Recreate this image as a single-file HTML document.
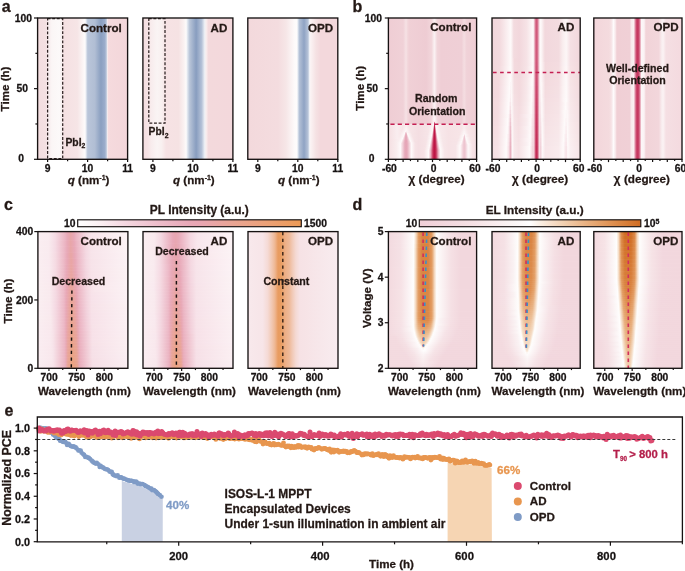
<!DOCTYPE html>
<html><head><meta charset="utf-8"><style>
html,body{margin:0;padding:0;background:#fff;overflow:hidden;}
svg{display:block;will-change:transform;}
text{font-family:"Liberation Sans", sans-serif;font-weight:bold;}
</style></head><body>
<svg width="685" height="571" viewBox="0 0 685 571" shape-rendering="auto">
<defs><linearGradient id="h1" x1="0" x2="1" y1="0" y2="0"><stop offset="0.000" stop-color="#f3dde0"/><stop offset="0.092" stop-color="#f4e0e2"/><stop offset="0.114" stop-color="#f6e9eb"/><stop offset="0.158" stop-color="#fbf6f6"/><stop offset="0.242" stop-color="#fcf9f9"/><stop offset="0.269" stop-color="#f8eff0"/><stop offset="0.286" stop-color="#f6e2e4"/><stop offset="0.292" stop-color="#f5e0e2"/><stop offset="0.442" stop-color="#f6e5e6"/><stop offset="0.525" stop-color="#fdfbfb"/><stop offset="0.531" stop-color="#f5f5f8"/><stop offset="0.536" stop-color="#e9edf3"/><stop offset="0.553" stop-color="#c0cbdd"/><stop offset="0.558" stop-color="#b9c5d9"/><stop offset="0.636" stop-color="#b1bed4"/><stop offset="0.703" stop-color="#8a9fc0"/><stop offset="0.747" stop-color="#9aaccb"/><stop offset="0.764" stop-color="#bac6da"/><stop offset="0.769" stop-color="#d6dae6"/><stop offset="0.775" stop-color="#f4edf0"/><stop offset="0.786" stop-color="#f5dbde"/><stop offset="0.792" stop-color="#f5dadd"/><stop offset="1.000" stop-color="#f3d6da"/></linearGradient><linearGradient id="h2" x1="0" x2="1" y1="0" y2="0"><stop offset="0.000" stop-color="#f4dde0"/><stop offset="0.053" stop-color="#f5e2e4"/><stop offset="0.092" stop-color="#f8eced"/><stop offset="0.158" stop-color="#faf4f4"/><stop offset="0.208" stop-color="#f9f0f0"/><stop offset="0.258" stop-color="#f6e2e4"/><stop offset="0.397" stop-color="#f5e2e3"/><stop offset="0.453" stop-color="#faf1f1"/><stop offset="0.481" stop-color="#fdfbfb"/><stop offset="0.492" stop-color="#e5eaf1"/><stop offset="0.519" stop-color="#b9c5d8"/><stop offset="0.592" stop-color="#889dbf"/><stop offset="0.653" stop-color="#b4c1d7"/><stop offset="0.686" stop-color="#edf0f5"/><stop offset="0.703" stop-color="#f9eeef"/><stop offset="0.725" stop-color="#f4dbde"/><stop offset="0.731" stop-color="#f3d9dc"/><stop offset="1.000" stop-color="#f3d8dc"/></linearGradient><linearGradient id="h3" x1="0" x2="1" y1="0" y2="0"><stop offset="0.000" stop-color="#f3d9dc"/><stop offset="0.336" stop-color="#f4dcdf"/><stop offset="0.425" stop-color="#f6e6e7"/><stop offset="0.519" stop-color="#fdfafa"/><stop offset="0.547" stop-color="#fefcfc"/><stop offset="0.558" stop-color="#d9e1ec"/><stop offset="0.575" stop-color="#b1bfd5"/><stop offset="0.625" stop-color="#8fa3c4"/><stop offset="0.669" stop-color="#b6c3d8"/><stop offset="0.686" stop-color="#f0f2f7"/><stop offset="0.697" stop-color="#fbf3f4"/><stop offset="0.758" stop-color="#f5e1e3"/><stop offset="0.808" stop-color="#f3d8dc"/><stop offset="1.000" stop-color="#f3d8dc"/></linearGradient><linearGradient id="h4" x1="0" x2="1" y1="0" y2="0"><stop offset="0.000" stop-color="#efcdd4"/><stop offset="0.167" stop-color="#f0d1d7"/><stop offset="0.201" stop-color="#f6e2e5"/><stop offset="0.213" stop-color="#f3d9dd"/><stop offset="0.235" stop-color="#f0d0d6"/><stop offset="0.428" stop-color="#eeccd3"/><stop offset="0.490" stop-color="#f2d6db"/><stop offset="0.519" stop-color="#faf0f1"/><stop offset="0.524" stop-color="#faf0f2"/><stop offset="0.553" stop-color="#f1d5da"/><stop offset="0.598" stop-color="#efced5"/><stop offset="0.830" stop-color="#efcfd6"/><stop offset="0.859" stop-color="#f4dde1"/><stop offset="0.887" stop-color="#f0d2d8"/><stop offset="1.000" stop-color="#efcdd4"/></linearGradient><linearGradient id="h5" x1="0" x2="1" y1="0" y2="0"><stop offset="0.000" stop-color="#efcdd4"/><stop offset="0.167" stop-color="#f0d1d7"/><stop offset="0.201" stop-color="#f6e2e5"/><stop offset="0.213" stop-color="#f3d9dd"/><stop offset="0.235" stop-color="#f0d0d6"/><stop offset="0.428" stop-color="#eeccd3"/><stop offset="0.490" stop-color="#f2d6db"/><stop offset="0.519" stop-color="#faf0f1"/><stop offset="0.524" stop-color="#faf0f2"/><stop offset="0.553" stop-color="#f1d5da"/><stop offset="0.598" stop-color="#efced5"/><stop offset="0.830" stop-color="#efcfd6"/><stop offset="0.859" stop-color="#f4dde1"/><stop offset="0.887" stop-color="#f0d2d8"/><stop offset="1.000" stop-color="#efcdd4"/></linearGradient><linearGradient id="h6" x1="0" x2="1" y1="0" y2="0"><stop offset="0.000" stop-color="#efcdd4"/><stop offset="0.167" stop-color="#f0d1d7"/><stop offset="0.201" stop-color="#f6e2e5"/><stop offset="0.213" stop-color="#f3d9dd"/><stop offset="0.235" stop-color="#f0d0d6"/><stop offset="0.428" stop-color="#eeccd3"/><stop offset="0.490" stop-color="#f2d6db"/><stop offset="0.519" stop-color="#faf0f1"/><stop offset="0.524" stop-color="#faf0f2"/><stop offset="0.553" stop-color="#f1d5da"/><stop offset="0.598" stop-color="#efced5"/><stop offset="0.830" stop-color="#efcfd6"/><stop offset="0.859" stop-color="#f4dde1"/><stop offset="0.887" stop-color="#f0d2d8"/><stop offset="1.000" stop-color="#efcdd4"/></linearGradient><linearGradient id="h7" x1="0" x2="1" y1="0" y2="0"><stop offset="0.000" stop-color="#efcdd4"/><stop offset="0.167" stop-color="#f0d1d7"/><stop offset="0.201" stop-color="#f6e2e5"/><stop offset="0.213" stop-color="#f3d9dd"/><stop offset="0.235" stop-color="#f0d0d6"/><stop offset="0.309" stop-color="#eeccd2"/><stop offset="0.434" stop-color="#efcdd3"/><stop offset="0.490" stop-color="#f2d7db"/><stop offset="0.513" stop-color="#faeeef"/><stop offset="0.524" stop-color="#fbf2f3"/><stop offset="0.547" stop-color="#f3dade"/><stop offset="0.558" stop-color="#f1d3d8"/><stop offset="0.598" stop-color="#efced5"/><stop offset="0.830" stop-color="#efcfd6"/><stop offset="0.859" stop-color="#f4dde1"/><stop offset="0.887" stop-color="#f0d2d8"/><stop offset="1.000" stop-color="#efcdd4"/></linearGradient><linearGradient id="h8" x1="0" x2="1" y1="0" y2="0"><stop offset="0.000" stop-color="#efcdd4"/><stop offset="0.167" stop-color="#f0d1d7"/><stop offset="0.201" stop-color="#f6e2e5"/><stop offset="0.213" stop-color="#f3d9dd"/><stop offset="0.235" stop-color="#f0d0d6"/><stop offset="0.309" stop-color="#eeccd2"/><stop offset="0.434" stop-color="#efcdd3"/><stop offset="0.485" stop-color="#f1d4d9"/><stop offset="0.513" stop-color="#faeff1"/><stop offset="0.524" stop-color="#fcf4f5"/><stop offset="0.558" stop-color="#f1d4d9"/><stop offset="0.598" stop-color="#efced5"/><stop offset="0.830" stop-color="#efcfd6"/><stop offset="0.859" stop-color="#f4dde1"/><stop offset="0.887" stop-color="#f0d2d8"/><stop offset="1.000" stop-color="#efcdd4"/></linearGradient><linearGradient id="h9" x1="0" x2="1" y1="0" y2="0"><stop offset="0.000" stop-color="#efcdd4"/><stop offset="0.167" stop-color="#f0d1d7"/><stop offset="0.201" stop-color="#f6e2e5"/><stop offset="0.213" stop-color="#f3d9dd"/><stop offset="0.235" stop-color="#f0d0d6"/><stop offset="0.309" stop-color="#eeccd2"/><stop offset="0.434" stop-color="#efcdd3"/><stop offset="0.485" stop-color="#f1d5da"/><stop offset="0.513" stop-color="#faf0f1"/><stop offset="0.524" stop-color="#fcf4f5"/><stop offset="0.558" stop-color="#f1d5da"/><stop offset="0.598" stop-color="#efced5"/><stop offset="0.830" stop-color="#efcfd6"/><stop offset="0.859" stop-color="#f4dde1"/><stop offset="0.887" stop-color="#f0d2d8"/><stop offset="1.000" stop-color="#efcdd4"/></linearGradient><linearGradient id="h10" x1="0" x2="1" y1="0" y2="0"><stop offset="0.000" stop-color="#efcdd4"/><stop offset="0.167" stop-color="#f0d1d7"/><stop offset="0.201" stop-color="#f6e2e5"/><stop offset="0.213" stop-color="#f3d9dd"/><stop offset="0.235" stop-color="#f0d0d6"/><stop offset="0.309" stop-color="#eeccd2"/><stop offset="0.434" stop-color="#efcdd3"/><stop offset="0.479" stop-color="#f1d3d8"/><stop offset="0.490" stop-color="#f3d9dd"/><stop offset="0.513" stop-color="#fbf1f2"/><stop offset="0.524" stop-color="#fcf5f6"/><stop offset="0.553" stop-color="#f3d9dd"/><stop offset="0.564" stop-color="#f0d2d8"/><stop offset="0.598" stop-color="#efced5"/><stop offset="0.830" stop-color="#efcfd6"/><stop offset="0.859" stop-color="#f4dde1"/><stop offset="0.887" stop-color="#f0d2d8"/><stop offset="1.000" stop-color="#efcdd4"/></linearGradient><linearGradient id="h11" x1="0" x2="1" y1="0" y2="0"><stop offset="0.000" stop-color="#efcdd4"/><stop offset="0.167" stop-color="#f0d1d7"/><stop offset="0.201" stop-color="#f6e2e5"/><stop offset="0.213" stop-color="#f3d9dd"/><stop offset="0.235" stop-color="#f0d0d6"/><stop offset="0.309" stop-color="#eeccd2"/><stop offset="0.434" stop-color="#efcdd3"/><stop offset="0.479" stop-color="#f1d3d9"/><stop offset="0.490" stop-color="#f3dade"/><stop offset="0.513" stop-color="#fbf2f3"/><stop offset="0.524" stop-color="#fcf6f7"/><stop offset="0.536" stop-color="#faeef0"/><stop offset="0.553" stop-color="#f3dade"/><stop offset="0.564" stop-color="#f1d3d9"/><stop offset="0.598" stop-color="#efced5"/><stop offset="0.830" stop-color="#efcfd6"/><stop offset="0.859" stop-color="#f4dde1"/><stop offset="0.887" stop-color="#f0d2d8"/><stop offset="1.000" stop-color="#efcdd4"/></linearGradient><linearGradient id="h12" x1="0" x2="1" y1="0" y2="0"><stop offset="0.000" stop-color="#efcdd4"/><stop offset="0.167" stop-color="#f0d1d7"/><stop offset="0.201" stop-color="#f6e2e5"/><stop offset="0.213" stop-color="#f3d9dd"/><stop offset="0.235" stop-color="#f0d0d6"/><stop offset="0.309" stop-color="#eeccd2"/><stop offset="0.434" stop-color="#efcdd3"/><stop offset="0.479" stop-color="#f1d4d9"/><stop offset="0.519" stop-color="#fcf4f5"/><stop offset="0.524" stop-color="#f7e4e9"/><stop offset="0.530" stop-color="#fbf1f3"/><stop offset="0.564" stop-color="#f1d4d9"/><stop offset="0.598" stop-color="#efced5"/><stop offset="0.830" stop-color="#efcfd6"/><stop offset="0.859" stop-color="#f4dde1"/><stop offset="0.887" stop-color="#f0d2d8"/><stop offset="1.000" stop-color="#efcdd4"/></linearGradient><linearGradient id="h13" x1="0" x2="1" y1="0" y2="0"><stop offset="0.000" stop-color="#efcdd4"/><stop offset="0.167" stop-color="#f0d1d7"/><stop offset="0.201" stop-color="#f6e2e5"/><stop offset="0.213" stop-color="#f3d9dd"/><stop offset="0.235" stop-color="#f0d0d6"/><stop offset="0.309" stop-color="#eeccd2"/><stop offset="0.434" stop-color="#efcdd3"/><stop offset="0.473" stop-color="#f0d2d7"/><stop offset="0.490" stop-color="#f4dde1"/><stop offset="0.519" stop-color="#fefafa"/><stop offset="0.524" stop-color="#d25b7c"/><stop offset="0.530" stop-color="#fbf3f4"/><stop offset="0.564" stop-color="#f1d5da"/><stop offset="0.598" stop-color="#efced5"/><stop offset="0.830" stop-color="#efcfd6"/><stop offset="0.859" stop-color="#f4dde1"/><stop offset="0.887" stop-color="#f0d2d8"/><stop offset="1.000" stop-color="#efcdd4"/></linearGradient><linearGradient id="h14" x1="0" x2="1" y1="0" y2="0"><stop offset="0.000" stop-color="#efcdd4"/><stop offset="0.167" stop-color="#f0d1d7"/><stop offset="0.201" stop-color="#f6e2e5"/><stop offset="0.213" stop-color="#f3d9dd"/><stop offset="0.235" stop-color="#f0d0d6"/><stop offset="0.309" stop-color="#eeccd2"/><stop offset="0.434" stop-color="#efcdd3"/><stop offset="0.473" stop-color="#f1d3d8"/><stop offset="0.513" stop-color="#fbf3f4"/><stop offset="0.519" stop-color="#e7adbd"/><stop offset="0.524" stop-color="#c6325a"/><stop offset="0.530" stop-color="#fcf5f6"/><stop offset="0.558" stop-color="#f3d9dd"/><stop offset="0.575" stop-color="#f0d1d7"/><stop offset="0.598" stop-color="#efced5"/><stop offset="0.830" stop-color="#efcfd6"/><stop offset="0.859" stop-color="#f4dde1"/><stop offset="0.887" stop-color="#f0d2d8"/><stop offset="1.000" stop-color="#efcdd4"/></linearGradient><linearGradient id="h15" x1="0" x2="1" y1="0" y2="0"><stop offset="0.000" stop-color="#f5dfe2"/><stop offset="0.099" stop-color="#f9edef"/><stop offset="0.167" stop-color="#f7e5e7"/><stop offset="0.201" stop-color="#faeff1"/><stop offset="0.230" stop-color="#f7e5e7"/><stop offset="0.343" stop-color="#f4dee2"/><stop offset="0.468" stop-color="#f7e5e8"/><stop offset="0.513" stop-color="#fdf8f9"/><stop offset="0.519" stop-color="#d76f8c"/><stop offset="0.524" stop-color="#c22551"/><stop offset="0.530" stop-color="#f9e9ed"/><stop offset="0.536" stop-color="#fcf6f6"/><stop offset="0.575" stop-color="#f8e9eb"/><stop offset="0.677" stop-color="#f6e2e5"/><stop offset="0.830" stop-color="#f7e5e7"/><stop offset="0.859" stop-color="#faeff1"/><stop offset="0.887" stop-color="#f7e5e8"/><stop offset="1.000" stop-color="#f4dde1"/></linearGradient><linearGradient id="h16" x1="0" x2="1" y1="0" y2="0"><stop offset="0.000" stop-color="#f5dfe2"/><stop offset="0.099" stop-color="#f9edef"/><stop offset="0.167" stop-color="#f7e5e7"/><stop offset="0.201" stop-color="#faeff1"/><stop offset="0.230" stop-color="#f7e5e7"/><stop offset="0.343" stop-color="#f4dee2"/><stop offset="0.468" stop-color="#f7e5e8"/><stop offset="0.507" stop-color="#fcf5f6"/><stop offset="0.513" stop-color="#faeff2"/><stop offset="0.519" stop-color="#ce4f72"/><stop offset="0.524" stop-color="#c0204d"/><stop offset="0.530" stop-color="#ecbfcb"/><stop offset="0.536" stop-color="#fdf7f8"/><stop offset="0.581" stop-color="#f8e8eb"/><stop offset="0.677" stop-color="#f6e2e5"/><stop offset="0.830" stop-color="#f7e5e7"/><stop offset="0.859" stop-color="#faeff1"/><stop offset="0.887" stop-color="#f7e5e8"/><stop offset="1.000" stop-color="#f4dde1"/></linearGradient><linearGradient id="h17" x1="0" x2="1" y1="0" y2="0"><stop offset="0.000" stop-color="#f5dfe2"/><stop offset="0.099" stop-color="#f9edef"/><stop offset="0.167" stop-color="#f7e5e7"/><stop offset="0.201" stop-color="#faf0f1"/><stop offset="0.230" stop-color="#f7e5e7"/><stop offset="0.343" stop-color="#f4dee2"/><stop offset="0.462" stop-color="#f7e5e7"/><stop offset="0.507" stop-color="#fdf7f8"/><stop offset="0.513" stop-color="#f1cfd8"/><stop offset="0.519" stop-color="#c83a60"/><stop offset="0.524" stop-color="#bf1c4a"/><stop offset="0.530" stop-color="#e298ac"/><stop offset="0.536" stop-color="#fefafa"/><stop offset="0.581" stop-color="#f8e8eb"/><stop offset="0.677" stop-color="#f6e2e5"/><stop offset="0.830" stop-color="#f7e5e7"/><stop offset="0.859" stop-color="#faeff1"/><stop offset="0.887" stop-color="#f7e5e8"/><stop offset="1.000" stop-color="#f4dde1"/></linearGradient><linearGradient id="h18" x1="0" x2="1" y1="0" y2="0"><stop offset="0.000" stop-color="#f5dfe2"/><stop offset="0.099" stop-color="#f9edef"/><stop offset="0.162" stop-color="#f7e5e7"/><stop offset="0.201" stop-color="#fbf2f3"/><stop offset="0.235" stop-color="#f7e5e7"/><stop offset="0.343" stop-color="#f4dee2"/><stop offset="0.462" stop-color="#f7e5e8"/><stop offset="0.507" stop-color="#fefafa"/><stop offset="0.513" stop-color="#e8afbe"/><stop offset="0.519" stop-color="#c63059"/><stop offset="0.524" stop-color="#bf1a49"/><stop offset="0.530" stop-color="#d97793"/><stop offset="0.536" stop-color="#f8e9ec"/><stop offset="0.541" stop-color="#fdf7f7"/><stop offset="0.581" stop-color="#f8e9eb"/><stop offset="0.677" stop-color="#f6e2e5"/><stop offset="0.830" stop-color="#f7e5e7"/><stop offset="0.859" stop-color="#faeff1"/><stop offset="0.887" stop-color="#f7e5e8"/><stop offset="1.000" stop-color="#f4dde1"/></linearGradient><linearGradient id="h19" x1="0" x2="1" y1="0" y2="0"><stop offset="0.000" stop-color="#f5dfe2"/><stop offset="0.099" stop-color="#f9edef"/><stop offset="0.162" stop-color="#f7e5e8"/><stop offset="0.201" stop-color="#fcf4f4"/><stop offset="0.241" stop-color="#f7e5e7"/><stop offset="0.343" stop-color="#f4dee2"/><stop offset="0.456" stop-color="#f7e5e7"/><stop offset="0.502" stop-color="#fdf7f7"/><stop offset="0.507" stop-color="#faedf0"/><stop offset="0.513" stop-color="#e092a8"/><stop offset="0.519" stop-color="#c42a55"/><stop offset="0.524" stop-color="#be1948"/><stop offset="0.530" stop-color="#d36181"/><stop offset="0.536" stop-color="#f1d0d9"/><stop offset="0.541" stop-color="#fdf9f9"/><stop offset="0.587" stop-color="#f8e8eb"/><stop offset="0.677" stop-color="#f6e2e5"/><stop offset="0.830" stop-color="#f7e5e7"/><stop offset="0.859" stop-color="#faeff1"/><stop offset="0.887" stop-color="#f7e5e8"/><stop offset="1.000" stop-color="#f4dde1"/></linearGradient><linearGradient id="h20" x1="0" x2="1" y1="0" y2="0"><stop offset="0.000" stop-color="#f5dfe2"/><stop offset="0.099" stop-color="#f9edef"/><stop offset="0.156" stop-color="#f7e5e8"/><stop offset="0.201" stop-color="#fcf5f6"/><stop offset="0.247" stop-color="#f7e5e7"/><stop offset="0.343" stop-color="#f4dee2"/><stop offset="0.456" stop-color="#f7e5e7"/><stop offset="0.502" stop-color="#fdf9f9"/><stop offset="0.507" stop-color="#f3d8df"/><stop offset="0.513" stop-color="#da7894"/><stop offset="0.519" stop-color="#c22652"/><stop offset="0.524" stop-color="#be1847"/><stop offset="0.530" stop-color="#cf5173"/><stop offset="0.536" stop-color="#eab7c5"/><stop offset="0.541" stop-color="#fdf7f8"/><stop offset="0.587" stop-color="#f8e9eb"/><stop offset="0.677" stop-color="#f6e2e5"/><stop offset="0.825" stop-color="#f7e5e7"/><stop offset="0.859" stop-color="#fbf1f2"/><stop offset="0.893" stop-color="#f7e5e7"/><stop offset="1.000" stop-color="#f4dde1"/></linearGradient><linearGradient id="h21" x1="0" x2="1" y1="0" y2="0"><stop offset="0.000" stop-color="#f5dfe2"/><stop offset="0.099" stop-color="#f9edef"/><stop offset="0.150" stop-color="#f7e6e8"/><stop offset="0.201" stop-color="#fdf7f8"/><stop offset="0.247" stop-color="#f7e5e8"/><stop offset="0.343" stop-color="#f4dee2"/><stop offset="0.456" stop-color="#f7e5e8"/><stop offset="0.502" stop-color="#fdf9f9"/><stop offset="0.507" stop-color="#edc2cd"/><stop offset="0.513" stop-color="#d56786"/><stop offset="0.519" stop-color="#c1234f"/><stop offset="0.524" stop-color="#be1847"/><stop offset="0.530" stop-color="#cb4469"/><stop offset="0.536" stop-color="#e4a0b3"/><stop offset="0.541" stop-color="#f8e7eb"/><stop offset="0.547" stop-color="#fdf8f8"/><stop offset="0.592" stop-color="#f8e8eb"/><stop offset="0.677" stop-color="#f6e2e5"/><stop offset="0.825" stop-color="#f7e5e8"/><stop offset="0.859" stop-color="#fbf2f3"/><stop offset="0.899" stop-color="#f7e5e7"/><stop offset="1.000" stop-color="#f4dde1"/></linearGradient><linearGradient id="h22" x1="0" x2="1" y1="0" y2="0"><stop offset="0.000" stop-color="#f5dfe2"/><stop offset="0.099" stop-color="#f9edef"/><stop offset="0.150" stop-color="#f7e7ea"/><stop offset="0.196" stop-color="#fdf8f9"/><stop offset="0.201" stop-color="#f4dce2"/><stop offset="0.207" stop-color="#fdf7f7"/><stop offset="0.252" stop-color="#f7e5e7"/><stop offset="0.343" stop-color="#f4dee2"/><stop offset="0.451" stop-color="#f6e4e7"/><stop offset="0.496" stop-color="#fdf8f8"/><stop offset="0.502" stop-color="#f9eaee"/><stop offset="0.507" stop-color="#e7adbd"/><stop offset="0.513" stop-color="#d1597b"/><stop offset="0.519" stop-color="#c1214e"/><stop offset="0.524" stop-color="#be1747"/><stop offset="0.530" stop-color="#c93a61"/><stop offset="0.536" stop-color="#df8ca3"/><stop offset="0.541" stop-color="#f3d6dd"/><stop offset="0.547" stop-color="#fefafa"/><stop offset="0.592" stop-color="#f8e8eb"/><stop offset="0.677" stop-color="#f6e2e5"/><stop offset="0.819" stop-color="#f7e5e7"/><stop offset="0.859" stop-color="#fcf4f5"/><stop offset="0.904" stop-color="#f7e5e7"/><stop offset="1.000" stop-color="#f4dde1"/></linearGradient><linearGradient id="h23" x1="0" x2="1" y1="0" y2="0"><stop offset="0.000" stop-color="#f5dfe2"/><stop offset="0.099" stop-color="#f9edef"/><stop offset="0.145" stop-color="#f8e8ea"/><stop offset="0.190" stop-color="#fdf9f9"/><stop offset="0.196" stop-color="#efc9d3"/><stop offset="0.201" stop-color="#e7abbb"/><stop offset="0.207" stop-color="#fdf6f7"/><stop offset="0.258" stop-color="#f6e4e7"/><stop offset="0.343" stop-color="#f4dee2"/><stop offset="0.451" stop-color="#f7e5e7"/><stop offset="0.496" stop-color="#fefafa"/><stop offset="0.502" stop-color="#f4dbe1"/><stop offset="0.507" stop-color="#e29aae"/><stop offset="0.513" stop-color="#ce4e71"/><stop offset="0.519" stop-color="#c01f4c"/><stop offset="0.524" stop-color="#be1746"/><stop offset="0.530" stop-color="#c7345c"/><stop offset="0.541" stop-color="#edc4ce"/><stop offset="0.547" stop-color="#fcf3f4"/><stop offset="0.553" stop-color="#fdf7f8"/><stop offset="0.598" stop-color="#f8e8ea"/><stop offset="0.683" stop-color="#f6e2e5"/><stop offset="0.813" stop-color="#f7e5e7"/><stop offset="0.859" stop-color="#fcf5f6"/><stop offset="0.904" stop-color="#f7e5e8"/><stop offset="1.000" stop-color="#f4dde1"/></linearGradient><linearGradient id="h24" x1="0" x2="1" y1="0" y2="0"><stop offset="0.000" stop-color="#f5dfe2"/><stop offset="0.099" stop-color="#f9edef"/><stop offset="0.139" stop-color="#f8e8eb"/><stop offset="0.184" stop-color="#fdf9f9"/><stop offset="0.190" stop-color="#f7e3e8"/><stop offset="0.196" stop-color="#e9b2c1"/><stop offset="0.201" stop-color="#e5a6b7"/><stop offset="0.213" stop-color="#fefbfb"/><stop offset="0.264" stop-color="#f6e4e6"/><stop offset="0.337" stop-color="#f4dee2"/><stop offset="0.445" stop-color="#f6e4e7"/><stop offset="0.490" stop-color="#fdf7f8"/><stop offset="0.496" stop-color="#fcf5f6"/><stop offset="0.502" stop-color="#efcad4"/><stop offset="0.507" stop-color="#de8aa2"/><stop offset="0.513" stop-color="#cc456a"/><stop offset="0.519" stop-color="#c01d4b"/><stop offset="0.524" stop-color="#be1746"/><stop offset="0.530" stop-color="#c63059"/><stop offset="0.536" stop-color="#d76d8b"/><stop offset="0.541" stop-color="#e9b2c1"/><stop offset="0.547" stop-color="#f8e6ea"/><stop offset="0.553" stop-color="#fdf9f9"/><stop offset="0.598" stop-color="#f8e8ea"/><stop offset="0.683" stop-color="#f6e2e5"/><stop offset="0.813" stop-color="#f7e5e8"/><stop offset="0.859" stop-color="#fdf7f8"/><stop offset="0.910" stop-color="#f7e5e7"/><stop offset="1.000" stop-color="#f4dde1"/></linearGradient><linearGradient id="h25" x1="0" x2="1" y1="0" y2="0"><stop offset="0.000" stop-color="#f5dfe2"/><stop offset="0.099" stop-color="#f9edef"/><stop offset="0.133" stop-color="#f8e9eb"/><stop offset="0.179" stop-color="#fdf8f9"/><stop offset="0.184" stop-color="#faedf0"/><stop offset="0.196" stop-color="#e7abbb"/><stop offset="0.201" stop-color="#e5a4b6"/><stop offset="0.207" stop-color="#ebbcc8"/><stop offset="0.213" stop-color="#f6e0e5"/><stop offset="0.218" stop-color="#fefafa"/><stop offset="0.269" stop-color="#f6e3e6"/><stop offset="0.343" stop-color="#f4dee2"/><stop offset="0.445" stop-color="#f6e4e7"/><stop offset="0.490" stop-color="#fdf9f9"/><stop offset="0.496" stop-color="#f8e8ec"/><stop offset="0.502" stop-color="#ebbac7"/><stop offset="0.513" stop-color="#c93d63"/><stop offset="0.519" stop-color="#bf1c4a"/><stop offset="0.524" stop-color="#bd1646"/><stop offset="0.530" stop-color="#c42d57"/><stop offset="0.536" stop-color="#d46282"/><stop offset="0.541" stop-color="#e5a3b5"/><stop offset="0.547" stop-color="#f3d8df"/><stop offset="0.553" stop-color="#fefafa"/><stop offset="0.604" stop-color="#f7e7ea"/><stop offset="0.683" stop-color="#f6e2e5"/><stop offset="0.808" stop-color="#f7e5e7"/><stop offset="0.853" stop-color="#fcf6f7"/><stop offset="0.859" stop-color="#f4d9e0"/><stop offset="0.865" stop-color="#fdf9fa"/><stop offset="0.916" stop-color="#f7e5e7"/><stop offset="1.000" stop-color="#f4dde1"/></linearGradient><linearGradient id="h26" x1="0" x2="1" y1="0" y2="0"><stop offset="0.000" stop-color="#f5dfe2"/><stop offset="0.099" stop-color="#f9edef"/><stop offset="0.133" stop-color="#f8eaec"/><stop offset="0.173" stop-color="#fdf8f8"/><stop offset="0.179" stop-color="#fcf3f5"/><stop offset="0.190" stop-color="#ebbcc9"/><stop offset="0.196" stop-color="#e6a8b9"/><stop offset="0.201" stop-color="#e5a4b6"/><stop offset="0.207" stop-color="#e9b3c1"/><stop offset="0.218" stop-color="#f8e8ec"/><stop offset="0.224" stop-color="#fefafa"/><stop offset="0.269" stop-color="#f6e4e7"/><stop offset="0.343" stop-color="#f4dee2"/><stop offset="0.445" stop-color="#f7e5e8"/><stop offset="0.490" stop-color="#fefbfb"/><stop offset="0.496" stop-color="#f4dbe2"/><stop offset="0.502" stop-color="#e7acbc"/><stop offset="0.513" stop-color="#c8375e"/><stop offset="0.519" stop-color="#bf1b4a"/><stop offset="0.524" stop-color="#bd1646"/><stop offset="0.530" stop-color="#c42a55"/><stop offset="0.536" stop-color="#d1587a"/><stop offset="0.541" stop-color="#e196ab"/><stop offset="0.547" stop-color="#efcad3"/><stop offset="0.553" stop-color="#faeff2"/><stop offset="0.558" stop-color="#fdf8f9"/><stop offset="0.604" stop-color="#f7e7ea"/><stop offset="0.683" stop-color="#f6e2e5"/><stop offset="0.802" stop-color="#f7e5e7"/><stop offset="0.853" stop-color="#fefafa"/><stop offset="0.859" stop-color="#efc9d3"/><stop offset="0.870" stop-color="#fdf8f8"/><stop offset="0.916" stop-color="#f7e5e8"/><stop offset="1.000" stop-color="#f4dde1"/></linearGradient><linearGradient id="h27" x1="0" x2="1" y1="0" y2="0"><stop offset="0.000" stop-color="#f5dfe2"/><stop offset="0.099" stop-color="#f9edef"/><stop offset="0.128" stop-color="#f9ebed"/><stop offset="0.173" stop-color="#fdf7f8"/><stop offset="0.190" stop-color="#e9b5c3"/><stop offset="0.196" stop-color="#e5a6b7"/><stop offset="0.201" stop-color="#e5a3b5"/><stop offset="0.207" stop-color="#e8aebe"/><stop offset="0.224" stop-color="#faeef1"/><stop offset="0.230" stop-color="#fdf9f9"/><stop offset="0.275" stop-color="#f6e3e6"/><stop offset="0.343" stop-color="#f4dee2"/><stop offset="0.439" stop-color="#f6e4e7"/><stop offset="0.485" stop-color="#fdf8f8"/><stop offset="0.490" stop-color="#fbf1f3"/><stop offset="0.496" stop-color="#f0ced7"/><stop offset="0.502" stop-color="#e4a0b2"/><stop offset="0.507" stop-color="#d56685"/><stop offset="0.513" stop-color="#c7335c"/><stop offset="0.519" stop-color="#bf1b49"/><stop offset="0.524" stop-color="#bd1646"/><stop offset="0.530" stop-color="#c32853"/><stop offset="0.536" stop-color="#cf5073"/><stop offset="0.547" stop-color="#ebbcc9"/><stop offset="0.553" stop-color="#f7e4e9"/><stop offset="0.558" stop-color="#fefafa"/><stop offset="0.604" stop-color="#f8e8ea"/><stop offset="0.683" stop-color="#f6e2e5"/><stop offset="0.796" stop-color="#f7e5e7"/><stop offset="0.848" stop-color="#fdf8f9"/><stop offset="0.853" stop-color="#f8e7eb"/><stop offset="0.859" stop-color="#eec6d0"/><stop offset="0.865" stop-color="#f1cfd8"/><stop offset="0.870" stop-color="#fcf6f7"/><stop offset="0.921" stop-color="#f7e5e7"/><stop offset="1.000" stop-color="#f4dde1"/></linearGradient><linearGradient id="h28" x1="0" x2="1" y1="0" y2="0"><stop offset="0.000" stop-color="#f5dfe2"/><stop offset="0.099" stop-color="#f9edef"/><stop offset="0.128" stop-color="#f9ecee"/><stop offset="0.167" stop-color="#fefafa"/><stop offset="0.190" stop-color="#e8b0bf"/><stop offset="0.196" stop-color="#e5a5b7"/><stop offset="0.201" stop-color="#e5a3b5"/><stop offset="0.207" stop-color="#e7abbb"/><stop offset="0.213" stop-color="#ebbac7"/><stop offset="0.230" stop-color="#fbf2f4"/><stop offset="0.235" stop-color="#fdf9f9"/><stop offset="0.281" stop-color="#f6e2e5"/><stop offset="0.343" stop-color="#f4dee2"/><stop offset="0.439" stop-color="#f6e4e7"/><stop offset="0.485" stop-color="#fefafa"/><stop offset="0.490" stop-color="#f8e6ea"/><stop offset="0.496" stop-color="#edc1cd"/><stop offset="0.502" stop-color="#e194a9"/><stop offset="0.507" stop-color="#d25d7e"/><stop offset="0.513" stop-color="#c63059"/><stop offset="0.519" stop-color="#bf1a49"/><stop offset="0.524" stop-color="#bd1646"/><stop offset="0.530" stop-color="#c22651"/><stop offset="0.536" stop-color="#cd496d"/><stop offset="0.547" stop-color="#e8b1c0"/><stop offset="0.553" stop-color="#f4d9df"/><stop offset="0.558" stop-color="#fcf6f7"/><stop offset="0.564" stop-color="#fdf8f8"/><stop offset="0.609" stop-color="#f7e7e9"/><stop offset="0.683" stop-color="#f6e2e5"/><stop offset="0.796" stop-color="#f7e5e7"/><stop offset="0.842" stop-color="#fdf7f8"/><stop offset="0.848" stop-color="#fcf6f7"/><stop offset="0.853" stop-color="#f4d9df"/><stop offset="0.859" stop-color="#edc4cf"/><stop offset="0.865" stop-color="#efcad4"/><stop offset="0.876" stop-color="#fefafa"/><stop offset="0.927" stop-color="#f7e5e7"/><stop offset="1.000" stop-color="#f4dde1"/></linearGradient><linearGradient id="h29" x1="0" x2="1" y1="0" y2="0"><stop offset="0.000" stop-color="#f5dfe2"/><stop offset="0.099" stop-color="#f9edef"/><stop offset="0.128" stop-color="#faeeef"/><stop offset="0.162" stop-color="#fefbfb"/><stop offset="0.190" stop-color="#e7adbd"/><stop offset="0.196" stop-color="#e5a4b6"/><stop offset="0.201" stop-color="#e5a3b5"/><stop offset="0.213" stop-color="#e9b5c3"/><stop offset="0.235" stop-color="#fcf6f7"/><stop offset="0.241" stop-color="#fdf8f9"/><stop offset="0.286" stop-color="#f6e2e5"/><stop offset="0.343" stop-color="#f4dee2"/><stop offset="0.434" stop-color="#f6e3e6"/><stop offset="0.485" stop-color="#fdf7f8"/><stop offset="0.490" stop-color="#f4dbe1"/><stop offset="0.496" stop-color="#eab7c5"/><stop offset="0.507" stop-color="#d05577"/><stop offset="0.513" stop-color="#c52e57"/><stop offset="0.519" stop-color="#be1948"/><stop offset="0.524" stop-color="#bd1646"/><stop offset="0.530" stop-color="#c22450"/><stop offset="0.536" stop-color="#cb4268"/><stop offset="0.547" stop-color="#e5a6b7"/><stop offset="0.553" stop-color="#f0cdd6"/><stop offset="0.558" stop-color="#faedef"/><stop offset="0.564" stop-color="#fdf9fa"/><stop offset="0.609" stop-color="#f7e7e9"/><stop offset="0.683" stop-color="#f6e2e5"/><stop offset="0.791" stop-color="#f6e4e7"/><stop offset="0.842" stop-color="#fefafa"/><stop offset="0.853" stop-color="#f2d2da"/><stop offset="0.859" stop-color="#edc4cf"/><stop offset="0.865" stop-color="#eec8d2"/><stop offset="0.876" stop-color="#fbf1f3"/><stop offset="0.882" stop-color="#fdf9f9"/><stop offset="0.927" stop-color="#f7e5e8"/><stop offset="1.000" stop-color="#f4dde1"/></linearGradient><linearGradient id="h30" x1="0" x2="1" y1="0" y2="0"><stop offset="0.000" stop-color="#f5dfe2"/><stop offset="0.122" stop-color="#faeef0"/><stop offset="0.156" stop-color="#fefafa"/><stop offset="0.190" stop-color="#e7abbb"/><stop offset="0.201" stop-color="#e5a3b5"/><stop offset="0.213" stop-color="#e8b1c0"/><stop offset="0.230" stop-color="#f4d9e0"/><stop offset="0.241" stop-color="#fdf9f9"/><stop offset="0.292" stop-color="#f5e1e5"/><stop offset="0.343" stop-color="#f4dee2"/><stop offset="0.434" stop-color="#f6e3e6"/><stop offset="0.479" stop-color="#fdf9f9"/><stop offset="0.485" stop-color="#faeef1"/><stop offset="0.490" stop-color="#f1d0d8"/><stop offset="0.496" stop-color="#e7adbd"/><stop offset="0.507" stop-color="#ce4f72"/><stop offset="0.513" stop-color="#c42b56"/><stop offset="0.519" stop-color="#be1948"/><stop offset="0.524" stop-color="#bd1646"/><stop offset="0.530" stop-color="#c1224f"/><stop offset="0.536" stop-color="#c93d63"/><stop offset="0.547" stop-color="#e39baf"/><stop offset="0.553" stop-color="#edc3ce"/><stop offset="0.558" stop-color="#f7e3e7"/><stop offset="0.564" stop-color="#fefafa"/><stop offset="0.615" stop-color="#f7e7e9"/><stop offset="0.683" stop-color="#f6e2e5"/><stop offset="0.785" stop-color="#f6e4e7"/><stop offset="0.836" stop-color="#fdf9f9"/><stop offset="0.842" stop-color="#fbf1f3"/><stop offset="0.853" stop-color="#f0ced7"/><stop offset="0.859" stop-color="#edc4cf"/><stop offset="0.865" stop-color="#eec6d1"/><stop offset="0.882" stop-color="#fdf9f9"/><stop offset="0.933" stop-color="#f6e4e7"/><stop offset="1.000" stop-color="#f4dde1"/></linearGradient><linearGradient id="h31" x1="0" x2="1" y1="0" y2="0"><stop offset="0.000" stop-color="#f5dfe2"/><stop offset="0.122" stop-color="#faf0f1"/><stop offset="0.150" stop-color="#fefafa"/><stop offset="0.156" stop-color="#fbf2f4"/><stop offset="0.162" stop-color="#f6e2e7"/><stop offset="0.184" stop-color="#e9b2c1"/><stop offset="0.196" stop-color="#e5a4b6"/><stop offset="0.201" stop-color="#e5a3b5"/><stop offset="0.207" stop-color="#e6a7b8"/><stop offset="0.218" stop-color="#eab9c6"/><stop offset="0.235" stop-color="#f5dde3"/><stop offset="0.247" stop-color="#fefbfb"/><stop offset="0.292" stop-color="#f6e2e5"/><stop offset="0.343" stop-color="#f4dee2"/><stop offset="0.428" stop-color="#f6e3e6"/><stop offset="0.479" stop-color="#fefbfb"/><stop offset="0.485" stop-color="#f7e4e9"/><stop offset="0.490" stop-color="#eec7d1"/><stop offset="0.496" stop-color="#e5a3b5"/><stop offset="0.507" stop-color="#cd486d"/><stop offset="0.513" stop-color="#c32954"/><stop offset="0.519" stop-color="#be1948"/><stop offset="0.524" stop-color="#bd1646"/><stop offset="0.530" stop-color="#c1214e"/><stop offset="0.536" stop-color="#c8385f"/><stop offset="0.547" stop-color="#e091a7"/><stop offset="0.553" stop-color="#ebbac7"/><stop offset="0.558" stop-color="#f4d8df"/><stop offset="0.564" stop-color="#fbf2f4"/><stop offset="0.570" stop-color="#fdf9f9"/><stop offset="0.615" stop-color="#f7e7e9"/><stop offset="0.683" stop-color="#f6e2e5"/><stop offset="0.785" stop-color="#f7e5e7"/><stop offset="0.836" stop-color="#fdf8f8"/><stop offset="0.853" stop-color="#efcbd5"/><stop offset="0.859" stop-color="#edc3ce"/><stop offset="0.865" stop-color="#eec6d0"/><stop offset="0.870" stop-color="#f1d0d9"/><stop offset="0.887" stop-color="#fefafa"/><stop offset="0.938" stop-color="#f6e4e6"/><stop offset="1.000" stop-color="#f4dde1"/></linearGradient><linearGradient id="h32" x1="0" x2="1" y1="0" y2="0"><stop offset="0.000" stop-color="#f5dfe2"/><stop offset="0.116" stop-color="#faf0f1"/><stop offset="0.145" stop-color="#fdf9fa"/><stop offset="0.150" stop-color="#fcf4f6"/><stop offset="0.156" stop-color="#f8e6ea"/><stop offset="0.184" stop-color="#e8b0bf"/><stop offset="0.196" stop-color="#e5a4b6"/><stop offset="0.201" stop-color="#e5a3b5"/><stop offset="0.207" stop-color="#e5a6b7"/><stop offset="0.218" stop-color="#e9b5c3"/><stop offset="0.241" stop-color="#f6e0e5"/><stop offset="0.252" stop-color="#fefafa"/><stop offset="0.298" stop-color="#f5e1e4"/><stop offset="0.337" stop-color="#f4dee2"/><stop offset="0.428" stop-color="#f6e3e6"/><stop offset="0.473" stop-color="#fdf8f9"/><stop offset="0.479" stop-color="#fcf4f5"/><stop offset="0.490" stop-color="#ecbeca"/><stop offset="0.496" stop-color="#e299ad"/><stop offset="0.507" stop-color="#cb4368"/><stop offset="0.513" stop-color="#c32753"/><stop offset="0.519" stop-color="#be1847"/><stop offset="0.524" stop-color="#bd1645"/><stop offset="0.530" stop-color="#c0204d"/><stop offset="0.536" stop-color="#c7355d"/><stop offset="0.553" stop-color="#e8b1c0"/><stop offset="0.564" stop-color="#f9eaed"/><stop offset="0.570" stop-color="#fefafa"/><stop offset="0.615" stop-color="#f7e7e9"/><stop offset="0.683" stop-color="#f6e2e5"/><stop offset="0.779" stop-color="#f6e4e7"/><stop offset="0.830" stop-color="#fefbfb"/><stop offset="0.853" stop-color="#efc9d3"/><stop offset="0.859" stop-color="#edc3ce"/><stop offset="0.865" stop-color="#eec5d0"/><stop offset="0.870" stop-color="#f0cdd6"/><stop offset="0.887" stop-color="#fcf3f5"/><stop offset="0.893" stop-color="#fdf9f9"/><stop offset="0.944" stop-color="#f6e3e6"/><stop offset="1.000" stop-color="#f4dde1"/></linearGradient><linearGradient id="h33" x1="0" x2="1" y1="0" y2="0"><stop offset="0.000" stop-color="#f5dfe2"/><stop offset="0.094" stop-color="#f9edee"/><stop offset="0.139" stop-color="#fdf9f9"/><stop offset="0.145" stop-color="#fdf6f7"/><stop offset="0.156" stop-color="#f5dee3"/><stop offset="0.184" stop-color="#e7aebd"/><stop offset="0.196" stop-color="#e5a3b5"/><stop offset="0.201" stop-color="#e5a3b5"/><stop offset="0.218" stop-color="#e9b3c1"/><stop offset="0.258" stop-color="#fefafa"/><stop offset="0.303" stop-color="#f5e1e4"/><stop offset="0.343" stop-color="#f4dee2"/><stop offset="0.428" stop-color="#f6e4e6"/><stop offset="0.473" stop-color="#fefafa"/><stop offset="0.479" stop-color="#f9ebee"/><stop offset="0.490" stop-color="#eab6c4"/><stop offset="0.507" stop-color="#ca3e64"/><stop offset="0.513" stop-color="#c22652"/><stop offset="0.519" stop-color="#be1847"/><stop offset="0.524" stop-color="#bd1645"/><stop offset="0.530" stop-color="#c01f4d"/><stop offset="0.536" stop-color="#c6325b"/><stop offset="0.541" stop-color="#d05577"/><stop offset="0.553" stop-color="#e6a8b9"/><stop offset="0.558" stop-color="#eec8d2"/><stop offset="0.570" stop-color="#fdf7f8"/><stop offset="0.575" stop-color="#fdf8f9"/><stop offset="0.621" stop-color="#f7e6e9"/><stop offset="0.683" stop-color="#f6e2e5"/><stop offset="0.774" stop-color="#f6e4e7"/><stop offset="0.825" stop-color="#fefafa"/><stop offset="0.830" stop-color="#fcf3f4"/><stop offset="0.853" stop-color="#efc8d2"/><stop offset="0.859" stop-color="#edc3ce"/><stop offset="0.870" stop-color="#f0cbd5"/><stop offset="0.893" stop-color="#fdf9f9"/><stop offset="0.944" stop-color="#f6e3e6"/><stop offset="1.000" stop-color="#f4dde1"/></linearGradient><linearGradient id="h34" x1="0" x2="1" y1="0" y2="0"><stop offset="0.000" stop-color="#f5dfe2"/><stop offset="0.094" stop-color="#f9edee"/><stop offset="0.139" stop-color="#fefafb"/><stop offset="0.150" stop-color="#f7e3e8"/><stop offset="0.184" stop-color="#e7adbd"/><stop offset="0.201" stop-color="#e5a3b5"/><stop offset="0.218" stop-color="#e8b1c0"/><stop offset="0.247" stop-color="#f6e0e5"/><stop offset="0.258" stop-color="#fefbfb"/><stop offset="0.303" stop-color="#f6e2e5"/><stop offset="0.337" stop-color="#f4dee2"/><stop offset="0.422" stop-color="#f6e3e6"/><stop offset="0.473" stop-color="#fdf9f9"/><stop offset="0.485" stop-color="#efcbd4"/><stop offset="0.490" stop-color="#e7adbd"/><stop offset="0.507" stop-color="#c83a60"/><stop offset="0.513" stop-color="#c22551"/><stop offset="0.519" stop-color="#be1847"/><stop offset="0.524" stop-color="#bd1645"/><stop offset="0.530" stop-color="#c01e4c"/><stop offset="0.536" stop-color="#c63059"/><stop offset="0.541" stop-color="#cf5073"/><stop offset="0.553" stop-color="#e49fb2"/><stop offset="0.558" stop-color="#ecc0cb"/><stop offset="0.570" stop-color="#faeff2"/><stop offset="0.575" stop-color="#fefafa"/><stop offset="0.621" stop-color="#f7e6e9"/><stop offset="0.683" stop-color="#f6e2e5"/><stop offset="0.774" stop-color="#f7e5e7"/><stop offset="0.819" stop-color="#fdf9f9"/><stop offset="0.825" stop-color="#fdf8f8"/><stop offset="0.848" stop-color="#f1cfd8"/><stop offset="0.859" stop-color="#edc3ce"/><stop offset="0.870" stop-color="#efcad4"/><stop offset="0.899" stop-color="#fefbfb"/><stop offset="0.950" stop-color="#f6e2e5"/><stop offset="1.000" stop-color="#f4dde1"/></linearGradient><linearGradient id="h35" x1="0" x2="1" y1="0" y2="0"><stop offset="0.000" stop-color="#f5dfe2"/><stop offset="0.094" stop-color="#f9edee"/><stop offset="0.139" stop-color="#fefafb"/><stop offset="0.150" stop-color="#f7e3e8"/><stop offset="0.184" stop-color="#e7adbd"/><stop offset="0.201" stop-color="#e5a3b5"/><stop offset="0.218" stop-color="#e8b1c0"/><stop offset="0.247" stop-color="#f6e0e5"/><stop offset="0.258" stop-color="#fefbfb"/><stop offset="0.303" stop-color="#f6e2e5"/><stop offset="0.337" stop-color="#f4dee2"/><stop offset="0.422" stop-color="#f6e3e6"/><stop offset="0.468" stop-color="#fdf9f9"/><stop offset="0.473" stop-color="#fbf1f3"/><stop offset="0.485" stop-color="#edc3ce"/><stop offset="0.490" stop-color="#e5a5b7"/><stop offset="0.507" stop-color="#c8375e"/><stop offset="0.513" stop-color="#c22350"/><stop offset="0.519" stop-color="#be1847"/><stop offset="0.524" stop-color="#bd1545"/><stop offset="0.530" stop-color="#c01e4b"/><stop offset="0.536" stop-color="#c52e58"/><stop offset="0.541" stop-color="#cd4b6e"/><stop offset="0.558" stop-color="#eab8c5"/><stop offset="0.564" stop-color="#f1d2da"/><stop offset="0.575" stop-color="#fefafb"/><stop offset="0.626" stop-color="#f7e6e8"/><stop offset="0.683" stop-color="#f6e2e5"/><stop offset="0.768" stop-color="#f6e4e7"/><stop offset="0.819" stop-color="#fefbfb"/><stop offset="0.825" stop-color="#faeff1"/><stop offset="0.848" stop-color="#f0cdd6"/><stop offset="0.859" stop-color="#edc3ce"/><stop offset="0.870" stop-color="#efc9d3"/><stop offset="0.904" stop-color="#fefafa"/><stop offset="0.955" stop-color="#f6e2e5"/><stop offset="1.000" stop-color="#f4dde1"/></linearGradient><linearGradient id="h36" x1="0" x2="1" y1="0" y2="0"><stop offset="0.000" stop-color="#f5dfe2"/><stop offset="0.094" stop-color="#f9edee"/><stop offset="0.139" stop-color="#fefafb"/><stop offset="0.150" stop-color="#f7e3e8"/><stop offset="0.184" stop-color="#e7adbd"/><stop offset="0.201" stop-color="#e5a3b5"/><stop offset="0.218" stop-color="#e8b1c0"/><stop offset="0.247" stop-color="#f6e0e5"/><stop offset="0.258" stop-color="#fefbfb"/><stop offset="0.303" stop-color="#f6e2e5"/><stop offset="0.343" stop-color="#f4dee2"/><stop offset="0.417" stop-color="#f6e2e5"/><stop offset="0.468" stop-color="#fefbfb"/><stop offset="0.473" stop-color="#f8e9ec"/><stop offset="0.485" stop-color="#ebbcc8"/><stop offset="0.507" stop-color="#c7345c"/><stop offset="0.513" stop-color="#c1224f"/><stop offset="0.519" stop-color="#be1747"/><stop offset="0.524" stop-color="#bd1545"/><stop offset="0.530" stop-color="#bf1d4b"/><stop offset="0.536" stop-color="#c42c56"/><stop offset="0.541" stop-color="#cc466b"/><stop offset="0.558" stop-color="#e8b0bf"/><stop offset="0.564" stop-color="#efcbd4"/><stop offset="0.575" stop-color="#fcf4f5"/><stop offset="0.581" stop-color="#fdf9f9"/><stop offset="0.626" stop-color="#f7e6e8"/><stop offset="0.683" stop-color="#f6e2e5"/><stop offset="0.762" stop-color="#f6e4e7"/><stop offset="0.813" stop-color="#fefafa"/><stop offset="0.848" stop-color="#f0ccd5"/><stop offset="0.859" stop-color="#edc3ce"/><stop offset="0.870" stop-color="#eec8d2"/><stop offset="0.904" stop-color="#fdf8f9"/><stop offset="0.955" stop-color="#f6e2e5"/><stop offset="1.000" stop-color="#f4dde1"/></linearGradient><linearGradient id="h37" x1="0" x2="1" y1="0" y2="0"><stop offset="0.000" stop-color="#f5dfe2"/><stop offset="0.094" stop-color="#f9edee"/><stop offset="0.139" stop-color="#fefafb"/><stop offset="0.150" stop-color="#f7e3e8"/><stop offset="0.184" stop-color="#e7adbd"/><stop offset="0.201" stop-color="#e5a3b5"/><stop offset="0.218" stop-color="#e8b1c0"/><stop offset="0.247" stop-color="#f6e0e5"/><stop offset="0.258" stop-color="#fefbfb"/><stop offset="0.303" stop-color="#f6e2e5"/><stop offset="0.337" stop-color="#f4dee2"/><stop offset="0.417" stop-color="#f6e2e5"/><stop offset="0.462" stop-color="#fdf8f9"/><stop offset="0.468" stop-color="#fcf5f6"/><stop offset="0.479" stop-color="#f0cdd6"/><stop offset="0.485" stop-color="#e9b5c3"/><stop offset="0.502" stop-color="#ce4f72"/><stop offset="0.507" stop-color="#c6325b"/><stop offset="0.513" stop-color="#c1214e"/><stop offset="0.519" stop-color="#be1747"/><stop offset="0.524" stop-color="#bd1545"/><stop offset="0.530" stop-color="#bf1c4a"/><stop offset="0.536" stop-color="#c42b55"/><stop offset="0.541" stop-color="#cb4267"/><stop offset="0.558" stop-color="#e6a9ba"/><stop offset="0.564" stop-color="#edc4cf"/><stop offset="0.575" stop-color="#faedef"/><stop offset="0.581" stop-color="#fefafb"/><stop offset="0.626" stop-color="#f7e6e9"/><stop offset="0.683" stop-color="#f6e2e5"/><stop offset="0.762" stop-color="#f6e4e7"/><stop offset="0.813" stop-color="#fefafa"/><stop offset="0.848" stop-color="#f0ccd5"/><stop offset="0.859" stop-color="#edc3ce"/><stop offset="0.870" stop-color="#eec8d2"/><stop offset="0.904" stop-color="#fdf8f9"/><stop offset="0.955" stop-color="#f6e2e5"/><stop offset="1.000" stop-color="#f4dde1"/></linearGradient><linearGradient id="h38" x1="0" x2="1" y1="0" y2="0"><stop offset="0.000" stop-color="#f5dfe2"/><stop offset="0.094" stop-color="#f9edee"/><stop offset="0.139" stop-color="#fefafb"/><stop offset="0.150" stop-color="#f7e3e8"/><stop offset="0.184" stop-color="#e7adbd"/><stop offset="0.201" stop-color="#e5a3b5"/><stop offset="0.218" stop-color="#e8b1c0"/><stop offset="0.247" stop-color="#f6e0e5"/><stop offset="0.258" stop-color="#fefbfb"/><stop offset="0.303" stop-color="#f6e2e5"/><stop offset="0.343" stop-color="#f4dee2"/><stop offset="0.417" stop-color="#f6e3e6"/><stop offset="0.462" stop-color="#fefafa"/><stop offset="0.468" stop-color="#faeef0"/><stop offset="0.479" stop-color="#eec7d1"/><stop offset="0.485" stop-color="#e7adbd"/><stop offset="0.502" stop-color="#cd4a6e"/><stop offset="0.507" stop-color="#c63059"/><stop offset="0.513" stop-color="#c1204e"/><stop offset="0.519" stop-color="#be1746"/><stop offset="0.524" stop-color="#bd1545"/><stop offset="0.530" stop-color="#bf1c4a"/><stop offset="0.536" stop-color="#c32954"/><stop offset="0.541" stop-color="#ca3e64"/><stop offset="0.558" stop-color="#e4a1b4"/><stop offset="0.564" stop-color="#ecbdca"/><stop offset="0.581" stop-color="#fdf7f8"/><stop offset="0.587" stop-color="#fdf9f9"/><stop offset="0.632" stop-color="#f7e5e8"/><stop offset="0.683" stop-color="#f6e2e5"/><stop offset="0.762" stop-color="#f6e4e7"/><stop offset="0.813" stop-color="#fefafa"/><stop offset="0.848" stop-color="#f0ccd5"/><stop offset="0.859" stop-color="#edc3ce"/><stop offset="0.870" stop-color="#eec8d2"/><stop offset="0.904" stop-color="#fdf8f9"/><stop offset="0.955" stop-color="#f6e2e5"/><stop offset="1.000" stop-color="#f4dde1"/></linearGradient><linearGradient id="h39" x1="0" x2="1" y1="0" y2="0"><stop offset="0.000" stop-color="#f5dfe2"/><stop offset="0.094" stop-color="#f9edee"/><stop offset="0.139" stop-color="#fefafb"/><stop offset="0.150" stop-color="#f7e3e8"/><stop offset="0.184" stop-color="#e7adbd"/><stop offset="0.201" stop-color="#e5a3b5"/><stop offset="0.218" stop-color="#e8b1c0"/><stop offset="0.247" stop-color="#f6e0e5"/><stop offset="0.258" stop-color="#fefbfb"/><stop offset="0.303" stop-color="#f6e2e5"/><stop offset="0.337" stop-color="#f4dee2"/><stop offset="0.411" stop-color="#f6e2e5"/><stop offset="0.462" stop-color="#fdf9f9"/><stop offset="0.479" stop-color="#ecc0cc"/><stop offset="0.485" stop-color="#e6a6b8"/><stop offset="0.502" stop-color="#cc466b"/><stop offset="0.507" stop-color="#c52e58"/><stop offset="0.519" stop-color="#be1746"/><stop offset="0.524" stop-color="#bd1545"/><stop offset="0.530" stop-color="#bf1b4a"/><stop offset="0.541" stop-color="#c93a61"/><stop offset="0.564" stop-color="#eab7c4"/><stop offset="0.570" stop-color="#f0cdd6"/><stop offset="0.581" stop-color="#fbf1f3"/><stop offset="0.587" stop-color="#fefafa"/><stop offset="0.632" stop-color="#f7e6e8"/><stop offset="0.683" stop-color="#f6e2e5"/><stop offset="0.762" stop-color="#f6e4e7"/><stop offset="0.813" stop-color="#fefafa"/><stop offset="0.848" stop-color="#f0ccd5"/><stop offset="0.859" stop-color="#edc3ce"/><stop offset="0.870" stop-color="#eec8d2"/><stop offset="0.904" stop-color="#fdf8f9"/><stop offset="0.955" stop-color="#f6e2e5"/><stop offset="1.000" stop-color="#f4dde1"/></linearGradient><linearGradient id="h40" x1="0" x2="1" y1="0" y2="0"><stop offset="0.000" stop-color="#f5dfe2"/><stop offset="0.094" stop-color="#f9edee"/><stop offset="0.139" stop-color="#fefafb"/><stop offset="0.150" stop-color="#f7e3e8"/><stop offset="0.184" stop-color="#e7adbd"/><stop offset="0.201" stop-color="#e5a3b5"/><stop offset="0.218" stop-color="#e8b1c0"/><stop offset="0.247" stop-color="#f6e0e5"/><stop offset="0.258" stop-color="#fefbfb"/><stop offset="0.303" stop-color="#f6e2e5"/><stop offset="0.337" stop-color="#f4dee2"/><stop offset="0.411" stop-color="#f6e2e5"/><stop offset="0.456" stop-color="#fdf9f9"/><stop offset="0.462" stop-color="#fbf2f4"/><stop offset="0.479" stop-color="#ebbac7"/><stop offset="0.485" stop-color="#e49fb2"/><stop offset="0.502" stop-color="#cb4267"/><stop offset="0.507" stop-color="#c52d57"/><stop offset="0.519" stop-color="#be1746"/><stop offset="0.524" stop-color="#bd1545"/><stop offset="0.530" stop-color="#bf1b49"/><stop offset="0.541" stop-color="#c8375e"/><stop offset="0.564" stop-color="#e8b0bf"/><stop offset="0.570" stop-color="#eec7d2"/><stop offset="0.587" stop-color="#fefafa"/><stop offset="0.638" stop-color="#f7e5e8"/><stop offset="0.683" stop-color="#f6e2e5"/><stop offset="0.762" stop-color="#f6e4e7"/><stop offset="0.813" stop-color="#fefafa"/><stop offset="0.848" stop-color="#f0ccd5"/><stop offset="0.859" stop-color="#edc3ce"/><stop offset="0.870" stop-color="#eec8d2"/><stop offset="0.904" stop-color="#fdf8f9"/><stop offset="0.955" stop-color="#f6e2e5"/><stop offset="1.000" stop-color="#f4dde1"/></linearGradient><linearGradient id="h41" x1="0" x2="1" y1="0" y2="0"><stop offset="0.000" stop-color="#f5dfe2"/><stop offset="0.094" stop-color="#f9edee"/><stop offset="0.139" stop-color="#fefafb"/><stop offset="0.150" stop-color="#f7e3e8"/><stop offset="0.184" stop-color="#e7adbd"/><stop offset="0.201" stop-color="#e5a3b5"/><stop offset="0.218" stop-color="#e8b1c0"/><stop offset="0.247" stop-color="#f6e0e5"/><stop offset="0.258" stop-color="#fefbfb"/><stop offset="0.303" stop-color="#f6e2e5"/><stop offset="0.343" stop-color="#f4dee2"/><stop offset="0.405" stop-color="#f6e2e5"/><stop offset="0.456" stop-color="#fefbfb"/><stop offset="0.473" stop-color="#efcad3"/><stop offset="0.479" stop-color="#e9b4c2"/><stop offset="0.502" stop-color="#ca3f64"/><stop offset="0.507" stop-color="#c42b56"/><stop offset="0.519" stop-color="#be1746"/><stop offset="0.524" stop-color="#bd1545"/><stop offset="0.530" stop-color="#bf1b49"/><stop offset="0.541" stop-color="#c7355d"/><stop offset="0.564" stop-color="#e6aaba"/><stop offset="0.570" stop-color="#edc1cd"/><stop offset="0.587" stop-color="#fcf4f6"/><stop offset="0.592" stop-color="#fdf9f9"/><stop offset="0.638" stop-color="#f7e5e8"/><stop offset="0.683" stop-color="#f6e2e5"/><stop offset="0.762" stop-color="#f6e4e7"/><stop offset="0.813" stop-color="#fefafa"/><stop offset="0.848" stop-color="#f0ccd5"/><stop offset="0.859" stop-color="#edc3ce"/><stop offset="0.870" stop-color="#eec8d2"/><stop offset="0.904" stop-color="#fdf8f9"/><stop offset="0.955" stop-color="#f6e2e5"/><stop offset="1.000" stop-color="#f4dde1"/></linearGradient><linearGradient id="h42" x1="0" x2="1" y1="0" y2="0"><stop offset="0.000" stop-color="#f2d6db"/><stop offset="0.088" stop-color="#f3dade"/><stop offset="0.213" stop-color="#fefafa"/><stop offset="0.247" stop-color="#f3dbdf"/><stop offset="0.309" stop-color="#f2d7dc"/><stop offset="0.394" stop-color="#f6e3e6"/><stop offset="0.468" stop-color="#fefbfb"/><stop offset="0.479" stop-color="#eec6d0"/><stop offset="0.490" stop-color="#dd859e"/><stop offset="0.496" stop-color="#d66a88"/><stop offset="0.502" stop-color="#d25c7d"/><stop offset="0.507" stop-color="#d05778"/><stop offset="0.519" stop-color="#d97793"/><stop offset="0.530" stop-color="#ebbbc8"/><stop offset="0.541" stop-color="#faeef1"/><stop offset="0.547" stop-color="#fefafa"/><stop offset="0.564" stop-color="#fbf3f4"/><stop offset="0.592" stop-color="#f4dde0"/><stop offset="0.604" stop-color="#f2d8dd"/><stop offset="0.757" stop-color="#f3dbdf"/><stop offset="0.802" stop-color="#f9edee"/><stop offset="0.842" stop-color="#fcf6f6"/><stop offset="0.887" stop-color="#f5e0e4"/><stop offset="1.000" stop-color="#f2d7dc"/></linearGradient><linearGradient id="h43" x1="0" x2="1" y1="0" y2="0"><stop offset="0.000" stop-color="#f2d6db"/><stop offset="0.088" stop-color="#f3dade"/><stop offset="0.213" stop-color="#fefafa"/><stop offset="0.252" stop-color="#f3d9dd"/><stop offset="0.309" stop-color="#f2d7dc"/><stop offset="0.394" stop-color="#f6e3e6"/><stop offset="0.468" stop-color="#fefbfb"/><stop offset="0.479" stop-color="#eec6d0"/><stop offset="0.490" stop-color="#dd849d"/><stop offset="0.496" stop-color="#d66988"/><stop offset="0.502" stop-color="#d25c7d"/><stop offset="0.507" stop-color="#d05678"/><stop offset="0.519" stop-color="#d97793"/><stop offset="0.530" stop-color="#ebbbc7"/><stop offset="0.541" stop-color="#faeef1"/><stop offset="0.547" stop-color="#fefafa"/><stop offset="0.564" stop-color="#fcf4f4"/><stop offset="0.592" stop-color="#f4dde1"/><stop offset="0.604" stop-color="#f2d8dd"/><stop offset="0.757" stop-color="#f3dbdf"/><stop offset="0.802" stop-color="#f9edee"/><stop offset="0.842" stop-color="#fcf6f6"/><stop offset="0.887" stop-color="#f5e0e4"/><stop offset="1.000" stop-color="#f2d7dc"/></linearGradient><linearGradient id="h44" x1="0" x2="1" y1="0" y2="0"><stop offset="0.000" stop-color="#f2d6db"/><stop offset="0.088" stop-color="#f3dade"/><stop offset="0.213" stop-color="#fefafa"/><stop offset="0.252" stop-color="#f3dade"/><stop offset="0.309" stop-color="#f2d8dc"/><stop offset="0.394" stop-color="#f6e3e6"/><stop offset="0.468" stop-color="#fef9fa"/><stop offset="0.479" stop-color="#eec5d0"/><stop offset="0.490" stop-color="#dc839c"/><stop offset="0.496" stop-color="#d56886"/><stop offset="0.502" stop-color="#d15a7b"/><stop offset="0.507" stop-color="#d05477"/><stop offset="0.519" stop-color="#d97591"/><stop offset="0.530" stop-color="#ebbac7"/><stop offset="0.541" stop-color="#faeef1"/><stop offset="0.547" stop-color="#fefbfb"/><stop offset="0.564" stop-color="#fcf4f5"/><stop offset="0.604" stop-color="#f3d9dd"/><stop offset="0.757" stop-color="#f4dce0"/><stop offset="0.802" stop-color="#f9edef"/><stop offset="0.842" stop-color="#fcf6f7"/><stop offset="0.887" stop-color="#f5e1e4"/><stop offset="1.000" stop-color="#f2d8dc"/></linearGradient><linearGradient id="h45" x1="0" x2="1" y1="0" y2="0"><stop offset="0.000" stop-color="#f2d6db"/><stop offset="0.082" stop-color="#f3dade"/><stop offset="0.213" stop-color="#fefbfb"/><stop offset="0.252" stop-color="#f3dade"/><stop offset="0.309" stop-color="#f2d8dc"/><stop offset="0.394" stop-color="#f6e4e7"/><stop offset="0.462" stop-color="#fefafa"/><stop offset="0.468" stop-color="#fdf7f8"/><stop offset="0.473" stop-color="#f6e1e6"/><stop offset="0.485" stop-color="#e5a5b7"/><stop offset="0.490" stop-color="#dc819b"/><stop offset="0.496" stop-color="#d56685"/><stop offset="0.502" stop-color="#d15879"/><stop offset="0.507" stop-color="#cf5275"/><stop offset="0.519" stop-color="#d87390"/><stop offset="0.530" stop-color="#eab9c6"/><stop offset="0.541" stop-color="#faeef0"/><stop offset="0.547" stop-color="#fefafa"/><stop offset="0.564" stop-color="#fcf5f5"/><stop offset="0.604" stop-color="#f3d9dd"/><stop offset="0.757" stop-color="#f4dde0"/><stop offset="0.802" stop-color="#faeeef"/><stop offset="0.842" stop-color="#fdf7f7"/><stop offset="0.887" stop-color="#f6e2e5"/><stop offset="1.000" stop-color="#f2d8dc"/></linearGradient><linearGradient id="h46" x1="0" x2="1" y1="0" y2="0"><stop offset="0.000" stop-color="#f2d7db"/><stop offset="0.082" stop-color="#f3dade"/><stop offset="0.213" stop-color="#fefbfb"/><stop offset="0.252" stop-color="#f3dade"/><stop offset="0.309" stop-color="#f2d8dd"/><stop offset="0.394" stop-color="#f7e5e7"/><stop offset="0.462" stop-color="#fefbfb"/><stop offset="0.468" stop-color="#fcf5f6"/><stop offset="0.473" stop-color="#f6e1e6"/><stop offset="0.485" stop-color="#e5a4b6"/><stop offset="0.490" stop-color="#dc809a"/><stop offset="0.496" stop-color="#d46483"/><stop offset="0.502" stop-color="#d05577"/><stop offset="0.507" stop-color="#cf5073"/><stop offset="0.519" stop-color="#d8718e"/><stop offset="0.530" stop-color="#eab9c6"/><stop offset="0.541" stop-color="#faeef0"/><stop offset="0.547" stop-color="#fdf8f9"/><stop offset="0.553" stop-color="#fefafa"/><stop offset="0.604" stop-color="#f3d9dd"/><stop offset="0.757" stop-color="#f4dde1"/><stop offset="0.802" stop-color="#faeef0"/><stop offset="0.842" stop-color="#fdf7f8"/><stop offset="0.887" stop-color="#f6e2e5"/><stop offset="1.000" stop-color="#f2d8dd"/></linearGradient><linearGradient id="h47" x1="0" x2="1" y1="0" y2="0"><stop offset="0.000" stop-color="#f2d7dc"/><stop offset="0.082" stop-color="#f3dade"/><stop offset="0.207" stop-color="#fefafa"/><stop offset="0.218" stop-color="#fdf7f8"/><stop offset="0.252" stop-color="#f3dbdf"/><stop offset="0.309" stop-color="#f2d8dd"/><stop offset="0.394" stop-color="#f7e5e8"/><stop offset="0.462" stop-color="#fef9fa"/><stop offset="0.468" stop-color="#fcf3f4"/><stop offset="0.473" stop-color="#f6e1e6"/><stop offset="0.485" stop-color="#e5a3b5"/><stop offset="0.490" stop-color="#db7e98"/><stop offset="0.496" stop-color="#d46282"/><stop offset="0.502" stop-color="#cf5375"/><stop offset="0.507" stop-color="#ce4d71"/><stop offset="0.519" stop-color="#d7708d"/><stop offset="0.530" stop-color="#eab8c5"/><stop offset="0.541" stop-color="#faeef0"/><stop offset="0.553" stop-color="#fefafa"/><stop offset="0.604" stop-color="#f3d9de"/><stop offset="0.757" stop-color="#f4dee2"/><stop offset="0.802" stop-color="#faeff0"/><stop offset="0.842" stop-color="#fdf8f8"/><stop offset="0.887" stop-color="#f6e3e6"/><stop offset="1.000" stop-color="#f2d8dd"/></linearGradient><linearGradient id="h48" x1="0" x2="1" y1="0" y2="0"><stop offset="0.000" stop-color="#f2d7dc"/><stop offset="0.077" stop-color="#f3dade"/><stop offset="0.207" stop-color="#fefbfb"/><stop offset="0.218" stop-color="#fdf8f8"/><stop offset="0.252" stop-color="#f4dce0"/><stop offset="0.309" stop-color="#f3d9dd"/><stop offset="0.394" stop-color="#f7e6e9"/><stop offset="0.456" stop-color="#fefafa"/><stop offset="0.468" stop-color="#fbf1f3"/><stop offset="0.473" stop-color="#f6e1e6"/><stop offset="0.485" stop-color="#e4a2b4"/><stop offset="0.490" stop-color="#db7c97"/><stop offset="0.496" stop-color="#d36080"/><stop offset="0.502" stop-color="#cf5173"/><stop offset="0.507" stop-color="#cd4b6f"/><stop offset="0.519" stop-color="#d76e8c"/><stop offset="0.530" stop-color="#eab7c5"/><stop offset="0.541" stop-color="#faedf0"/><stop offset="0.553" stop-color="#fefbfb"/><stop offset="0.604" stop-color="#f3dade"/><stop offset="0.757" stop-color="#f5dfe2"/><stop offset="0.802" stop-color="#faf0f1"/><stop offset="0.842" stop-color="#fdf8f9"/><stop offset="0.887" stop-color="#f6e4e6"/><stop offset="1.000" stop-color="#f3d9dd"/></linearGradient><linearGradient id="h49" x1="0" x2="1" y1="0" y2="0"><stop offset="0.000" stop-color="#f2d8dc"/><stop offset="0.077" stop-color="#f3dade"/><stop offset="0.201" stop-color="#fefafa"/><stop offset="0.213" stop-color="#fcf4f6"/><stop offset="0.218" stop-color="#fdf8f9"/><stop offset="0.252" stop-color="#f4dde0"/><stop offset="0.309" stop-color="#f3d9dd"/><stop offset="0.394" stop-color="#f7e7e9"/><stop offset="0.456" stop-color="#fefbfb"/><stop offset="0.468" stop-color="#faeff1"/><stop offset="0.473" stop-color="#f6e0e6"/><stop offset="0.485" stop-color="#e4a1b4"/><stop offset="0.490" stop-color="#da7b96"/><stop offset="0.496" stop-color="#d35e7f"/><stop offset="0.502" stop-color="#ce4e72"/><stop offset="0.507" stop-color="#cd496d"/><stop offset="0.519" stop-color="#d76d8b"/><stop offset="0.530" stop-color="#eab7c4"/><stop offset="0.541" stop-color="#faedf0"/><stop offset="0.553" stop-color="#fdf9fa"/><stop offset="0.564" stop-color="#fdf7f7"/><stop offset="0.604" stop-color="#f3dade"/><stop offset="0.757" stop-color="#f5dfe3"/><stop offset="0.802" stop-color="#faf0f1"/><stop offset="0.842" stop-color="#fdf9f9"/><stop offset="0.887" stop-color="#f6e4e7"/><stop offset="1.000" stop-color="#f3d9dd"/></linearGradient><linearGradient id="h50" x1="0" x2="1" y1="0" y2="0"><stop offset="0.000" stop-color="#f2d8dc"/><stop offset="0.071" stop-color="#f3d9de"/><stop offset="0.201" stop-color="#fefbfb"/><stop offset="0.213" stop-color="#fbf2f4"/><stop offset="0.218" stop-color="#fdf9f9"/><stop offset="0.252" stop-color="#f4dde1"/><stop offset="0.309" stop-color="#f3d9dd"/><stop offset="0.394" stop-color="#f7e7ea"/><stop offset="0.456" stop-color="#fdf9fa"/><stop offset="0.468" stop-color="#faecef"/><stop offset="0.473" stop-color="#f6e0e5"/><stop offset="0.485" stop-color="#e4a0b3"/><stop offset="0.490" stop-color="#da7995"/><stop offset="0.496" stop-color="#d25c7d"/><stop offset="0.502" stop-color="#ce4c70"/><stop offset="0.507" stop-color="#cc466b"/><stop offset="0.513" stop-color="#d05677"/><stop offset="0.519" stop-color="#d66b89"/><stop offset="0.530" stop-color="#eab6c4"/><stop offset="0.541" stop-color="#faedf0"/><stop offset="0.558" stop-color="#fefafa"/><stop offset="0.604" stop-color="#f3dbdf"/><stop offset="0.757" stop-color="#f5e0e3"/><stop offset="0.802" stop-color="#fbf1f2"/><stop offset="0.842" stop-color="#fdf9f9"/><stop offset="0.887" stop-color="#f7e5e8"/><stop offset="1.000" stop-color="#f3d9de"/></linearGradient><linearGradient id="h51" x1="0" x2="1" y1="0" y2="0"><stop offset="0.000" stop-color="#f2d8dd"/><stop offset="0.071" stop-color="#f3dade"/><stop offset="0.196" stop-color="#fefafa"/><stop offset="0.201" stop-color="#fefafa"/><stop offset="0.213" stop-color="#fbf0f2"/><stop offset="0.218" stop-color="#fdf9f9"/><stop offset="0.252" stop-color="#f4dee1"/><stop offset="0.309" stop-color="#f3dade"/><stop offset="0.394" stop-color="#f8e8ea"/><stop offset="0.451" stop-color="#fefafa"/><stop offset="0.462" stop-color="#fbf1f3"/><stop offset="0.473" stop-color="#f6e0e5"/><stop offset="0.485" stop-color="#e49fb2"/><stop offset="0.490" stop-color="#d97893"/><stop offset="0.496" stop-color="#d15a7b"/><stop offset="0.502" stop-color="#cd4a6e"/><stop offset="0.507" stop-color="#cb4469"/><stop offset="0.513" stop-color="#d05376"/><stop offset="0.519" stop-color="#d66988"/><stop offset="0.530" stop-color="#e9b5c3"/><stop offset="0.541" stop-color="#faedf0"/><stop offset="0.547" stop-color="#faedf0"/><stop offset="0.558" stop-color="#fefbfb"/><stop offset="0.604" stop-color="#f4dcdf"/><stop offset="0.757" stop-color="#f5e1e4"/><stop offset="0.802" stop-color="#fbf1f2"/><stop offset="0.842" stop-color="#fefafa"/><stop offset="0.887" stop-color="#f7e6e8"/><stop offset="1.000" stop-color="#f3dade"/></linearGradient><linearGradient id="h52" x1="0" x2="1" y1="0" y2="0"><stop offset="0.000" stop-color="#f2d8dd"/><stop offset="0.071" stop-color="#f3dade"/><stop offset="0.196" stop-color="#fefbfb"/><stop offset="0.213" stop-color="#faeef1"/><stop offset="0.218" stop-color="#fefafa"/><stop offset="0.252" stop-color="#f5dfe2"/><stop offset="0.309" stop-color="#f3dade"/><stop offset="0.394" stop-color="#f8e9eb"/><stop offset="0.451" stop-color="#fefbfb"/><stop offset="0.473" stop-color="#f6e0e5"/><stop offset="0.485" stop-color="#e39eb1"/><stop offset="0.490" stop-color="#d97692"/><stop offset="0.496" stop-color="#d1587a"/><stop offset="0.502" stop-color="#cc486c"/><stop offset="0.507" stop-color="#cb4267"/><stop offset="0.513" stop-color="#cf5174"/><stop offset="0.519" stop-color="#d56887"/><stop offset="0.530" stop-color="#e9b4c3"/><stop offset="0.541" stop-color="#faedf0"/><stop offset="0.547" stop-color="#f9ebee"/><stop offset="0.558" stop-color="#fefafa"/><stop offset="0.604" stop-color="#f4dce0"/><stop offset="0.757" stop-color="#f5e1e5"/><stop offset="0.802" stop-color="#fbf2f3"/><stop offset="0.842" stop-color="#fefafa"/><stop offset="0.887" stop-color="#f7e6e9"/><stop offset="1.000" stop-color="#f3dade"/></linearGradient><linearGradient id="h53" x1="0" x2="1" y1="0" y2="0"><stop offset="0.000" stop-color="#f3d9dd"/><stop offset="0.071" stop-color="#f3dbdf"/><stop offset="0.190" stop-color="#fefafa"/><stop offset="0.196" stop-color="#fefafa"/><stop offset="0.213" stop-color="#f9ebee"/><stop offset="0.218" stop-color="#fefafb"/><stop offset="0.252" stop-color="#f5dfe3"/><stop offset="0.309" stop-color="#f3dbde"/><stop offset="0.394" stop-color="#f8e9eb"/><stop offset="0.451" stop-color="#fefafa"/><stop offset="0.473" stop-color="#f6dfe5"/><stop offset="0.485" stop-color="#e39db0"/><stop offset="0.490" stop-color="#d97491"/><stop offset="0.496" stop-color="#d05678"/><stop offset="0.502" stop-color="#cc456a"/><stop offset="0.507" stop-color="#ca3f65"/><stop offset="0.513" stop-color="#ce4f72"/><stop offset="0.519" stop-color="#d56685"/><stop offset="0.530" stop-color="#e9b4c2"/><stop offset="0.541" stop-color="#faedef"/><stop offset="0.547" stop-color="#f9e9ed"/><stop offset="0.558" stop-color="#fdf8f8"/><stop offset="0.564" stop-color="#fdf9f9"/><stop offset="0.604" stop-color="#f4dde1"/><stop offset="0.757" stop-color="#f6e2e5"/><stop offset="0.808" stop-color="#fcf4f5"/><stop offset="0.842" stop-color="#fefbfb"/><stop offset="0.887" stop-color="#f7e7e9"/><stop offset="1.000" stop-color="#f3dbdf"/></linearGradient><linearGradient id="h54" x1="0" x2="1" y1="0" y2="0"><stop offset="0.000" stop-color="#f3d9dd"/><stop offset="0.071" stop-color="#f4dcdf"/><stop offset="0.190" stop-color="#fefbfb"/><stop offset="0.213" stop-color="#f7e5e9"/><stop offset="0.218" stop-color="#fdf8f9"/><stop offset="0.252" stop-color="#f5e0e3"/><stop offset="0.309" stop-color="#f3dbdf"/><stop offset="0.394" stop-color="#f8eaec"/><stop offset="0.445" stop-color="#fefafa"/><stop offset="0.473" stop-color="#f6dfe5"/><stop offset="0.485" stop-color="#e39cb0"/><stop offset="0.490" stop-color="#d8738f"/><stop offset="0.496" stop-color="#d05577"/><stop offset="0.502" stop-color="#cb4368"/><stop offset="0.507" stop-color="#c93d63"/><stop offset="0.513" stop-color="#ce4d71"/><stop offset="0.519" stop-color="#d46584"/><stop offset="0.530" stop-color="#e9b3c2"/><stop offset="0.541" stop-color="#faedef"/><stop offset="0.547" stop-color="#f8e7eb"/><stop offset="0.564" stop-color="#fdf9fa"/><stop offset="0.604" stop-color="#f4dee1"/><stop offset="0.757" stop-color="#f6e3e6"/><stop offset="0.836" stop-color="#fefafa"/><stop offset="0.887" stop-color="#f8e8ea"/><stop offset="1.000" stop-color="#f3dbdf"/></linearGradient><linearGradient id="h55" x1="0" x2="1" y1="0" y2="0"><stop offset="0.000" stop-color="#f3d9dd"/><stop offset="0.065" stop-color="#f3dbdf"/><stop offset="0.184" stop-color="#fefafa"/><stop offset="0.190" stop-color="#fefafa"/><stop offset="0.213" stop-color="#f5dee4"/><stop offset="0.218" stop-color="#fbf2f4"/><stop offset="0.224" stop-color="#fdf8f8"/><stop offset="0.252" stop-color="#f5e1e4"/><stop offset="0.309" stop-color="#f4dce0"/><stop offset="0.394" stop-color="#f9ebed"/><stop offset="0.445" stop-color="#fefbfb"/><stop offset="0.468" stop-color="#f6e1e6"/><stop offset="0.473" stop-color="#f5dfe4"/><stop offset="0.485" stop-color="#e39baf"/><stop offset="0.490" stop-color="#d8718e"/><stop offset="0.496" stop-color="#cf5375"/><stop offset="0.502" stop-color="#ca4166"/><stop offset="0.507" stop-color="#c93a61"/><stop offset="0.513" stop-color="#cd4b6f"/><stop offset="0.519" stop-color="#d46383"/><stop offset="0.530" stop-color="#e9b2c1"/><stop offset="0.541" stop-color="#faecef"/><stop offset="0.547" stop-color="#f7e5e9"/><stop offset="0.564" stop-color="#fefafa"/><stop offset="0.604" stop-color="#f4dee2"/><stop offset="0.757" stop-color="#f6e4e6"/><stop offset="0.836" stop-color="#fefbfb"/><stop offset="0.887" stop-color="#f8e8eb"/><stop offset="1.000" stop-color="#f4dce0"/></linearGradient><linearGradient id="h56" x1="0" x2="1" y1="0" y2="0"><stop offset="0.000" stop-color="#f3dade"/><stop offset="0.071" stop-color="#f4dde1"/><stop offset="0.184" stop-color="#fefbfb"/><stop offset="0.190" stop-color="#fdf7f8"/><stop offset="0.213" stop-color="#f3d7de"/><stop offset="0.218" stop-color="#f9ecef"/><stop offset="0.224" stop-color="#fdf9f9"/><stop offset="0.252" stop-color="#f5e1e5"/><stop offset="0.309" stop-color="#f4dde0"/><stop offset="0.394" stop-color="#f9ebed"/><stop offset="0.445" stop-color="#fefbfb"/><stop offset="0.468" stop-color="#f6dfe5"/><stop offset="0.473" stop-color="#f5dfe4"/><stop offset="0.485" stop-color="#e29aae"/><stop offset="0.490" stop-color="#d7708d"/><stop offset="0.496" stop-color="#cf5174"/><stop offset="0.502" stop-color="#ca3e64"/><stop offset="0.507" stop-color="#c8385f"/><stop offset="0.513" stop-color="#cd496d"/><stop offset="0.519" stop-color="#d36181"/><stop offset="0.530" stop-color="#e9b2c1"/><stop offset="0.541" stop-color="#faecef"/><stop offset="0.547" stop-color="#f7e3e7"/><stop offset="0.564" stop-color="#fefafb"/><stop offset="0.604" stop-color="#f5dfe2"/><stop offset="0.757" stop-color="#f6e4e7"/><stop offset="0.808" stop-color="#fcf6f6"/><stop offset="0.830" stop-color="#fefafa"/><stop offset="0.842" stop-color="#fcf5f6"/><stop offset="0.848" stop-color="#fefafa"/><stop offset="0.887" stop-color="#f8e9eb"/><stop offset="1.000" stop-color="#f4dde0"/></linearGradient><linearGradient id="h57" x1="0" x2="1" y1="0" y2="0"><stop offset="0.000" stop-color="#f3dade"/><stop offset="0.065" stop-color="#f4dde0"/><stop offset="0.184" stop-color="#fefafa"/><stop offset="0.213" stop-color="#f1d0d9"/><stop offset="0.224" stop-color="#fefafa"/><stop offset="0.252" stop-color="#f6e2e5"/><stop offset="0.303" stop-color="#f4dde1"/><stop offset="0.445" stop-color="#fdf8f9"/><stop offset="0.468" stop-color="#f5dde3"/><stop offset="0.473" stop-color="#f5dee4"/><stop offset="0.479" stop-color="#ecbeca"/><stop offset="0.490" stop-color="#d76e8c"/><stop offset="0.496" stop-color="#ce4f72"/><stop offset="0.502" stop-color="#c93c62"/><stop offset="0.507" stop-color="#c8365e"/><stop offset="0.513" stop-color="#cc476b"/><stop offset="0.519" stop-color="#d36080"/><stop offset="0.530" stop-color="#e8b1c0"/><stop offset="0.541" stop-color="#f9ecef"/><stop offset="0.547" stop-color="#f6e0e6"/><stop offset="0.558" stop-color="#faeff1"/><stop offset="0.564" stop-color="#fefbfb"/><stop offset="0.604" stop-color="#f5e0e3"/><stop offset="0.757" stop-color="#f7e5e8"/><stop offset="0.830" stop-color="#fefbfb"/><stop offset="0.842" stop-color="#fbf3f4"/><stop offset="0.848" stop-color="#fefbfb"/><stop offset="0.887" stop-color="#f8eaec"/><stop offset="1.000" stop-color="#f4dde1"/></linearGradient><linearGradient id="h58" x1="0" x2="1" y1="0" y2="0"><stop offset="0.000" stop-color="#f3dbde"/><stop offset="0.065" stop-color="#f4dde1"/><stop offset="0.179" stop-color="#fefbfb"/><stop offset="0.190" stop-color="#fbf2f3"/><stop offset="0.207" stop-color="#f1d0d8"/><stop offset="0.213" stop-color="#efc9d3"/><stop offset="0.224" stop-color="#fefbfb"/><stop offset="0.252" stop-color="#f6e3e6"/><stop offset="0.303" stop-color="#f4dee1"/><stop offset="0.394" stop-color="#f9ecee"/><stop offset="0.439" stop-color="#fefafa"/><stop offset="0.468" stop-color="#f4dbe1"/><stop offset="0.473" stop-color="#f5dee4"/><stop offset="0.479" stop-color="#ecbeca"/><stop offset="0.490" stop-color="#d76d8b"/><stop offset="0.496" stop-color="#ce4d70"/><stop offset="0.502" stop-color="#c83a60"/><stop offset="0.507" stop-color="#c7355d"/><stop offset="0.513" stop-color="#cc456a"/><stop offset="0.519" stop-color="#d35e7f"/><stop offset="0.530" stop-color="#e8b0bf"/><stop offset="0.541" stop-color="#f9ecef"/><stop offset="0.547" stop-color="#f5dee4"/><stop offset="0.558" stop-color="#faedef"/><stop offset="0.564" stop-color="#fdf9f9"/><stop offset="0.604" stop-color="#f5e0e4"/><stop offset="0.757" stop-color="#f7e6e8"/><stop offset="0.825" stop-color="#fefafa"/><stop offset="0.842" stop-color="#fbf0f2"/><stop offset="0.848" stop-color="#fefafa"/><stop offset="0.887" stop-color="#f8eaec"/><stop offset="1.000" stop-color="#f4dee1"/></linearGradient><linearGradient id="h59" x1="0" x2="1" y1="0" y2="0"><stop offset="0.000" stop-color="#f3dbdf"/><stop offset="0.065" stop-color="#f4dee1"/><stop offset="0.179" stop-color="#fefbfb"/><stop offset="0.190" stop-color="#faeff1"/><stop offset="0.207" stop-color="#efc9d3"/><stop offset="0.213" stop-color="#edc2ce"/><stop offset="0.224" stop-color="#fdf8f9"/><stop offset="0.252" stop-color="#f6e4e6"/><stop offset="0.303" stop-color="#f4dee2"/><stop offset="0.394" stop-color="#f9edef"/><stop offset="0.439" stop-color="#fefbfb"/><stop offset="0.468" stop-color="#f4d9df"/><stop offset="0.473" stop-color="#f5dee4"/><stop offset="0.479" stop-color="#ecbdca"/><stop offset="0.490" stop-color="#d66c8a"/><stop offset="0.496" stop-color="#cd4b6f"/><stop offset="0.502" stop-color="#c8385f"/><stop offset="0.507" stop-color="#c7335c"/><stop offset="0.513" stop-color="#cb4368"/><stop offset="0.519" stop-color="#d25d7d"/><stop offset="0.530" stop-color="#e8b0bf"/><stop offset="0.541" stop-color="#f9ecef"/><stop offset="0.547" stop-color="#f5dce2"/><stop offset="0.558" stop-color="#f9eaee"/><stop offset="0.564" stop-color="#fdf6f7"/><stop offset="0.570" stop-color="#fdf8f8"/><stop offset="0.604" stop-color="#f5e1e4"/><stop offset="0.757" stop-color="#f7e6e9"/><stop offset="0.825" stop-color="#fefbfb"/><stop offset="0.842" stop-color="#faeef1"/><stop offset="0.848" stop-color="#fdf7f8"/><stop offset="0.853" stop-color="#fdf9f9"/><stop offset="0.887" stop-color="#f9ebed"/><stop offset="1.000" stop-color="#f5dfe2"/></linearGradient><linearGradient id="h60" x1="0" x2="1" y1="0" y2="0"><stop offset="0.000" stop-color="#f4dce0"/><stop offset="0.065" stop-color="#f5dfe2"/><stop offset="0.173" stop-color="#fefbfb"/><stop offset="0.190" stop-color="#f9ecef"/><stop offset="0.207" stop-color="#edc2ce"/><stop offset="0.213" stop-color="#ebbcc8"/><stop offset="0.218" stop-color="#f2d5dc"/><stop offset="0.224" stop-color="#fcf4f5"/><stop offset="0.230" stop-color="#fcf6f7"/><stop offset="0.252" stop-color="#f6e4e7"/><stop offset="0.303" stop-color="#f5dfe2"/><stop offset="0.439" stop-color="#fdf9fa"/><stop offset="0.468" stop-color="#f3d6de"/><stop offset="0.473" stop-color="#f5dee3"/><stop offset="0.479" stop-color="#ebbdc9"/><stop offset="0.490" stop-color="#d66a89"/><stop offset="0.496" stop-color="#cd496d"/><stop offset="0.502" stop-color="#c7365e"/><stop offset="0.507" stop-color="#c6325a"/><stop offset="0.513" stop-color="#ca4166"/><stop offset="0.519" stop-color="#d25b7c"/><stop offset="0.530" stop-color="#e8afbe"/><stop offset="0.541" stop-color="#f9ecef"/><stop offset="0.547" stop-color="#f4dae0"/><stop offset="0.558" stop-color="#f8e8ec"/><stop offset="0.564" stop-color="#fcf4f5"/><stop offset="0.570" stop-color="#fdf9f9"/><stop offset="0.604" stop-color="#f6e2e5"/><stop offset="0.757" stop-color="#f7e7e9"/><stop offset="0.819" stop-color="#fefafa"/><stop offset="0.842" stop-color="#f9ecef"/><stop offset="0.853" stop-color="#fefafa"/><stop offset="0.887" stop-color="#f9eced"/><stop offset="1.000" stop-color="#f5dfe3"/></linearGradient><linearGradient id="h61" x1="0" x2="1" y1="0" y2="0"><stop offset="0.000" stop-color="#f4dce0"/><stop offset="0.065" stop-color="#f5dfe3"/><stop offset="0.173" stop-color="#fefbfb"/><stop offset="0.190" stop-color="#f9eaed"/><stop offset="0.196" stop-color="#f5dee4"/><stop offset="0.207" stop-color="#ecbeca"/><stop offset="0.213" stop-color="#eab7c5"/><stop offset="0.218" stop-color="#f1d1d9"/><stop offset="0.224" stop-color="#fbf1f3"/><stop offset="0.230" stop-color="#fdf7f7"/><stop offset="0.252" stop-color="#f7e5e8"/><stop offset="0.303" stop-color="#f5e0e3"/><stop offset="0.394" stop-color="#faeef0"/><stop offset="0.434" stop-color="#fefafa"/><stop offset="0.468" stop-color="#f2d4dc"/><stop offset="0.473" stop-color="#f5dde3"/><stop offset="0.479" stop-color="#ebbcc9"/><stop offset="0.490" stop-color="#d66988"/><stop offset="0.496" stop-color="#cc476c"/><stop offset="0.502" stop-color="#c7355d"/><stop offset="0.507" stop-color="#c63059"/><stop offset="0.513" stop-color="#ca3f64"/><stop offset="0.519" stop-color="#d15a7b"/><stop offset="0.530" stop-color="#e8aebe"/><stop offset="0.541" stop-color="#f9ecef"/><stop offset="0.547" stop-color="#f3d8df"/><stop offset="0.570" stop-color="#fdf9f9"/><stop offset="0.604" stop-color="#f6e2e5"/><stop offset="0.757" stop-color="#f8e8ea"/><stop offset="0.819" stop-color="#fefbfb"/><stop offset="0.842" stop-color="#f9eaed"/><stop offset="0.853" stop-color="#fefafa"/><stop offset="0.887" stop-color="#f9ecee"/><stop offset="1.000" stop-color="#f5e0e3"/></linearGradient><linearGradient id="h62" x1="0" x2="1" y1="0" y2="0"><stop offset="0.000" stop-color="#f4dde1"/><stop offset="0.065" stop-color="#f5e0e3"/><stop offset="0.167" stop-color="#fefafa"/><stop offset="0.190" stop-color="#f8e7eb"/><stop offset="0.196" stop-color="#f5dce2"/><stop offset="0.207" stop-color="#ebbcc9"/><stop offset="0.213" stop-color="#e9b5c3"/><stop offset="0.218" stop-color="#f0ced7"/><stop offset="0.224" stop-color="#faeef1"/><stop offset="0.230" stop-color="#fdf7f8"/><stop offset="0.252" stop-color="#f7e6e8"/><stop offset="0.303" stop-color="#f5e0e4"/><stop offset="0.394" stop-color="#faeff1"/><stop offset="0.434" stop-color="#fefbfb"/><stop offset="0.468" stop-color="#f2d2da"/><stop offset="0.473" stop-color="#f5dde3"/><stop offset="0.479" stop-color="#ebbcc8"/><stop offset="0.490" stop-color="#d56886"/><stop offset="0.496" stop-color="#cc456a"/><stop offset="0.502" stop-color="#c6335b"/><stop offset="0.507" stop-color="#c52f58"/><stop offset="0.513" stop-color="#c93c63"/><stop offset="0.519" stop-color="#d15879"/><stop offset="0.530" stop-color="#e7aebd"/><stop offset="0.541" stop-color="#f9ebee"/><stop offset="0.547" stop-color="#f3d6dd"/><stop offset="0.558" stop-color="#f7e4e8"/><stop offset="0.570" stop-color="#fefafa"/><stop offset="0.604" stop-color="#f6e3e6"/><stop offset="0.757" stop-color="#f8e8eb"/><stop offset="0.813" stop-color="#fefafa"/><stop offset="0.842" stop-color="#f8e7eb"/><stop offset="0.853" stop-color="#fefbfb"/><stop offset="0.887" stop-color="#f9edef"/><stop offset="1.000" stop-color="#f5e1e4"/></linearGradient><linearGradient id="h63" x1="0" x2="1" y1="0" y2="0"><stop offset="0.000" stop-color="#f4dee1"/><stop offset="0.065" stop-color="#f5e1e4"/><stop offset="0.167" stop-color="#fefbfb"/><stop offset="0.190" stop-color="#f7e5e9"/><stop offset="0.196" stop-color="#f4dae0"/><stop offset="0.207" stop-color="#ebbac7"/><stop offset="0.213" stop-color="#e9b3c2"/><stop offset="0.218" stop-color="#f0ccd5"/><stop offset="0.224" stop-color="#f9ecef"/><stop offset="0.230" stop-color="#fdf8f8"/><stop offset="0.252" stop-color="#f7e6e9"/><stop offset="0.303" stop-color="#f5e1e4"/><stop offset="0.434" stop-color="#fef9fa"/><stop offset="0.468" stop-color="#f1d0d8"/><stop offset="0.473" stop-color="#f5dde3"/><stop offset="0.479" stop-color="#ebbbc8"/><stop offset="0.490" stop-color="#d56685"/><stop offset="0.496" stop-color="#cb4368"/><stop offset="0.502" stop-color="#c6325a"/><stop offset="0.507" stop-color="#c52d57"/><stop offset="0.513" stop-color="#c93a61"/><stop offset="0.519" stop-color="#d05678"/><stop offset="0.530" stop-color="#e7adbd"/><stop offset="0.541" stop-color="#f9ebee"/><stop offset="0.547" stop-color="#f2d3db"/><stop offset="0.558" stop-color="#f6e1e6"/><stop offset="0.570" stop-color="#fefafa"/><stop offset="0.604" stop-color="#f6e4e7"/><stop offset="0.757" stop-color="#f8e9eb"/><stop offset="0.813" stop-color="#fefbfb"/><stop offset="0.842" stop-color="#f7e5e9"/><stop offset="0.853" stop-color="#fdf9f9"/><stop offset="0.859" stop-color="#fdf9f9"/><stop offset="0.887" stop-color="#faeeef"/><stop offset="1.000" stop-color="#f5e1e4"/></linearGradient><linearGradient id="h64" x1="0" x2="1" y1="0" y2="0"><stop offset="0.000" stop-color="#f4dee2"/><stop offset="0.065" stop-color="#f5e1e4"/><stop offset="0.162" stop-color="#fefafa"/><stop offset="0.167" stop-color="#fdf9f9"/><stop offset="0.190" stop-color="#f7e3e8"/><stop offset="0.207" stop-color="#eab8c5"/><stop offset="0.213" stop-color="#e8b1c0"/><stop offset="0.218" stop-color="#efcad3"/><stop offset="0.224" stop-color="#f9e9ed"/><stop offset="0.230" stop-color="#fdf9f9"/><stop offset="0.252" stop-color="#f7e7e9"/><stop offset="0.303" stop-color="#f6e2e5"/><stop offset="0.394" stop-color="#faf0f2"/><stop offset="0.428" stop-color="#fefafa"/><stop offset="0.434" stop-color="#fdf7f8"/><stop offset="0.468" stop-color="#f0ced7"/><stop offset="0.473" stop-color="#f5dde3"/><stop offset="0.479" stop-color="#ebbbc8"/><stop offset="0.490" stop-color="#d46584"/><stop offset="0.496" stop-color="#cb4267"/><stop offset="0.502" stop-color="#c63059"/><stop offset="0.507" stop-color="#c42c56"/><stop offset="0.513" stop-color="#c8385f"/><stop offset="0.519" stop-color="#d05577"/><stop offset="0.530" stop-color="#e7acbc"/><stop offset="0.541" stop-color="#f9ebee"/><stop offset="0.547" stop-color="#f1d1d9"/><stop offset="0.558" stop-color="#f6dfe5"/><stop offset="0.570" stop-color="#fefbfb"/><stop offset="0.604" stop-color="#f6e4e7"/><stop offset="0.757" stop-color="#f8eaec"/><stop offset="0.808" stop-color="#fefafb"/><stop offset="0.842" stop-color="#f7e3e8"/><stop offset="0.853" stop-color="#fdf6f7"/><stop offset="0.859" stop-color="#fefafa"/><stop offset="0.887" stop-color="#faeef0"/><stop offset="1.000" stop-color="#f6e2e5"/></linearGradient><linearGradient id="h65" x1="0" x2="1" y1="0" y2="0"><stop offset="0.000" stop-color="#f5dfe3"/><stop offset="0.065" stop-color="#f6e2e5"/><stop offset="0.162" stop-color="#fefbfb"/><stop offset="0.190" stop-color="#f6e0e5"/><stop offset="0.207" stop-color="#e9b5c3"/><stop offset="0.213" stop-color="#e8aebe"/><stop offset="0.218" stop-color="#eec7d1"/><stop offset="0.224" stop-color="#f8e6ea"/><stop offset="0.230" stop-color="#fdf9fa"/><stop offset="0.252" stop-color="#f8e8ea"/><stop offset="0.303" stop-color="#f6e2e5"/><stop offset="0.428" stop-color="#fefbfb"/><stop offset="0.468" stop-color="#efcbd4"/><stop offset="0.473" stop-color="#f5dce2"/><stop offset="0.479" stop-color="#ebbac7"/><stop offset="0.490" stop-color="#d46383"/><stop offset="0.496" stop-color="#ca3f65"/><stop offset="0.502" stop-color="#c52e58"/><stop offset="0.507" stop-color="#c32a54"/><stop offset="0.513" stop-color="#c7365e"/><stop offset="0.519" stop-color="#cf5375"/><stop offset="0.530" stop-color="#e7abbc"/><stop offset="0.541" stop-color="#f9ebee"/><stop offset="0.547" stop-color="#f0ced7"/><stop offset="0.558" stop-color="#f5dce2"/><stop offset="0.570" stop-color="#fdf8f9"/><stop offset="0.604" stop-color="#f7e5e8"/><stop offset="0.757" stop-color="#f9ebed"/><stop offset="0.808" stop-color="#fefafa"/><stop offset="0.842" stop-color="#f6e0e5"/><stop offset="0.859" stop-color="#fefafa"/><stop offset="0.887" stop-color="#faeff1"/><stop offset="1.000" stop-color="#f6e3e6"/></linearGradient><linearGradient id="h66" x1="0" x2="1" y1="0" y2="0"><stop offset="0.000" stop-color="#f3d6db"/><stop offset="0.173" stop-color="#f4dbde"/><stop offset="0.196" stop-color="#f6e1e4"/><stop offset="0.201" stop-color="#f7e5e8"/><stop offset="0.224" stop-color="#fefbfc"/><stop offset="0.247" stop-color="#f7e5e8"/><stop offset="0.258" stop-color="#f2d4d9"/><stop offset="0.264" stop-color="#f0cfd5"/><stop offset="0.405" stop-color="#f0d0d6"/><stop offset="0.411" stop-color="#f1d4da"/><stop offset="0.422" stop-color="#f7e6ea"/><stop offset="0.428" stop-color="#f8ecee"/><stop offset="0.451" stop-color="#fbf0f2"/><stop offset="0.456" stop-color="#f6dee5"/><stop offset="0.468" stop-color="#e297ac"/><stop offset="0.479" stop-color="#d0597c"/><stop offset="0.485" stop-color="#cb466d"/><stop offset="0.496" stop-color="#c5385f"/><stop offset="0.502" stop-color="#c63b62"/><stop offset="0.513" stop-color="#cd4d73"/><stop offset="0.524" stop-color="#e090a6"/><stop offset="0.536" stop-color="#f5dce2"/><stop offset="0.541" stop-color="#fcf7f8"/><stop offset="0.570" stop-color="#fbf2f4"/><stop offset="0.575" stop-color="#f9ebee"/><stop offset="0.587" stop-color="#f3d8dc"/><stop offset="0.592" stop-color="#f1d3d8"/><stop offset="0.734" stop-color="#f2d6db"/><stop offset="0.740" stop-color="#f3d8dd"/><stop offset="0.768" stop-color="#f8ecee"/><stop offset="0.785" stop-color="#fbf3f4"/><stop offset="0.819" stop-color="#f5dfe3"/><stop offset="1.000" stop-color="#f4dadf"/></linearGradient><linearGradient id="cbc" x1="0" x2="1" y1="0" y2="0"><stop offset="0.00" stop-color="#ffffff"/><stop offset="0.05" stop-color="#fdf8f9"/><stop offset="0.10" stop-color="#fbf0f3"/><stop offset="0.15" stop-color="#f8e5eb"/><stop offset="0.20" stop-color="#f5dae3"/><stop offset="0.25" stop-color="#f2d1db"/><stop offset="0.30" stop-color="#f0c8d4"/><stop offset="0.35" stop-color="#eebfcc"/><stop offset="0.40" stop-color="#ecb7c5"/><stop offset="0.45" stop-color="#eaafbe"/><stop offset="0.50" stop-color="#e8a8b7"/><stop offset="0.55" stop-color="#e8a6b2"/><stop offset="0.60" stop-color="#e8a6a8"/><stop offset="0.65" stop-color="#e9a59d"/><stop offset="0.70" stop-color="#e9a593"/><stop offset="0.75" stop-color="#eaa48a"/><stop offset="0.80" stop-color="#eba280"/><stop offset="0.85" stop-color="#eba176"/><stop offset="0.90" stop-color="#eb9e6b"/><stop offset="0.95" stop-color="#ec9c60"/><stop offset="1.00" stop-color="#ec9a55"/></linearGradient><linearGradient id="h67" x1="0" x2="1" y1="0" y2="0"><stop offset="0.000" stop-color="#faeef1"/><stop offset="0.119" stop-color="#f9ebef"/><stop offset="0.192" stop-color="#f5dbe4"/><stop offset="0.303" stop-color="#ebb5c3"/><stop offset="0.325" stop-color="#e8a9b9"/><stop offset="0.364" stop-color="#e8a6a9"/><stop offset="0.403" stop-color="#e8a9b8"/><stop offset="0.425" stop-color="#ebb5c3"/><stop offset="0.525" stop-color="#f4d7e1"/><stop offset="0.597" stop-color="#f8e5eb"/><stop offset="1.000" stop-color="#fcf3f5"/></linearGradient><linearGradient id="h68" x1="0" x2="1" y1="0" y2="0"><stop offset="0.000" stop-color="#faeef1"/><stop offset="0.119" stop-color="#f9ebef"/><stop offset="0.192" stop-color="#f5dbe4"/><stop offset="0.303" stop-color="#ebb4c2"/><stop offset="0.325" stop-color="#e8a9b8"/><stop offset="0.364" stop-color="#e8a6a8"/><stop offset="0.403" stop-color="#e8a8b7"/><stop offset="0.431" stop-color="#ebb5c3"/><stop offset="0.531" stop-color="#f4d9e1"/><stop offset="0.592" stop-color="#f8e4ea"/><stop offset="1.000" stop-color="#fcf3f5"/></linearGradient><linearGradient id="h69" x1="0" x2="1" y1="0" y2="0"><stop offset="0.000" stop-color="#faeef1"/><stop offset="0.119" stop-color="#f9ebef"/><stop offset="0.192" stop-color="#f5dbe4"/><stop offset="0.292" stop-color="#ecb8c6"/><stop offset="0.325" stop-color="#e8a9b8"/><stop offset="0.364" stop-color="#e8a6a7"/><stop offset="0.408" stop-color="#e8a9b8"/><stop offset="0.442" stop-color="#ecb8c6"/><stop offset="0.531" stop-color="#f4d8e1"/><stop offset="0.592" stop-color="#f7e4ea"/><stop offset="1.000" stop-color="#fcf3f5"/></linearGradient><linearGradient id="h70" x1="0" x2="1" y1="0" y2="0"><stop offset="0.000" stop-color="#faeef1"/><stop offset="0.119" stop-color="#f9ebef"/><stop offset="0.197" stop-color="#f5dae2"/><stop offset="0.292" stop-color="#ecb8c6"/><stop offset="0.325" stop-color="#e8a8b7"/><stop offset="0.358" stop-color="#e8a6a7"/><stop offset="0.369" stop-color="#e8a6a5"/><stop offset="0.408" stop-color="#e8a8b7"/><stop offset="0.447" stop-color="#ecb9c7"/><stop offset="0.536" stop-color="#f4d9e2"/><stop offset="0.592" stop-color="#f7e4ea"/><stop offset="1.000" stop-color="#fcf2f5"/></linearGradient><linearGradient id="h71" x1="0" x2="1" y1="0" y2="0"><stop offset="0.000" stop-color="#faeef1"/><stop offset="0.125" stop-color="#f9eaef"/><stop offset="0.197" stop-color="#f5dae2"/><stop offset="0.286" stop-color="#edbac7"/><stop offset="0.325" stop-color="#e8a8b7"/><stop offset="0.369" stop-color="#e9a5a3"/><stop offset="0.414" stop-color="#e8a8b7"/><stop offset="0.447" stop-color="#ecb8c6"/><stop offset="0.536" stop-color="#f4d8e1"/><stop offset="0.592" stop-color="#f7e3e9"/><stop offset="1.000" stop-color="#fbf2f5"/></linearGradient><linearGradient id="h72" x1="0" x2="1" y1="0" y2="0"><stop offset="0.000" stop-color="#faeef1"/><stop offset="0.125" stop-color="#f9eaef"/><stop offset="0.197" stop-color="#f5dae2"/><stop offset="0.286" stop-color="#ecbac7"/><stop offset="0.319" stop-color="#e8a9b8"/><stop offset="0.369" stop-color="#e9a5a2"/><stop offset="0.414" stop-color="#e8a8b6"/><stop offset="0.453" stop-color="#ecbac7"/><stop offset="0.536" stop-color="#f4d7e0"/><stop offset="0.592" stop-color="#f7e3e9"/><stop offset="1.000" stop-color="#fbf2f5"/></linearGradient><linearGradient id="h73" x1="0" x2="1" y1="0" y2="0"><stop offset="0.000" stop-color="#faeef1"/><stop offset="0.125" stop-color="#f9ebef"/><stop offset="0.197" stop-color="#f5dae2"/><stop offset="0.286" stop-color="#ecbac7"/><stop offset="0.319" stop-color="#e8a9b8"/><stop offset="0.369" stop-color="#e9a5a1"/><stop offset="0.419" stop-color="#e8a9b8"/><stop offset="0.447" stop-color="#ecb7c5"/><stop offset="0.531" stop-color="#f3d5df"/><stop offset="0.592" stop-color="#f7e3e9"/><stop offset="1.000" stop-color="#fbf2f4"/></linearGradient><linearGradient id="h74" x1="0" x2="1" y1="0" y2="0"><stop offset="0.000" stop-color="#faeef1"/><stop offset="0.125" stop-color="#f9eaef"/><stop offset="0.197" stop-color="#f5dae2"/><stop offset="0.286" stop-color="#ecbac7"/><stop offset="0.319" stop-color="#e8a9b8"/><stop offset="0.369" stop-color="#e9a5a0"/><stop offset="0.419" stop-color="#e8a8b7"/><stop offset="0.447" stop-color="#ecb6c4"/><stop offset="0.531" stop-color="#f3d4de"/><stop offset="0.592" stop-color="#f7e3e9"/><stop offset="1.000" stop-color="#fbf2f4"/></linearGradient><linearGradient id="h75" x1="0" x2="1" y1="0" y2="0"><stop offset="0.000" stop-color="#faeef1"/><stop offset="0.125" stop-color="#f9eaef"/><stop offset="0.197" stop-color="#f5dae2"/><stop offset="0.286" stop-color="#ecbac7"/><stop offset="0.319" stop-color="#e8a8b7"/><stop offset="0.369" stop-color="#e9a59f"/><stop offset="0.425" stop-color="#e8a9b8"/><stop offset="0.453" stop-color="#ecb8c6"/><stop offset="0.531" stop-color="#f3d4de"/><stop offset="0.592" stop-color="#f7e3e9"/><stop offset="1.000" stop-color="#fbf2f4"/></linearGradient><linearGradient id="h76" x1="0" x2="1" y1="0" y2="0"><stop offset="0.000" stop-color="#faeef1"/><stop offset="0.125" stop-color="#f9eaef"/><stop offset="0.197" stop-color="#f5dae2"/><stop offset="0.286" stop-color="#ecbac7"/><stop offset="0.319" stop-color="#e8a8b7"/><stop offset="0.369" stop-color="#e9a59e"/><stop offset="0.386" stop-color="#e9a5a3"/><stop offset="0.425" stop-color="#e8a8b7"/><stop offset="0.453" stop-color="#ecb8c5"/><stop offset="0.531" stop-color="#f3d3dd"/><stop offset="0.592" stop-color="#f7e2e9"/><stop offset="1.000" stop-color="#fbf2f4"/></linearGradient><linearGradient id="h77" x1="0" x2="1" y1="0" y2="0"><stop offset="0.000" stop-color="#faeef1"/><stop offset="0.125" stop-color="#f9eaef"/><stop offset="0.197" stop-color="#f5dae2"/><stop offset="0.286" stop-color="#ecbac7"/><stop offset="0.319" stop-color="#e8a8b6"/><stop offset="0.369" stop-color="#e9a59e"/><stop offset="0.386" stop-color="#e9a5a2"/><stop offset="0.425" stop-color="#e8a8b7"/><stop offset="0.453" stop-color="#ecb7c5"/><stop offset="0.531" stop-color="#f3d3dd"/><stop offset="0.592" stop-color="#f7e2e9"/><stop offset="1.000" stop-color="#fbf2f4"/></linearGradient><linearGradient id="h78" x1="0" x2="1" y1="0" y2="0"><stop offset="0.000" stop-color="#faeef1"/><stop offset="0.131" stop-color="#f9eaee"/><stop offset="0.197" stop-color="#f5dae2"/><stop offset="0.286" stop-color="#ecbac7"/><stop offset="0.319" stop-color="#e8a8b6"/><stop offset="0.369" stop-color="#e9a59d"/><stop offset="0.386" stop-color="#e9a5a1"/><stop offset="0.425" stop-color="#e8a7b6"/><stop offset="0.453" stop-color="#ecb7c4"/><stop offset="0.531" stop-color="#f3d2dd"/><stop offset="0.592" stop-color="#f7e2e9"/><stop offset="0.625" stop-color="#f8e6eb"/><stop offset="1.000" stop-color="#fbf1f4"/></linearGradient><linearGradient id="h79" x1="0" x2="1" y1="0" y2="0"><stop offset="0.000" stop-color="#faeef1"/><stop offset="0.131" stop-color="#f9eaee"/><stop offset="0.197" stop-color="#f5d9e2"/><stop offset="0.286" stop-color="#ecbac7"/><stop offset="0.319" stop-color="#e8a7b6"/><stop offset="0.358" stop-color="#e9a5a0"/><stop offset="0.375" stop-color="#e9a59c"/><stop offset="0.425" stop-color="#e8a7b5"/><stop offset="0.453" stop-color="#ebb6c4"/><stop offset="0.536" stop-color="#f3d4de"/><stop offset="0.592" stop-color="#f7e2e8"/><stop offset="0.625" stop-color="#f8e6eb"/><stop offset="1.000" stop-color="#fbf1f4"/></linearGradient><linearGradient id="h80" x1="0" x2="1" y1="0" y2="0"><stop offset="0.000" stop-color="#faeef1"/><stop offset="0.131" stop-color="#f9eaee"/><stop offset="0.197" stop-color="#f5d9e2"/><stop offset="0.286" stop-color="#ecbac7"/><stop offset="0.319" stop-color="#e8a7b5"/><stop offset="0.358" stop-color="#e9a59f"/><stop offset="0.375" stop-color="#e9a59b"/><stop offset="0.425" stop-color="#e8a7b4"/><stop offset="0.453" stop-color="#ebb5c3"/><stop offset="0.536" stop-color="#f3d3dd"/><stop offset="0.592" stop-color="#f7e2e8"/><stop offset="0.625" stop-color="#f8e6eb"/><stop offset="1.000" stop-color="#fbf1f4"/></linearGradient><linearGradient id="h81" x1="0" x2="1" y1="0" y2="0"><stop offset="0.000" stop-color="#faeef1"/><stop offset="0.131" stop-color="#f9eaee"/><stop offset="0.203" stop-color="#f4d8e1"/><stop offset="0.286" stop-color="#ecbac7"/><stop offset="0.319" stop-color="#e8a7b5"/><stop offset="0.358" stop-color="#e9a59e"/><stop offset="0.375" stop-color="#e9a59a"/><stop offset="0.431" stop-color="#e8a7b6"/><stop offset="0.458" stop-color="#ecb7c5"/><stop offset="0.542" stop-color="#f3d5de"/><stop offset="0.597" stop-color="#f7e3e9"/><stop offset="1.000" stop-color="#fbf1f4"/></linearGradient><linearGradient id="h82" x1="0" x2="1" y1="0" y2="0"><stop offset="0.000" stop-color="#faeef1"/><stop offset="0.131" stop-color="#f9eaee"/><stop offset="0.203" stop-color="#f4d8e1"/><stop offset="0.286" stop-color="#ecbac7"/><stop offset="0.314" stop-color="#e8a9b7"/><stop offset="0.358" stop-color="#e9a59e"/><stop offset="0.375" stop-color="#e9a598"/><stop offset="0.392" stop-color="#e9a59e"/><stop offset="0.431" stop-color="#e8a7b5"/><stop offset="0.458" stop-color="#ecb7c4"/><stop offset="0.542" stop-color="#f3d4de"/><stop offset="0.597" stop-color="#f7e2e9"/><stop offset="1.000" stop-color="#fbf1f4"/></linearGradient><linearGradient id="h83" x1="0" x2="1" y1="0" y2="0"><stop offset="0.000" stop-color="#faeef1"/><stop offset="0.131" stop-color="#f9eaee"/><stop offset="0.203" stop-color="#f4d8e1"/><stop offset="0.292" stop-color="#ecb7c5"/><stop offset="0.314" stop-color="#e8a8b7"/><stop offset="0.353" stop-color="#e9a5a0"/><stop offset="0.375" stop-color="#e9a597"/><stop offset="0.397" stop-color="#e9a5a0"/><stop offset="0.431" stop-color="#e8a7b4"/><stop offset="0.458" stop-color="#ecb6c4"/><stop offset="0.542" stop-color="#f3d4de"/><stop offset="0.597" stop-color="#f7e2e9"/><stop offset="1.000" stop-color="#fbf1f4"/></linearGradient><linearGradient id="h84" x1="0" x2="1" y1="0" y2="0"><stop offset="0.000" stop-color="#faeef1"/><stop offset="0.131" stop-color="#f9eaee"/><stop offset="0.203" stop-color="#f4d7e1"/><stop offset="0.292" stop-color="#ecb7c5"/><stop offset="0.314" stop-color="#e8a8b7"/><stop offset="0.353" stop-color="#e9a59f"/><stop offset="0.375" stop-color="#e9a596"/><stop offset="0.397" stop-color="#e9a59e"/><stop offset="0.431" stop-color="#e8a7b2"/><stop offset="0.458" stop-color="#ebb6c4"/><stop offset="0.542" stop-color="#f3d3dd"/><stop offset="0.597" stop-color="#f7e2e9"/><stop offset="1.000" stop-color="#fbf1f4"/></linearGradient><linearGradient id="h85" x1="0" x2="1" y1="0" y2="0"><stop offset="0.000" stop-color="#faeef1"/><stop offset="0.136" stop-color="#f9e9ee"/><stop offset="0.203" stop-color="#f4d7e1"/><stop offset="0.292" stop-color="#ecb7c5"/><stop offset="0.314" stop-color="#e8a8b6"/><stop offset="0.353" stop-color="#e9a59e"/><stop offset="0.375" stop-color="#e9a595"/><stop offset="0.397" stop-color="#e9a59d"/><stop offset="0.436" stop-color="#e8a7b5"/><stop offset="0.458" stop-color="#ebb5c3"/><stop offset="0.542" stop-color="#f3d3dd"/><stop offset="0.597" stop-color="#f7e2e8"/><stop offset="1.000" stop-color="#fbf1f3"/></linearGradient><linearGradient id="h86" x1="0" x2="1" y1="0" y2="0"><stop offset="0.000" stop-color="#faeef1"/><stop offset="0.136" stop-color="#f9e9ee"/><stop offset="0.203" stop-color="#f4d7e1"/><stop offset="0.292" stop-color="#ecb7c5"/><stop offset="0.314" stop-color="#e8a8b6"/><stop offset="0.353" stop-color="#e9a59d"/><stop offset="0.375" stop-color="#e9a594"/><stop offset="0.397" stop-color="#e9a59c"/><stop offset="0.436" stop-color="#e8a7b4"/><stop offset="0.458" stop-color="#ebb4c3"/><stop offset="0.542" stop-color="#f3d2dd"/><stop offset="0.597" stop-color="#f7e2e8"/><stop offset="1.000" stop-color="#fbf0f3"/></linearGradient><linearGradient id="h87" x1="0" x2="1" y1="0" y2="0"><stop offset="0.000" stop-color="#faeef1"/><stop offset="0.136" stop-color="#f9e9ee"/><stop offset="0.203" stop-color="#f4d7e0"/><stop offset="0.292" stop-color="#ecb7c5"/><stop offset="0.314" stop-color="#e8a8b6"/><stop offset="0.353" stop-color="#e9a59c"/><stop offset="0.375" stop-color="#e9a593"/><stop offset="0.397" stop-color="#e9a59a"/><stop offset="0.436" stop-color="#e8a7b2"/><stop offset="0.458" stop-color="#ebb4c2"/><stop offset="0.542" stop-color="#f2d2dc"/><stop offset="0.597" stop-color="#f7e2e8"/><stop offset="1.000" stop-color="#fbf0f3"/></linearGradient><linearGradient id="h88" x1="0" x2="1" y1="0" y2="0"><stop offset="0.000" stop-color="#faeef1"/><stop offset="0.136" stop-color="#f9e9ee"/><stop offset="0.203" stop-color="#f4d7e0"/><stop offset="0.292" stop-color="#ecb7c5"/><stop offset="0.314" stop-color="#e8a8b5"/><stop offset="0.353" stop-color="#e9a59b"/><stop offset="0.375" stop-color="#e9a492"/><stop offset="0.397" stop-color="#e9a599"/><stop offset="0.436" stop-color="#e8a7b1"/><stop offset="0.458" stop-color="#ebb3c1"/><stop offset="0.542" stop-color="#f2d1dc"/><stop offset="0.597" stop-color="#f7e1e8"/><stop offset="1.000" stop-color="#fbf0f3"/></linearGradient><linearGradient id="h89" x1="0" x2="1" y1="0" y2="0"><stop offset="0.000" stop-color="#faeef1"/><stop offset="0.142" stop-color="#f9e9ed"/><stop offset="0.203" stop-color="#f4d7e0"/><stop offset="0.292" stop-color="#ecb7c5"/><stop offset="0.314" stop-color="#e8a8b5"/><stop offset="0.347" stop-color="#e9a59e"/><stop offset="0.375" stop-color="#e9a491"/><stop offset="0.403" stop-color="#e9a59a"/><stop offset="0.436" stop-color="#e8a6b0"/><stop offset="0.458" stop-color="#ebb2c1"/><stop offset="0.542" stop-color="#f2d1db"/><stop offset="0.597" stop-color="#f7e1e8"/><stop offset="1.000" stop-color="#fbf0f3"/></linearGradient><linearGradient id="h90" x1="0" x2="1" y1="0" y2="0"><stop offset="0.000" stop-color="#faeef1"/><stop offset="0.142" stop-color="#f9e9ed"/><stop offset="0.203" stop-color="#f4d7e0"/><stop offset="0.292" stop-color="#ecb7c5"/><stop offset="0.314" stop-color="#e8a8b5"/><stop offset="0.353" stop-color="#e9a59a"/><stop offset="0.381" stop-color="#e9a490"/><stop offset="0.408" stop-color="#e9a59c"/><stop offset="0.436" stop-color="#e8a6ae"/><stop offset="0.464" stop-color="#ebb4c3"/><stop offset="0.542" stop-color="#f2d0db"/><stop offset="0.597" stop-color="#f7e1e8"/><stop offset="1.000" stop-color="#fbf0f3"/></linearGradient><linearGradient id="h91" x1="0" x2="1" y1="0" y2="0"><stop offset="0.000" stop-color="#faedf1"/><stop offset="0.142" stop-color="#f9e9ed"/><stop offset="0.203" stop-color="#f4d7e0"/><stop offset="0.292" stop-color="#ecb7c5"/><stop offset="0.314" stop-color="#e8a8b5"/><stop offset="0.331" stop-color="#e8a6a6"/><stop offset="0.353" stop-color="#e9a599"/><stop offset="0.381" stop-color="#eaa48f"/><stop offset="0.419" stop-color="#e9a5a0"/><stop offset="0.442" stop-color="#e8a7b2"/><stop offset="0.464" stop-color="#ebb4c2"/><stop offset="0.542" stop-color="#f2d0da"/><stop offset="0.597" stop-color="#f7e1e8"/><stop offset="1.000" stop-color="#fbf0f3"/></linearGradient><linearGradient id="h92" x1="0" x2="1" y1="0" y2="0"><stop offset="0.000" stop-color="#faedf1"/><stop offset="0.147" stop-color="#f9e8ed"/><stop offset="0.203" stop-color="#f4d7e0"/><stop offset="0.292" stop-color="#ecb7c5"/><stop offset="0.314" stop-color="#e8a8b4"/><stop offset="0.331" stop-color="#e8a6a5"/><stop offset="0.347" stop-color="#e9a59b"/><stop offset="0.381" stop-color="#eaa48e"/><stop offset="0.425" stop-color="#e9a5a2"/><stop offset="0.442" stop-color="#e8a7b1"/><stop offset="0.464" stop-color="#ebb3c2"/><stop offset="0.542" stop-color="#f2cfda"/><stop offset="0.603" stop-color="#f7e2e8"/><stop offset="1.000" stop-color="#fbf0f3"/></linearGradient><linearGradient id="h93" x1="0" x2="1" y1="0" y2="0"><stop offset="0.000" stop-color="#faedf1"/><stop offset="0.147" stop-color="#f9e8ed"/><stop offset="0.203" stop-color="#f4d7e0"/><stop offset="0.292" stop-color="#ecb7c5"/><stop offset="0.314" stop-color="#e8a8b4"/><stop offset="0.336" stop-color="#e9a5a0"/><stop offset="0.364" stop-color="#e9a492"/><stop offset="0.381" stop-color="#eaa48d"/><stop offset="0.425" stop-color="#e9a5a0"/><stop offset="0.447" stop-color="#e8a8b5"/><stop offset="0.464" stop-color="#ebb3c1"/><stop offset="0.542" stop-color="#f2cfda"/><stop offset="0.603" stop-color="#f7e1e8"/><stop offset="1.000" stop-color="#fbf0f3"/></linearGradient><linearGradient id="h94" x1="0" x2="1" y1="0" y2="0"><stop offset="0.000" stop-color="#faedf1"/><stop offset="0.136" stop-color="#f9e9ee"/><stop offset="0.175" stop-color="#f7e1e8"/><stop offset="0.292" stop-color="#ecb7c5"/><stop offset="0.303" stop-color="#eab0bf"/><stop offset="0.319" stop-color="#e8a6ae"/><stop offset="0.331" stop-color="#e9a5a3"/><stop offset="0.347" stop-color="#e9a599"/><stop offset="0.381" stop-color="#eaa48c"/><stop offset="0.431" stop-color="#e9a5a2"/><stop offset="0.447" stop-color="#e8a8b4"/><stop offset="0.464" stop-color="#ebb2c1"/><stop offset="0.603" stop-color="#f7e1e8"/><stop offset="1.000" stop-color="#fbeff3"/></linearGradient><linearGradient id="h95" x1="0" x2="1" y1="0" y2="0"><stop offset="0.000" stop-color="#faedf1"/><stop offset="0.136" stop-color="#f9e9ee"/><stop offset="0.169" stop-color="#f7e3e9"/><stop offset="0.297" stop-color="#ebb4c2"/><stop offset="0.314" stop-color="#e8a8b4"/><stop offset="0.331" stop-color="#e9a5a2"/><stop offset="0.381" stop-color="#eaa48b"/><stop offset="0.431" stop-color="#e9a5a0"/><stop offset="0.447" stop-color="#e8a7b3"/><stop offset="0.464" stop-color="#eab2c0"/><stop offset="0.603" stop-color="#f7e1e8"/><stop offset="1.000" stop-color="#fbeff3"/></linearGradient><linearGradient id="h96" x1="0" x2="1" y1="0" y2="0"><stop offset="0.000" stop-color="#faedf1"/><stop offset="0.136" stop-color="#f9e9ee"/><stop offset="0.169" stop-color="#f7e3e9"/><stop offset="0.297" stop-color="#ebb4c2"/><stop offset="0.314" stop-color="#e8a8b4"/><stop offset="0.331" stop-color="#e9a5a0"/><stop offset="0.381" stop-color="#eaa389"/><stop offset="0.431" stop-color="#e9a59e"/><stop offset="0.447" stop-color="#e8a7b1"/><stop offset="0.464" stop-color="#eab1c0"/><stop offset="0.603" stop-color="#f7e1e8"/><stop offset="1.000" stop-color="#fbeff2"/></linearGradient><linearGradient id="h97" x1="0" x2="1" y1="0" y2="0"><stop offset="0.000" stop-color="#faedf1"/><stop offset="0.136" stop-color="#f9e9ee"/><stop offset="0.169" stop-color="#f7e3e9"/><stop offset="0.297" stop-color="#ebb4c2"/><stop offset="0.314" stop-color="#e8a8b4"/><stop offset="0.331" stop-color="#e9a59f"/><stop offset="0.381" stop-color="#eaa388"/><stop offset="0.431" stop-color="#e9a59c"/><stop offset="0.447" stop-color="#e8a7b0"/><stop offset="0.464" stop-color="#eab0bf"/><stop offset="0.603" stop-color="#f7e1e8"/><stop offset="1.000" stop-color="#fbeff2"/></linearGradient><linearGradient id="h98" x1="0" x2="1" y1="0" y2="0"><stop offset="0.000" stop-color="#faedf1"/><stop offset="0.136" stop-color="#f9e9ee"/><stop offset="0.169" stop-color="#f7e3e9"/><stop offset="0.297" stop-color="#ebb4c2"/><stop offset="0.314" stop-color="#e8a8b3"/><stop offset="0.331" stop-color="#e9a59e"/><stop offset="0.381" stop-color="#eaa387"/><stop offset="0.431" stop-color="#e9a59a"/><stop offset="0.447" stop-color="#e8a7ae"/><stop offset="0.464" stop-color="#eab0be"/><stop offset="0.603" stop-color="#f7e1e7"/><stop offset="1.000" stop-color="#fbeff2"/></linearGradient><linearGradient id="h99" x1="0" x2="1" y1="0" y2="0"><stop offset="0.000" stop-color="#faedf1"/><stop offset="0.142" stop-color="#f9e8ed"/><stop offset="0.169" stop-color="#f7e3ea"/><stop offset="0.297" stop-color="#ebb4c2"/><stop offset="0.314" stop-color="#e8a8b3"/><stop offset="0.331" stop-color="#e9a59d"/><stop offset="0.381" stop-color="#eaa386"/><stop offset="0.431" stop-color="#e9a598"/><stop offset="0.447" stop-color="#e8a6ac"/><stop offset="0.464" stop-color="#eaafbe"/><stop offset="0.603" stop-color="#f6e0e7"/><stop offset="1.000" stop-color="#fbeff2"/></linearGradient><linearGradient id="h100" x1="0" x2="1" y1="0" y2="0"><stop offset="0.000" stop-color="#faedf1"/><stop offset="0.142" stop-color="#f9e8ed"/><stop offset="0.169" stop-color="#f7e4ea"/><stop offset="0.297" stop-color="#ebb4c2"/><stop offset="0.314" stop-color="#e8a8b3"/><stop offset="0.331" stop-color="#e9a59c"/><stop offset="0.381" stop-color="#eaa385"/><stop offset="0.431" stop-color="#e9a596"/><stop offset="0.436" stop-color="#e9a59b"/><stop offset="0.447" stop-color="#e8a6ab"/><stop offset="0.464" stop-color="#eaaebd"/><stop offset="0.603" stop-color="#f6e0e7"/><stop offset="1.000" stop-color="#fbeff2"/></linearGradient><linearGradient id="h101" x1="0" x2="1" y1="0" y2="0"><stop offset="0.000" stop-color="#faedf1"/><stop offset="0.142" stop-color="#f9e8ed"/><stop offset="0.169" stop-color="#f7e4ea"/><stop offset="0.297" stop-color="#ebb4c2"/><stop offset="0.314" stop-color="#e8a8b3"/><stop offset="0.325" stop-color="#e9a5a2"/><stop offset="0.336" stop-color="#e9a597"/><stop offset="0.375" stop-color="#eaa386"/><stop offset="0.386" stop-color="#eaa384"/><stop offset="0.431" stop-color="#e9a595"/><stop offset="0.442" stop-color="#e9a59f"/><stop offset="0.458" stop-color="#e9aab8"/><stop offset="0.469" stop-color="#eab0bf"/><stop offset="0.603" stop-color="#f6e0e7"/><stop offset="1.000" stop-color="#faeff2"/></linearGradient><linearGradient id="h102" x1="0" x2="1" y1="0" y2="0"><stop offset="0.000" stop-color="#faedf1"/><stop offset="0.147" stop-color="#f9e8ed"/><stop offset="0.169" stop-color="#f7e4ea"/><stop offset="0.297" stop-color="#ebb4c2"/><stop offset="0.314" stop-color="#e8a8b3"/><stop offset="0.325" stop-color="#e9a5a1"/><stop offset="0.336" stop-color="#e9a596"/><stop offset="0.386" stop-color="#eba383"/><stop offset="0.436" stop-color="#e9a597"/><stop offset="0.458" stop-color="#e9a9b7"/><stop offset="0.469" stop-color="#eab0be"/><stop offset="0.603" stop-color="#f6e0e7"/><stop offset="1.000" stop-color="#faeef2"/></linearGradient><linearGradient id="h103" x1="0" x2="1" y1="0" y2="0"><stop offset="0.000" stop-color="#faedf1"/><stop offset="0.147" stop-color="#f9e8ed"/><stop offset="0.169" stop-color="#f7e4ea"/><stop offset="0.297" stop-color="#ebb4c2"/><stop offset="0.314" stop-color="#e8a8b4"/><stop offset="0.325" stop-color="#e9a5a1"/><stop offset="0.336" stop-color="#e9a595"/><stop offset="0.386" stop-color="#eba381"/><stop offset="0.436" stop-color="#e9a595"/><stop offset="0.458" stop-color="#e8a9b6"/><stop offset="0.469" stop-color="#eaafbe"/><stop offset="0.603" stop-color="#f6dfe6"/><stop offset="1.000" stop-color="#faeef2"/></linearGradient><linearGradient id="h104" x1="0" x2="1" y1="0" y2="0"><stop offset="0.000" stop-color="#faedf1"/><stop offset="0.147" stop-color="#f9e8ed"/><stop offset="0.169" stop-color="#f8e4ea"/><stop offset="0.297" stop-color="#ebb4c2"/><stop offset="0.308" stop-color="#e9acbb"/><stop offset="0.331" stop-color="#e9a598"/><stop offset="0.336" stop-color="#e9a594"/><stop offset="0.386" stop-color="#eba280"/><stop offset="0.436" stop-color="#e9a493"/><stop offset="0.458" stop-color="#e8a9b5"/><stop offset="0.469" stop-color="#eaaebd"/><stop offset="0.608" stop-color="#f7e0e7"/><stop offset="1.000" stop-color="#faeef2"/></linearGradient><linearGradient id="h105" x1="0" x2="1" y1="0" y2="0"><stop offset="0.000" stop-color="#faedf1"/><stop offset="0.169" stop-color="#f8e4ea"/><stop offset="0.297" stop-color="#ebb4c2"/><stop offset="0.308" stop-color="#e9adbb"/><stop offset="0.331" stop-color="#e9a597"/><stop offset="0.336" stop-color="#e9a492"/><stop offset="0.386" stop-color="#eba27f"/><stop offset="0.436" stop-color="#e9a491"/><stop offset="0.442" stop-color="#e9a597"/><stop offset="0.458" stop-color="#e8a8b4"/><stop offset="0.469" stop-color="#e9aebd"/><stop offset="0.608" stop-color="#f6e0e7"/><stop offset="1.000" stop-color="#faeef1"/></linearGradient><linearGradient id="h106" x1="0" x2="1" y1="0" y2="0"><stop offset="0.000" stop-color="#faedf1"/><stop offset="0.169" stop-color="#f8e4ea"/><stop offset="0.297" stop-color="#ebb4c2"/><stop offset="0.308" stop-color="#e9adbb"/><stop offset="0.331" stop-color="#e9a597"/><stop offset="0.336" stop-color="#e9a491"/><stop offset="0.386" stop-color="#eba27e"/><stop offset="0.436" stop-color="#eaa48f"/><stop offset="0.442" stop-color="#e9a595"/><stop offset="0.458" stop-color="#e8a8b3"/><stop offset="0.469" stop-color="#e9adbc"/><stop offset="0.608" stop-color="#f6e0e7"/><stop offset="1.000" stop-color="#faeef1"/></linearGradient><linearGradient id="h107" x1="0" x2="1" y1="0" y2="0"><stop offset="0.000" stop-color="#faeef1"/><stop offset="0.125" stop-color="#f9eaee"/><stop offset="0.197" stop-color="#f4d9e2"/><stop offset="0.331" stop-color="#e8a8b8"/><stop offset="0.364" stop-color="#e8a6b1"/><stop offset="0.397" stop-color="#e8aab9"/><stop offset="0.525" stop-color="#f4d8e1"/><stop offset="0.603" stop-color="#f8e6ec"/><stop offset="1.000" stop-color="#fcf3f5"/></linearGradient><linearGradient id="h108" x1="0" x2="1" y1="0" y2="0"><stop offset="0.000" stop-color="#faeef1"/><stop offset="0.125" stop-color="#f9eaee"/><stop offset="0.197" stop-color="#f4d9e2"/><stop offset="0.325" stop-color="#e8a9b9"/><stop offset="0.364" stop-color="#e8a6af"/><stop offset="0.397" stop-color="#e8a9b8"/><stop offset="0.531" stop-color="#f5d9e2"/><stop offset="0.603" stop-color="#f8e6ec"/><stop offset="1.000" stop-color="#fcf3f5"/></linearGradient><linearGradient id="h109" x1="0" x2="1" y1="0" y2="0"><stop offset="0.000" stop-color="#faeef1"/><stop offset="0.119" stop-color="#f9ebef"/><stop offset="0.186" stop-color="#f5dce4"/><stop offset="0.325" stop-color="#e8a9b8"/><stop offset="0.364" stop-color="#e8a6ae"/><stop offset="0.403" stop-color="#e8a9b8"/><stop offset="0.531" stop-color="#f4d9e2"/><stop offset="0.603" stop-color="#f8e6eb"/><stop offset="1.000" stop-color="#fcf3f5"/></linearGradient><linearGradient id="h110" x1="0" x2="1" y1="0" y2="0"><stop offset="0.000" stop-color="#faeef1"/><stop offset="0.119" stop-color="#f9ebef"/><stop offset="0.186" stop-color="#f5dce4"/><stop offset="0.319" stop-color="#e8aab9"/><stop offset="0.364" stop-color="#e8a6ac"/><stop offset="0.403" stop-color="#e8a8b7"/><stop offset="0.531" stop-color="#f4d8e1"/><stop offset="0.592" stop-color="#f8e4ea"/><stop offset="1.000" stop-color="#fcf2f5"/></linearGradient><linearGradient id="h111" x1="0" x2="1" y1="0" y2="0"><stop offset="0.000" stop-color="#faeef1"/><stop offset="0.119" stop-color="#f9ebef"/><stop offset="0.192" stop-color="#f5dae3"/><stop offset="0.286" stop-color="#ecb8c6"/><stop offset="0.319" stop-color="#e8a9b8"/><stop offset="0.364" stop-color="#e8a6aa"/><stop offset="0.408" stop-color="#e8a9b8"/><stop offset="0.531" stop-color="#f4d8e1"/><stop offset="0.592" stop-color="#f7e4ea"/><stop offset="1.000" stop-color="#fcf2f5"/></linearGradient><linearGradient id="h112" x1="0" x2="1" y1="0" y2="0"><stop offset="0.000" stop-color="#faeef1"/><stop offset="0.119" stop-color="#f9ebef"/><stop offset="0.192" stop-color="#f5dae3"/><stop offset="0.281" stop-color="#edbac8"/><stop offset="0.314" stop-color="#e8aab9"/><stop offset="0.364" stop-color="#e8a6a8"/><stop offset="0.414" stop-color="#e8a9b8"/><stop offset="0.447" stop-color="#ecb9c7"/><stop offset="0.531" stop-color="#f4d7e0"/><stop offset="0.592" stop-color="#f7e4ea"/><stop offset="1.000" stop-color="#fbf2f5"/></linearGradient><linearGradient id="h113" x1="0" x2="1" y1="0" y2="0"><stop offset="0.000" stop-color="#faeef1"/><stop offset="0.119" stop-color="#f9ebef"/><stop offset="0.192" stop-color="#f5dae2"/><stop offset="0.281" stop-color="#edbac7"/><stop offset="0.314" stop-color="#e8a9b8"/><stop offset="0.364" stop-color="#e8a6a6"/><stop offset="0.414" stop-color="#e8a8b7"/><stop offset="0.447" stop-color="#ecb8c6"/><stop offset="0.531" stop-color="#f4d6e0"/><stop offset="0.592" stop-color="#f7e4ea"/><stop offset="1.000" stop-color="#fbf2f4"/></linearGradient><linearGradient id="h114" x1="0" x2="1" y1="0" y2="0"><stop offset="0.000" stop-color="#faeef1"/><stop offset="0.119" stop-color="#f9eaef"/><stop offset="0.192" stop-color="#f5dae2"/><stop offset="0.281" stop-color="#ecbac7"/><stop offset="0.314" stop-color="#e8a8b7"/><stop offset="0.364" stop-color="#e8a6a5"/><stop offset="0.419" stop-color="#e8a9b8"/><stop offset="0.447" stop-color="#ecb8c5"/><stop offset="0.531" stop-color="#f3d5df"/><stop offset="0.592" stop-color="#f7e3ea"/><stop offset="1.000" stop-color="#fbf2f4"/></linearGradient><linearGradient id="h115" x1="0" x2="1" y1="0" y2="0"><stop offset="0.000" stop-color="#faeef1"/><stop offset="0.119" stop-color="#f9eaef"/><stop offset="0.192" stop-color="#f5dae2"/><stop offset="0.281" stop-color="#ecbac7"/><stop offset="0.314" stop-color="#e8a8b7"/><stop offset="0.364" stop-color="#e9a5a4"/><stop offset="0.419" stop-color="#e8a8b7"/><stop offset="0.447" stop-color="#ecb7c5"/><stop offset="0.525" stop-color="#f3d3dd"/><stop offset="0.592" stop-color="#f7e3e9"/><stop offset="1.000" stop-color="#fbf2f4"/></linearGradient><linearGradient id="h116" x1="0" x2="1" y1="0" y2="0"><stop offset="0.000" stop-color="#faeef1"/><stop offset="0.119" stop-color="#f9eaef"/><stop offset="0.192" stop-color="#f5d9e2"/><stop offset="0.281" stop-color="#ecbac7"/><stop offset="0.308" stop-color="#e8a9b9"/><stop offset="0.364" stop-color="#e9a5a3"/><stop offset="0.419" stop-color="#e8a8b6"/><stop offset="0.447" stop-color="#ecb7c5"/><stop offset="0.525" stop-color="#f3d3dd"/><stop offset="0.592" stop-color="#f7e3e9"/><stop offset="1.000" stop-color="#fbf2f4"/></linearGradient><linearGradient id="h117" x1="0" x2="1" y1="0" y2="0"><stop offset="0.000" stop-color="#faeef1"/><stop offset="0.125" stop-color="#f9eaee"/><stop offset="0.192" stop-color="#f4d9e2"/><stop offset="0.281" stop-color="#ecbac7"/><stop offset="0.308" stop-color="#e8a9b8"/><stop offset="0.364" stop-color="#e9a5a2"/><stop offset="0.381" stop-color="#e8a6a5"/><stop offset="0.419" stop-color="#e8a7b6"/><stop offset="0.447" stop-color="#ecb6c4"/><stop offset="0.525" stop-color="#f3d2dc"/><stop offset="0.592" stop-color="#f7e3e9"/><stop offset="1.000" stop-color="#fbf2f4"/></linearGradient><linearGradient id="h118" x1="0" x2="1" y1="0" y2="0"><stop offset="0.000" stop-color="#faeef1"/><stop offset="0.125" stop-color="#f9eaee"/><stop offset="0.192" stop-color="#f4d9e2"/><stop offset="0.281" stop-color="#ecb9c7"/><stop offset="0.308" stop-color="#e8a9b8"/><stop offset="0.364" stop-color="#e9a5a0"/><stop offset="0.381" stop-color="#e9a5a4"/><stop offset="0.425" stop-color="#e8a8b7"/><stop offset="0.447" stop-color="#ebb6c4"/><stop offset="0.525" stop-color="#f2d2dc"/><stop offset="0.592" stop-color="#f7e3e9"/><stop offset="1.000" stop-color="#fbf1f4"/></linearGradient><linearGradient id="h119" x1="0" x2="1" y1="0" y2="0"><stop offset="0.000" stop-color="#faedf1"/><stop offset="0.125" stop-color="#f9eaee"/><stop offset="0.192" stop-color="#f4d9e2"/><stop offset="0.281" stop-color="#ecb9c7"/><stop offset="0.308" stop-color="#e8a8b7"/><stop offset="0.353" stop-color="#e9a5a3"/><stop offset="0.369" stop-color="#e9a59f"/><stop offset="0.425" stop-color="#e8a8b7"/><stop offset="0.447" stop-color="#ebb5c3"/><stop offset="0.525" stop-color="#f2d1dc"/><stop offset="0.592" stop-color="#f7e3e9"/><stop offset="1.000" stop-color="#fbf1f4"/></linearGradient><linearGradient id="h120" x1="0" x2="1" y1="0" y2="0"><stop offset="0.000" stop-color="#faedf1"/><stop offset="0.125" stop-color="#f9eaee"/><stop offset="0.192" stop-color="#f4d9e2"/><stop offset="0.281" stop-color="#ecb9c7"/><stop offset="0.308" stop-color="#e8a8b7"/><stop offset="0.353" stop-color="#e9a5a2"/><stop offset="0.369" stop-color="#e9a59e"/><stop offset="0.425" stop-color="#e8a8b6"/><stop offset="0.447" stop-color="#ebb5c3"/><stop offset="0.525" stop-color="#f2d1db"/><stop offset="0.592" stop-color="#f7e3e9"/><stop offset="1.000" stop-color="#fbf1f4"/></linearGradient><linearGradient id="h121" x1="0" x2="1" y1="0" y2="0"><stop offset="0.000" stop-color="#faedf1"/><stop offset="0.125" stop-color="#f9eaee"/><stop offset="0.192" stop-color="#f4d9e2"/><stop offset="0.281" stop-color="#ecb9c6"/><stop offset="0.308" stop-color="#e8a8b6"/><stop offset="0.353" stop-color="#e9a5a0"/><stop offset="0.369" stop-color="#e9a59d"/><stop offset="0.425" stop-color="#e8a7b5"/><stop offset="0.453" stop-color="#ecb7c5"/><stop offset="0.531" stop-color="#f3d3dd"/><stop offset="0.592" stop-color="#f7e3e9"/><stop offset="1.000" stop-color="#fbf1f4"/></linearGradient><linearGradient id="h122" x1="0" x2="1" y1="0" y2="0"><stop offset="0.000" stop-color="#faedf1"/><stop offset="0.125" stop-color="#f9eaee"/><stop offset="0.192" stop-color="#f4d9e1"/><stop offset="0.281" stop-color="#ecb9c6"/><stop offset="0.308" stop-color="#e8a8b6"/><stop offset="0.353" stop-color="#e9a59f"/><stop offset="0.369" stop-color="#e9a59b"/><stop offset="0.425" stop-color="#e8a7b4"/><stop offset="0.453" stop-color="#ecb6c4"/><stop offset="0.531" stop-color="#f3d2dc"/><stop offset="0.592" stop-color="#f7e2e9"/><stop offset="1.000" stop-color="#fbf1f4"/></linearGradient><linearGradient id="h123" x1="0" x2="1" y1="0" y2="0"><stop offset="0.000" stop-color="#faedf1"/><stop offset="0.125" stop-color="#f9eaee"/><stop offset="0.192" stop-color="#f4d9e1"/><stop offset="0.281" stop-color="#ecb9c6"/><stop offset="0.308" stop-color="#e8a7b5"/><stop offset="0.347" stop-color="#e9a5a0"/><stop offset="0.369" stop-color="#e9a59a"/><stop offset="0.425" stop-color="#e8a7b3"/><stop offset="0.453" stop-color="#ebb6c4"/><stop offset="0.531" stop-color="#f2d2dc"/><stop offset="0.592" stop-color="#f7e2e9"/><stop offset="1.000" stop-color="#fbf1f4"/></linearGradient><linearGradient id="h124" x1="0" x2="1" y1="0" y2="0"><stop offset="0.000" stop-color="#faedf1"/><stop offset="0.125" stop-color="#f9e9ee"/><stop offset="0.192" stop-color="#f4d8e1"/><stop offset="0.281" stop-color="#ecb9c6"/><stop offset="0.308" stop-color="#e8a7b4"/><stop offset="0.347" stop-color="#e9a59f"/><stop offset="0.369" stop-color="#e9a598"/><stop offset="0.397" stop-color="#e9a5a3"/><stop offset="0.431" stop-color="#e8a8b6"/><stop offset="0.453" stop-color="#ebb5c3"/><stop offset="0.531" stop-color="#f2d1dc"/><stop offset="0.592" stop-color="#f7e2e9"/><stop offset="1.000" stop-color="#fbf1f4"/></linearGradient><linearGradient id="h125" x1="0" x2="1" y1="0" y2="0"><stop offset="0.000" stop-color="#faedf1"/><stop offset="0.131" stop-color="#f9e9ee"/><stop offset="0.192" stop-color="#f4d8e1"/><stop offset="0.281" stop-color="#ecb8c6"/><stop offset="0.308" stop-color="#e8a7b4"/><stop offset="0.347" stop-color="#e9a59e"/><stop offset="0.369" stop-color="#e9a597"/><stop offset="0.397" stop-color="#e9a5a1"/><stop offset="0.431" stop-color="#e8a7b4"/><stop offset="0.453" stop-color="#ebb5c3"/><stop offset="0.531" stop-color="#f2d1db"/><stop offset="0.592" stop-color="#f7e2e9"/><stop offset="1.000" stop-color="#fbf1f3"/></linearGradient><linearGradient id="h126" x1="0" x2="1" y1="0" y2="0"><stop offset="0.000" stop-color="#faedf1"/><stop offset="0.131" stop-color="#f9e9ee"/><stop offset="0.192" stop-color="#f4d8e1"/><stop offset="0.281" stop-color="#ecb8c6"/><stop offset="0.308" stop-color="#e8a7b3"/><stop offset="0.347" stop-color="#e9a59d"/><stop offset="0.369" stop-color="#e9a596"/><stop offset="0.397" stop-color="#e9a59f"/><stop offset="0.431" stop-color="#e8a7b3"/><stop offset="0.453" stop-color="#ebb4c3"/><stop offset="0.531" stop-color="#f2d1db"/><stop offset="0.592" stop-color="#f7e2e8"/><stop offset="1.000" stop-color="#fbf1f3"/></linearGradient><linearGradient id="h127" x1="0" x2="1" y1="0" y2="0"><stop offset="0.000" stop-color="#faedf1"/><stop offset="0.131" stop-color="#f9e9ee"/><stop offset="0.192" stop-color="#f4d8e1"/><stop offset="0.281" stop-color="#ecb8c6"/><stop offset="0.308" stop-color="#e8a7b2"/><stop offset="0.342" stop-color="#e9a59e"/><stop offset="0.369" stop-color="#e9a594"/><stop offset="0.408" stop-color="#e9a5a3"/><stop offset="0.431" stop-color="#e8a7b2"/><stop offset="0.453" stop-color="#ebb4c2"/><stop offset="0.531" stop-color="#f2d0db"/><stop offset="0.592" stop-color="#f7e2e8"/><stop offset="1.000" stop-color="#fbf0f3"/></linearGradient><linearGradient id="h128" x1="0" x2="1" y1="0" y2="0"><stop offset="0.000" stop-color="#faedf1"/><stop offset="0.131" stop-color="#f9e9ee"/><stop offset="0.192" stop-color="#f4d8e1"/><stop offset="0.281" stop-color="#ecb8c6"/><stop offset="0.308" stop-color="#e8a7b2"/><stop offset="0.342" stop-color="#e9a59d"/><stop offset="0.369" stop-color="#e9a593"/><stop offset="0.414" stop-color="#e9a5a4"/><stop offset="0.431" stop-color="#e8a7b1"/><stop offset="0.453" stop-color="#ebb3c2"/><stop offset="0.531" stop-color="#f2d0da"/><stop offset="0.592" stop-color="#f7e2e8"/><stop offset="1.000" stop-color="#fbf0f3"/></linearGradient><linearGradient id="h129" x1="0" x2="1" y1="0" y2="0"><stop offset="0.000" stop-color="#faedf1"/><stop offset="0.136" stop-color="#f9e8ed"/><stop offset="0.192" stop-color="#f4d8e1"/><stop offset="0.281" stop-color="#ecb8c6"/><stop offset="0.292" stop-color="#eab1c0"/><stop offset="0.308" stop-color="#e8a7b1"/><stop offset="0.336" stop-color="#e9a59e"/><stop offset="0.369" stop-color="#e9a491"/><stop offset="0.419" stop-color="#e8a6a6"/><stop offset="0.436" stop-color="#e8a8b5"/><stop offset="0.453" stop-color="#ebb3c1"/><stop offset="0.531" stop-color="#f2cfda"/><stop offset="0.592" stop-color="#f7e1e8"/><stop offset="1.000" stop-color="#fbf0f3"/></linearGradient><linearGradient id="h130" x1="0" x2="1" y1="0" y2="0"><stop offset="0.000" stop-color="#faedf1"/><stop offset="0.136" stop-color="#f9e8ed"/><stop offset="0.192" stop-color="#f4d7e1"/><stop offset="0.281" stop-color="#ecb8c5"/><stop offset="0.292" stop-color="#eab1c0"/><stop offset="0.308" stop-color="#e8a7b0"/><stop offset="0.325" stop-color="#e9a5a3"/><stop offset="0.369" stop-color="#eaa490"/><stop offset="0.419" stop-color="#e9a5a4"/><stop offset="0.436" stop-color="#e8a8b4"/><stop offset="0.453" stop-color="#ebb2c1"/><stop offset="0.536" stop-color="#f2d1db"/><stop offset="0.592" stop-color="#f7e1e8"/><stop offset="1.000" stop-color="#fbf0f3"/></linearGradient><linearGradient id="h131" x1="0" x2="1" y1="0" y2="0"><stop offset="0.000" stop-color="#faedf1"/><stop offset="0.142" stop-color="#f8e7ed"/><stop offset="0.197" stop-color="#f3d5df"/><stop offset="0.286" stop-color="#ebb5c3"/><stop offset="0.308" stop-color="#e8a6af"/><stop offset="0.325" stop-color="#e9a5a1"/><stop offset="0.369" stop-color="#eaa48f"/><stop offset="0.419" stop-color="#e9a5a2"/><stop offset="0.436" stop-color="#e8a8b3"/><stop offset="0.453" stop-color="#eab2c0"/><stop offset="0.592" stop-color="#f7e1e8"/><stop offset="1.000" stop-color="#fbf0f3"/></linearGradient><linearGradient id="h132" x1="0" x2="1" y1="0" y2="0"><stop offset="0.000" stop-color="#faedf1"/><stop offset="0.142" stop-color="#f8e7ed"/><stop offset="0.197" stop-color="#f3d5df"/><stop offset="0.286" stop-color="#ebb5c3"/><stop offset="0.308" stop-color="#e8a6ae"/><stop offset="0.325" stop-color="#e9a5a0"/><stop offset="0.369" stop-color="#eaa48d"/><stop offset="0.419" stop-color="#e9a5a0"/><stop offset="0.436" stop-color="#e8a7b2"/><stop offset="0.453" stop-color="#eab1c0"/><stop offset="0.592" stop-color="#f7e1e8"/><stop offset="1.000" stop-color="#fbf0f3"/></linearGradient><linearGradient id="h133" x1="0" x2="1" y1="0" y2="0"><stop offset="0.000" stop-color="#faedf1"/><stop offset="0.131" stop-color="#f9e9ed"/><stop offset="0.164" stop-color="#f7e1e8"/><stop offset="0.286" stop-color="#ebb5c3"/><stop offset="0.303" stop-color="#e8a8b4"/><stop offset="0.319" stop-color="#e9a5a1"/><stop offset="0.369" stop-color="#eaa48c"/><stop offset="0.419" stop-color="#e9a59e"/><stop offset="0.436" stop-color="#e8a7b1"/><stop offset="0.453" stop-color="#eab1bf"/><stop offset="0.592" stop-color="#f7e1e8"/><stop offset="1.000" stop-color="#fbf0f3"/></linearGradient><linearGradient id="h134" x1="0" x2="1" y1="0" y2="0"><stop offset="0.000" stop-color="#faedf1"/><stop offset="0.131" stop-color="#f9e8ed"/><stop offset="0.164" stop-color="#f7e1e8"/><stop offset="0.286" stop-color="#ebb4c2"/><stop offset="0.303" stop-color="#e8a8b4"/><stop offset="0.319" stop-color="#e9a5a0"/><stop offset="0.369" stop-color="#eaa48a"/><stop offset="0.419" stop-color="#e9a59c"/><stop offset="0.436" stop-color="#e8a7b0"/><stop offset="0.453" stop-color="#eab0bf"/><stop offset="0.592" stop-color="#f7e1e8"/><stop offset="1.000" stop-color="#fbeff3"/></linearGradient><linearGradient id="h135" x1="0" x2="1" y1="0" y2="0"><stop offset="0.000" stop-color="#faedf1"/><stop offset="0.131" stop-color="#f9e8ed"/><stop offset="0.164" stop-color="#f7e1e8"/><stop offset="0.286" stop-color="#ebb4c2"/><stop offset="0.303" stop-color="#e8a8b3"/><stop offset="0.319" stop-color="#e9a59f"/><stop offset="0.369" stop-color="#eaa389"/><stop offset="0.419" stop-color="#e9a59a"/><stop offset="0.436" stop-color="#e8a7ae"/><stop offset="0.453" stop-color="#eab0be"/><stop offset="0.592" stop-color="#f7e1e7"/><stop offset="1.000" stop-color="#fbeff2"/></linearGradient><linearGradient id="h136" x1="0" x2="1" y1="0" y2="0"><stop offset="0.000" stop-color="#faedf1"/><stop offset="0.136" stop-color="#f9e8ed"/><stop offset="0.164" stop-color="#f7e1e8"/><stop offset="0.286" stop-color="#ebb4c2"/><stop offset="0.303" stop-color="#e8a8b3"/><stop offset="0.319" stop-color="#e9a59d"/><stop offset="0.369" stop-color="#eaa387"/><stop offset="0.419" stop-color="#e9a598"/><stop offset="0.436" stop-color="#e8a6ad"/><stop offset="0.453" stop-color="#eaafbe"/><stop offset="0.592" stop-color="#f6e0e7"/><stop offset="1.000" stop-color="#fbeff2"/></linearGradient><linearGradient id="h137" x1="0" x2="1" y1="0" y2="0"><stop offset="0.000" stop-color="#faedf1"/><stop offset="0.136" stop-color="#f9e8ed"/><stop offset="0.164" stop-color="#f7e1e8"/><stop offset="0.286" stop-color="#ebb4c2"/><stop offset="0.303" stop-color="#e8a8b3"/><stop offset="0.319" stop-color="#e9a59c"/><stop offset="0.369" stop-color="#eaa386"/><stop offset="0.419" stop-color="#e9a596"/><stop offset="0.425" stop-color="#e9a59b"/><stop offset="0.436" stop-color="#e8a6ab"/><stop offset="0.453" stop-color="#eaaebd"/><stop offset="0.592" stop-color="#f6e0e7"/><stop offset="1.000" stop-color="#fbeff2"/></linearGradient><linearGradient id="h138" x1="0" x2="1" y1="0" y2="0"><stop offset="0.000" stop-color="#faedf1"/><stop offset="0.136" stop-color="#f9e8ed"/><stop offset="0.164" stop-color="#f7e1e8"/><stop offset="0.286" stop-color="#ebb4c2"/><stop offset="0.303" stop-color="#e8a8b2"/><stop offset="0.319" stop-color="#e9a59a"/><stop offset="0.369" stop-color="#eaa384"/><stop offset="0.419" stop-color="#e9a595"/><stop offset="0.425" stop-color="#e9a599"/><stop offset="0.436" stop-color="#e8a6aa"/><stop offset="0.453" stop-color="#e9aebd"/><stop offset="0.592" stop-color="#f6e0e7"/><stop offset="1.000" stop-color="#fbeff2"/></linearGradient><linearGradient id="h139" x1="0" x2="1" y1="0" y2="0"><stop offset="0.000" stop-color="#faedf1"/><stop offset="0.147" stop-color="#f8e7ec"/><stop offset="0.264" stop-color="#edbdca"/><stop offset="0.292" stop-color="#eab0be"/><stop offset="0.308" stop-color="#e8a6a8"/><stop offset="0.319" stop-color="#e9a599"/><stop offset="0.325" stop-color="#e9a595"/><stop offset="0.369" stop-color="#eaa383"/><stop offset="0.419" stop-color="#e9a493"/><stop offset="0.431" stop-color="#e9a59e"/><stop offset="0.442" stop-color="#e8a7b1"/><stop offset="0.453" stop-color="#e9adbc"/><stop offset="0.592" stop-color="#f6e0e7"/><stop offset="1.000" stop-color="#fbeff2"/></linearGradient><linearGradient id="h140" x1="0" x2="1" y1="0" y2="0"><stop offset="0.000" stop-color="#faedf1"/><stop offset="0.136" stop-color="#f9e8ed"/><stop offset="0.158" stop-color="#f7e3ea"/><stop offset="0.286" stop-color="#ebb3c2"/><stop offset="0.297" stop-color="#e9abb9"/><stop offset="0.319" stop-color="#e9a597"/><stop offset="0.358" stop-color="#eaa385"/><stop offset="0.375" stop-color="#eba381"/><stop offset="0.425" stop-color="#e9a595"/><stop offset="0.442" stop-color="#e8a7b0"/><stop offset="0.453" stop-color="#e9acbc"/><stop offset="0.592" stop-color="#f6e0e7"/><stop offset="1.000" stop-color="#faeff2"/></linearGradient><linearGradient id="h141" x1="0" x2="1" y1="0" y2="0"><stop offset="0.000" stop-color="#faedf1"/><stop offset="0.147" stop-color="#f8e7ec"/><stop offset="0.264" stop-color="#edbdca"/><stop offset="0.292" stop-color="#eaafbe"/><stop offset="0.303" stop-color="#e8a7b1"/><stop offset="0.314" stop-color="#e9a59d"/><stop offset="0.325" stop-color="#e9a492"/><stop offset="0.375" stop-color="#eba280"/><stop offset="0.425" stop-color="#e9a493"/><stop offset="0.447" stop-color="#e8a9b6"/><stop offset="0.458" stop-color="#eaafbe"/><stop offset="0.592" stop-color="#f6dfe7"/><stop offset="1.000" stop-color="#faeef2"/></linearGradient><linearGradient id="h142" x1="0" x2="1" y1="0" y2="0"><stop offset="0.000" stop-color="#faedf1"/><stop offset="0.147" stop-color="#f8e7ec"/><stop offset="0.264" stop-color="#edbdca"/><stop offset="0.292" stop-color="#eaafbe"/><stop offset="0.303" stop-color="#e8a7b1"/><stop offset="0.314" stop-color="#e9a59c"/><stop offset="0.325" stop-color="#e9a490"/><stop offset="0.375" stop-color="#eba27e"/><stop offset="0.425" stop-color="#e9a491"/><stop offset="0.447" stop-color="#e8a9b5"/><stop offset="0.458" stop-color="#eaaebd"/><stop offset="0.592" stop-color="#f6dfe6"/><stop offset="1.000" stop-color="#faeef2"/></linearGradient><linearGradient id="h143" x1="0" x2="1" y1="0" y2="0"><stop offset="0.000" stop-color="#f8e9ec"/><stop offset="0.164" stop-color="#f7e5e8"/><stop offset="0.219" stop-color="#f5dad5"/><stop offset="0.264" stop-color="#f1c8b3"/><stop offset="0.292" stop-color="#efbb9a"/><stop offset="0.303" stop-color="#eeb48d"/><stop offset="0.331" stop-color="#e99d64"/><stop offset="0.342" stop-color="#e89b5f"/><stop offset="0.364" stop-color="#e99d62"/><stop offset="0.375" stop-color="#e9a067"/><stop offset="0.414" stop-color="#edaf86"/><stop offset="0.458" stop-color="#eeb998"/><stop offset="0.492" stop-color="#f1c9b6"/><stop offset="0.531" stop-color="#f4d9d3"/><stop offset="0.575" stop-color="#f6e2e5"/><stop offset="1.000" stop-color="#f8ecef"/></linearGradient><linearGradient id="cbd" x1="0" x2="1" y1="0" y2="0"><stop offset="0.00" stop-color="#f0d0d8"/><stop offset="0.05" stop-color="#f1d3db"/><stop offset="0.10" stop-color="#f2d7dd"/><stop offset="0.15" stop-color="#f3dae0"/><stop offset="0.20" stop-color="#f4dee2"/><stop offset="0.25" stop-color="#f6e2e6"/><stop offset="0.30" stop-color="#f7e8ea"/><stop offset="0.35" stop-color="#f9edef"/><stop offset="0.40" stop-color="#faf3f3"/><stop offset="0.45" stop-color="#fcf8f8"/><stop offset="0.50" stop-color="#ffffff"/><stop offset="0.55" stop-color="#faeee2"/><stop offset="0.60" stop-color="#f6dec9"/><stop offset="0.65" stop-color="#f1d0b1"/><stop offset="0.70" stop-color="#edc19a"/><stop offset="0.75" stop-color="#e9b283"/><stop offset="0.80" stop-color="#e5a46e"/><stop offset="0.85" stop-color="#e19659"/><stop offset="0.90" stop-color="#db8846"/><stop offset="0.95" stop-color="#d67a34"/><stop offset="1.00" stop-color="#d06c22"/></linearGradient><linearGradient id="h144" x1="0" x2="1" y1="0" y2="0"><stop offset="0.000" stop-color="#f3dadf"/><stop offset="0.139" stop-color="#f5e1e5"/><stop offset="0.286" stop-color="#fefdfd"/><stop offset="0.292" stop-color="#fefaf7"/><stop offset="0.315" stop-color="#f4d8be"/><stop offset="0.343" stop-color="#e29c62"/><stop offset="0.377" stop-color="#db8644"/><stop offset="0.394" stop-color="#d9823f"/><stop offset="0.451" stop-color="#d98340"/><stop offset="0.490" stop-color="#e29b60"/><stop offset="0.502" stop-color="#e8b181"/><stop offset="0.519" stop-color="#f3d6bb"/><stop offset="0.541" stop-color="#fdf9f5"/><stop offset="0.547" stop-color="#fefdfc"/><stop offset="0.592" stop-color="#faf2f3"/><stop offset="0.711" stop-color="#f5dfe4"/><stop offset="0.819" stop-color="#f2d7dd"/><stop offset="1.000" stop-color="#f2d7dd"/></linearGradient><linearGradient id="h145" x1="0" x2="1" y1="0" y2="0"><stop offset="0.000" stop-color="#f3dadf"/><stop offset="0.139" stop-color="#f5e1e5"/><stop offset="0.286" stop-color="#fefdfc"/><stop offset="0.292" stop-color="#fdf9f5"/><stop offset="0.315" stop-color="#f3d6bc"/><stop offset="0.332" stop-color="#e8b181"/><stop offset="0.343" stop-color="#e29b61"/><stop offset="0.377" stop-color="#db8644"/><stop offset="0.388" stop-color="#d98340"/><stop offset="0.451" stop-color="#d98340"/><stop offset="0.490" stop-color="#e29a60"/><stop offset="0.502" stop-color="#e8af7f"/><stop offset="0.519" stop-color="#f3d4b9"/><stop offset="0.541" stop-color="#fdf8f3"/><stop offset="0.547" stop-color="#fefdfc"/><stop offset="0.592" stop-color="#faf2f3"/><stop offset="0.711" stop-color="#f5e0e4"/><stop offset="0.819" stop-color="#f2d7dd"/><stop offset="1.000" stop-color="#f2d7dd"/></linearGradient><linearGradient id="h146" x1="0" x2="1" y1="0" y2="0"><stop offset="0.000" stop-color="#f3dadf"/><stop offset="0.133" stop-color="#f5e1e5"/><stop offset="0.286" stop-color="#fefdfc"/><stop offset="0.292" stop-color="#fdf8f3"/><stop offset="0.315" stop-color="#f3d4b9"/><stop offset="0.332" stop-color="#e8af7f"/><stop offset="0.343" stop-color="#e29a60"/><stop offset="0.377" stop-color="#da8543"/><stop offset="0.388" stop-color="#d98340"/><stop offset="0.451" stop-color="#da8340"/><stop offset="0.490" stop-color="#e29a5f"/><stop offset="0.502" stop-color="#e7ae7d"/><stop offset="0.524" stop-color="#f5ddc7"/><stop offset="0.547" stop-color="#fefdfc"/><stop offset="0.711" stop-color="#f5e0e4"/><stop offset="0.819" stop-color="#f2d7dd"/><stop offset="1.000" stop-color="#f2d7dd"/></linearGradient><linearGradient id="h147" x1="0" x2="1" y1="0" y2="0"><stop offset="0.000" stop-color="#f3dadf"/><stop offset="0.133" stop-color="#f5e1e5"/><stop offset="0.286" stop-color="#fefdfc"/><stop offset="0.309" stop-color="#f5ddc6"/><stop offset="0.332" stop-color="#e7ae7c"/><stop offset="0.343" stop-color="#e29a5f"/><stop offset="0.377" stop-color="#da8543"/><stop offset="0.388" stop-color="#da8340"/><stop offset="0.451" stop-color="#da8341"/><stop offset="0.490" stop-color="#e29a5f"/><stop offset="0.502" stop-color="#e7ad7b"/><stop offset="0.524" stop-color="#f5dcc5"/><stop offset="0.547" stop-color="#fefdfc"/><stop offset="0.711" stop-color="#f5e0e4"/><stop offset="0.819" stop-color="#f2d7dd"/><stop offset="1.000" stop-color="#f2d7dd"/></linearGradient><linearGradient id="h148" x1="0" x2="1" y1="0" y2="0"><stop offset="0.000" stop-color="#f3dadf"/><stop offset="0.133" stop-color="#f5e1e5"/><stop offset="0.286" stop-color="#fefdfb"/><stop offset="0.309" stop-color="#f4dbc3"/><stop offset="0.337" stop-color="#e4a069"/><stop offset="0.343" stop-color="#e2995f"/><stop offset="0.354" stop-color="#e09254"/><stop offset="0.377" stop-color="#da8543"/><stop offset="0.388" stop-color="#da8441"/><stop offset="0.451" stop-color="#da8442"/><stop offset="0.490" stop-color="#e29a5f"/><stop offset="0.502" stop-color="#e7ac7a"/><stop offset="0.524" stop-color="#f5dbc4"/><stop offset="0.547" stop-color="#fefdfc"/><stop offset="0.711" stop-color="#f5e0e4"/><stop offset="0.819" stop-color="#f2d7dd"/><stop offset="1.000" stop-color="#f2d7dd"/></linearGradient><linearGradient id="h149" x1="0" x2="1" y1="0" y2="0"><stop offset="0.000" stop-color="#f3dadf"/><stop offset="0.145" stop-color="#f6e2e6"/><stop offset="0.281" stop-color="#fefdfd"/><stop offset="0.286" stop-color="#fefcf9"/><stop offset="0.309" stop-color="#f4d9c1"/><stop offset="0.337" stop-color="#e3a068"/><stop offset="0.349" stop-color="#e1965a"/><stop offset="0.371" stop-color="#dc8948"/><stop offset="0.388" stop-color="#da8543"/><stop offset="0.451" stop-color="#da8643"/><stop offset="0.490" stop-color="#e29b61"/><stop offset="0.502" stop-color="#e7ad7c"/><stop offset="0.524" stop-color="#f5dbc4"/><stop offset="0.547" stop-color="#fefdfc"/><stop offset="0.711" stop-color="#f5e0e4"/><stop offset="0.819" stop-color="#f2d7dd"/><stop offset="1.000" stop-color="#f2d7dd"/></linearGradient><linearGradient id="h150" x1="0" x2="1" y1="0" y2="0"><stop offset="0.000" stop-color="#f3dadf"/><stop offset="0.145" stop-color="#f6e3e6"/><stop offset="0.281" stop-color="#fefdfd"/><stop offset="0.286" stop-color="#fefaf7"/><stop offset="0.309" stop-color="#f4d8bf"/><stop offset="0.337" stop-color="#e39f67"/><stop offset="0.371" stop-color="#dc8a49"/><stop offset="0.388" stop-color="#db8745"/><stop offset="0.451" stop-color="#db8745"/><stop offset="0.490" stop-color="#e29c62"/><stop offset="0.502" stop-color="#e8ae7d"/><stop offset="0.524" stop-color="#f5dcc5"/><stop offset="0.547" stop-color="#fefdfc"/><stop offset="0.711" stop-color="#f5e0e4"/><stop offset="0.819" stop-color="#f2d7dd"/><stop offset="1.000" stop-color="#f2d7dd"/></linearGradient><linearGradient id="h151" x1="0" x2="1" y1="0" y2="0"><stop offset="0.000" stop-color="#f3dadf"/><stop offset="0.145" stop-color="#f6e3e6"/><stop offset="0.281" stop-color="#fefdfd"/><stop offset="0.286" stop-color="#fdf9f6"/><stop offset="0.309" stop-color="#f3d7bd"/><stop offset="0.326" stop-color="#e9b486"/><stop offset="0.337" stop-color="#e39f66"/><stop offset="0.366" stop-color="#de8e4e"/><stop offset="0.383" stop-color="#db8846"/><stop offset="0.451" stop-color="#db8846"/><stop offset="0.490" stop-color="#e39d63"/><stop offset="0.502" stop-color="#e8af7e"/><stop offset="0.524" stop-color="#f5dcc5"/><stop offset="0.547" stop-color="#fefdfc"/><stop offset="0.711" stop-color="#f5e0e4"/><stop offset="0.819" stop-color="#f2d7dd"/><stop offset="1.000" stop-color="#f2d7dd"/></linearGradient><linearGradient id="h152" x1="0" x2="1" y1="0" y2="0"><stop offset="0.000" stop-color="#f3dadf"/><stop offset="0.145" stop-color="#f6e3e6"/><stop offset="0.281" stop-color="#fefdfd"/><stop offset="0.286" stop-color="#fdf9f6"/><stop offset="0.309" stop-color="#f3d7bd"/><stop offset="0.326" stop-color="#e9b486"/><stop offset="0.337" stop-color="#e39f67"/><stop offset="0.366" stop-color="#de8e4e"/><stop offset="0.383" stop-color="#db8846"/><stop offset="0.451" stop-color="#dc8847"/><stop offset="0.490" stop-color="#e39e65"/><stop offset="0.502" stop-color="#e8b182"/><stop offset="0.524" stop-color="#f5dec8"/><stop offset="0.541" stop-color="#fdf8f3"/><stop offset="0.547" stop-color="#fefdfc"/><stop offset="0.592" stop-color="#faf2f3"/><stop offset="0.711" stop-color="#f5e0e4"/><stop offset="0.819" stop-color="#f2d7dd"/><stop offset="1.000" stop-color="#f2d7dd"/></linearGradient><linearGradient id="h153" x1="0" x2="1" y1="0" y2="0"><stop offset="0.000" stop-color="#f3dadf"/><stop offset="0.145" stop-color="#f6e3e6"/><stop offset="0.281" stop-color="#fefdfd"/><stop offset="0.286" stop-color="#fefaf7"/><stop offset="0.309" stop-color="#f4d8bf"/><stop offset="0.337" stop-color="#e4a16a"/><stop offset="0.371" stop-color="#dd8d4d"/><stop offset="0.388" stop-color="#dc8a49"/><stop offset="0.451" stop-color="#dd8b4b"/><stop offset="0.485" stop-color="#e39e65"/><stop offset="0.490" stop-color="#e5a46e"/><stop offset="0.496" stop-color="#e7ae7d"/><stop offset="0.519" stop-color="#f4dac3"/><stop offset="0.536" stop-color="#fcf4ed"/><stop offset="0.541" stop-color="#fefcfa"/><stop offset="0.547" stop-color="#fefdfd"/><stop offset="0.587" stop-color="#faf2f3"/><stop offset="0.706" stop-color="#f5e0e4"/><stop offset="0.819" stop-color="#f2d7dd"/><stop offset="1.000" stop-color="#f2d7dd"/></linearGradient><linearGradient id="h154" x1="0" x2="1" y1="0" y2="0"><stop offset="0.000" stop-color="#f3dadf"/><stop offset="0.145" stop-color="#f6e2e6"/><stop offset="0.281" stop-color="#fefdfd"/><stop offset="0.286" stop-color="#fefbf9"/><stop offset="0.292" stop-color="#fcf3eb"/><stop offset="0.309" stop-color="#f4d9c1"/><stop offset="0.337" stop-color="#e5a672"/><stop offset="0.371" stop-color="#e09355"/><stop offset="0.388" stop-color="#df9051"/><stop offset="0.445" stop-color="#df9052"/><stop offset="0.485" stop-color="#e5a56f"/><stop offset="0.496" stop-color="#eab88b"/><stop offset="0.513" stop-color="#f3d7bd"/><stop offset="0.536" stop-color="#fdf9f6"/><stop offset="0.541" stop-color="#fefdfd"/><stop offset="0.587" stop-color="#faf2f3"/><stop offset="0.706" stop-color="#f5dfe4"/><stop offset="0.813" stop-color="#f2d7dd"/><stop offset="1.000" stop-color="#f2d7dd"/></linearGradient><linearGradient id="h155" x1="0" x2="1" y1="0" y2="0"><stop offset="0.000" stop-color="#f3dadf"/><stop offset="0.145" stop-color="#f6e2e6"/><stop offset="0.281" stop-color="#fefdfd"/><stop offset="0.286" stop-color="#fefcfa"/><stop offset="0.337" stop-color="#e7ac79"/><stop offset="0.371" stop-color="#e2995e"/><stop offset="0.388" stop-color="#e19659"/><stop offset="0.439" stop-color="#e1965a"/><stop offset="0.479" stop-color="#e6a874"/><stop offset="0.490" stop-color="#eab78a"/><stop offset="0.513" stop-color="#f5ddc6"/><stop offset="0.536" stop-color="#fefdfc"/><stop offset="0.700" stop-color="#f5e0e4"/><stop offset="0.808" stop-color="#f2d7dd"/><stop offset="1.000" stop-color="#f2d7dd"/></linearGradient><linearGradient id="h156" x1="0" x2="1" y1="0" y2="0"><stop offset="0.000" stop-color="#f3dadf"/><stop offset="0.145" stop-color="#f6e2e6"/><stop offset="0.241" stop-color="#faf2f3"/><stop offset="0.281" stop-color="#fefdfd"/><stop offset="0.286" stop-color="#fefdfb"/><stop offset="0.337" stop-color="#e8b181"/><stop offset="0.371" stop-color="#e39f67"/><stop offset="0.388" stop-color="#e39c63"/><stop offset="0.439" stop-color="#e39d64"/><stop offset="0.473" stop-color="#e7ab78"/><stop offset="0.485" stop-color="#eab78a"/><stop offset="0.530" stop-color="#fefbf9"/><stop offset="0.536" stop-color="#fefdfd"/><stop offset="0.575" stop-color="#faf2f3"/><stop offset="0.700" stop-color="#f5dfe3"/><stop offset="0.808" stop-color="#f2d7dd"/><stop offset="1.000" stop-color="#f2d7dd"/></linearGradient><linearGradient id="h157" x1="0" x2="1" y1="0" y2="0"><stop offset="0.000" stop-color="#f3dadf"/><stop offset="0.133" stop-color="#f5e1e5"/><stop offset="0.286" stop-color="#fefdfc"/><stop offset="0.292" stop-color="#fdf8f3"/><stop offset="0.332" stop-color="#ecbe95"/><stop offset="0.343" stop-color="#e8b182"/><stop offset="0.377" stop-color="#e5a46e"/><stop offset="0.388" stop-color="#e4a36c"/><stop offset="0.434" stop-color="#e4a36d"/><stop offset="0.473" stop-color="#e9b384"/><stop offset="0.496" stop-color="#f1d1b3"/><stop offset="0.524" stop-color="#fefaf7"/><stop offset="0.530" stop-color="#fefdfd"/><stop offset="0.575" stop-color="#faf2f3"/><stop offset="0.694" stop-color="#f5dfe4"/><stop offset="0.802" stop-color="#f2d7dd"/><stop offset="1.000" stop-color="#f2d7dd"/></linearGradient><linearGradient id="h158" x1="0" x2="1" y1="0" y2="0"><stop offset="0.000" stop-color="#f3dadf"/><stop offset="0.139" stop-color="#f5e1e5"/><stop offset="0.292" stop-color="#fefdfc"/><stop offset="0.320" stop-color="#f3d6bb"/><stop offset="0.343" stop-color="#ebba8f"/><stop offset="0.354" stop-color="#e9b385"/><stop offset="0.394" stop-color="#e6a975"/><stop offset="0.428" stop-color="#e6aa77"/><stop offset="0.462" stop-color="#e9b587"/><stop offset="0.473" stop-color="#ecc097"/><stop offset="0.490" stop-color="#f3d4b9"/><stop offset="0.519" stop-color="#fefcfa"/><stop offset="0.524" stop-color="#fefdfd"/><stop offset="0.655" stop-color="#f6e3e7"/><stop offset="0.779" stop-color="#f2d8de"/><stop offset="1.000" stop-color="#f2d7dd"/></linearGradient><linearGradient id="h159" x1="0" x2="1" y1="0" y2="0"><stop offset="0.000" stop-color="#f3dadf"/><stop offset="0.145" stop-color="#f5e1e5"/><stop offset="0.252" stop-color="#faf2f3"/><stop offset="0.292" stop-color="#fefdfd"/><stop offset="0.298" stop-color="#fefcfb"/><stop offset="0.320" stop-color="#f5dcc6"/><stop offset="0.349" stop-color="#ecbe94"/><stop offset="0.360" stop-color="#eab88c"/><stop offset="0.400" stop-color="#e8af7f"/><stop offset="0.422" stop-color="#e8b181"/><stop offset="0.456" stop-color="#ebbb90"/><stop offset="0.485" stop-color="#f4d8be"/><stop offset="0.507" stop-color="#fdf9f5"/><stop offset="0.513" stop-color="#fefdfc"/><stop offset="0.643" stop-color="#f6e3e7"/><stop offset="0.774" stop-color="#f2d8de"/><stop offset="1.000" stop-color="#f2d7dd"/></linearGradient><linearGradient id="h160" x1="0" x2="1" y1="0" y2="0"><stop offset="0.000" stop-color="#f3dadf"/><stop offset="0.145" stop-color="#f5e0e4"/><stop offset="0.258" stop-color="#faf2f3"/><stop offset="0.298" stop-color="#fefdfd"/><stop offset="0.303" stop-color="#fefcfa"/><stop offset="0.326" stop-color="#f5dcc5"/><stop offset="0.354" stop-color="#edc19a"/><stop offset="0.383" stop-color="#eab98d"/><stop offset="0.405" stop-color="#e9b688"/><stop offset="0.451" stop-color="#edc199"/><stop offset="0.473" stop-color="#f3d5b9"/><stop offset="0.485" stop-color="#f7e2d0"/><stop offset="0.502" stop-color="#fefbf9"/><stop offset="0.507" stop-color="#fefdfd"/><stop offset="0.638" stop-color="#f6e3e7"/><stop offset="0.768" stop-color="#f2d8de"/><stop offset="1.000" stop-color="#f2d7dd"/></linearGradient><linearGradient id="h161" x1="0" x2="1" y1="0" y2="0"><stop offset="0.000" stop-color="#f3dadf"/><stop offset="0.071" stop-color="#f3dadf"/><stop offset="0.156" stop-color="#f5e1e5"/><stop offset="0.264" stop-color="#faf2f3"/><stop offset="0.303" stop-color="#fefdfc"/><stop offset="0.309" stop-color="#fefcfa"/><stop offset="0.315" stop-color="#fcf6f0"/><stop offset="0.326" stop-color="#f7e4d3"/><stop offset="0.337" stop-color="#f3d7bc"/><stop offset="0.354" stop-color="#efcaa8"/><stop offset="0.366" stop-color="#eec39e"/><stop offset="0.400" stop-color="#ebbd93"/><stop offset="0.434" stop-color="#edc39c"/><stop offset="0.445" stop-color="#efc7a4"/><stop offset="0.468" stop-color="#f4d9c0"/><stop offset="0.490" stop-color="#fdf9f5"/><stop offset="0.496" stop-color="#fefdfc"/><stop offset="0.626" stop-color="#f6e3e7"/><stop offset="0.757" stop-color="#f2d8de"/><stop offset="1.000" stop-color="#f2d7dd"/></linearGradient><linearGradient id="h162" x1="0" x2="1" y1="0" y2="0"><stop offset="0.000" stop-color="#f3dadf"/><stop offset="0.082" stop-color="#f3dadf"/><stop offset="0.162" stop-color="#f5e0e4"/><stop offset="0.275" stop-color="#faf2f3"/><stop offset="0.315" stop-color="#fefdfd"/><stop offset="0.320" stop-color="#fefbf8"/><stop offset="0.337" stop-color="#f7e2cf"/><stop offset="0.349" stop-color="#f3d6bb"/><stop offset="0.371" stop-color="#efc9a7"/><stop offset="0.400" stop-color="#eec49f"/><stop offset="0.428" stop-color="#efc9a7"/><stop offset="0.451" stop-color="#f3d6bb"/><stop offset="0.462" stop-color="#f6e1ce"/><stop offset="0.479" stop-color="#fdfaf6"/><stop offset="0.485" stop-color="#fefdfc"/><stop offset="0.615" stop-color="#f6e3e7"/><stop offset="0.745" stop-color="#f2d8de"/><stop offset="1.000" stop-color="#f2d7dd"/></linearGradient><linearGradient id="h163" x1="0" x2="1" y1="0" y2="0"><stop offset="0.000" stop-color="#f3dadf"/><stop offset="0.088" stop-color="#f3dadf"/><stop offset="0.167" stop-color="#f5e0e4"/><stop offset="0.326" stop-color="#fefdfc"/><stop offset="0.332" stop-color="#fdf9f5"/><stop offset="0.343" stop-color="#f8e7d8"/><stop offset="0.354" stop-color="#f4d9c1"/><stop offset="0.383" stop-color="#f0ccab"/><stop offset="0.400" stop-color="#efcaa8"/><stop offset="0.417" stop-color="#f0cdad"/><stop offset="0.439" stop-color="#f3d7bd"/><stop offset="0.451" stop-color="#f7e3d0"/><stop offset="0.468" stop-color="#fefaf8"/><stop offset="0.473" stop-color="#fefdfc"/><stop offset="0.604" stop-color="#f6e3e7"/><stop offset="0.734" stop-color="#f2d8de"/><stop offset="1.000" stop-color="#f2d7dd"/></linearGradient><linearGradient id="h164" x1="0" x2="1" y1="0" y2="0"><stop offset="0.000" stop-color="#f3dadf"/><stop offset="0.099" stop-color="#f3dadf"/><stop offset="0.179" stop-color="#f5e0e4"/><stop offset="0.292" stop-color="#faf2f3"/><stop offset="0.332" stop-color="#fefcfc"/><stop offset="0.337" stop-color="#fefcfb"/><stop offset="0.343" stop-color="#fdf8f4"/><stop offset="0.360" stop-color="#f6dfcb"/><stop offset="0.366" stop-color="#f4dac1"/><stop offset="0.388" stop-color="#f1ceaf"/><stop offset="0.400" stop-color="#f0ccac"/><stop offset="0.428" stop-color="#f4d9c1"/><stop offset="0.434" stop-color="#f6dfca"/><stop offset="0.451" stop-color="#fdf7f2"/><stop offset="0.462" stop-color="#fefcfc"/><stop offset="0.592" stop-color="#f6e3e6"/><stop offset="0.723" stop-color="#f2d7de"/><stop offset="1.000" stop-color="#f2d7dd"/></linearGradient><linearGradient id="h165" x1="0" x2="1" y1="0" y2="0"><stop offset="0.000" stop-color="#f3dadf"/><stop offset="0.116" stop-color="#f3dadf"/><stop offset="0.196" stop-color="#f5e0e4"/><stop offset="0.349" stop-color="#fefcfc"/><stop offset="0.360" stop-color="#fcf6f0"/><stop offset="0.377" stop-color="#f5ddc7"/><stop offset="0.394" stop-color="#f2d3b6"/><stop offset="0.411" stop-color="#f4dac3"/><stop offset="0.434" stop-color="#fdf8f4"/><stop offset="0.445" stop-color="#fefcfc"/><stop offset="0.575" stop-color="#f6e3e6"/><stop offset="0.706" stop-color="#f2d7dd"/><stop offset="1.000" stop-color="#f2d7dd"/></linearGradient><linearGradient id="h166" x1="0" x2="1" y1="0" y2="0"><stop offset="0.000" stop-color="#f3dadf"/><stop offset="0.128" stop-color="#f3dadf"/><stop offset="0.207" stop-color="#f5e0e4"/><stop offset="0.366" stop-color="#fefdfc"/><stop offset="0.371" stop-color="#fdfaf7"/><stop offset="0.388" stop-color="#f7e2d0"/><stop offset="0.394" stop-color="#f5ddc7"/><stop offset="0.400" stop-color="#f6e1cd"/><stop offset="0.417" stop-color="#fdf9f5"/><stop offset="0.422" stop-color="#fefdfc"/><stop offset="0.558" stop-color="#f6e3e6"/><stop offset="0.689" stop-color="#f2d7dd"/><stop offset="1.000" stop-color="#f2d7dd"/></linearGradient><linearGradient id="h167" x1="0" x2="1" y1="0" y2="0"><stop offset="0.000" stop-color="#f3dadf"/><stop offset="0.145" stop-color="#f3dadf"/><stop offset="0.224" stop-color="#f5e0e4"/><stop offset="0.332" stop-color="#faf1f2"/><stop offset="0.377" stop-color="#fefdfd"/><stop offset="0.383" stop-color="#fefdfb"/><stop offset="0.394" stop-color="#fcf3eb"/><stop offset="0.405" stop-color="#fefcfa"/><stop offset="0.411" stop-color="#fffefe"/><stop offset="0.536" stop-color="#f6e4e7"/><stop offset="0.672" stop-color="#f2d7de"/><stop offset="1.000" stop-color="#f2d7dd"/></linearGradient><linearGradient id="h168" x1="0" x2="1" y1="0" y2="0"><stop offset="0.000" stop-color="#f3dadf"/><stop offset="0.156" stop-color="#f3dadf"/><stop offset="0.235" stop-color="#f5e0e4"/><stop offset="0.326" stop-color="#f9edef"/><stop offset="0.394" stop-color="#fefdfd"/><stop offset="0.422" stop-color="#fdfbfb"/><stop offset="0.524" stop-color="#f6e3e7"/><stop offset="0.660" stop-color="#f2d7dd"/><stop offset="1.000" stop-color="#f2d7dd"/></linearGradient><linearGradient id="h169" x1="0" x2="1" y1="0" y2="0"><stop offset="0.000" stop-color="#f3dadf"/><stop offset="0.184" stop-color="#f3dae0"/><stop offset="0.281" stop-color="#f6e3e7"/><stop offset="0.394" stop-color="#fcf8f9"/><stop offset="0.428" stop-color="#fbf5f6"/><stop offset="0.513" stop-color="#f6e3e6"/><stop offset="0.643" stop-color="#f2d7de"/><stop offset="1.000" stop-color="#f2d7dd"/></linearGradient><linearGradient id="h170" x1="0" x2="1" y1="0" y2="0"><stop offset="0.000" stop-color="#f3dadf"/><stop offset="0.196" stop-color="#f3dae0"/><stop offset="0.292" stop-color="#f6e3e6"/><stop offset="0.394" stop-color="#fbf4f5"/><stop offset="0.513" stop-color="#f5e1e5"/><stop offset="0.632" stop-color="#f2d7dd"/><stop offset="1.000" stop-color="#f2d7dd"/></linearGradient><linearGradient id="h171" x1="0" x2="1" y1="0" y2="0"><stop offset="0.000" stop-color="#f3dadf"/><stop offset="0.207" stop-color="#f3dadf"/><stop offset="0.292" stop-color="#f5e1e5"/><stop offset="0.394" stop-color="#faf1f2"/><stop offset="0.502" stop-color="#f5e0e4"/><stop offset="0.615" stop-color="#f2d7dd"/><stop offset="1.000" stop-color="#f2d7dd"/></linearGradient><linearGradient id="h172" x1="0" x2="1" y1="0" y2="0"><stop offset="0.000" stop-color="#f3dadf"/><stop offset="0.224" stop-color="#f3dae0"/><stop offset="0.303" stop-color="#f5e1e5"/><stop offset="0.394" stop-color="#f9eff0"/><stop offset="0.485" stop-color="#f5e1e5"/><stop offset="0.604" stop-color="#f2d7dd"/><stop offset="1.000" stop-color="#f2d7dd"/></linearGradient><linearGradient id="h173" x1="0" x2="1" y1="0" y2="0"><stop offset="0.000" stop-color="#f3dadf"/><stop offset="0.235" stop-color="#f3dadf"/><stop offset="0.394" stop-color="#f9ecee"/><stop offset="0.473" stop-color="#f5e0e4"/><stop offset="0.592" stop-color="#f2d7dd"/><stop offset="1.000" stop-color="#f2d7dd"/></linearGradient><linearGradient id="h174" x1="0" x2="1" y1="0" y2="0"><stop offset="0.000" stop-color="#f3dadf"/><stop offset="0.252" stop-color="#f3dae0"/><stop offset="0.394" stop-color="#f8eaec"/><stop offset="0.575" stop-color="#f2d7dd"/><stop offset="1.000" stop-color="#f2d7dd"/></linearGradient><linearGradient id="h175" x1="0" x2="1" y1="0" y2="0"><stop offset="0.000" stop-color="#f3dadf"/><stop offset="0.264" stop-color="#f3dadf"/><stop offset="0.394" stop-color="#f7e7ea"/><stop offset="0.558" stop-color="#f2d7dd"/><stop offset="1.000" stop-color="#f2d7dd"/></linearGradient><linearGradient id="h176" x1="0" x2="1" y1="0" y2="0"><stop offset="0.000" stop-color="#f3dadf"/><stop offset="0.139" stop-color="#f5e1e5"/><stop offset="0.292" stop-color="#fefdfc"/><stop offset="0.315" stop-color="#f5dcc5"/><stop offset="0.337" stop-color="#e7ac7a"/><stop offset="0.349" stop-color="#e2995e"/><stop offset="0.383" stop-color="#da8542"/><stop offset="0.394" stop-color="#d98340"/><stop offset="0.451" stop-color="#da8542"/><stop offset="0.485" stop-color="#e2995d"/><stop offset="0.490" stop-color="#e4a068"/><stop offset="0.496" stop-color="#e7ab78"/><stop offset="0.519" stop-color="#f4dbc3"/><stop offset="0.541" stop-color="#fefdfb"/><stop offset="0.547" stop-color="#fefdfd"/><stop offset="0.587" stop-color="#faf2f3"/><stop offset="0.706" stop-color="#f5e0e4"/><stop offset="0.813" stop-color="#f2d7dd"/><stop offset="1.000" stop-color="#f2d7dd"/></linearGradient><linearGradient id="h177" x1="0" x2="1" y1="0" y2="0"><stop offset="0.000" stop-color="#f3dadf"/><stop offset="0.139" stop-color="#f5e1e5"/><stop offset="0.292" stop-color="#fefdfc"/><stop offset="0.315" stop-color="#f5dbc4"/><stop offset="0.337" stop-color="#e7ac7a"/><stop offset="0.349" stop-color="#e29a5f"/><stop offset="0.383" stop-color="#db8644"/><stop offset="0.394" stop-color="#da8442"/><stop offset="0.445" stop-color="#da8442"/><stop offset="0.485" stop-color="#e29a60"/><stop offset="0.496" stop-color="#e7ad7b"/><stop offset="0.519" stop-color="#f5dcc5"/><stop offset="0.541" stop-color="#fefdfc"/><stop offset="0.706" stop-color="#f5e0e4"/><stop offset="0.813" stop-color="#f2d7dd"/><stop offset="1.000" stop-color="#f2d7dd"/></linearGradient><linearGradient id="h178" x1="0" x2="1" y1="0" y2="0"><stop offset="0.000" stop-color="#f3dadf"/><stop offset="0.139" stop-color="#f5e1e5"/><stop offset="0.292" stop-color="#fefdfb"/><stop offset="0.315" stop-color="#f4dbc3"/><stop offset="0.343" stop-color="#e4a16a"/><stop offset="0.349" stop-color="#e29a60"/><stop offset="0.366" stop-color="#df9051"/><stop offset="0.383" stop-color="#db8745"/><stop offset="0.394" stop-color="#da8543"/><stop offset="0.445" stop-color="#da8643"/><stop offset="0.485" stop-color="#e29b62"/><stop offset="0.496" stop-color="#e8af7e"/><stop offset="0.519" stop-color="#f5ddc6"/><stop offset="0.541" stop-color="#fefdfc"/><stop offset="0.706" stop-color="#f5e0e4"/><stop offset="0.813" stop-color="#f2d7dd"/><stop offset="1.000" stop-color="#f2d7dd"/></linearGradient><linearGradient id="h179" x1="0" x2="1" y1="0" y2="0"><stop offset="0.000" stop-color="#f3dadf"/><stop offset="0.139" stop-color="#f5e1e5"/><stop offset="0.247" stop-color="#faf2f3"/><stop offset="0.286" stop-color="#fefdfd"/><stop offset="0.292" stop-color="#fefcfb"/><stop offset="0.315" stop-color="#f4dac3"/><stop offset="0.343" stop-color="#e4a16a"/><stop offset="0.349" stop-color="#e29b61"/><stop offset="0.371" stop-color="#de8e4e"/><stop offset="0.383" stop-color="#db8846"/><stop offset="0.394" stop-color="#db8644"/><stop offset="0.445" stop-color="#db8745"/><stop offset="0.485" stop-color="#e39d63"/><stop offset="0.496" stop-color="#e8b181"/><stop offset="0.519" stop-color="#f5dec8"/><stop offset="0.536" stop-color="#fdf8f3"/><stop offset="0.541" stop-color="#fefdfc"/><stop offset="0.587" stop-color="#faf2f3"/><stop offset="0.706" stop-color="#f5e0e4"/><stop offset="0.813" stop-color="#f2d7dd"/><stop offset="1.000" stop-color="#f2d7dd"/></linearGradient><linearGradient id="h180" x1="0" x2="1" y1="0" y2="0"><stop offset="0.000" stop-color="#f3dadf"/><stop offset="0.139" stop-color="#f5e1e5"/><stop offset="0.247" stop-color="#faf2f3"/><stop offset="0.286" stop-color="#fefdfd"/><stop offset="0.292" stop-color="#fefcfa"/><stop offset="0.315" stop-color="#f4dac2"/><stop offset="0.343" stop-color="#e4a26a"/><stop offset="0.354" stop-color="#e1985c"/><stop offset="0.377" stop-color="#dd8b4b"/><stop offset="0.394" stop-color="#db8846"/><stop offset="0.445" stop-color="#db8847"/><stop offset="0.485" stop-color="#e39e65"/><stop offset="0.496" stop-color="#e9b283"/><stop offset="0.513" stop-color="#f3d5bb"/><stop offset="0.536" stop-color="#fdf8f4"/><stop offset="0.541" stop-color="#fefdfc"/><stop offset="0.587" stop-color="#faf2f3"/><stop offset="0.706" stop-color="#f5dfe4"/><stop offset="0.813" stop-color="#f2d7dd"/><stop offset="1.000" stop-color="#f2d7dd"/></linearGradient><linearGradient id="h181" x1="0" x2="1" y1="0" y2="0"><stop offset="0.000" stop-color="#f3dadf"/><stop offset="0.139" stop-color="#f5e1e5"/><stop offset="0.247" stop-color="#faf2f3"/><stop offset="0.286" stop-color="#fefdfd"/><stop offset="0.292" stop-color="#fefbf9"/><stop offset="0.315" stop-color="#f4d9c1"/><stop offset="0.343" stop-color="#e4a26b"/><stop offset="0.349" stop-color="#e39c63"/><stop offset="0.377" stop-color="#dd8c4c"/><stop offset="0.394" stop-color="#dc8947"/><stop offset="0.445" stop-color="#dc8948"/><stop offset="0.485" stop-color="#e39f67"/><stop offset="0.496" stop-color="#e9b486"/><stop offset="0.513" stop-color="#f3d7bd"/><stop offset="0.536" stop-color="#fdf9f5"/><stop offset="0.541" stop-color="#fefdfd"/><stop offset="0.587" stop-color="#faf2f3"/><stop offset="0.706" stop-color="#f5dfe4"/><stop offset="0.813" stop-color="#f2d7dd"/><stop offset="1.000" stop-color="#f2d7dd"/></linearGradient><linearGradient id="h182" x1="0" x2="1" y1="0" y2="0"><stop offset="0.000" stop-color="#f3dadf"/><stop offset="0.139" stop-color="#f5e1e5"/><stop offset="0.247" stop-color="#faf2f3"/><stop offset="0.286" stop-color="#fefdfd"/><stop offset="0.292" stop-color="#fefbf8"/><stop offset="0.315" stop-color="#f4d9c0"/><stop offset="0.343" stop-color="#e4a26b"/><stop offset="0.377" stop-color="#de8d4d"/><stop offset="0.394" stop-color="#dc8a49"/><stop offset="0.445" stop-color="#dc8a4a"/><stop offset="0.485" stop-color="#e4a169"/><stop offset="0.513" stop-color="#f4d8be"/><stop offset="0.536" stop-color="#fefaf7"/><stop offset="0.541" stop-color="#fefdfd"/><stop offset="0.587" stop-color="#faf2f3"/><stop offset="0.706" stop-color="#f5dfe4"/><stop offset="0.813" stop-color="#f2d7dd"/><stop offset="1.000" stop-color="#f2d7dd"/></linearGradient><linearGradient id="h183" x1="0" x2="1" y1="0" y2="0"><stop offset="0.000" stop-color="#f3dadf"/><stop offset="0.139" stop-color="#f5e1e5"/><stop offset="0.247" stop-color="#faf3f3"/><stop offset="0.286" stop-color="#fefdfd"/><stop offset="0.292" stop-color="#fefbf8"/><stop offset="0.315" stop-color="#f4d8c0"/><stop offset="0.343" stop-color="#e4a26b"/><stop offset="0.377" stop-color="#de8e4f"/><stop offset="0.394" stop-color="#dd8b4a"/><stop offset="0.445" stop-color="#dd8c4b"/><stop offset="0.479" stop-color="#e39e65"/><stop offset="0.485" stop-color="#e4a36c"/><stop offset="0.490" stop-color="#e7ac7b"/><stop offset="0.513" stop-color="#f4d9c0"/><stop offset="0.530" stop-color="#fbf3ea"/><stop offset="0.536" stop-color="#fefbf8"/><stop offset="0.541" stop-color="#fefdfd"/><stop offset="0.587" stop-color="#faf1f3"/><stop offset="0.706" stop-color="#f5dfe3"/><stop offset="0.813" stop-color="#f2d7dd"/><stop offset="1.000" stop-color="#f2d7dd"/></linearGradient><linearGradient id="h184" x1="0" x2="1" y1="0" y2="0"><stop offset="0.000" stop-color="#f3dadf"/><stop offset="0.139" stop-color="#f5e1e5"/><stop offset="0.247" stop-color="#faf3f3"/><stop offset="0.286" stop-color="#fefdfd"/><stop offset="0.292" stop-color="#fefbf8"/><stop offset="0.315" stop-color="#f4d9c0"/><stop offset="0.343" stop-color="#e4a36d"/><stop offset="0.377" stop-color="#de8f50"/><stop offset="0.394" stop-color="#dd8c4b"/><stop offset="0.445" stop-color="#dd8d4d"/><stop offset="0.479" stop-color="#e39f66"/><stop offset="0.485" stop-color="#e5a46f"/><stop offset="0.490" stop-color="#e8ae7d"/><stop offset="0.513" stop-color="#f4dac2"/><stop offset="0.530" stop-color="#fcf4ec"/><stop offset="0.536" stop-color="#fefcfa"/><stop offset="0.541" stop-color="#fefdfd"/><stop offset="0.581" stop-color="#faf2f3"/><stop offset="0.700" stop-color="#f5e0e4"/><stop offset="0.813" stop-color="#f2d7dd"/><stop offset="1.000" stop-color="#f2d7dd"/></linearGradient><linearGradient id="h185" x1="0" x2="1" y1="0" y2="0"><stop offset="0.000" stop-color="#f3dadf"/><stop offset="0.139" stop-color="#f5e1e5"/><stop offset="0.247" stop-color="#faf2f3"/><stop offset="0.286" stop-color="#fefdfd"/><stop offset="0.292" stop-color="#fefcfa"/><stop offset="0.298" stop-color="#fcf4ed"/><stop offset="0.315" stop-color="#f4dac2"/><stop offset="0.343" stop-color="#e5a56f"/><stop offset="0.349" stop-color="#e39f67"/><stop offset="0.377" stop-color="#df9051"/><stop offset="0.394" stop-color="#dd8c4c"/><stop offset="0.445" stop-color="#de8e4e"/><stop offset="0.479" stop-color="#e4a068"/><stop offset="0.485" stop-color="#e5a772"/><stop offset="0.513" stop-color="#f5dcc5"/><stop offset="0.536" stop-color="#fefdfc"/><stop offset="0.700" stop-color="#f5e0e4"/><stop offset="0.808" stop-color="#f2d7dd"/><stop offset="1.000" stop-color="#f2d7dd"/></linearGradient><linearGradient id="h186" x1="0" x2="1" y1="0" y2="0"><stop offset="0.000" stop-color="#f3dadf"/><stop offset="0.139" stop-color="#f5e1e5"/><stop offset="0.292" stop-color="#fefdfc"/><stop offset="0.315" stop-color="#f5dcc5"/><stop offset="0.343" stop-color="#e5a772"/><stop offset="0.349" stop-color="#e4a068"/><stop offset="0.371" stop-color="#e09456"/><stop offset="0.394" stop-color="#dd8c4c"/><stop offset="0.439" stop-color="#dd8d4d"/><stop offset="0.479" stop-color="#e4a16a"/><stop offset="0.490" stop-color="#e9b485"/><stop offset="0.513" stop-color="#f5dec8"/><stop offset="0.530" stop-color="#fdf8f3"/><stop offset="0.536" stop-color="#fefdfc"/><stop offset="0.581" stop-color="#faf2f3"/><stop offset="0.700" stop-color="#f5e0e4"/><stop offset="0.808" stop-color="#f2d7dd"/><stop offset="1.000" stop-color="#f2d7dd"/></linearGradient><linearGradient id="h187" x1="0" x2="1" y1="0" y2="0"><stop offset="0.000" stop-color="#f3dadf"/><stop offset="0.139" stop-color="#f5e1e5"/><stop offset="0.292" stop-color="#fefdfc"/><stop offset="0.315" stop-color="#f5ddc7"/><stop offset="0.337" stop-color="#e9b384"/><stop offset="0.349" stop-color="#e4a16a"/><stop offset="0.377" stop-color="#df9153"/><stop offset="0.394" stop-color="#dd8d4d"/><stop offset="0.439" stop-color="#de8d4d"/><stop offset="0.479" stop-color="#e4a36c"/><stop offset="0.490" stop-color="#eab689"/><stop offset="0.507" stop-color="#f3d7bd"/><stop offset="0.530" stop-color="#fdf9f6"/><stop offset="0.536" stop-color="#fefdfd"/><stop offset="0.581" stop-color="#faf2f3"/><stop offset="0.700" stop-color="#f5dfe4"/><stop offset="0.808" stop-color="#f2d7dd"/><stop offset="1.000" stop-color="#f2d7dd"/></linearGradient><linearGradient id="h188" x1="0" x2="1" y1="0" y2="0"><stop offset="0.000" stop-color="#f3dadf"/><stop offset="0.139" stop-color="#f5e1e5"/><stop offset="0.292" stop-color="#fefdfc"/><stop offset="0.298" stop-color="#fdf8f4"/><stop offset="0.315" stop-color="#f6dec9"/><stop offset="0.337" stop-color="#e9b587"/><stop offset="0.349" stop-color="#e4a26c"/><stop offset="0.377" stop-color="#e09254"/><stop offset="0.394" stop-color="#de8d4d"/><stop offset="0.439" stop-color="#de8e4e"/><stop offset="0.473" stop-color="#e3a067"/><stop offset="0.479" stop-color="#e5a56f"/><stop offset="0.485" stop-color="#e7ae7d"/><stop offset="0.507" stop-color="#f4d9c1"/><stop offset="0.530" stop-color="#fefbf9"/><stop offset="0.536" stop-color="#fefdfd"/><stop offset="0.575" stop-color="#faf2f3"/><stop offset="0.700" stop-color="#f5dfe3"/><stop offset="0.808" stop-color="#f2d7dd"/><stop offset="1.000" stop-color="#f2d7dd"/></linearGradient><linearGradient id="h189" x1="0" x2="1" y1="0" y2="0"><stop offset="0.000" stop-color="#f3dadf"/><stop offset="0.139" stop-color="#f5e0e4"/><stop offset="0.292" stop-color="#fefdfd"/><stop offset="0.298" stop-color="#fdf9f6"/><stop offset="0.320" stop-color="#f3d7be"/><stop offset="0.337" stop-color="#eab78b"/><stop offset="0.349" stop-color="#e5a46e"/><stop offset="0.383" stop-color="#df9152"/><stop offset="0.394" stop-color="#de8e4f"/><stop offset="0.439" stop-color="#df9051"/><stop offset="0.473" stop-color="#e4a16a"/><stop offset="0.485" stop-color="#e8b182"/><stop offset="0.507" stop-color="#f5dbc4"/><stop offset="0.524" stop-color="#fcf5ef"/><stop offset="0.530" stop-color="#fefdfb"/><stop offset="0.536" stop-color="#fefdfd"/><stop offset="0.575" stop-color="#faf2f3"/><stop offset="0.694" stop-color="#f5e0e4"/><stop offset="0.802" stop-color="#f2d7dd"/><stop offset="1.000" stop-color="#f2d7dd"/></linearGradient><linearGradient id="h190" x1="0" x2="1" y1="0" y2="0"><stop offset="0.000" stop-color="#f3dadf"/><stop offset="0.139" stop-color="#f5e0e4"/><stop offset="0.252" stop-color="#faf3f3"/><stop offset="0.292" stop-color="#fefdfd"/><stop offset="0.298" stop-color="#fefaf7"/><stop offset="0.303" stop-color="#fbf2e9"/><stop offset="0.349" stop-color="#e5a672"/><stop offset="0.383" stop-color="#e09456"/><stop offset="0.400" stop-color="#df9152"/><stop offset="0.434" stop-color="#df9153"/><stop offset="0.473" stop-color="#e5a56f"/><stop offset="0.485" stop-color="#eab689"/><stop offset="0.502" stop-color="#f3d5ba"/><stop offset="0.524" stop-color="#fdf8f3"/><stop offset="0.530" stop-color="#fefdfc"/><stop offset="0.575" stop-color="#faf2f3"/><stop offset="0.694" stop-color="#f5e0e4"/><stop offset="0.802" stop-color="#f2d7dd"/><stop offset="1.000" stop-color="#f2d7dd"/></linearGradient><linearGradient id="h191" x1="0" x2="1" y1="0" y2="0"><stop offset="0.000" stop-color="#f3dadf"/><stop offset="0.145" stop-color="#f5e1e5"/><stop offset="0.252" stop-color="#faf2f3"/><stop offset="0.292" stop-color="#fefdfd"/><stop offset="0.298" stop-color="#fefbf9"/><stop offset="0.349" stop-color="#e6a976"/><stop offset="0.383" stop-color="#e1975b"/><stop offset="0.400" stop-color="#e09456"/><stop offset="0.434" stop-color="#e09457"/><stop offset="0.473" stop-color="#e6a874"/><stop offset="0.524" stop-color="#fdfaf6"/><stop offset="0.530" stop-color="#fefdfd"/><stop offset="0.575" stop-color="#faf2f3"/><stop offset="0.694" stop-color="#f5dfe4"/><stop offset="0.802" stop-color="#f2d7dd"/><stop offset="1.000" stop-color="#f2d7dd"/></linearGradient><linearGradient id="h192" x1="0" x2="1" y1="0" y2="0"><stop offset="0.000" stop-color="#f3dadf"/><stop offset="0.145" stop-color="#f5e1e5"/><stop offset="0.252" stop-color="#faf2f3"/><stop offset="0.292" stop-color="#fefdfd"/><stop offset="0.298" stop-color="#fefcfa"/><stop offset="0.349" stop-color="#e7ac7a"/><stop offset="0.383" stop-color="#e29a5f"/><stop offset="0.400" stop-color="#e1975a"/><stop offset="0.434" stop-color="#e1985c"/><stop offset="0.468" stop-color="#e6a773"/><stop offset="0.479" stop-color="#e9b587"/><stop offset="0.524" stop-color="#fefcfa"/><stop offset="0.530" stop-color="#fefdfd"/><stop offset="0.570" stop-color="#faf2f3"/><stop offset="0.694" stop-color="#f5dfe3"/><stop offset="0.802" stop-color="#f2d7dd"/><stop offset="1.000" stop-color="#f2d7dd"/></linearGradient><linearGradient id="h193" x1="0" x2="1" y1="0" y2="0"><stop offset="0.000" stop-color="#f3dadf"/><stop offset="0.139" stop-color="#f5e0e4"/><stop offset="0.298" stop-color="#fefdfb"/><stop offset="0.349" stop-color="#e8af7e"/><stop offset="0.354" stop-color="#e6aa77"/><stop offset="0.383" stop-color="#e39d64"/><stop offset="0.400" stop-color="#e29a5f"/><stop offset="0.434" stop-color="#e29b61"/><stop offset="0.468" stop-color="#e6aa78"/><stop offset="0.479" stop-color="#eab98d"/><stop offset="0.524" stop-color="#fefdfc"/><stop offset="0.570" stop-color="#faf2f3"/><stop offset="0.694" stop-color="#f5dfe3"/><stop offset="0.796" stop-color="#f2d7dd"/><stop offset="1.000" stop-color="#f2d7dd"/></linearGradient><linearGradient id="h194" x1="0" x2="1" y1="0" y2="0"><stop offset="0.000" stop-color="#f3dadf"/><stop offset="0.145" stop-color="#f5e1e5"/><stop offset="0.298" stop-color="#fefdfc"/><stop offset="0.349" stop-color="#e8b282"/><stop offset="0.354" stop-color="#e7ac7a"/><stop offset="0.383" stop-color="#e4a068"/><stop offset="0.400" stop-color="#e39c63"/><stop offset="0.428" stop-color="#e39d63"/><stop offset="0.468" stop-color="#e7ae7c"/><stop offset="0.479" stop-color="#ecbd93"/><stop offset="0.519" stop-color="#fdf9f5"/><stop offset="0.524" stop-color="#fefdfc"/><stop offset="0.570" stop-color="#faf2f3"/><stop offset="0.689" stop-color="#f5dfe4"/><stop offset="0.796" stop-color="#f2d7dd"/><stop offset="1.000" stop-color="#f2d7dd"/></linearGradient><linearGradient id="h195" x1="0" x2="1" y1="0" y2="0"><stop offset="0.000" stop-color="#f3dadf"/><stop offset="0.145" stop-color="#f5e1e5"/><stop offset="0.298" stop-color="#fefdfc"/><stop offset="0.349" stop-color="#e9b486"/><stop offset="0.360" stop-color="#e7ac7a"/><stop offset="0.388" stop-color="#e4a169"/><stop offset="0.400" stop-color="#e39f67"/><stop offset="0.428" stop-color="#e4a068"/><stop offset="0.468" stop-color="#e8b181"/><stop offset="0.519" stop-color="#fefbf9"/><stop offset="0.524" stop-color="#fefdfd"/><stop offset="0.564" stop-color="#faf2f3"/><stop offset="0.689" stop-color="#f5dfe3"/><stop offset="0.796" stop-color="#f2d7dd"/><stop offset="1.000" stop-color="#f2d7dd"/></linearGradient><linearGradient id="h196" x1="0" x2="1" y1="0" y2="0"><stop offset="0.000" stop-color="#f3dadf"/><stop offset="0.145" stop-color="#f5e1e5"/><stop offset="0.298" stop-color="#fefdfc"/><stop offset="0.303" stop-color="#fdf8f3"/><stop offset="0.343" stop-color="#ecbe95"/><stop offset="0.354" stop-color="#e8b181"/><stop offset="0.388" stop-color="#e5a46e"/><stop offset="0.400" stop-color="#e4a26b"/><stop offset="0.428" stop-color="#e4a36d"/><stop offset="0.462" stop-color="#e8b080"/><stop offset="0.473" stop-color="#ebbc92"/><stop offset="0.519" stop-color="#fefdfc"/><stop offset="0.524" stop-color="#fefdfd"/><stop offset="0.564" stop-color="#faf2f3"/><stop offset="0.689" stop-color="#f5dfe3"/><stop offset="0.791" stop-color="#f2d7dd"/><stop offset="1.000" stop-color="#f2d7dd"/></linearGradient><linearGradient id="h197" x1="0" x2="1" y1="0" y2="0"><stop offset="0.000" stop-color="#f3dadf"/><stop offset="0.145" stop-color="#f5e1e4"/><stop offset="0.298" stop-color="#fefdfc"/><stop offset="0.303" stop-color="#fdf8f4"/><stop offset="0.320" stop-color="#f6dfca"/><stop offset="0.343" stop-color="#edc099"/><stop offset="0.354" stop-color="#e9b385"/><stop offset="0.400" stop-color="#e5a570"/><stop offset="0.422" stop-color="#e5a570"/><stop offset="0.462" stop-color="#e9b385"/><stop offset="0.473" stop-color="#ecc098"/><stop offset="0.496" stop-color="#f6dec9"/><stop offset="0.513" stop-color="#fdf8f3"/><stop offset="0.519" stop-color="#fefdfc"/><stop offset="0.649" stop-color="#f6e4e7"/><stop offset="0.779" stop-color="#f2d8de"/><stop offset="1.000" stop-color="#f2d7dd"/></linearGradient><linearGradient id="h198" x1="0" x2="1" y1="0" y2="0"><stop offset="0.000" stop-color="#f3dadf"/><stop offset="0.145" stop-color="#f5e1e4"/><stop offset="0.298" stop-color="#fefdfd"/><stop offset="0.303" stop-color="#fdf9f5"/><stop offset="0.326" stop-color="#f4d8be"/><stop offset="0.354" stop-color="#eab688"/><stop offset="0.400" stop-color="#e6a874"/><stop offset="0.422" stop-color="#e6a874"/><stop offset="0.462" stop-color="#eab689"/><stop offset="0.490" stop-color="#f4d9c0"/><stop offset="0.513" stop-color="#fefaf7"/><stop offset="0.519" stop-color="#fefdfd"/><stop offset="0.649" stop-color="#f6e3e7"/><stop offset="0.779" stop-color="#f2d8de"/><stop offset="1.000" stop-color="#f2d7dd"/></linearGradient><linearGradient id="h199" x1="0" x2="1" y1="0" y2="0"><stop offset="0.000" stop-color="#f3dadf"/><stop offset="0.145" stop-color="#f5e0e4"/><stop offset="0.258" stop-color="#faf3f3"/><stop offset="0.298" stop-color="#fefdfd"/><stop offset="0.303" stop-color="#fefbf8"/><stop offset="0.326" stop-color="#f4d9c1"/><stop offset="0.354" stop-color="#eab98c"/><stop offset="0.388" stop-color="#e7ad7b"/><stop offset="0.405" stop-color="#e7ab78"/><stop offset="0.422" stop-color="#e7ac79"/><stop offset="0.462" stop-color="#ebba8f"/><stop offset="0.490" stop-color="#f5dcc5"/><stop offset="0.513" stop-color="#fefdfb"/><stop offset="0.519" stop-color="#fefdfd"/><stop offset="0.649" stop-color="#f6e3e7"/><stop offset="0.779" stop-color="#f2d8de"/><stop offset="1.000" stop-color="#f2d7dd"/></linearGradient><linearGradient id="h200" x1="0" x2="1" y1="0" y2="0"><stop offset="0.000" stop-color="#f3dadf"/><stop offset="0.145" stop-color="#f5e0e4"/><stop offset="0.303" stop-color="#fefdfc"/><stop offset="0.326" stop-color="#f5dcc6"/><stop offset="0.354" stop-color="#ebbd93"/><stop offset="0.366" stop-color="#eab78a"/><stop offset="0.405" stop-color="#e7ae7c"/><stop offset="0.422" stop-color="#e8af7f"/><stop offset="0.456" stop-color="#ebba8f"/><stop offset="0.485" stop-color="#f4d9c0"/><stop offset="0.507" stop-color="#fefaf7"/><stop offset="0.513" stop-color="#fefdfd"/><stop offset="0.643" stop-color="#f6e3e7"/><stop offset="0.774" stop-color="#f2d8de"/><stop offset="1.000" stop-color="#f2d7dd"/></linearGradient><linearGradient id="h201" x1="0" x2="1" y1="0" y2="0"><stop offset="0.000" stop-color="#f3dadf"/><stop offset="0.150" stop-color="#f5e1e4"/><stop offset="0.303" stop-color="#fefdfc"/><stop offset="0.309" stop-color="#fdf9f5"/><stop offset="0.332" stop-color="#f4d8bf"/><stop offset="0.360" stop-color="#ebbc91"/><stop offset="0.405" stop-color="#e8b080"/><stop offset="0.445" stop-color="#eab98d"/><stop offset="0.456" stop-color="#ecbf96"/><stop offset="0.485" stop-color="#f5ddc7"/><stop offset="0.507" stop-color="#fefdfc"/><stop offset="0.643" stop-color="#f6e3e6"/><stop offset="0.774" stop-color="#f2d7de"/><stop offset="1.000" stop-color="#f2d7dd"/></linearGradient><linearGradient id="h202" x1="0" x2="1" y1="0" y2="0"><stop offset="0.000" stop-color="#f3dadf"/><stop offset="0.150" stop-color="#f5e0e4"/><stop offset="0.264" stop-color="#faf2f3"/><stop offset="0.303" stop-color="#fefdfd"/><stop offset="0.309" stop-color="#fefcfa"/><stop offset="0.332" stop-color="#f4dbc3"/><stop offset="0.360" stop-color="#ecbf97"/><stop offset="0.405" stop-color="#e9b385"/><stop offset="0.451" stop-color="#ecbf96"/><stop offset="0.479" stop-color="#f4dac2"/><stop offset="0.502" stop-color="#fefbf8"/><stop offset="0.507" stop-color="#fefdfd"/><stop offset="0.638" stop-color="#f6e3e7"/><stop offset="0.768" stop-color="#f2d8de"/><stop offset="1.000" stop-color="#f2d7dd"/></linearGradient><linearGradient id="h203" x1="0" x2="1" y1="0" y2="0"><stop offset="0.000" stop-color="#f3dadf"/><stop offset="0.150" stop-color="#f5e0e4"/><stop offset="0.309" stop-color="#fefdfc"/><stop offset="0.337" stop-color="#f3d7bd"/><stop offset="0.360" stop-color="#edc39d"/><stop offset="0.371" stop-color="#ecbe94"/><stop offset="0.405" stop-color="#eab689"/><stop offset="0.439" stop-color="#ecbe95"/><stop offset="0.451" stop-color="#edc39d"/><stop offset="0.473" stop-color="#f3d7be"/><stop offset="0.496" stop-color="#fdf8f3"/><stop offset="0.502" stop-color="#fefdfc"/><stop offset="0.632" stop-color="#f6e4e7"/><stop offset="0.768" stop-color="#f2d7de"/><stop offset="1.000" stop-color="#f2d7dd"/></linearGradient><linearGradient id="h204" x1="0" x2="1" y1="0" y2="0"><stop offset="0.000" stop-color="#f3dadf"/><stop offset="0.077" stop-color="#f3dadf"/><stop offset="0.156" stop-color="#f5e0e4"/><stop offset="0.269" stop-color="#faf3f4"/><stop offset="0.309" stop-color="#fefdfd"/><stop offset="0.315" stop-color="#fefaf7"/><stop offset="0.337" stop-color="#f4d9c1"/><stop offset="0.360" stop-color="#eec6a2"/><stop offset="0.371" stop-color="#edc199"/><stop offset="0.405" stop-color="#ebba8e"/><stop offset="0.445" stop-color="#edc39e"/><stop offset="0.473" stop-color="#f5dbc4"/><stop offset="0.496" stop-color="#fefcfa"/><stop offset="0.502" stop-color="#fefdfd"/><stop offset="0.632" stop-color="#f6e3e7"/><stop offset="0.762" stop-color="#f2d8de"/><stop offset="1.000" stop-color="#f2d7dd"/></linearGradient><linearGradient id="h205" x1="0" x2="1" y1="0" y2="0"><stop offset="0.000" stop-color="#f3dadf"/><stop offset="0.077" stop-color="#f3dadf"/><stop offset="0.156" stop-color="#f5e0e4"/><stop offset="0.269" stop-color="#faf2f3"/><stop offset="0.309" stop-color="#fefdfd"/><stop offset="0.315" stop-color="#fefdfb"/><stop offset="0.337" stop-color="#f5dcc5"/><stop offset="0.360" stop-color="#efcaa8"/><stop offset="0.371" stop-color="#edc39e"/><stop offset="0.405" stop-color="#ecbd93"/><stop offset="0.439" stop-color="#eec49f"/><stop offset="0.451" stop-color="#f0cbab"/><stop offset="0.468" stop-color="#f4d8bf"/><stop offset="0.490" stop-color="#fdf9f5"/><stop offset="0.496" stop-color="#fefdfc"/><stop offset="0.626" stop-color="#f6e3e7"/><stop offset="0.762" stop-color="#f2d7dd"/><stop offset="1.000" stop-color="#f2d7dd"/></linearGradient><linearGradient id="h206" x1="0" x2="1" y1="0" y2="0"><stop offset="0.000" stop-color="#f3dadf"/><stop offset="0.077" stop-color="#f3dadf"/><stop offset="0.162" stop-color="#f5e1e4"/><stop offset="0.315" stop-color="#fefdfc"/><stop offset="0.320" stop-color="#fdf8f4"/><stop offset="0.337" stop-color="#f6dfca"/><stop offset="0.349" stop-color="#f2d4b8"/><stop offset="0.371" stop-color="#eec6a2"/><stop offset="0.405" stop-color="#edc199"/><stop offset="0.434" stop-color="#eec6a1"/><stop offset="0.456" stop-color="#f2d3b6"/><stop offset="0.468" stop-color="#f5dcc6"/><stop offset="0.490" stop-color="#fefdfb"/><stop offset="0.496" stop-color="#fefdfd"/><stop offset="0.626" stop-color="#f6e3e7"/><stop offset="0.757" stop-color="#f2d7de"/><stop offset="1.000" stop-color="#f2d7dd"/></linearGradient><linearGradient id="h207" x1="0" x2="1" y1="0" y2="0"><stop offset="0.000" stop-color="#f3dadf"/><stop offset="0.082" stop-color="#f3dadf"/><stop offset="0.162" stop-color="#f5e0e4"/><stop offset="0.275" stop-color="#faf2f3"/><stop offset="0.315" stop-color="#fefdfd"/><stop offset="0.320" stop-color="#fefbf9"/><stop offset="0.337" stop-color="#f7e2cf"/><stop offset="0.349" stop-color="#f3d6bb"/><stop offset="0.371" stop-color="#efc9a7"/><stop offset="0.405" stop-color="#eec49e"/><stop offset="0.434" stop-color="#efc9a6"/><stop offset="0.456" stop-color="#f3d5ba"/><stop offset="0.468" stop-color="#f6e0cc"/><stop offset="0.485" stop-color="#fefaf7"/><stop offset="0.490" stop-color="#fefdfd"/><stop offset="0.621" stop-color="#f6e3e7"/><stop offset="0.751" stop-color="#f2d8de"/><stop offset="1.000" stop-color="#f2d7dd"/></linearGradient><linearGradient id="h208" x1="0" x2="1" y1="0" y2="0"><stop offset="0.000" stop-color="#f3dadf"/><stop offset="0.082" stop-color="#f3dadf"/><stop offset="0.162" stop-color="#f5e0e4"/><stop offset="0.320" stop-color="#fefdfc"/><stop offset="0.343" stop-color="#f5ddc7"/><stop offset="0.349" stop-color="#f4d8be"/><stop offset="0.377" stop-color="#efcaa8"/><stop offset="0.400" stop-color="#efc7a3"/><stop offset="0.428" stop-color="#efcaa8"/><stop offset="0.456" stop-color="#f4d8be"/><stop offset="0.462" stop-color="#f5ddc7"/><stop offset="0.485" stop-color="#fefdfc"/><stop offset="0.490" stop-color="#fefdfd"/><stop offset="0.621" stop-color="#f6e3e6"/><stop offset="0.751" stop-color="#f2d7de"/><stop offset="1.000" stop-color="#f2d7dd"/></linearGradient><linearGradient id="h209" x1="0" x2="1" y1="0" y2="0"><stop offset="0.000" stop-color="#f3dadf"/><stop offset="0.088" stop-color="#f3dadf"/><stop offset="0.167" stop-color="#f5e0e4"/><stop offset="0.281" stop-color="#faf3f4"/><stop offset="0.320" stop-color="#fefdfd"/><stop offset="0.326" stop-color="#fefaf7"/><stop offset="0.349" stop-color="#f4dac2"/><stop offset="0.377" stop-color="#f0cdad"/><stop offset="0.400" stop-color="#efcaa8"/><stop offset="0.428" stop-color="#f0cdad"/><stop offset="0.451" stop-color="#f3d7bd"/><stop offset="0.462" stop-color="#f7e2d0"/><stop offset="0.479" stop-color="#fefcf9"/><stop offset="0.485" stop-color="#fefdfd"/><stop offset="0.615" stop-color="#f6e3e7"/><stop offset="0.745" stop-color="#f2d8de"/><stop offset="1.000" stop-color="#f2d7dd"/></linearGradient><linearGradient id="h210" x1="0" x2="1" y1="0" y2="0"><stop offset="0.000" stop-color="#f3dadf"/><stop offset="0.088" stop-color="#f3dadf"/><stop offset="0.167" stop-color="#f5e0e4"/><stop offset="0.326" stop-color="#fefdfc"/><stop offset="0.332" stop-color="#fdf8f4"/><stop offset="0.343" stop-color="#f8e7d6"/><stop offset="0.354" stop-color="#f4d9c0"/><stop offset="0.383" stop-color="#f1cfb0"/><stop offset="0.400" stop-color="#f0cdad"/><stop offset="0.422" stop-color="#f1cfb1"/><stop offset="0.445" stop-color="#f3d7bd"/><stop offset="0.456" stop-color="#f6e1ce"/><stop offset="0.473" stop-color="#fefbf8"/><stop offset="0.479" stop-color="#fefdfd"/><stop offset="0.609" stop-color="#f6e3e7"/><stop offset="0.740" stop-color="#f2d8de"/><stop offset="1.000" stop-color="#f2d7dd"/></linearGradient><linearGradient id="h211" x1="0" x2="1" y1="0" y2="0"><stop offset="0.000" stop-color="#f3dadf"/><stop offset="0.094" stop-color="#f3dadf"/><stop offset="0.173" stop-color="#f5e0e4"/><stop offset="0.286" stop-color="#faf2f3"/><stop offset="0.326" stop-color="#fefdfd"/><stop offset="0.332" stop-color="#fefdfb"/><stop offset="0.354" stop-color="#f5ddc6"/><stop offset="0.360" stop-color="#f4d8bf"/><stop offset="0.400" stop-color="#f1d0b2"/><stop offset="0.422" stop-color="#f2d3b6"/><stop offset="0.445" stop-color="#f4dac2"/><stop offset="0.468" stop-color="#fefaf7"/><stop offset="0.473" stop-color="#fefdfd"/><stop offset="0.604" stop-color="#f6e3e7"/><stop offset="0.740" stop-color="#f2d7dd"/><stop offset="1.000" stop-color="#f2d7dd"/></linearGradient><linearGradient id="h212" x1="0" x2="1" y1="0" y2="0"><stop offset="0.000" stop-color="#f3dadf"/><stop offset="0.099" stop-color="#f3dadf"/><stop offset="0.179" stop-color="#f5e0e4"/><stop offset="0.292" stop-color="#faf2f3"/><stop offset="0.332" stop-color="#fefdfd"/><stop offset="0.337" stop-color="#fefbf9"/><stop offset="0.360" stop-color="#f4dbc3"/><stop offset="0.371" stop-color="#f3d7bd"/><stop offset="0.400" stop-color="#f2d3b7"/><stop offset="0.439" stop-color="#f4dac2"/><stop offset="0.462" stop-color="#fdf9f6"/><stop offset="0.468" stop-color="#fefdfd"/><stop offset="0.598" stop-color="#f6e3e7"/><stop offset="0.734" stop-color="#f2d7dd"/><stop offset="1.000" stop-color="#f2d7dd"/></linearGradient><linearGradient id="h213" x1="0" x2="1" y1="0" y2="0"><stop offset="0.000" stop-color="#f3dadf"/><stop offset="0.099" stop-color="#f3dadf"/><stop offset="0.179" stop-color="#f5e0e4"/><stop offset="0.292" stop-color="#faf2f3"/><stop offset="0.337" stop-color="#fefdfd"/><stop offset="0.343" stop-color="#fdf9f5"/><stop offset="0.360" stop-color="#f6e0cb"/><stop offset="0.366" stop-color="#f4dac1"/><stop offset="0.405" stop-color="#f3d6bb"/><stop offset="0.434" stop-color="#f4d9c1"/><stop offset="0.439" stop-color="#f6dfca"/><stop offset="0.456" stop-color="#fdf9f4"/><stop offset="0.462" stop-color="#fefdfc"/><stop offset="0.592" stop-color="#f6e3e7"/><stop offset="0.728" stop-color="#f2d7de"/><stop offset="1.000" stop-color="#f2d7dd"/></linearGradient><linearGradient id="h214" x1="0" x2="1" y1="0" y2="0"><stop offset="0.000" stop-color="#f3dadf"/><stop offset="0.105" stop-color="#f3dadf"/><stop offset="0.184" stop-color="#f5e0e4"/><stop offset="0.298" stop-color="#faf2f3"/><stop offset="0.337" stop-color="#fefdfd"/><stop offset="0.343" stop-color="#fefdfc"/><stop offset="0.366" stop-color="#f5dec8"/><stop offset="0.371" stop-color="#f4d9c1"/><stop offset="0.422" stop-color="#f4d8bf"/><stop offset="0.428" stop-color="#f4d9c1"/><stop offset="0.434" stop-color="#f6dec9"/><stop offset="0.451" stop-color="#fdf8f3"/><stop offset="0.456" stop-color="#fefdfc"/><stop offset="0.587" stop-color="#f6e4e7"/><stop offset="0.723" stop-color="#f2d7de"/><stop offset="1.000" stop-color="#f2d7dd"/></linearGradient><linearGradient id="h215" x1="0" x2="1" y1="0" y2="0"><stop offset="0.000" stop-color="#f3dadf"/><stop offset="0.111" stop-color="#f3dadf"/><stop offset="0.190" stop-color="#f5e0e4"/><stop offset="0.303" stop-color="#faf2f3"/><stop offset="0.343" stop-color="#fefdfd"/><stop offset="0.349" stop-color="#fefcfa"/><stop offset="0.371" stop-color="#f5dcc5"/><stop offset="0.377" stop-color="#f4d9c1"/><stop offset="0.417" stop-color="#f4d9c0"/><stop offset="0.422" stop-color="#f4d9c1"/><stop offset="0.428" stop-color="#f5dec8"/><stop offset="0.451" stop-color="#fefdfc"/><stop offset="0.587" stop-color="#f6e3e6"/><stop offset="0.717" stop-color="#f2d7de"/><stop offset="1.000" stop-color="#f2d7dd"/></linearGradient><linearGradient id="h216" x1="0" x2="1" y1="0" y2="0"><stop offset="0.000" stop-color="#f3dadf"/><stop offset="0.111" stop-color="#f3dadf"/><stop offset="0.190" stop-color="#f5e0e4"/><stop offset="0.303" stop-color="#faf2f3"/><stop offset="0.349" stop-color="#fefdfd"/><stop offset="0.354" stop-color="#fefaf7"/><stop offset="0.371" stop-color="#f6e1cd"/><stop offset="0.377" stop-color="#f4dac3"/><stop offset="0.383" stop-color="#f4d9c1"/><stop offset="0.417" stop-color="#f4dac1"/><stop offset="0.422" stop-color="#f5ddc7"/><stop offset="0.445" stop-color="#fefdfb"/><stop offset="0.451" stop-color="#fefdfd"/><stop offset="0.581" stop-color="#f6e3e6"/><stop offset="0.711" stop-color="#f2d7de"/><stop offset="1.000" stop-color="#f2d7dd"/></linearGradient><linearGradient id="h217" x1="0" x2="1" y1="0" y2="0"><stop offset="0.000" stop-color="#f3dadf"/><stop offset="0.122" stop-color="#f3dadf"/><stop offset="0.196" stop-color="#f5e0e4"/><stop offset="0.315" stop-color="#faf2f3"/><stop offset="0.354" stop-color="#fefdfd"/><stop offset="0.360" stop-color="#fefbf9"/><stop offset="0.383" stop-color="#f5dcc5"/><stop offset="0.405" stop-color="#f4dac2"/><stop offset="0.411" stop-color="#f4dbc3"/><stop offset="0.417" stop-color="#f6e0cc"/><stop offset="0.434" stop-color="#fdf9f5"/><stop offset="0.439" stop-color="#fefdfd"/><stop offset="0.570" stop-color="#f6e3e7"/><stop offset="0.706" stop-color="#f2d7dd"/><stop offset="1.000" stop-color="#f2d7dd"/></linearGradient><linearGradient id="h218" x1="0" x2="1" y1="0" y2="0"><stop offset="0.000" stop-color="#f3dadf"/><stop offset="0.128" stop-color="#f3dadf"/><stop offset="0.207" stop-color="#f5e0e4"/><stop offset="0.320" stop-color="#faf2f3"/><stop offset="0.360" stop-color="#fefdfd"/><stop offset="0.366" stop-color="#fefcfb"/><stop offset="0.371" stop-color="#fdf6f1"/><stop offset="0.388" stop-color="#f5dec8"/><stop offset="0.400" stop-color="#f4dac2"/><stop offset="0.405" stop-color="#f5ddc7"/><stop offset="0.428" stop-color="#fefcfa"/><stop offset="0.434" stop-color="#fefdfd"/><stop offset="0.564" stop-color="#f6e3e6"/><stop offset="0.694" stop-color="#f2d8de"/><stop offset="1.000" stop-color="#f2d7dd"/></linearGradient><linearGradient id="h219" x1="0" x2="1" y1="0" y2="0"><stop offset="0.000" stop-color="#f3dadf"/><stop offset="0.133" stop-color="#f3dadf"/><stop offset="0.213" stop-color="#f5e0e4"/><stop offset="0.326" stop-color="#faf1f3"/><stop offset="0.371" stop-color="#fefdfc"/><stop offset="0.377" stop-color="#fefaf7"/><stop offset="0.394" stop-color="#f7e3d1"/><stop offset="0.400" stop-color="#f7e3d1"/><stop offset="0.417" stop-color="#fefaf7"/><stop offset="0.422" stop-color="#fefdfc"/><stop offset="0.553" stop-color="#f6e3e7"/><stop offset="0.689" stop-color="#f2d7dd"/><stop offset="1.000" stop-color="#f2d7dd"/></linearGradient><linearGradient id="h220" x1="0" x2="1" y1="0" y2="0"><stop offset="0.000" stop-color="#f3dadf"/><stop offset="0.145" stop-color="#f3dadf"/><stop offset="0.224" stop-color="#f5e0e4"/><stop offset="0.337" stop-color="#faf1f2"/><stop offset="0.383" stop-color="#fefdfc"/><stop offset="0.394" stop-color="#fdf6f1"/><stop offset="0.400" stop-color="#fdf6f1"/><stop offset="0.411" stop-color="#fefdfc"/><stop offset="0.541" stop-color="#f6e3e7"/><stop offset="0.672" stop-color="#f2d8de"/><stop offset="1.000" stop-color="#f2d7dd"/></linearGradient><linearGradient id="h221" x1="0" x2="1" y1="0" y2="0"><stop offset="0.000" stop-color="#f3dadf"/><stop offset="0.162" stop-color="#f3dadf"/><stop offset="0.235" stop-color="#f5e0e4"/><stop offset="0.400" stop-color="#fefcfc"/><stop offset="0.530" stop-color="#f6e3e6"/><stop offset="0.660" stop-color="#f2d7de"/><stop offset="1.000" stop-color="#f2d7dd"/></linearGradient><linearGradient id="h222" x1="0" x2="1" y1="0" y2="0"><stop offset="0.000" stop-color="#f3dadf"/><stop offset="0.184" stop-color="#f3dae0"/><stop offset="0.275" stop-color="#f6e3e6"/><stop offset="0.400" stop-color="#fcf8f8"/><stop offset="0.519" stop-color="#f6e3e6"/><stop offset="0.649" stop-color="#f2d7de"/><stop offset="1.000" stop-color="#f2d7dd"/></linearGradient><linearGradient id="h223" x1="0" x2="1" y1="0" y2="0"><stop offset="0.000" stop-color="#f3dadf"/><stop offset="0.190" stop-color="#f3dadf"/><stop offset="0.286" stop-color="#f6e3e6"/><stop offset="0.400" stop-color="#fbf5f6"/><stop offset="0.513" stop-color="#f6e2e6"/><stop offset="0.638" stop-color="#f2d7dd"/><stop offset="1.000" stop-color="#f2d7dd"/></linearGradient><linearGradient id="h224" x1="0" x2="1" y1="0" y2="0"><stop offset="0.000" stop-color="#f3dadf"/><stop offset="0.201" stop-color="#f3dadf"/><stop offset="0.286" stop-color="#f5e1e5"/><stop offset="0.400" stop-color="#faf2f3"/><stop offset="0.507" stop-color="#f5e1e5"/><stop offset="0.626" stop-color="#f2d7dd"/><stop offset="1.000" stop-color="#f2d7dd"/></linearGradient><linearGradient id="h225" x1="0" x2="1" y1="0" y2="0"><stop offset="0.000" stop-color="#f3dadf"/><stop offset="0.218" stop-color="#f3dae0"/><stop offset="0.400" stop-color="#faf0f1"/><stop offset="0.496" stop-color="#f5e1e5"/><stop offset="0.615" stop-color="#f2d7dd"/><stop offset="1.000" stop-color="#f2d7dd"/></linearGradient><linearGradient id="h226" x1="0" x2="1" y1="0" y2="0"><stop offset="0.000" stop-color="#f3dadf"/><stop offset="0.230" stop-color="#f3dae0"/><stop offset="0.400" stop-color="#f9eef0"/><stop offset="0.485" stop-color="#f5e1e5"/><stop offset="0.604" stop-color="#f2d7dd"/><stop offset="1.000" stop-color="#f2d7dd"/></linearGradient><linearGradient id="h227" x1="0" x2="1" y1="0" y2="0"><stop offset="0.000" stop-color="#f3dadf"/><stop offset="0.241" stop-color="#f3dadf"/><stop offset="0.400" stop-color="#f8ebed"/><stop offset="0.473" stop-color="#f5e0e4"/><stop offset="0.587" stop-color="#f2d7dd"/><stop offset="1.000" stop-color="#f2d7dd"/></linearGradient><linearGradient id="h228" x1="0" x2="1" y1="0" y2="0"><stop offset="0.000" stop-color="#f3dadf"/><stop offset="0.122" stop-color="#f6e3e7"/><stop offset="0.258" stop-color="#fefdfb"/><stop offset="0.281" stop-color="#f4dac2"/><stop offset="0.309" stop-color="#df9152"/><stop offset="0.315" stop-color="#dc8847"/><stop offset="0.343" stop-color="#d3732b"/><stop offset="0.360" stop-color="#d06d23"/><stop offset="0.422" stop-color="#d16d24"/><stop offset="0.462" stop-color="#dc8948"/><stop offset="0.468" stop-color="#e09355"/><stop offset="0.490" stop-color="#f1d0b2"/><stop offset="0.496" stop-color="#f5dcc5"/><stop offset="0.519" stop-color="#fefdfc"/><stop offset="0.655" stop-color="#f6e3e6"/><stop offset="0.785" stop-color="#f2d7de"/><stop offset="1.000" stop-color="#f2d7dd"/></linearGradient><linearGradient id="h229" x1="0" x2="1" y1="0" y2="0"><stop offset="0.000" stop-color="#f3dadf"/><stop offset="0.122" stop-color="#f6e3e7"/><stop offset="0.258" stop-color="#fefdfc"/><stop offset="0.281" stop-color="#f4dbc3"/><stop offset="0.309" stop-color="#df9255"/><stop offset="0.315" stop-color="#dc8a49"/><stop offset="0.343" stop-color="#d3742d"/><stop offset="0.360" stop-color="#d16e25"/><stop offset="0.422" stop-color="#d16f26"/><stop offset="0.462" stop-color="#dc8a4a"/><stop offset="0.468" stop-color="#e09457"/><stop offset="0.490" stop-color="#f1d0b2"/><stop offset="0.496" stop-color="#f5dcc5"/><stop offset="0.519" stop-color="#fefdfc"/><stop offset="0.655" stop-color="#f6e3e6"/><stop offset="0.785" stop-color="#f2d7de"/><stop offset="1.000" stop-color="#f2d7dd"/></linearGradient><linearGradient id="h230" x1="0" x2="1" y1="0" y2="0"><stop offset="0.000" stop-color="#f3dadf"/><stop offset="0.122" stop-color="#f6e3e6"/><stop offset="0.258" stop-color="#fefdfc"/><stop offset="0.281" stop-color="#f5dbc4"/><stop offset="0.309" stop-color="#e09457"/><stop offset="0.315" stop-color="#dd8b4b"/><stop offset="0.349" stop-color="#d3722a"/><stop offset="0.360" stop-color="#d27027"/><stop offset="0.422" stop-color="#d27028"/><stop offset="0.462" stop-color="#dd8c4b"/><stop offset="0.468" stop-color="#e09559"/><stop offset="0.490" stop-color="#f1d1b3"/><stop offset="0.496" stop-color="#f5dcc6"/><stop offset="0.519" stop-color="#fefdfc"/><stop offset="0.655" stop-color="#f6e3e6"/><stop offset="0.785" stop-color="#f2d7de"/><stop offset="1.000" stop-color="#f2d7dd"/></linearGradient><linearGradient id="h231" x1="0" x2="1" y1="0" y2="0"><stop offset="0.000" stop-color="#f3dadf"/><stop offset="0.122" stop-color="#f6e3e6"/><stop offset="0.258" stop-color="#fefdfc"/><stop offset="0.281" stop-color="#f5dcc5"/><stop offset="0.309" stop-color="#e19659"/><stop offset="0.315" stop-color="#dd8c4c"/><stop offset="0.349" stop-color="#d3742c"/><stop offset="0.360" stop-color="#d27229"/><stop offset="0.422" stop-color="#d2722a"/><stop offset="0.462" stop-color="#dd8d4d"/><stop offset="0.468" stop-color="#e1975a"/><stop offset="0.490" stop-color="#f2d1b3"/><stop offset="0.496" stop-color="#f5dcc6"/><stop offset="0.519" stop-color="#fefdfc"/><stop offset="0.655" stop-color="#f6e3e6"/><stop offset="0.785" stop-color="#f2d7de"/><stop offset="1.000" stop-color="#f2d7dd"/></linearGradient><linearGradient id="h232" x1="0" x2="1" y1="0" y2="0"><stop offset="0.000" stop-color="#f3dadf"/><stop offset="0.122" stop-color="#f6e3e6"/><stop offset="0.258" stop-color="#fefdfc"/><stop offset="0.281" stop-color="#f5dcc5"/><stop offset="0.309" stop-color="#e1975b"/><stop offset="0.315" stop-color="#de8e4e"/><stop offset="0.349" stop-color="#d4752e"/><stop offset="0.360" stop-color="#d3732b"/><stop offset="0.422" stop-color="#d3732c"/><stop offset="0.462" stop-color="#de8e4f"/><stop offset="0.468" stop-color="#e1985c"/><stop offset="0.490" stop-color="#f2d1b4"/><stop offset="0.496" stop-color="#f5dcc6"/><stop offset="0.519" stop-color="#fefdfc"/><stop offset="0.655" stop-color="#f6e3e6"/><stop offset="0.785" stop-color="#f2d7de"/><stop offset="1.000" stop-color="#f2d7dd"/></linearGradient><linearGradient id="h233" x1="0" x2="1" y1="0" y2="0"><stop offset="0.000" stop-color="#f3dadf"/><stop offset="0.122" stop-color="#f6e3e6"/><stop offset="0.258" stop-color="#fefdfc"/><stop offset="0.281" stop-color="#f5ddc6"/><stop offset="0.286" stop-color="#f2d2b4"/><stop offset="0.309" stop-color="#e2995e"/><stop offset="0.315" stop-color="#de8f50"/><stop offset="0.349" stop-color="#d57731"/><stop offset="0.360" stop-color="#d4752d"/><stop offset="0.422" stop-color="#d4752e"/><stop offset="0.462" stop-color="#de8f50"/><stop offset="0.468" stop-color="#e2995e"/><stop offset="0.490" stop-color="#f2d2b4"/><stop offset="0.496" stop-color="#f5ddc6"/><stop offset="0.519" stop-color="#fefdfc"/><stop offset="0.655" stop-color="#f6e3e6"/><stop offset="0.785" stop-color="#f2d7de"/><stop offset="1.000" stop-color="#f2d7dd"/></linearGradient><linearGradient id="h234" x1="0" x2="1" y1="0" y2="0"><stop offset="0.000" stop-color="#f3dadf"/><stop offset="0.122" stop-color="#f6e3e6"/><stop offset="0.258" stop-color="#fefdfc"/><stop offset="0.264" stop-color="#fdf7f2"/><stop offset="0.281" stop-color="#f5ddc7"/><stop offset="0.286" stop-color="#f2d2b6"/><stop offset="0.309" stop-color="#e29a60"/><stop offset="0.315" stop-color="#df9152"/><stop offset="0.349" stop-color="#d57933"/><stop offset="0.360" stop-color="#d4762f"/><stop offset="0.422" stop-color="#d47630"/><stop offset="0.462" stop-color="#df9052"/><stop offset="0.468" stop-color="#e29a5f"/><stop offset="0.490" stop-color="#f2d2b5"/><stop offset="0.496" stop-color="#f5ddc7"/><stop offset="0.519" stop-color="#fefdfc"/><stop offset="0.655" stop-color="#f6e3e6"/><stop offset="0.785" stop-color="#f2d7de"/><stop offset="1.000" stop-color="#f2d7dd"/></linearGradient><linearGradient id="h235" x1="0" x2="1" y1="0" y2="0"><stop offset="0.000" stop-color="#f3dadf"/><stop offset="0.122" stop-color="#f6e3e6"/><stop offset="0.258" stop-color="#fefdfc"/><stop offset="0.264" stop-color="#fdf8f3"/><stop offset="0.286" stop-color="#f2d3b7"/><stop offset="0.303" stop-color="#e6a976"/><stop offset="0.315" stop-color="#df9254"/><stop offset="0.349" stop-color="#d67a35"/><stop offset="0.360" stop-color="#d57831"/><stop offset="0.422" stop-color="#d57832"/><stop offset="0.462" stop-color="#df9253"/><stop offset="0.468" stop-color="#e29b61"/><stop offset="0.490" stop-color="#f2d2b6"/><stop offset="0.496" stop-color="#f5ddc7"/><stop offset="0.519" stop-color="#fefdfc"/><stop offset="0.655" stop-color="#f6e3e6"/><stop offset="0.785" stop-color="#f2d7de"/><stop offset="1.000" stop-color="#f2d7dd"/></linearGradient><linearGradient id="h236" x1="0" x2="1" y1="0" y2="0"><stop offset="0.000" stop-color="#f3dadf"/><stop offset="0.122" stop-color="#f6e3e6"/><stop offset="0.258" stop-color="#fefdfc"/><stop offset="0.264" stop-color="#fdf8f3"/><stop offset="0.286" stop-color="#f2d4b8"/><stop offset="0.303" stop-color="#e7ab78"/><stop offset="0.315" stop-color="#e09356"/><stop offset="0.349" stop-color="#d77c37"/><stop offset="0.360" stop-color="#d57933"/><stop offset="0.422" stop-color="#d67934"/><stop offset="0.462" stop-color="#e09355"/><stop offset="0.468" stop-color="#e39c63"/><stop offset="0.490" stop-color="#f2d3b6"/><stop offset="0.496" stop-color="#f5ddc7"/><stop offset="0.513" stop-color="#fdf7f2"/><stop offset="0.519" stop-color="#fefdfc"/><stop offset="0.655" stop-color="#f6e3e6"/><stop offset="0.785" stop-color="#f2d7de"/><stop offset="1.000" stop-color="#f2d7dd"/></linearGradient><linearGradient id="h237" x1="0" x2="1" y1="0" y2="0"><stop offset="0.000" stop-color="#f3dadf"/><stop offset="0.122" stop-color="#f6e3e6"/><stop offset="0.258" stop-color="#fefdfc"/><stop offset="0.264" stop-color="#fdf8f4"/><stop offset="0.286" stop-color="#f3d5b9"/><stop offset="0.303" stop-color="#e7ac7a"/><stop offset="0.315" stop-color="#e09558"/><stop offset="0.349" stop-color="#d77e39"/><stop offset="0.360" stop-color="#d67b35"/><stop offset="0.422" stop-color="#d67b36"/><stop offset="0.462" stop-color="#e09457"/><stop offset="0.468" stop-color="#e39d64"/><stop offset="0.496" stop-color="#f5ddc7"/><stop offset="0.513" stop-color="#fdf7f2"/><stop offset="0.519" stop-color="#fefdfc"/><stop offset="0.649" stop-color="#f6e4e7"/><stop offset="0.779" stop-color="#f2d8de"/><stop offset="1.000" stop-color="#f2d7dd"/></linearGradient><linearGradient id="h238" x1="0" x2="1" y1="0" y2="0"><stop offset="0.000" stop-color="#f3dadf"/><stop offset="0.122" stop-color="#f6e3e6"/><stop offset="0.258" stop-color="#fefdfc"/><stop offset="0.264" stop-color="#fdf9f5"/><stop offset="0.286" stop-color="#f3d5bb"/><stop offset="0.303" stop-color="#e7ae7c"/><stop offset="0.315" stop-color="#e1965a"/><stop offset="0.349" stop-color="#d87f3b"/><stop offset="0.360" stop-color="#d77c37"/><stop offset="0.422" stop-color="#d77c38"/><stop offset="0.462" stop-color="#e19558"/><stop offset="0.468" stop-color="#e39f66"/><stop offset="0.496" stop-color="#f5ddc8"/><stop offset="0.513" stop-color="#fdf7f2"/><stop offset="0.519" stop-color="#fefdfc"/><stop offset="0.649" stop-color="#f6e4e7"/><stop offset="0.779" stop-color="#f2d8de"/><stop offset="1.000" stop-color="#f2d7dd"/></linearGradient><linearGradient id="h239" x1="0" x2="1" y1="0" y2="0"><stop offset="0.000" stop-color="#f3dadf"/><stop offset="0.128" stop-color="#f6e3e7"/><stop offset="0.258" stop-color="#fefdfd"/><stop offset="0.264" stop-color="#fdf9f5"/><stop offset="0.286" stop-color="#f3d6bc"/><stop offset="0.303" stop-color="#e8af7e"/><stop offset="0.315" stop-color="#e1975c"/><stop offset="0.349" stop-color="#d9813d"/><stop offset="0.360" stop-color="#d77e39"/><stop offset="0.422" stop-color="#d77e3a"/><stop offset="0.462" stop-color="#e1965a"/><stop offset="0.468" stop-color="#e4a068"/><stop offset="0.496" stop-color="#f5ddc8"/><stop offset="0.513" stop-color="#fdf8f3"/><stop offset="0.519" stop-color="#fefdfc"/><stop offset="0.649" stop-color="#f6e4e7"/><stop offset="0.779" stop-color="#f2d8de"/><stop offset="1.000" stop-color="#f2d7dd"/></linearGradient><linearGradient id="h240" x1="0" x2="1" y1="0" y2="0"><stop offset="0.000" stop-color="#f3dadf"/><stop offset="0.128" stop-color="#f6e3e7"/><stop offset="0.258" stop-color="#fefdfd"/><stop offset="0.264" stop-color="#fefaf7"/><stop offset="0.286" stop-color="#f3d7be"/><stop offset="0.315" stop-color="#e2995e"/><stop offset="0.349" stop-color="#d9823f"/><stop offset="0.366" stop-color="#d87f3b"/><stop offset="0.422" stop-color="#d87f3b"/><stop offset="0.462" stop-color="#e1985c"/><stop offset="0.473" stop-color="#e7ae7d"/><stop offset="0.490" stop-color="#f3d5b9"/><stop offset="0.513" stop-color="#fdf8f4"/><stop offset="0.519" stop-color="#fefdfc"/><stop offset="0.649" stop-color="#f6e4e7"/><stop offset="0.779" stop-color="#f2d8de"/><stop offset="1.000" stop-color="#f2d7dd"/></linearGradient><linearGradient id="h241" x1="0" x2="1" y1="0" y2="0"><stop offset="0.000" stop-color="#f3dadf"/><stop offset="0.128" stop-color="#f6e3e7"/><stop offset="0.258" stop-color="#fefdfd"/><stop offset="0.264" stop-color="#fefcfb"/><stop offset="0.286" stop-color="#f4dac2"/><stop offset="0.315" stop-color="#e39d63"/><stop offset="0.320" stop-color="#e19659"/><stop offset="0.349" stop-color="#da8441"/><stop offset="0.366" stop-color="#d87f3b"/><stop offset="0.422" stop-color="#d8803c"/><stop offset="0.456" stop-color="#e09457"/><stop offset="0.462" stop-color="#e29a5f"/><stop offset="0.468" stop-color="#e5a570"/><stop offset="0.490" stop-color="#f4d8bf"/><stop offset="0.513" stop-color="#fefaf7"/><stop offset="0.519" stop-color="#fefdfd"/><stop offset="0.649" stop-color="#f6e3e7"/><stop offset="0.779" stop-color="#f2d8de"/><stop offset="1.000" stop-color="#f2d7dd"/></linearGradient><linearGradient id="h242" x1="0" x2="1" y1="0" y2="0"><stop offset="0.000" stop-color="#f3dadf"/><stop offset="0.128" stop-color="#f6e3e6"/><stop offset="0.264" stop-color="#fefdfc"/><stop offset="0.286" stop-color="#f5ddc6"/><stop offset="0.309" stop-color="#e7ac7a"/><stop offset="0.320" stop-color="#e1985c"/><stop offset="0.354" stop-color="#d9823f"/><stop offset="0.366" stop-color="#d8803c"/><stop offset="0.422" stop-color="#d9823e"/><stop offset="0.456" stop-color="#e1965a"/><stop offset="0.462" stop-color="#e39d64"/><stop offset="0.468" stop-color="#e6a975"/><stop offset="0.490" stop-color="#f4dac3"/><stop offset="0.513" stop-color="#fefcfb"/><stop offset="0.519" stop-color="#fefdfd"/><stop offset="0.649" stop-color="#f6e3e7"/><stop offset="0.779" stop-color="#f2d8de"/><stop offset="1.000" stop-color="#f2d7dd"/></linearGradient><linearGradient id="h243" x1="0" x2="1" y1="0" y2="0"><stop offset="0.000" stop-color="#f3dadf"/><stop offset="0.128" stop-color="#f6e3e6"/><stop offset="0.264" stop-color="#fefdfd"/><stop offset="0.269" stop-color="#fdf9f5"/><stop offset="0.292" stop-color="#f3d6bc"/><stop offset="0.309" stop-color="#e8b080"/><stop offset="0.320" stop-color="#e29a5f"/><stop offset="0.354" stop-color="#da8441"/><stop offset="0.366" stop-color="#d9813d"/><stop offset="0.417" stop-color="#d9813e"/><stop offset="0.456" stop-color="#e1985d"/><stop offset="0.468" stop-color="#e7ad7b"/><stop offset="0.490" stop-color="#f5ddc6"/><stop offset="0.513" stop-color="#fefdfc"/><stop offset="0.649" stop-color="#f6e3e6"/><stop offset="0.779" stop-color="#f2d7de"/><stop offset="1.000" stop-color="#f2d7dd"/></linearGradient><linearGradient id="h244" x1="0" x2="1" y1="0" y2="0"><stop offset="0.000" stop-color="#f3dadf"/><stop offset="0.133" stop-color="#f6e3e7"/><stop offset="0.264" stop-color="#fefdfd"/><stop offset="0.269" stop-color="#fefbf9"/><stop offset="0.292" stop-color="#f4d9c0"/><stop offset="0.320" stop-color="#e39d63"/><stop offset="0.332" stop-color="#e09355"/><stop offset="0.354" stop-color="#db8644"/><stop offset="0.371" stop-color="#d9823e"/><stop offset="0.417" stop-color="#d9823f"/><stop offset="0.456" stop-color="#e29a60"/><stop offset="0.468" stop-color="#e8b081"/><stop offset="0.485" stop-color="#f3d6bb"/><stop offset="0.507" stop-color="#fdf9f5"/><stop offset="0.513" stop-color="#fefdfc"/><stop offset="0.643" stop-color="#f6e3e7"/><stop offset="0.774" stop-color="#f2d8de"/><stop offset="1.000" stop-color="#f2d7dd"/></linearGradient><linearGradient id="h245" x1="0" x2="1" y1="0" y2="0"><stop offset="0.000" stop-color="#f3dadf"/><stop offset="0.133" stop-color="#f6e3e6"/><stop offset="0.269" stop-color="#fefdfc"/><stop offset="0.292" stop-color="#f5dbc5"/><stop offset="0.315" stop-color="#e7ac7a"/><stop offset="0.326" stop-color="#e2995e"/><stop offset="0.360" stop-color="#da8542"/><stop offset="0.371" stop-color="#d98340"/><stop offset="0.417" stop-color="#da8441"/><stop offset="0.451" stop-color="#e1975c"/><stop offset="0.456" stop-color="#e39d64"/><stop offset="0.462" stop-color="#e6a874"/><stop offset="0.485" stop-color="#f4d9c0"/><stop offset="0.507" stop-color="#fefbf8"/><stop offset="0.513" stop-color="#fefdfd"/><stop offset="0.643" stop-color="#f6e3e7"/><stop offset="0.774" stop-color="#f2d8de"/><stop offset="1.000" stop-color="#f2d7dd"/></linearGradient><linearGradient id="h246" x1="0" x2="1" y1="0" y2="0"><stop offset="0.000" stop-color="#f3dadf"/><stop offset="0.133" stop-color="#f6e3e6"/><stop offset="0.269" stop-color="#fefdfc"/><stop offset="0.275" stop-color="#fdf8f3"/><stop offset="0.298" stop-color="#f3d5b9"/><stop offset="0.315" stop-color="#e8b080"/><stop offset="0.326" stop-color="#e29c62"/><stop offset="0.360" stop-color="#db8745"/><stop offset="0.371" stop-color="#da8442"/><stop offset="0.417" stop-color="#db8644"/><stop offset="0.451" stop-color="#e29a5f"/><stop offset="0.456" stop-color="#e4a16a"/><stop offset="0.462" stop-color="#e7ac7a"/><stop offset="0.485" stop-color="#f5dbc4"/><stop offset="0.507" stop-color="#fefdfc"/><stop offset="0.513" stop-color="#fefdfd"/><stop offset="0.643" stop-color="#f6e3e7"/><stop offset="0.774" stop-color="#f2d8de"/><stop offset="1.000" stop-color="#f2d7dd"/></linearGradient><linearGradient id="h247" x1="0" x2="1" y1="0" y2="0"><stop offset="0.000" stop-color="#f3dadf"/><stop offset="0.133" stop-color="#f6e3e6"/><stop offset="0.269" stop-color="#fefdfd"/><stop offset="0.275" stop-color="#fefaf7"/><stop offset="0.298" stop-color="#f4d8bf"/><stop offset="0.326" stop-color="#e39e66"/><stop offset="0.360" stop-color="#dc8948"/><stop offset="0.377" stop-color="#db8644"/><stop offset="0.411" stop-color="#db8644"/><stop offset="0.451" stop-color="#e39c63"/><stop offset="0.462" stop-color="#e8b080"/><stop offset="0.485" stop-color="#f5ddc8"/><stop offset="0.502" stop-color="#fdf7f2"/><stop offset="0.507" stop-color="#fefdfc"/><stop offset="0.643" stop-color="#f6e3e6"/><stop offset="0.774" stop-color="#f2d7de"/><stop offset="1.000" stop-color="#f2d7dd"/></linearGradient><linearGradient id="h248" x1="0" x2="1" y1="0" y2="0"><stop offset="0.000" stop-color="#f3dadf"/><stop offset="0.133" stop-color="#f6e2e6"/><stop offset="0.230" stop-color="#faf2f3"/><stop offset="0.269" stop-color="#fefdfd"/><stop offset="0.275" stop-color="#fefcfb"/><stop offset="0.298" stop-color="#f4dac3"/><stop offset="0.326" stop-color="#e4a26c"/><stop offset="0.332" stop-color="#e29c62"/><stop offset="0.349" stop-color="#df9254"/><stop offset="0.366" stop-color="#dc8948"/><stop offset="0.377" stop-color="#db8746"/><stop offset="0.411" stop-color="#db8847"/><stop offset="0.451" stop-color="#e39f66"/><stop offset="0.462" stop-color="#e9b486"/><stop offset="0.479" stop-color="#f3d7bd"/><stop offset="0.502" stop-color="#fdfaf6"/><stop offset="0.507" stop-color="#fefdfd"/><stop offset="0.638" stop-color="#f6e3e7"/><stop offset="0.768" stop-color="#f2d8de"/><stop offset="1.000" stop-color="#f2d7dd"/></linearGradient><linearGradient id="h249" x1="0" x2="1" y1="0" y2="0"><stop offset="0.000" stop-color="#f3dadf"/><stop offset="0.139" stop-color="#f6e3e6"/><stop offset="0.275" stop-color="#fefdfc"/><stop offset="0.298" stop-color="#f5ddc7"/><stop offset="0.320" stop-color="#e8b181"/><stop offset="0.332" stop-color="#e39e66"/><stop offset="0.366" stop-color="#dd8b4b"/><stop offset="0.377" stop-color="#dc8948"/><stop offset="0.411" stop-color="#dc8a49"/><stop offset="0.445" stop-color="#e39d63"/><stop offset="0.451" stop-color="#e4a26c"/><stop offset="0.456" stop-color="#e7ad7b"/><stop offset="0.479" stop-color="#f4dac1"/><stop offset="0.496" stop-color="#fcf4ec"/><stop offset="0.502" stop-color="#fefcf9"/><stop offset="0.507" stop-color="#fefdfd"/><stop offset="0.638" stop-color="#f6e3e7"/><stop offset="0.768" stop-color="#f2d8de"/><stop offset="1.000" stop-color="#f2d7dd"/></linearGradient><linearGradient id="h250" x1="0" x2="1" y1="0" y2="0"><stop offset="0.000" stop-color="#f3dadf"/><stop offset="0.139" stop-color="#f6e3e6"/><stop offset="0.275" stop-color="#fefdfd"/><stop offset="0.281" stop-color="#fdf9f5"/><stop offset="0.303" stop-color="#f3d7bd"/><stop offset="0.320" stop-color="#e9b587"/><stop offset="0.332" stop-color="#e4a169"/><stop offset="0.360" stop-color="#df9051"/><stop offset="0.377" stop-color="#dd8b4a"/><stop offset="0.411" stop-color="#dd8c4c"/><stop offset="0.445" stop-color="#e39f67"/><stop offset="0.456" stop-color="#e8b080"/><stop offset="0.479" stop-color="#f5dcc5"/><stop offset="0.502" stop-color="#fefdfc"/><stop offset="0.638" stop-color="#f6e3e6"/><stop offset="0.768" stop-color="#f2d7de"/><stop offset="1.000" stop-color="#f2d7dd"/></linearGradient><linearGradient id="h251" x1="0" x2="1" y1="0" y2="0"><stop offset="0.000" stop-color="#f3dadf"/><stop offset="0.139" stop-color="#f6e2e6"/><stop offset="0.275" stop-color="#fefdfd"/><stop offset="0.281" stop-color="#fefbf9"/><stop offset="0.303" stop-color="#f4d9c1"/><stop offset="0.332" stop-color="#e5a46e"/><stop offset="0.366" stop-color="#df9051"/><stop offset="0.383" stop-color="#dd8c4c"/><stop offset="0.411" stop-color="#de8f4f"/><stop offset="0.445" stop-color="#e4a16a"/><stop offset="0.456" stop-color="#e9b486"/><stop offset="0.479" stop-color="#f5dec9"/><stop offset="0.496" stop-color="#fdf8f4"/><stop offset="0.502" stop-color="#fefdfc"/><stop offset="0.632" stop-color="#f6e4e7"/><stop offset="0.768" stop-color="#f2d7de"/><stop offset="1.000" stop-color="#f2d7dd"/></linearGradient><linearGradient id="h252" x1="0" x2="1" y1="0" y2="0"><stop offset="0.000" stop-color="#f3dadf"/><stop offset="0.139" stop-color="#f6e2e6"/><stop offset="0.281" stop-color="#fefdfc"/><stop offset="0.303" stop-color="#f5dcc5"/><stop offset="0.332" stop-color="#e6a874"/><stop offset="0.337" stop-color="#e4a16a"/><stop offset="0.366" stop-color="#e09254"/><stop offset="0.383" stop-color="#de8e4e"/><stop offset="0.405" stop-color="#de8e4f"/><stop offset="0.445" stop-color="#e5a46e"/><stop offset="0.473" stop-color="#f4d8bf"/><stop offset="0.496" stop-color="#fefaf7"/><stop offset="0.502" stop-color="#fefdfd"/><stop offset="0.632" stop-color="#f6e3e7"/><stop offset="0.762" stop-color="#f2d8de"/><stop offset="1.000" stop-color="#f2d7dd"/></linearGradient><linearGradient id="h253" x1="0" x2="1" y1="0" y2="0"><stop offset="0.000" stop-color="#f3dadf"/><stop offset="0.139" stop-color="#f6e2e6"/><stop offset="0.281" stop-color="#fefdfc"/><stop offset="0.286" stop-color="#fdf8f4"/><stop offset="0.303" stop-color="#f6dec9"/><stop offset="0.326" stop-color="#eab688"/><stop offset="0.337" stop-color="#e5a46e"/><stop offset="0.371" stop-color="#df9253"/><stop offset="0.383" stop-color="#de8f50"/><stop offset="0.405" stop-color="#df9052"/><stop offset="0.439" stop-color="#e4a26b"/><stop offset="0.451" stop-color="#e8b181"/><stop offset="0.473" stop-color="#f4dac3"/><stop offset="0.490" stop-color="#fcf4ed"/><stop offset="0.496" stop-color="#fefcfb"/><stop offset="0.502" stop-color="#fefdfd"/><stop offset="0.632" stop-color="#f6e3e7"/><stop offset="0.762" stop-color="#f2d8de"/><stop offset="1.000" stop-color="#f2d7dd"/></linearGradient><linearGradient id="h254" x1="0" x2="1" y1="0" y2="0"><stop offset="0.000" stop-color="#f3dadf"/><stop offset="0.145" stop-color="#f6e3e6"/><stop offset="0.281" stop-color="#fefdfd"/><stop offset="0.286" stop-color="#fefaf7"/><stop offset="0.292" stop-color="#fbf2e9"/><stop offset="0.337" stop-color="#e5a672"/><stop offset="0.371" stop-color="#e09456"/><stop offset="0.388" stop-color="#df9152"/><stop offset="0.405" stop-color="#e09355"/><stop offset="0.439" stop-color="#e5a46e"/><stop offset="0.445" stop-color="#e7ab78"/><stop offset="0.473" stop-color="#f5ddc7"/><stop offset="0.496" stop-color="#fefdfc"/><stop offset="0.632" stop-color="#f6e3e6"/><stop offset="0.762" stop-color="#f2d7de"/><stop offset="1.000" stop-color="#f2d7dd"/></linearGradient><linearGradient id="h255" x1="0" x2="1" y1="0" y2="0"><stop offset="0.000" stop-color="#f3dadf"/><stop offset="0.133" stop-color="#f5e1e5"/><stop offset="0.286" stop-color="#fefdfb"/><stop offset="0.309" stop-color="#f4dbc3"/><stop offset="0.337" stop-color="#e6aa77"/><stop offset="0.343" stop-color="#e5a46f"/><stop offset="0.371" stop-color="#e1965a"/><stop offset="0.388" stop-color="#e09254"/><stop offset="0.405" stop-color="#e09558"/><stop offset="0.439" stop-color="#e5a672"/><stop offset="0.490" stop-color="#fdf9f5"/><stop offset="0.496" stop-color="#fefdfc"/><stop offset="0.626" stop-color="#f6e3e7"/><stop offset="0.762" stop-color="#f2d7dd"/><stop offset="1.000" stop-color="#f2d7dd"/></linearGradient><linearGradient id="h256" x1="0" x2="1" y1="0" y2="0"><stop offset="0.000" stop-color="#f3dadf"/><stop offset="0.133" stop-color="#f5e1e5"/><stop offset="0.286" stop-color="#fefdfc"/><stop offset="0.292" stop-color="#fdf7f2"/><stop offset="0.332" stop-color="#eab78a"/><stop offset="0.343" stop-color="#e5a772"/><stop offset="0.377" stop-color="#e19659"/><stop offset="0.388" stop-color="#e09457"/><stop offset="0.405" stop-color="#e1975b"/><stop offset="0.439" stop-color="#e6a976"/><stop offset="0.490" stop-color="#fefbf8"/><stop offset="0.496" stop-color="#fefdfd"/><stop offset="0.626" stop-color="#f6e3e7"/><stop offset="0.757" stop-color="#f2d8de"/><stop offset="1.000" stop-color="#f2d7dd"/></linearGradient><linearGradient id="h257" x1="0" x2="1" y1="0" y2="0"><stop offset="0.000" stop-color="#f3dadf"/><stop offset="0.139" stop-color="#f5e1e5"/><stop offset="0.286" stop-color="#fefdfd"/><stop offset="0.292" stop-color="#fdfaf6"/><stop offset="0.343" stop-color="#e6a976"/><stop offset="0.377" stop-color="#e1985d"/><stop offset="0.388" stop-color="#e19659"/><stop offset="0.405" stop-color="#e2995e"/><stop offset="0.434" stop-color="#e6a773"/><stop offset="0.439" stop-color="#e7ad7b"/><stop offset="0.485" stop-color="#fcf5ef"/><stop offset="0.490" stop-color="#fefdfc"/><stop offset="0.496" stop-color="#fefdfd"/><stop offset="0.626" stop-color="#f6e3e7"/><stop offset="0.757" stop-color="#f2d8de"/><stop offset="1.000" stop-color="#f2d7dd"/></linearGradient><linearGradient id="h258" x1="0" x2="1" y1="0" y2="0"><stop offset="0.000" stop-color="#f3dadf"/><stop offset="0.139" stop-color="#f5e1e5"/><stop offset="0.247" stop-color="#faf2f3"/><stop offset="0.286" stop-color="#fefdfd"/><stop offset="0.292" stop-color="#fefcfa"/><stop offset="0.343" stop-color="#e7ac7a"/><stop offset="0.354" stop-color="#e5a56f"/><stop offset="0.388" stop-color="#e1975c"/><stop offset="0.400" stop-color="#e2995e"/><stop offset="0.434" stop-color="#e6a976"/><stop offset="0.445" stop-color="#eab98d"/><stop offset="0.485" stop-color="#fdf8f3"/><stop offset="0.490" stop-color="#fefdfc"/><stop offset="0.621" stop-color="#f6e4e7"/><stop offset="0.757" stop-color="#f2d7de"/><stop offset="1.000" stop-color="#f2d7dd"/></linearGradient><linearGradient id="h259" x1="0" x2="1" y1="0" y2="0"><stop offset="0.000" stop-color="#f3dadf"/><stop offset="0.139" stop-color="#f5e1e5"/><stop offset="0.292" stop-color="#fefdfc"/><stop offset="0.343" stop-color="#e8b080"/><stop offset="0.354" stop-color="#e5a772"/><stop offset="0.388" stop-color="#e2995e"/><stop offset="0.400" stop-color="#e29b61"/><stop offset="0.434" stop-color="#e7ac79"/><stop offset="0.485" stop-color="#fdfaf7"/><stop offset="0.490" stop-color="#fefdfd"/><stop offset="0.621" stop-color="#f6e3e7"/><stop offset="0.751" stop-color="#f2d8de"/><stop offset="1.000" stop-color="#f2d7dd"/></linearGradient><linearGradient id="h260" x1="0" x2="1" y1="0" y2="0"><stop offset="0.000" stop-color="#f3dadf"/><stop offset="0.139" stop-color="#f5e1e4"/><stop offset="0.292" stop-color="#fefdfc"/><stop offset="0.298" stop-color="#fdf9f5"/><stop offset="0.337" stop-color="#ebbc92"/><stop offset="0.349" stop-color="#e7ac7a"/><stop offset="0.388" stop-color="#e29b61"/><stop offset="0.422" stop-color="#e6a773"/><stop offset="0.434" stop-color="#e8af7e"/><stop offset="0.485" stop-color="#fefcfa"/><stop offset="0.490" stop-color="#fefdfd"/><stop offset="0.621" stop-color="#f6e3e7"/><stop offset="0.751" stop-color="#f2d8de"/><stop offset="1.000" stop-color="#f2d7dd"/></linearGradient><linearGradient id="h261" x1="0" x2="1" y1="0" y2="0"><stop offset="0.000" stop-color="#f3dadf"/><stop offset="0.145" stop-color="#f5e1e5"/><stop offset="0.252" stop-color="#faf2f3"/><stop offset="0.292" stop-color="#fefdfd"/><stop offset="0.298" stop-color="#fefbf9"/><stop offset="0.349" stop-color="#e8af7e"/><stop offset="0.388" stop-color="#e39d64"/><stop offset="0.422" stop-color="#e6a976"/><stop offset="0.434" stop-color="#e9b283"/><stop offset="0.485" stop-color="#fefdfc"/><stop offset="0.621" stop-color="#f6e3e6"/><stop offset="0.751" stop-color="#f2d7de"/><stop offset="1.000" stop-color="#f2d7dd"/></linearGradient><linearGradient id="h262" x1="0" x2="1" y1="0" y2="0"><stop offset="0.000" stop-color="#f3dadf"/><stop offset="0.139" stop-color="#f5e0e4"/><stop offset="0.298" stop-color="#fefdfc"/><stop offset="0.349" stop-color="#e9b283"/><stop offset="0.360" stop-color="#e6aa77"/><stop offset="0.388" stop-color="#e39f67"/><stop offset="0.428" stop-color="#e8ae7d"/><stop offset="0.439" stop-color="#ecbd94"/><stop offset="0.479" stop-color="#fdf9f5"/><stop offset="0.485" stop-color="#fefdfc"/><stop offset="0.615" stop-color="#f6e3e7"/><stop offset="0.751" stop-color="#f2d7dd"/><stop offset="1.000" stop-color="#f2d7dd"/></linearGradient><linearGradient id="h263" x1="0" x2="1" y1="0" y2="0"><stop offset="0.000" stop-color="#f3dadf"/><stop offset="0.145" stop-color="#f5e1e5"/><stop offset="0.298" stop-color="#fefdfc"/><stop offset="0.303" stop-color="#fdf8f4"/><stop offset="0.343" stop-color="#ecbd94"/><stop offset="0.354" stop-color="#e8af7f"/><stop offset="0.388" stop-color="#e4a26a"/><stop offset="0.428" stop-color="#e8b181"/><stop offset="0.479" stop-color="#fefbf8"/><stop offset="0.485" stop-color="#fefdfd"/><stop offset="0.615" stop-color="#f6e3e7"/><stop offset="0.745" stop-color="#f2d8de"/><stop offset="1.000" stop-color="#f2d7dd"/></linearGradient><linearGradient id="h264" x1="0" x2="1" y1="0" y2="0"><stop offset="0.000" stop-color="#f3dadf"/><stop offset="0.145" stop-color="#f5e0e4"/><stop offset="0.258" stop-color="#faf3f3"/><stop offset="0.298" stop-color="#fefdfd"/><stop offset="0.303" stop-color="#fefaf8"/><stop offset="0.320" stop-color="#f6e1cd"/><stop offset="0.354" stop-color="#e8b282"/><stop offset="0.388" stop-color="#e5a46e"/><stop offset="0.417" stop-color="#e7ad7b"/><stop offset="0.428" stop-color="#e9b486"/><stop offset="0.479" stop-color="#fefdfc"/><stop offset="0.485" stop-color="#fefdfd"/><stop offset="0.615" stop-color="#f6e3e7"/><stop offset="0.745" stop-color="#f2d8de"/><stop offset="1.000" stop-color="#f2d7dd"/></linearGradient><linearGradient id="h265" x1="0" x2="1" y1="0" y2="0"><stop offset="0.000" stop-color="#f3dadf"/><stop offset="0.145" stop-color="#f5e0e4"/><stop offset="0.258" stop-color="#faf2f3"/><stop offset="0.298" stop-color="#fefdfd"/><stop offset="0.303" stop-color="#fefdfb"/><stop offset="0.326" stop-color="#f5dbc4"/><stop offset="0.354" stop-color="#e9b587"/><stop offset="0.388" stop-color="#e5a671"/><stop offset="0.417" stop-color="#e8af7e"/><stop offset="0.428" stop-color="#eab78a"/><stop offset="0.456" stop-color="#f5dec8"/><stop offset="0.473" stop-color="#fdf8f3"/><stop offset="0.479" stop-color="#fefdfc"/><stop offset="0.609" stop-color="#f6e4e7"/><stop offset="0.745" stop-color="#f2d7de"/><stop offset="1.000" stop-color="#f2d7dd"/></linearGradient><linearGradient id="h266" x1="0" x2="1" y1="0" y2="0"><stop offset="0.000" stop-color="#f3dadf"/><stop offset="0.150" stop-color="#f5e1e5"/><stop offset="0.303" stop-color="#fefdfc"/><stop offset="0.354" stop-color="#eab88b"/><stop offset="0.366" stop-color="#e8b080"/><stop offset="0.388" stop-color="#e6a874"/><stop offset="0.422" stop-color="#e9b385"/><stop offset="0.451" stop-color="#f4d8bf"/><stop offset="0.473" stop-color="#fdfaf6"/><stop offset="0.479" stop-color="#fefdfd"/><stop offset="0.609" stop-color="#f6e3e7"/><stop offset="0.745" stop-color="#f2d7dd"/><stop offset="1.000" stop-color="#f2d7dd"/></linearGradient><linearGradient id="h267" x1="0" x2="1" y1="0" y2="0"><stop offset="0.000" stop-color="#f3dadf"/><stop offset="0.150" stop-color="#f5e0e4"/><stop offset="0.303" stop-color="#fefdfd"/><stop offset="0.309" stop-color="#fdfaf6"/><stop offset="0.332" stop-color="#f4d8bf"/><stop offset="0.360" stop-color="#e9b587"/><stop offset="0.388" stop-color="#e6aa77"/><stop offset="0.422" stop-color="#eab689"/><stop offset="0.451" stop-color="#f4dac3"/><stop offset="0.473" stop-color="#fefcfa"/><stop offset="0.479" stop-color="#fefdfd"/><stop offset="0.609" stop-color="#f6e3e7"/><stop offset="0.740" stop-color="#f2d8de"/><stop offset="1.000" stop-color="#f2d7dd"/></linearGradient><linearGradient id="h268" x1="0" x2="1" y1="0" y2="0"><stop offset="0.000" stop-color="#f3dadf"/><stop offset="0.150" stop-color="#f5e0e4"/><stop offset="0.264" stop-color="#faf2f3"/><stop offset="0.303" stop-color="#fefdfd"/><stop offset="0.309" stop-color="#fefcfa"/><stop offset="0.332" stop-color="#f4dbc3"/><stop offset="0.360" stop-color="#eab78b"/><stop offset="0.388" stop-color="#e7ac7a"/><stop offset="0.411" stop-color="#e9b283"/><stop offset="0.422" stop-color="#eab98d"/><stop offset="0.451" stop-color="#f5ddc7"/><stop offset="0.473" stop-color="#fefdfc"/><stop offset="0.609" stop-color="#f6e3e6"/><stop offset="0.740" stop-color="#f2d7de"/><stop offset="1.000" stop-color="#f2d7dd"/></linearGradient><linearGradient id="h269" x1="0" x2="1" y1="0" y2="0"><stop offset="0.000" stop-color="#f3dadf"/><stop offset="0.150" stop-color="#f5e0e4"/><stop offset="0.309" stop-color="#fefdfc"/><stop offset="0.337" stop-color="#f3d5bb"/><stop offset="0.360" stop-color="#ebba8f"/><stop offset="0.366" stop-color="#eab688"/><stop offset="0.388" stop-color="#e7ae7d"/><stop offset="0.411" stop-color="#e9b485"/><stop offset="0.422" stop-color="#ebbc91"/><stop offset="0.445" stop-color="#f3d7be"/><stop offset="0.468" stop-color="#fdf9f5"/><stop offset="0.473" stop-color="#fefdfc"/><stop offset="0.604" stop-color="#f6e3e7"/><stop offset="0.740" stop-color="#f2d7dd"/><stop offset="1.000" stop-color="#f2d7dd"/></linearGradient><linearGradient id="h270" x1="0" x2="1" y1="0" y2="0"><stop offset="0.000" stop-color="#f3dadf"/><stop offset="0.077" stop-color="#f3dae0"/><stop offset="0.156" stop-color="#f5e1e4"/><stop offset="0.309" stop-color="#fefdfd"/><stop offset="0.315" stop-color="#fdf9f6"/><stop offset="0.337" stop-color="#f4d8bf"/><stop offset="0.360" stop-color="#ecbd94"/><stop offset="0.366" stop-color="#eab88b"/><stop offset="0.388" stop-color="#e8b080"/><stop offset="0.417" stop-color="#eab98d"/><stop offset="0.445" stop-color="#f4dac2"/><stop offset="0.468" stop-color="#fefbf9"/><stop offset="0.473" stop-color="#fefdfd"/><stop offset="0.604" stop-color="#f6e3e7"/><stop offset="0.740" stop-color="#f2d7dd"/><stop offset="1.000" stop-color="#f2d7dd"/></linearGradient><linearGradient id="h271" x1="0" x2="1" y1="0" y2="0"><stop offset="0.000" stop-color="#f3dadf"/><stop offset="0.077" stop-color="#f3dadf"/><stop offset="0.156" stop-color="#f5e0e4"/><stop offset="0.269" stop-color="#faf2f3"/><stop offset="0.309" stop-color="#fefdfd"/><stop offset="0.315" stop-color="#fefcfb"/><stop offset="0.337" stop-color="#f5dbc4"/><stop offset="0.366" stop-color="#ebbb90"/><stop offset="0.388" stop-color="#e9b283"/><stop offset="0.405" stop-color="#eab688"/><stop offset="0.417" stop-color="#ebbc92"/><stop offset="0.445" stop-color="#f5ddc7"/><stop offset="0.468" stop-color="#fefdfc"/><stop offset="0.604" stop-color="#f6e3e6"/><stop offset="0.734" stop-color="#f2d7de"/><stop offset="1.000" stop-color="#f2d7dd"/></linearGradient><linearGradient id="h272" x1="0" x2="1" y1="0" y2="0"><stop offset="0.000" stop-color="#f3dadf"/><stop offset="0.077" stop-color="#f3dadf"/><stop offset="0.156" stop-color="#f5e0e4"/><stop offset="0.315" stop-color="#fefdfc"/><stop offset="0.320" stop-color="#fdf8f3"/><stop offset="0.343" stop-color="#f3d7bd"/><stop offset="0.366" stop-color="#ecbe95"/><stop offset="0.371" stop-color="#ebba8e"/><stop offset="0.388" stop-color="#e9b486"/><stop offset="0.405" stop-color="#eab88b"/><stop offset="0.417" stop-color="#ecbf97"/><stop offset="0.439" stop-color="#f4d8bf"/><stop offset="0.462" stop-color="#fdf9f6"/><stop offset="0.468" stop-color="#fefdfd"/><stop offset="0.598" stop-color="#f6e3e7"/><stop offset="0.734" stop-color="#f2d7dd"/><stop offset="1.000" stop-color="#f2d7dd"/></linearGradient><linearGradient id="h273" x1="0" x2="1" y1="0" y2="0"><stop offset="0.000" stop-color="#f3dadf"/><stop offset="0.082" stop-color="#f3dadf"/><stop offset="0.162" stop-color="#f5e0e4"/><stop offset="0.275" stop-color="#faf2f3"/><stop offset="0.315" stop-color="#fefdfd"/><stop offset="0.320" stop-color="#fefbf8"/><stop offset="0.343" stop-color="#f4dac2"/><stop offset="0.366" stop-color="#edc19a"/><stop offset="0.371" stop-color="#ebbc92"/><stop offset="0.388" stop-color="#eab689"/><stop offset="0.411" stop-color="#ecbd93"/><stop offset="0.439" stop-color="#f5dbc4"/><stop offset="0.462" stop-color="#fefcfb"/><stop offset="0.468" stop-color="#fefdfd"/><stop offset="0.598" stop-color="#f6e3e7"/><stop offset="0.728" stop-color="#f2d8de"/><stop offset="1.000" stop-color="#f2d7dd"/></linearGradient><linearGradient id="h274" x1="0" x2="1" y1="0" y2="0"><stop offset="0.000" stop-color="#f3dadf"/><stop offset="0.082" stop-color="#f3dadf"/><stop offset="0.162" stop-color="#f5e0e4"/><stop offset="0.320" stop-color="#fefdfc"/><stop offset="0.343" stop-color="#f5ddc7"/><stop offset="0.354" stop-color="#f1d0b2"/><stop offset="0.371" stop-color="#ecbf97"/><stop offset="0.388" stop-color="#eab88c"/><stop offset="0.400" stop-color="#ebba8e"/><stop offset="0.411" stop-color="#edc098"/><stop offset="0.434" stop-color="#f3d7bd"/><stop offset="0.456" stop-color="#fdf8f3"/><stop offset="0.462" stop-color="#fefdfc"/><stop offset="0.592" stop-color="#f6e4e7"/><stop offset="0.728" stop-color="#f2d7de"/><stop offset="1.000" stop-color="#f2d7dd"/></linearGradient><linearGradient id="h275" x1="0" x2="1" y1="0" y2="0"><stop offset="0.000" stop-color="#f3dadf"/><stop offset="0.082" stop-color="#f3dadf"/><stop offset="0.167" stop-color="#f5e0e4"/><stop offset="0.320" stop-color="#fefdfd"/><stop offset="0.326" stop-color="#fdfaf6"/><stop offset="0.343" stop-color="#f6e0cc"/><stop offset="0.354" stop-color="#f2d3b6"/><stop offset="0.377" stop-color="#ecbe94"/><stop offset="0.388" stop-color="#ebba8f"/><stop offset="0.400" stop-color="#ebbc91"/><stop offset="0.411" stop-color="#edc39d"/><stop offset="0.434" stop-color="#f4dac1"/><stop offset="0.456" stop-color="#fefbf8"/><stop offset="0.462" stop-color="#fefdfd"/><stop offset="0.592" stop-color="#f6e3e7"/><stop offset="0.728" stop-color="#f2d7dd"/><stop offset="1.000" stop-color="#f2d7dd"/></linearGradient><linearGradient id="h276" x1="0" x2="1" y1="0" y2="0"><stop offset="0.000" stop-color="#f3dadf"/><stop offset="0.088" stop-color="#f3dadf"/><stop offset="0.167" stop-color="#f5e0e4"/><stop offset="0.281" stop-color="#faf2f3"/><stop offset="0.320" stop-color="#fefdfd"/><stop offset="0.326" stop-color="#fefcfb"/><stop offset="0.343" stop-color="#f7e3d1"/><stop offset="0.354" stop-color="#f3d5ba"/><stop offset="0.377" stop-color="#edc199"/><stop offset="0.388" stop-color="#ebbc92"/><stop offset="0.400" stop-color="#ecbe95"/><stop offset="0.411" stop-color="#eec6a2"/><stop offset="0.434" stop-color="#f5ddc6"/><stop offset="0.456" stop-color="#fefdfc"/><stop offset="0.462" stop-color="#fefdfd"/><stop offset="0.592" stop-color="#f6e3e6"/><stop offset="0.723" stop-color="#f2d7de"/><stop offset="1.000" stop-color="#f2d7dd"/></linearGradient><linearGradient id="h277" x1="0" x2="1" y1="0" y2="0"><stop offset="0.000" stop-color="#f3dadf"/><stop offset="0.088" stop-color="#f3dadf"/><stop offset="0.167" stop-color="#f5e0e4"/><stop offset="0.326" stop-color="#fefdfc"/><stop offset="0.332" stop-color="#fdf8f4"/><stop offset="0.354" stop-color="#f4d8be"/><stop offset="0.377" stop-color="#eec39e"/><stop offset="0.388" stop-color="#ecbe95"/><stop offset="0.400" stop-color="#ecc098"/><stop offset="0.422" stop-color="#f2d3b6"/><stop offset="0.434" stop-color="#f6dfcb"/><stop offset="0.451" stop-color="#fdf9f5"/><stop offset="0.456" stop-color="#fefdfd"/><stop offset="0.587" stop-color="#f6e3e7"/><stop offset="0.723" stop-color="#f2d7dd"/><stop offset="1.000" stop-color="#f2d7dd"/></linearGradient><linearGradient id="h278" x1="0" x2="1" y1="0" y2="0"><stop offset="0.000" stop-color="#f3dadf"/><stop offset="0.094" stop-color="#f3dadf"/><stop offset="0.173" stop-color="#f5e0e4"/><stop offset="0.286" stop-color="#faf2f3"/><stop offset="0.326" stop-color="#fefdfd"/><stop offset="0.332" stop-color="#fefbf9"/><stop offset="0.354" stop-color="#f4dac2"/><stop offset="0.377" stop-color="#eec6a2"/><stop offset="0.388" stop-color="#ecc098"/><stop offset="0.400" stop-color="#edc29c"/><stop offset="0.422" stop-color="#f3d5ba"/><stop offset="0.434" stop-color="#f7e3d0"/><stop offset="0.451" stop-color="#fefcfa"/><stop offset="0.456" stop-color="#fefdfd"/><stop offset="0.587" stop-color="#f6e3e7"/><stop offset="0.723" stop-color="#f2d7dd"/><stop offset="1.000" stop-color="#f2d7dd"/></linearGradient><linearGradient id="h279" x1="0" x2="1" y1="0" y2="0"><stop offset="0.000" stop-color="#f3dadf"/><stop offset="0.094" stop-color="#f3dadf"/><stop offset="0.173" stop-color="#f5e0e4"/><stop offset="0.332" stop-color="#fefdfc"/><stop offset="0.360" stop-color="#f3d7bd"/><stop offset="0.388" stop-color="#edc29b"/><stop offset="0.400" stop-color="#eec5a0"/><stop offset="0.422" stop-color="#f3d7be"/><stop offset="0.451" stop-color="#fefdfc"/><stop offset="0.587" stop-color="#f6e3e6"/><stop offset="0.717" stop-color="#f2d7de"/><stop offset="1.000" stop-color="#f2d7dd"/></linearGradient><linearGradient id="h280" x1="0" x2="1" y1="0" y2="0"><stop offset="0.000" stop-color="#f3dadf"/><stop offset="0.094" stop-color="#f3dadf"/><stop offset="0.179" stop-color="#f5e0e4"/><stop offset="0.292" stop-color="#faf3f4"/><stop offset="0.332" stop-color="#fefdfd"/><stop offset="0.337" stop-color="#fefaf7"/><stop offset="0.360" stop-color="#f4d9c1"/><stop offset="0.388" stop-color="#eec49e"/><stop offset="0.400" stop-color="#efc8a4"/><stop offset="0.422" stop-color="#f4d9c1"/><stop offset="0.445" stop-color="#fefaf7"/><stop offset="0.451" stop-color="#fefdfd"/><stop offset="0.581" stop-color="#f6e3e7"/><stop offset="0.717" stop-color="#f2d7dd"/><stop offset="1.000" stop-color="#f2d7dd"/></linearGradient><linearGradient id="h281" x1="0" x2="1" y1="0" y2="0"><stop offset="0.000" stop-color="#f3dadf"/><stop offset="0.099" stop-color="#f3dadf"/><stop offset="0.179" stop-color="#f5e0e4"/><stop offset="0.292" stop-color="#faf2f3"/><stop offset="0.332" stop-color="#fefdfd"/><stop offset="0.337" stop-color="#fefdfb"/><stop offset="0.354" stop-color="#f7e4d2"/><stop offset="0.366" stop-color="#f3d6bc"/><stop offset="0.388" stop-color="#eec7a3"/><stop offset="0.394" stop-color="#eec7a3"/><stop offset="0.417" stop-color="#f3d6bc"/><stop offset="0.428" stop-color="#f7e4d2"/><stop offset="0.445" stop-color="#fefdfc"/><stop offset="0.451" stop-color="#fefdfd"/><stop offset="0.581" stop-color="#f6e3e6"/><stop offset="0.711" stop-color="#f2d7de"/><stop offset="1.000" stop-color="#f2d7dd"/></linearGradient><linearGradient id="h282" x1="0" x2="1" y1="0" y2="0"><stop offset="0.000" stop-color="#f3dadf"/><stop offset="0.099" stop-color="#f3dadf"/><stop offset="0.179" stop-color="#f5e0e4"/><stop offset="0.337" stop-color="#fefdfc"/><stop offset="0.343" stop-color="#fdf9f4"/><stop offset="0.366" stop-color="#f4d8bf"/><stop offset="0.388" stop-color="#efc9a7"/><stop offset="0.394" stop-color="#efc9a7"/><stop offset="0.417" stop-color="#f4d8bf"/><stop offset="0.439" stop-color="#fdf9f5"/><stop offset="0.445" stop-color="#fefdfc"/><stop offset="0.575" stop-color="#f6e3e7"/><stop offset="0.711" stop-color="#f2d7dd"/><stop offset="1.000" stop-color="#f2d7dd"/></linearGradient><linearGradient id="h283" x1="0" x2="1" y1="0" y2="0"><stop offset="0.000" stop-color="#f3dadf"/><stop offset="0.105" stop-color="#f3dadf"/><stop offset="0.184" stop-color="#f5e0e4"/><stop offset="0.298" stop-color="#faf2f3"/><stop offset="0.337" stop-color="#fefdfd"/><stop offset="0.343" stop-color="#fefcfa"/><stop offset="0.366" stop-color="#f4dbc3"/><stop offset="0.388" stop-color="#f0ccab"/><stop offset="0.400" stop-color="#f1cfb0"/><stop offset="0.417" stop-color="#f4dbc3"/><stop offset="0.439" stop-color="#fefcfa"/><stop offset="0.445" stop-color="#fefdfd"/><stop offset="0.575" stop-color="#f6e3e7"/><stop offset="0.711" stop-color="#f2d7dd"/><stop offset="1.000" stop-color="#f2d7dd"/></linearGradient><linearGradient id="h284" x1="0" x2="1" y1="0" y2="0"><stop offset="0.000" stop-color="#f3dadf"/><stop offset="0.105" stop-color="#f3dadf"/><stop offset="0.184" stop-color="#f5e0e4"/><stop offset="0.298" stop-color="#faf2f3"/><stop offset="0.337" stop-color="#fefdfd"/><stop offset="0.343" stop-color="#fefdfc"/><stop offset="0.360" stop-color="#f7e4d3"/><stop offset="0.371" stop-color="#f3d7bd"/><stop offset="0.388" stop-color="#f0cdad"/><stop offset="0.394" stop-color="#f0cdad"/><stop offset="0.411" stop-color="#f3d7bd"/><stop offset="0.422" stop-color="#f7e4d3"/><stop offset="0.439" stop-color="#fefdfc"/><stop offset="0.445" stop-color="#fefdfd"/><stop offset="0.575" stop-color="#f6e3e6"/><stop offset="0.706" stop-color="#f2d7de"/><stop offset="1.000" stop-color="#f2d7dd"/></linearGradient></defs>
<rect width="685" height="571" fill="#fff"/>
<rect x="37.6" y="18.00" width="90.0" height="141.30" fill="url(#h1)"/><rect x="142.9" y="18.00" width="90.0" height="141.30" fill="url(#h2)"/><rect x="247.8" y="18.00" width="90.0" height="141.30" fill="url(#h3)"/>
<rect x="47.60" y="18.7" width="15.1" height="139.90" fill="none" stroke="#2e2222" stroke-width="1.25" stroke-dasharray="2.9 1.7"/>
<rect x="148.8" y="18.7" width="16.2" height="104.50" fill="none" stroke="#2e2222" stroke-width="1.25" stroke-dasharray="2.9 1.7"/>
<text x="65.5" y="145.6" font-size="10.3" text-anchor="start" fill="#231815" stroke="#231815" stroke-width="0.28" >PbI<tspan font-size="6.8" dy="2.8">2</tspan></text>
<text x="148.6" y="134.8" font-size="10.3" text-anchor="start" fill="#231815" stroke="#231815" stroke-width="0.28" >PbI<tspan font-size="6.8" dy="2.8">2</tspan></text>
<rect x="37.6" y="18.0" width="90.00" height="141.30" fill="none" stroke="#161212" stroke-width="1.35"/>
<line x1="47.6" y1="159.3" x2="47.6" y2="162.10000000000002" stroke="#161212" stroke-width="1.2" />
<text x="47.6" y="172" font-size="10.3" text-anchor="middle" fill="#161212" stroke="#161212" stroke-width="0.28" >9</text>
<line x1="87.6" y1="159.3" x2="87.6" y2="162.10000000000002" stroke="#161212" stroke-width="1.2" />
<text x="87.6" y="172" font-size="10.3" text-anchor="middle" fill="#161212" stroke="#161212" stroke-width="0.28" >10</text>
<line x1="127.6" y1="159.3" x2="127.6" y2="162.10000000000002" stroke="#161212" stroke-width="1.2" />
<text x="127.6" y="172" font-size="10.3" text-anchor="middle" fill="#161212" stroke="#161212" stroke-width="0.28" >11</text>
<line x1="67.6" y1="159.3" x2="67.6" y2="161.3" stroke="#161212" stroke-width="1.2" />
<line x1="107.6" y1="159.3" x2="107.6" y2="161.3" stroke="#161212" stroke-width="1.2" />
<text x="88.6" y="184" font-size="11.6" text-anchor="middle" fill="#231815" stroke="#231815" stroke-width="0.28" ><tspan font-style="italic">q</tspan> (nm<tspan font-size="7" dy="-4.5">-1</tspan><tspan dy="4.5">)</tspan></text>
<rect x="142.9" y="18.0" width="90.00" height="141.30" fill="none" stroke="#161212" stroke-width="1.35"/>
<line x1="152.9" y1="159.3" x2="152.9" y2="162.10000000000002" stroke="#161212" stroke-width="1.2" />
<text x="152.9" y="172" font-size="10.3" text-anchor="middle" fill="#161212" stroke="#161212" stroke-width="0.28" >9</text>
<line x1="192.9" y1="159.3" x2="192.9" y2="162.10000000000002" stroke="#161212" stroke-width="1.2" />
<text x="192.9" y="172" font-size="10.3" text-anchor="middle" fill="#161212" stroke="#161212" stroke-width="0.28" >10</text>
<line x1="232.9" y1="159.3" x2="232.9" y2="162.10000000000002" stroke="#161212" stroke-width="1.2" />
<text x="232.9" y="172" font-size="10.3" text-anchor="middle" fill="#161212" stroke="#161212" stroke-width="0.28" >11</text>
<line x1="172.9" y1="159.3" x2="172.9" y2="161.3" stroke="#161212" stroke-width="1.2" />
<line x1="212.9" y1="159.3" x2="212.9" y2="161.3" stroke="#161212" stroke-width="1.2" />
<text x="193.9" y="184" font-size="11.6" text-anchor="middle" fill="#231815" stroke="#231815" stroke-width="0.28" ><tspan font-style="italic">q</tspan> (nm<tspan font-size="7" dy="-4.5">-1</tspan><tspan dy="4.5">)</tspan></text>
<rect x="247.8" y="18.0" width="90.00" height="141.30" fill="none" stroke="#161212" stroke-width="1.35"/>
<line x1="257.8" y1="159.3" x2="257.8" y2="162.10000000000002" stroke="#161212" stroke-width="1.2" />
<text x="257.8" y="172" font-size="10.3" text-anchor="middle" fill="#161212" stroke="#161212" stroke-width="0.28" >9</text>
<line x1="297.8" y1="159.3" x2="297.8" y2="162.10000000000002" stroke="#161212" stroke-width="1.2" />
<text x="297.8" y="172" font-size="10.3" text-anchor="middle" fill="#161212" stroke="#161212" stroke-width="0.28" >10</text>
<line x1="337.8" y1="159.3" x2="337.8" y2="162.10000000000002" stroke="#161212" stroke-width="1.2" />
<text x="337.8" y="172" font-size="10.3" text-anchor="middle" fill="#161212" stroke="#161212" stroke-width="0.28" >11</text>
<line x1="277.8" y1="159.3" x2="277.8" y2="161.3" stroke="#161212" stroke-width="1.2" />
<line x1="317.8" y1="159.3" x2="317.8" y2="161.3" stroke="#161212" stroke-width="1.2" />
<text x="298.8" y="184" font-size="11.6" text-anchor="middle" fill="#231815" stroke="#231815" stroke-width="0.28" ><tspan font-style="italic">q</tspan> (nm<tspan font-size="7" dy="-4.5">-1</tspan><tspan dy="4.5">)</tspan></text>
<line x1="34.0" y1="18.0" x2="37.6" y2="18.0" stroke="#161212" stroke-width="1.2" />
<line x1="34.0" y1="88.65" x2="37.6" y2="88.65" stroke="#161212" stroke-width="1.2" />
<line x1="34.0" y1="159.3" x2="37.6" y2="159.3" stroke="#161212" stroke-width="1.2" />
<line x1="35.4" y1="53.325" x2="37.6" y2="53.325" stroke="#161212" stroke-width="1.2" />
<line x1="35.4" y1="123.97500000000001" x2="37.6" y2="123.97500000000001" stroke="#161212" stroke-width="1.2" />
<text x="23.4" y="21.5" font-size="10.3" text-anchor="middle" fill="#161212" stroke="#161212" stroke-width="0.28" >100</text>
<text x="22.2" y="92.2" font-size="10.3" text-anchor="middle" fill="#161212" stroke="#161212" stroke-width="0.28" >50</text>
<text x="21.1" y="162.3" font-size="10.3" text-anchor="middle" fill="#161212" stroke="#161212" stroke-width="0.28" >0</text>
<text x="9.0" y="89" font-size="11.6" text-anchor="middle" fill="#231815" stroke="#231815" stroke-width="0.28" transform="rotate(-90 9.0 89)" >Time (h)</text>
<text x="1.8" y="12" font-size="16" text-anchor="start" fill="#231815" stroke="#231815" stroke-width="0.28" >a</text>
<text x="121.8" y="32" font-size="11.6" text-anchor="end" fill="#231815" stroke="#231815" stroke-width="0.28" >Control</text>
<text x="227.3" y="32" font-size="11.6" text-anchor="end" fill="#231815" stroke="#231815" stroke-width="0.28" >AD</text>
<text x="333.2" y="32" font-size="11.6" text-anchor="end" fill="#231815" stroke="#231815" stroke-width="0.28" >OPD</text>
<rect x="388.4" y="18.00" width="88.2" height="40.35" fill="url(#h4)"/><rect x="388.4" y="58.00" width="88.2" height="40.35" fill="url(#h5)"/><rect x="388.4" y="98.00" width="88.2" height="17.35" fill="url(#h6)"/><rect x="388.4" y="115.00" width="88.2" height="2.35" fill="url(#h7)"/><rect x="388.4" y="117.00" width="88.2" height="1.35" fill="url(#h8)"/><rect x="388.4" y="118.00" width="88.2" height="1.35" fill="url(#h9)"/><rect x="388.4" y="119.00" width="88.2" height="1.35" fill="url(#h10)"/><rect x="388.4" y="120.00" width="88.2" height="1.35" fill="url(#h11)"/><rect x="388.4" y="121.00" width="88.2" height="1.35" fill="url(#h12)"/><rect x="388.4" y="122.00" width="88.2" height="1.35" fill="url(#h13)"/><rect x="388.4" y="123.00" width="88.2" height="1.35" fill="url(#h14)"/><rect x="388.4" y="124.00" width="88.2" height="1.35" fill="url(#h15)"/><rect x="388.4" y="125.00" width="88.2" height="1.35" fill="url(#h16)"/><rect x="388.4" y="126.00" width="88.2" height="1.35" fill="url(#h17)"/><rect x="388.4" y="127.00" width="88.2" height="1.35" fill="url(#h18)"/><rect x="388.4" y="128.00" width="88.2" height="1.35" fill="url(#h19)"/><rect x="388.4" y="129.00" width="88.2" height="1.35" fill="url(#h20)"/><rect x="388.4" y="130.00" width="88.2" height="1.35" fill="url(#h21)"/><rect x="388.4" y="131.00" width="88.2" height="1.35" fill="url(#h22)"/><rect x="388.4" y="132.00" width="88.2" height="1.35" fill="url(#h23)"/><rect x="388.4" y="133.00" width="88.2" height="1.35" fill="url(#h24)"/><rect x="388.4" y="134.00" width="88.2" height="1.35" fill="url(#h25)"/><rect x="388.4" y="135.00" width="88.2" height="1.35" fill="url(#h26)"/><rect x="388.4" y="136.00" width="88.2" height="1.35" fill="url(#h27)"/><rect x="388.4" y="137.00" width="88.2" height="1.35" fill="url(#h28)"/><rect x="388.4" y="138.00" width="88.2" height="1.35" fill="url(#h29)"/><rect x="388.4" y="139.00" width="88.2" height="1.35" fill="url(#h30)"/><rect x="388.4" y="140.00" width="88.2" height="1.35" fill="url(#h31)"/><rect x="388.4" y="141.00" width="88.2" height="1.35" fill="url(#h32)"/><rect x="388.4" y="142.00" width="88.2" height="1.35" fill="url(#h33)"/><rect x="388.4" y="143.00" width="88.2" height="1.35" fill="url(#h34)"/><rect x="388.4" y="144.00" width="88.2" height="1.35" fill="url(#h35)"/><rect x="388.4" y="145.00" width="88.2" height="1.35" fill="url(#h36)"/><rect x="388.4" y="146.00" width="88.2" height="1.35" fill="url(#h37)"/><rect x="388.4" y="147.00" width="88.2" height="1.35" fill="url(#h38)"/><rect x="388.4" y="148.00" width="88.2" height="1.35" fill="url(#h39)"/><rect x="388.4" y="149.00" width="88.2" height="1.35" fill="url(#h40)"/><rect x="388.4" y="150.00" width="88.2" height="9.00" fill="url(#h41)"/>
<line x1="388.4" y1="124.2" x2="476.59999999999997" y2="124.2" stroke="#c41f52" stroke-width="1.5" stroke-dasharray="4.2 3.1" stroke-dashoffset="-2"/>
<text x="436.2" y="102.4" font-size="10.6" text-anchor="middle" fill="#231815" stroke="#231815" stroke-width="0.28" >Random</text>
<text x="437.2" y="114.9" font-size="10.6" text-anchor="middle" fill="#231815" stroke="#231815" stroke-width="0.28" >Orientation</text>
<rect x="492.0" y="18.00" width="88.2" height="40.35" fill="url(#h42)"/><rect x="492.0" y="58.00" width="88.2" height="4.35" fill="url(#h43)"/><rect x="492.0" y="62.00" width="88.2" height="4.35" fill="url(#h44)"/><rect x="492.0" y="66.00" width="88.2" height="4.35" fill="url(#h45)"/><rect x="492.0" y="70.00" width="88.2" height="4.35" fill="url(#h46)"/><rect x="492.0" y="74.00" width="88.2" height="4.35" fill="url(#h47)"/><rect x="492.0" y="78.00" width="88.2" height="4.35" fill="url(#h48)"/><rect x="492.0" y="82.00" width="88.2" height="4.35" fill="url(#h49)"/><rect x="492.0" y="86.00" width="88.2" height="4.35" fill="url(#h50)"/><rect x="492.0" y="90.00" width="88.2" height="4.35" fill="url(#h51)"/><rect x="492.0" y="94.00" width="88.2" height="4.35" fill="url(#h52)"/><rect x="492.0" y="98.00" width="88.2" height="4.35" fill="url(#h53)"/><rect x="492.0" y="102.00" width="88.2" height="4.35" fill="url(#h54)"/><rect x="492.0" y="106.00" width="88.2" height="4.35" fill="url(#h55)"/><rect x="492.0" y="110.00" width="88.2" height="4.35" fill="url(#h56)"/><rect x="492.0" y="114.00" width="88.2" height="4.35" fill="url(#h57)"/><rect x="492.0" y="118.00" width="88.2" height="4.35" fill="url(#h58)"/><rect x="492.0" y="122.00" width="88.2" height="4.35" fill="url(#h59)"/><rect x="492.0" y="126.00" width="88.2" height="4.35" fill="url(#h60)"/><rect x="492.0" y="130.00" width="88.2" height="4.35" fill="url(#h61)"/><rect x="492.0" y="134.00" width="88.2" height="4.35" fill="url(#h62)"/><rect x="492.0" y="138.00" width="88.2" height="4.35" fill="url(#h63)"/><rect x="492.0" y="142.00" width="88.2" height="4.35" fill="url(#h64)"/><rect x="492.0" y="146.00" width="88.2" height="13.00" fill="url(#h65)"/>
<line x1="492.0" y1="72.4" x2="580.2" y2="72.4" stroke="#c41f52" stroke-width="1.5" stroke-dasharray="3.6 3.5" stroke-dashoffset="-1"/>
<text x="574.3" y="30.8" font-size="11.6" text-anchor="end" fill="#231815" stroke="#231815" stroke-width="0.28" >AD</text>
<rect x="593.8" y="18.00" width="88.2" height="141.30" fill="url(#h66)"/>
<text x="678.5" y="30.8" font-size="11.6" text-anchor="end" fill="#231815" stroke="#231815" stroke-width="0.28" >OPD</text>
<text x="637.5" y="71.8" font-size="10.6" text-anchor="middle" fill="#231815" stroke="#231815" stroke-width="0.28" >Well-defined</text>
<text x="637.5" y="84.4" font-size="10.6" text-anchor="middle" fill="#231815" stroke="#231815" stroke-width="0.28" >Orientation</text>
<text x="430.2" y="30.8" font-size="11.6" text-anchor="start" fill="#231815" stroke="#231815" stroke-width="0.28" >Control</text>
<rect x="388.4" y="18.0" width="88.20" height="141.30" fill="none" stroke="#161212" stroke-width="1.35"/>
<line x1="388.4" y1="159.3" x2="388.4" y2="162.10000000000002" stroke="#161212" stroke-width="1.2" />
<line x1="395.75" y1="159.3" x2="395.75" y2="161.10000000000002" stroke="#161212" stroke-width="1.2" />
<line x1="403.09999999999997" y1="159.3" x2="403.09999999999997" y2="162.10000000000002" stroke="#161212" stroke-width="1.2" />
<line x1="410.45" y1="159.3" x2="410.45" y2="161.10000000000002" stroke="#161212" stroke-width="1.2" />
<line x1="417.79999999999995" y1="159.3" x2="417.79999999999995" y2="162.10000000000002" stroke="#161212" stroke-width="1.2" />
<line x1="425.15" y1="159.3" x2="425.15" y2="161.10000000000002" stroke="#161212" stroke-width="1.2" />
<line x1="432.5" y1="159.3" x2="432.5" y2="162.10000000000002" stroke="#161212" stroke-width="1.2" />
<line x1="439.84999999999997" y1="159.3" x2="439.84999999999997" y2="161.10000000000002" stroke="#161212" stroke-width="1.2" />
<line x1="447.2" y1="159.3" x2="447.2" y2="162.10000000000002" stroke="#161212" stroke-width="1.2" />
<line x1="454.54999999999995" y1="159.3" x2="454.54999999999995" y2="161.10000000000002" stroke="#161212" stroke-width="1.2" />
<line x1="461.9" y1="159.3" x2="461.9" y2="162.10000000000002" stroke="#161212" stroke-width="1.2" />
<line x1="469.25" y1="159.3" x2="469.25" y2="161.10000000000002" stroke="#161212" stroke-width="1.2" />
<line x1="476.59999999999997" y1="159.3" x2="476.59999999999997" y2="162.10000000000002" stroke="#161212" stroke-width="1.2" />
<text x="389.4" y="172" font-size="10.3" text-anchor="middle" fill="#161212" stroke="#161212" stroke-width="0.28" >-60</text>
<text x="433.6" y="172" font-size="10.3" text-anchor="middle" fill="#161212" stroke="#161212" stroke-width="0.28" >0</text>
<text x="475.09999999999997" y="172" font-size="10.3" text-anchor="middle" fill="#161212" stroke="#161212" stroke-width="0.28" >60</text>
<text x="436.4" y="182.9" font-size="11.7" text-anchor="middle" fill="#231815" stroke="#231815" stroke-width="0.28" ><tspan font-size="12.3" dy="0.5" stroke-width="0.1">χ</tspan><tspan dy="-0.5"> (degree)</tspan></text>
<rect x="492.0" y="18.0" width="88.20" height="141.30" fill="none" stroke="#161212" stroke-width="1.35"/>
<line x1="492.0" y1="159.3" x2="492.0" y2="162.10000000000002" stroke="#161212" stroke-width="1.2" />
<line x1="499.35" y1="159.3" x2="499.35" y2="161.10000000000002" stroke="#161212" stroke-width="1.2" />
<line x1="506.7" y1="159.3" x2="506.7" y2="162.10000000000002" stroke="#161212" stroke-width="1.2" />
<line x1="514.05" y1="159.3" x2="514.05" y2="161.10000000000002" stroke="#161212" stroke-width="1.2" />
<line x1="521.4" y1="159.3" x2="521.4" y2="162.10000000000002" stroke="#161212" stroke-width="1.2" />
<line x1="528.75" y1="159.3" x2="528.75" y2="161.10000000000002" stroke="#161212" stroke-width="1.2" />
<line x1="536.1" y1="159.3" x2="536.1" y2="162.10000000000002" stroke="#161212" stroke-width="1.2" />
<line x1="543.45" y1="159.3" x2="543.45" y2="161.10000000000002" stroke="#161212" stroke-width="1.2" />
<line x1="550.8" y1="159.3" x2="550.8" y2="162.10000000000002" stroke="#161212" stroke-width="1.2" />
<line x1="558.15" y1="159.3" x2="558.15" y2="161.10000000000002" stroke="#161212" stroke-width="1.2" />
<line x1="565.5" y1="159.3" x2="565.5" y2="162.10000000000002" stroke="#161212" stroke-width="1.2" />
<line x1="572.85" y1="159.3" x2="572.85" y2="161.10000000000002" stroke="#161212" stroke-width="1.2" />
<line x1="580.2" y1="159.3" x2="580.2" y2="162.10000000000002" stroke="#161212" stroke-width="1.2" />
<text x="493.0" y="172" font-size="10.3" text-anchor="middle" fill="#161212" stroke="#161212" stroke-width="0.28" >-60</text>
<text x="537.1999999999999" y="172" font-size="10.3" text-anchor="middle" fill="#161212" stroke="#161212" stroke-width="0.28" >0</text>
<text x="578.7" y="172" font-size="10.3" text-anchor="middle" fill="#161212" stroke="#161212" stroke-width="0.28" >60</text>
<text x="540.0" y="182.9" font-size="11.7" text-anchor="middle" fill="#231815" stroke="#231815" stroke-width="0.28" ><tspan font-size="12.3" dy="0.5" stroke-width="0.1">χ</tspan><tspan dy="-0.5"> (degree)</tspan></text>
<rect x="593.8" y="18.0" width="88.20" height="141.30" fill="none" stroke="#161212" stroke-width="1.35"/>
<line x1="593.8" y1="159.3" x2="593.8" y2="162.10000000000002" stroke="#161212" stroke-width="1.2" />
<line x1="601.15" y1="159.3" x2="601.15" y2="161.10000000000002" stroke="#161212" stroke-width="1.2" />
<line x1="608.5" y1="159.3" x2="608.5" y2="162.10000000000002" stroke="#161212" stroke-width="1.2" />
<line x1="615.8499999999999" y1="159.3" x2="615.8499999999999" y2="161.10000000000002" stroke="#161212" stroke-width="1.2" />
<line x1="623.1999999999999" y1="159.3" x2="623.1999999999999" y2="162.10000000000002" stroke="#161212" stroke-width="1.2" />
<line x1="630.55" y1="159.3" x2="630.55" y2="161.10000000000002" stroke="#161212" stroke-width="1.2" />
<line x1="637.9" y1="159.3" x2="637.9" y2="162.10000000000002" stroke="#161212" stroke-width="1.2" />
<line x1="645.25" y1="159.3" x2="645.25" y2="161.10000000000002" stroke="#161212" stroke-width="1.2" />
<line x1="652.5999999999999" y1="159.3" x2="652.5999999999999" y2="162.10000000000002" stroke="#161212" stroke-width="1.2" />
<line x1="659.9499999999999" y1="159.3" x2="659.9499999999999" y2="161.10000000000002" stroke="#161212" stroke-width="1.2" />
<line x1="667.3" y1="159.3" x2="667.3" y2="162.10000000000002" stroke="#161212" stroke-width="1.2" />
<line x1="674.65" y1="159.3" x2="674.65" y2="161.10000000000002" stroke="#161212" stroke-width="1.2" />
<line x1="682.0" y1="159.3" x2="682.0" y2="162.10000000000002" stroke="#161212" stroke-width="1.2" />
<text x="594.8" y="172" font-size="10.3" text-anchor="middle" fill="#161212" stroke="#161212" stroke-width="0.28" >-60</text>
<text x="638.9999999999999" y="172" font-size="10.3" text-anchor="middle" fill="#161212" stroke="#161212" stroke-width="0.28" >0</text>
<text x="680.5" y="172" font-size="10.3" text-anchor="middle" fill="#161212" stroke="#161212" stroke-width="0.28" >60</text>
<text x="641.8" y="182.9" font-size="11.7" text-anchor="middle" fill="#231815" stroke="#231815" stroke-width="0.28" ><tspan font-size="12.3" dy="0.5" stroke-width="0.1">χ</tspan><tspan dy="-0.5"> (degree)</tspan></text>
<line x1="384.79999999999995" y1="18.0" x2="388.4" y2="18.0" stroke="#161212" stroke-width="1.2" />
<line x1="384.79999999999995" y1="88.65" x2="388.4" y2="88.65" stroke="#161212" stroke-width="1.2" />
<line x1="384.79999999999995" y1="159.3" x2="388.4" y2="159.3" stroke="#161212" stroke-width="1.2" />
<line x1="386.2" y1="53.325" x2="388.4" y2="53.325" stroke="#161212" stroke-width="1.2" />
<line x1="386.2" y1="123.97500000000001" x2="388.4" y2="123.97500000000001" stroke="#161212" stroke-width="1.2" />
<text x="373.3" y="21.5" font-size="10.3" text-anchor="middle" fill="#161212" stroke="#161212" stroke-width="0.28" >100</text>
<text x="372.2" y="92.2" font-size="10.3" text-anchor="middle" fill="#161212" stroke="#161212" stroke-width="0.28" >50</text>
<text x="371.5" y="162.3" font-size="10.3" text-anchor="middle" fill="#161212" stroke="#161212" stroke-width="0.28" >0</text>
<text x="363.6" y="88.3" font-size="11.6" text-anchor="middle" fill="#231815" stroke="#231815" stroke-width="0.28" transform="rotate(-90 363.6 88.3)" >Time (h)</text>
<text x="352.6" y="12" font-size="16" text-anchor="start" fill="#231815" stroke="#231815" stroke-width="0.28" >b</text>
<text x="4" y="209.5" font-size="16" text-anchor="start" fill="#231815" stroke="#231815" stroke-width="0.28" >c</text>
<rect x="77.7" y="219.8" width="223.6" height="6.9" fill="url(#cbc)" stroke="#161212" stroke-width="1.15"/>
<text x="69.8" y="227.1" font-size="10.3" text-anchor="middle" fill="#161212" stroke="#161212" stroke-width="0.28" >10</text>
<text x="304" y="227.1" font-size="10.3" text-anchor="start" fill="#161212" stroke="#161212" stroke-width="0.28" >1500</text>
<text x="199.3" y="214" font-size="11.9" text-anchor="middle" fill="#231815" stroke="#231815" stroke-width="0.28" >PL Intensity (a.u.)</text>
<rect x="37.9" y="231.60" width="90.0" height="9.35" fill="url(#h67)"/><rect x="37.9" y="240.60" width="90.0" height="6.35" fill="url(#h68)"/><rect x="37.9" y="246.60" width="90.0" height="6.35" fill="url(#h69)"/><rect x="37.9" y="252.60" width="90.0" height="6.35" fill="url(#h70)"/><rect x="37.9" y="258.60" width="90.0" height="6.35" fill="url(#h71)"/><rect x="37.9" y="264.60" width="90.0" height="3.35" fill="url(#h72)"/><rect x="37.9" y="267.60" width="90.0" height="3.35" fill="url(#h73)"/><rect x="37.9" y="270.60" width="90.0" height="3.35" fill="url(#h74)"/><rect x="37.9" y="273.60" width="90.0" height="3.35" fill="url(#h75)"/><rect x="37.9" y="276.60" width="90.0" height="3.35" fill="url(#h76)"/><rect x="37.9" y="279.60" width="90.0" height="3.35" fill="url(#h77)"/><rect x="37.9" y="282.60" width="90.0" height="3.35" fill="url(#h78)"/><rect x="37.9" y="285.60" width="90.0" height="3.35" fill="url(#h79)"/><rect x="37.9" y="288.60" width="90.0" height="3.35" fill="url(#h80)"/><rect x="37.9" y="291.60" width="90.0" height="3.35" fill="url(#h81)"/><rect x="37.9" y="294.60" width="90.0" height="3.35" fill="url(#h82)"/><rect x="37.9" y="297.60" width="90.0" height="3.35" fill="url(#h83)"/><rect x="37.9" y="300.60" width="90.0" height="3.35" fill="url(#h84)"/><rect x="37.9" y="303.60" width="90.0" height="3.35" fill="url(#h85)"/><rect x="37.9" y="306.60" width="90.0" height="3.35" fill="url(#h86)"/><rect x="37.9" y="309.60" width="90.0" height="3.35" fill="url(#h87)"/><rect x="37.9" y="312.60" width="90.0" height="3.35" fill="url(#h88)"/><rect x="37.9" y="315.60" width="90.0" height="3.35" fill="url(#h89)"/><rect x="37.9" y="318.60" width="90.0" height="3.35" fill="url(#h90)"/><rect x="37.9" y="321.60" width="90.0" height="3.35" fill="url(#h91)"/><rect x="37.9" y="324.60" width="90.0" height="3.35" fill="url(#h92)"/><rect x="37.9" y="327.60" width="90.0" height="3.35" fill="url(#h93)"/><rect x="37.9" y="330.60" width="90.0" height="3.35" fill="url(#h94)"/><rect x="37.9" y="333.60" width="90.0" height="3.35" fill="url(#h95)"/><rect x="37.9" y="336.60" width="90.0" height="3.35" fill="url(#h96)"/><rect x="37.9" y="339.60" width="90.0" height="3.35" fill="url(#h97)"/><rect x="37.9" y="342.60" width="90.0" height="3.35" fill="url(#h98)"/><rect x="37.9" y="345.60" width="90.0" height="3.35" fill="url(#h99)"/><rect x="37.9" y="348.60" width="90.0" height="3.35" fill="url(#h100)"/><rect x="37.9" y="351.60" width="90.0" height="3.35" fill="url(#h101)"/><rect x="37.9" y="354.60" width="90.0" height="3.35" fill="url(#h102)"/><rect x="37.9" y="357.60" width="90.0" height="3.35" fill="url(#h103)"/><rect x="37.9" y="360.60" width="90.0" height="3.35" fill="url(#h104)"/><rect x="37.9" y="363.60" width="90.0" height="3.35" fill="url(#h105)"/><rect x="37.9" y="366.60" width="90.0" height="2.00" fill="url(#h106)"/>
<rect x="143.0" y="231.60" width="90.0" height="12.35" fill="url(#h107)"/><rect x="143.0" y="243.60" width="90.0" height="9.35" fill="url(#h108)"/><rect x="143.0" y="252.60" width="90.0" height="6.35" fill="url(#h109)"/><rect x="143.0" y="258.60" width="90.0" height="6.35" fill="url(#h110)"/><rect x="143.0" y="264.60" width="90.0" height="6.35" fill="url(#h111)"/><rect x="143.0" y="270.60" width="90.0" height="6.35" fill="url(#h112)"/><rect x="143.0" y="276.60" width="90.0" height="6.35" fill="url(#h113)"/><rect x="143.0" y="282.60" width="90.0" height="3.35" fill="url(#h114)"/><rect x="143.0" y="285.60" width="90.0" height="3.35" fill="url(#h115)"/><rect x="143.0" y="288.60" width="90.0" height="3.35" fill="url(#h116)"/><rect x="143.0" y="291.60" width="90.0" height="3.35" fill="url(#h117)"/><rect x="143.0" y="294.60" width="90.0" height="3.35" fill="url(#h118)"/><rect x="143.0" y="297.60" width="90.0" height="3.35" fill="url(#h119)"/><rect x="143.0" y="300.60" width="90.0" height="3.35" fill="url(#h120)"/><rect x="143.0" y="303.60" width="90.0" height="3.35" fill="url(#h121)"/><rect x="143.0" y="306.60" width="90.0" height="3.35" fill="url(#h122)"/><rect x="143.0" y="309.60" width="90.0" height="3.35" fill="url(#h123)"/><rect x="143.0" y="312.60" width="90.0" height="3.35" fill="url(#h124)"/><rect x="143.0" y="315.60" width="90.0" height="3.35" fill="url(#h125)"/><rect x="143.0" y="318.60" width="90.0" height="3.35" fill="url(#h126)"/><rect x="143.0" y="321.60" width="90.0" height="3.35" fill="url(#h127)"/><rect x="143.0" y="324.60" width="90.0" height="3.35" fill="url(#h128)"/><rect x="143.0" y="327.60" width="90.0" height="3.35" fill="url(#h129)"/><rect x="143.0" y="330.60" width="90.0" height="3.35" fill="url(#h130)"/><rect x="143.0" y="333.60" width="90.0" height="3.35" fill="url(#h131)"/><rect x="143.0" y="336.60" width="90.0" height="3.35" fill="url(#h132)"/><rect x="143.0" y="339.60" width="90.0" height="3.35" fill="url(#h133)"/><rect x="143.0" y="342.60" width="90.0" height="3.35" fill="url(#h134)"/><rect x="143.0" y="345.60" width="90.0" height="3.35" fill="url(#h135)"/><rect x="143.0" y="348.60" width="90.0" height="3.35" fill="url(#h136)"/><rect x="143.0" y="351.60" width="90.0" height="3.35" fill="url(#h137)"/><rect x="143.0" y="354.60" width="90.0" height="3.35" fill="url(#h138)"/><rect x="143.0" y="357.60" width="90.0" height="3.35" fill="url(#h139)"/><rect x="143.0" y="360.60" width="90.0" height="3.35" fill="url(#h140)"/><rect x="143.0" y="363.60" width="90.0" height="3.35" fill="url(#h141)"/><rect x="143.0" y="366.60" width="90.0" height="2.00" fill="url(#h142)"/>
<rect x="248.0" y="231.60" width="90.0" height="136.70" fill="url(#h143)"/>
<rect x="37.9" y="231.6" width="90.00" height="136.70" fill="none" stroke="#161212" stroke-width="1.35"/>
<line x1="48.94" y1="368.3" x2="48.94" y2="371.1" stroke="#161212" stroke-width="1.2" />
<text x="49.14" y="381.3" font-size="10.3" text-anchor="middle" fill="#161212" stroke="#161212" stroke-width="0.28" >700</text>
<line x1="76.53999999999999" y1="368.3" x2="76.53999999999999" y2="371.1" stroke="#161212" stroke-width="1.2" />
<text x="76.74" y="381.3" font-size="10.3" text-anchor="middle" fill="#161212" stroke="#161212" stroke-width="0.28" >750</text>
<line x1="104.13999999999999" y1="368.3" x2="104.13999999999999" y2="371.1" stroke="#161212" stroke-width="1.2" />
<text x="104.33999999999999" y="381.3" font-size="10.3" text-anchor="middle" fill="#161212" stroke="#161212" stroke-width="0.28" >800</text>
<line x1="62.739999999999995" y1="368.3" x2="62.739999999999995" y2="370.1" stroke="#161212" stroke-width="1.2" />
<line x1="90.34" y1="368.3" x2="90.34" y2="370.1" stroke="#161212" stroke-width="1.2" />
<line x1="117.94" y1="368.3" x2="117.94" y2="370.1" stroke="#161212" stroke-width="1.2" />
<text x="84.4" y="395" font-size="11.6" text-anchor="middle" fill="#231815" stroke="#231815" stroke-width="0.28" >Wavelength (nm)</text>
<rect x="143.0" y="231.6" width="90.00" height="136.70" fill="none" stroke="#161212" stroke-width="1.35"/>
<line x1="154.04" y1="368.3" x2="154.04" y2="371.1" stroke="#161212" stroke-width="1.2" />
<text x="154.23999999999998" y="381.3" font-size="10.3" text-anchor="middle" fill="#161212" stroke="#161212" stroke-width="0.28" >700</text>
<line x1="181.64" y1="368.3" x2="181.64" y2="371.1" stroke="#161212" stroke-width="1.2" />
<text x="181.83999999999997" y="381.3" font-size="10.3" text-anchor="middle" fill="#161212" stroke="#161212" stroke-width="0.28" >750</text>
<line x1="209.24" y1="368.3" x2="209.24" y2="371.1" stroke="#161212" stroke-width="1.2" />
<text x="209.44" y="381.3" font-size="10.3" text-anchor="middle" fill="#161212" stroke="#161212" stroke-width="0.28" >800</text>
<line x1="167.84" y1="368.3" x2="167.84" y2="370.1" stroke="#161212" stroke-width="1.2" />
<line x1="195.44" y1="368.3" x2="195.44" y2="370.1" stroke="#161212" stroke-width="1.2" />
<line x1="223.04000000000002" y1="368.3" x2="223.04000000000002" y2="370.1" stroke="#161212" stroke-width="1.2" />
<text x="189.5" y="395" font-size="11.6" text-anchor="middle" fill="#231815" stroke="#231815" stroke-width="0.28" >Wavelength (nm)</text>
<rect x="248.0" y="231.6" width="90.00" height="136.70" fill="none" stroke="#161212" stroke-width="1.35"/>
<line x1="259.04" y1="368.3" x2="259.04" y2="371.1" stroke="#161212" stroke-width="1.2" />
<text x="259.24" y="381.3" font-size="10.3" text-anchor="middle" fill="#161212" stroke="#161212" stroke-width="0.28" >700</text>
<line x1="286.64" y1="368.3" x2="286.64" y2="371.1" stroke="#161212" stroke-width="1.2" />
<text x="286.84" y="381.3" font-size="10.3" text-anchor="middle" fill="#161212" stroke="#161212" stroke-width="0.28" >750</text>
<line x1="314.24" y1="368.3" x2="314.24" y2="371.1" stroke="#161212" stroke-width="1.2" />
<text x="314.44" y="381.3" font-size="10.3" text-anchor="middle" fill="#161212" stroke="#161212" stroke-width="0.28" >800</text>
<line x1="272.84" y1="368.3" x2="272.84" y2="370.1" stroke="#161212" stroke-width="1.2" />
<line x1="300.44" y1="368.3" x2="300.44" y2="370.1" stroke="#161212" stroke-width="1.2" />
<line x1="328.04" y1="368.3" x2="328.04" y2="370.1" stroke="#161212" stroke-width="1.2" />
<text x="294.5" y="395" font-size="11.6" text-anchor="middle" fill="#231815" stroke="#231815" stroke-width="0.28" >Wavelength (nm)</text>
<line x1="34.3" y1="231.6" x2="37.9" y2="231.6" stroke="#161212" stroke-width="1.2" />
<line x1="34.3" y1="299.95" x2="37.9" y2="299.95" stroke="#161212" stroke-width="1.2" />
<line x1="34.3" y1="368.3" x2="37.9" y2="368.3" stroke="#161212" stroke-width="1.2" />
<text x="33.2" y="235.3" font-size="10.3" text-anchor="end" fill="#161212" stroke="#161212" stroke-width="0.28" >400</text>
<text x="33.2" y="303.7" font-size="10.3" text-anchor="end" fill="#161212" stroke="#161212" stroke-width="0.28" >200</text>
<text x="33.2" y="372.0" font-size="10.3" text-anchor="end" fill="#161212" stroke="#161212" stroke-width="0.28" >0</text>
<text x="11.6" y="301" font-size="11.6" text-anchor="middle" fill="#231815" stroke="#231815" stroke-width="0.28" transform="rotate(-90 11.6 301)" >Time (h)</text>
<line x1="71.9" y1="290.5" x2="71.3" y2="368" stroke="#1a1212" stroke-width="1.45" stroke-dasharray="3.3 3.4"/>
<line x1="176.4" y1="261" x2="176.4" y2="368" stroke="#1a1212" stroke-width="1.45" stroke-dasharray="3.3 3.4"/>
<line x1="282.8" y1="232" x2="282.8" y2="368" stroke="#3a2418" stroke-width="1.45" stroke-dasharray="3.3 3.4"/>
<text x="121.8" y="244.6" font-size="11.6" text-anchor="end" fill="#231815" stroke="#231815" stroke-width="0.28" >Control</text>
<text x="227.3" y="244.6" font-size="11.6" text-anchor="end" fill="#231815" stroke="#231815" stroke-width="0.28" >AD</text>
<text x="333.0" y="244.6" font-size="11.6" text-anchor="end" fill="#231815" stroke="#231815" stroke-width="0.28" >OPD</text>
<text x="78.5" y="284.8" font-size="10.6" text-anchor="middle" fill="#231815" stroke="#231815" stroke-width="0.28" >Decreased</text>
<text x="182.0" y="255.3" font-size="10.6" text-anchor="middle" fill="#231815" stroke="#231815" stroke-width="0.28" >Decreased</text>
<text x="286.4" y="284.8" font-size="10.6" text-anchor="middle" fill="#231815" stroke="#231815" stroke-width="0.28" >Constant</text>
<text x="352.6" y="209.5" font-size="16" text-anchor="start" fill="#231815" stroke="#231815" stroke-width="0.28" >d</text>
<rect x="419.3" y="219.8" width="221.5" height="6.9" fill="url(#cbd)" stroke="#161212" stroke-width="1.15"/>
<text x="411.5" y="227.1" font-size="10.3" text-anchor="middle" fill="#161212" stroke="#161212" stroke-width="0.28" >10</text>
<text x="644" y="227.1" font-size="10.3" text-anchor="start" fill="#161212" stroke="#161212" stroke-width="0.28" >10<tspan font-size="7" dy="-3.6">5</tspan></text>
<text x="534.7" y="214" font-size="11.8" text-anchor="middle" fill="#231815" stroke="#231815" stroke-width="0.28" >EL Intensity (a.u.)</text>
<rect x="388.4" y="231.60" width="88.2" height="4.35" fill="url(#h144)"/><rect x="388.4" y="235.60" width="88.2" height="4.35" fill="url(#h145)"/><rect x="388.4" y="239.60" width="88.2" height="4.35" fill="url(#h146)"/><rect x="388.4" y="243.60" width="88.2" height="4.35" fill="url(#h147)"/><rect x="388.4" y="247.60" width="88.2" height="20.35" fill="url(#h148)"/><rect x="388.4" y="267.60" width="88.2" height="22.35" fill="url(#h149)"/><rect x="388.4" y="289.60" width="88.2" height="22.35" fill="url(#h150)"/><rect x="388.4" y="311.60" width="88.2" height="6.35" fill="url(#h151)"/><rect x="388.4" y="317.60" width="88.2" height="2.35" fill="url(#h152)"/><rect x="388.4" y="319.60" width="88.2" height="2.35" fill="url(#h153)"/><rect x="388.4" y="321.60" width="88.2" height="2.35" fill="url(#h154)"/><rect x="388.4" y="323.60" width="88.2" height="2.35" fill="url(#h155)"/><rect x="388.4" y="325.60" width="88.2" height="2.35" fill="url(#h156)"/><rect x="388.4" y="327.60" width="88.2" height="2.35" fill="url(#h157)"/><rect x="388.4" y="329.60" width="88.2" height="2.35" fill="url(#h158)"/><rect x="388.4" y="331.60" width="88.2" height="2.35" fill="url(#h159)"/><rect x="388.4" y="333.60" width="88.2" height="2.35" fill="url(#h160)"/><rect x="388.4" y="335.60" width="88.2" height="2.35" fill="url(#h161)"/><rect x="388.4" y="337.60" width="88.2" height="2.35" fill="url(#h162)"/><rect x="388.4" y="339.60" width="88.2" height="2.35" fill="url(#h163)"/><rect x="388.4" y="341.60" width="88.2" height="2.35" fill="url(#h164)"/><rect x="388.4" y="343.60" width="88.2" height="2.35" fill="url(#h165)"/><rect x="388.4" y="345.60" width="88.2" height="2.35" fill="url(#h166)"/><rect x="388.4" y="347.60" width="88.2" height="2.35" fill="url(#h167)"/><rect x="388.4" y="349.60" width="88.2" height="2.35" fill="url(#h168)"/><rect x="388.4" y="351.60" width="88.2" height="2.35" fill="url(#h169)"/><rect x="388.4" y="353.60" width="88.2" height="2.35" fill="url(#h170)"/><rect x="388.4" y="355.60" width="88.2" height="2.35" fill="url(#h171)"/><rect x="388.4" y="357.60" width="88.2" height="2.35" fill="url(#h172)"/><rect x="388.4" y="359.60" width="88.2" height="2.35" fill="url(#h173)"/><rect x="388.4" y="361.60" width="88.2" height="2.35" fill="url(#h174)"/><rect x="388.4" y="363.60" width="88.2" height="5.00" fill="url(#h175)"/>
<rect x="492.0" y="231.60" width="88.2" height="6.35" fill="url(#h176)"/><rect x="492.0" y="237.60" width="88.2" height="6.35" fill="url(#h177)"/><rect x="492.0" y="243.60" width="88.2" height="6.35" fill="url(#h178)"/><rect x="492.0" y="249.60" width="88.2" height="6.35" fill="url(#h179)"/><rect x="492.0" y="255.60" width="88.2" height="6.35" fill="url(#h180)"/><rect x="492.0" y="261.60" width="88.2" height="6.35" fill="url(#h181)"/><rect x="492.0" y="267.60" width="88.2" height="6.35" fill="url(#h182)"/><rect x="492.0" y="273.60" width="88.2" height="6.35" fill="url(#h183)"/><rect x="492.0" y="279.60" width="88.2" height="2.35" fill="url(#h184)"/><rect x="492.0" y="281.60" width="88.2" height="2.35" fill="url(#h185)"/><rect x="492.0" y="283.60" width="88.2" height="2.35" fill="url(#h186)"/><rect x="492.0" y="285.60" width="88.2" height="2.35" fill="url(#h187)"/><rect x="492.0" y="287.60" width="88.2" height="2.35" fill="url(#h188)"/><rect x="492.0" y="289.60" width="88.2" height="2.35" fill="url(#h189)"/><rect x="492.0" y="291.60" width="88.2" height="2.35" fill="url(#h190)"/><rect x="492.0" y="293.60" width="88.2" height="2.35" fill="url(#h191)"/><rect x="492.0" y="295.60" width="88.2" height="2.35" fill="url(#h192)"/><rect x="492.0" y="297.60" width="88.2" height="2.35" fill="url(#h193)"/><rect x="492.0" y="299.60" width="88.2" height="2.35" fill="url(#h194)"/><rect x="492.0" y="301.60" width="88.2" height="2.35" fill="url(#h195)"/><rect x="492.0" y="303.60" width="88.2" height="2.35" fill="url(#h196)"/><rect x="492.0" y="305.60" width="88.2" height="2.35" fill="url(#h197)"/><rect x="492.0" y="307.60" width="88.2" height="2.35" fill="url(#h198)"/><rect x="492.0" y="309.60" width="88.2" height="2.35" fill="url(#h199)"/><rect x="492.0" y="311.60" width="88.2" height="2.35" fill="url(#h200)"/><rect x="492.0" y="313.60" width="88.2" height="2.35" fill="url(#h201)"/><rect x="492.0" y="315.60" width="88.2" height="2.35" fill="url(#h202)"/><rect x="492.0" y="317.60" width="88.2" height="2.35" fill="url(#h203)"/><rect x="492.0" y="319.60" width="88.2" height="2.35" fill="url(#h204)"/><rect x="492.0" y="321.60" width="88.2" height="2.35" fill="url(#h205)"/><rect x="492.0" y="323.60" width="88.2" height="2.35" fill="url(#h206)"/><rect x="492.0" y="325.60" width="88.2" height="2.35" fill="url(#h207)"/><rect x="492.0" y="327.60" width="88.2" height="2.35" fill="url(#h208)"/><rect x="492.0" y="329.60" width="88.2" height="2.35" fill="url(#h209)"/><rect x="492.0" y="331.60" width="88.2" height="2.35" fill="url(#h210)"/><rect x="492.0" y="333.60" width="88.2" height="2.35" fill="url(#h211)"/><rect x="492.0" y="335.60" width="88.2" height="2.35" fill="url(#h212)"/><rect x="492.0" y="337.60" width="88.2" height="2.35" fill="url(#h213)"/><rect x="492.0" y="339.60" width="88.2" height="2.35" fill="url(#h214)"/><rect x="492.0" y="341.60" width="88.2" height="2.35" fill="url(#h215)"/><rect x="492.0" y="343.60" width="88.2" height="2.35" fill="url(#h216)"/><rect x="492.0" y="345.60" width="88.2" height="2.35" fill="url(#h217)"/><rect x="492.0" y="347.60" width="88.2" height="2.35" fill="url(#h218)"/><rect x="492.0" y="349.60" width="88.2" height="2.35" fill="url(#h219)"/><rect x="492.0" y="351.60" width="88.2" height="2.35" fill="url(#h220)"/><rect x="492.0" y="353.60" width="88.2" height="2.35" fill="url(#h221)"/><rect x="492.0" y="355.60" width="88.2" height="2.35" fill="url(#h222)"/><rect x="492.0" y="357.60" width="88.2" height="2.35" fill="url(#h223)"/><rect x="492.0" y="359.60" width="88.2" height="2.35" fill="url(#h224)"/><rect x="492.0" y="361.60" width="88.2" height="2.35" fill="url(#h225)"/><rect x="492.0" y="363.60" width="88.2" height="2.35" fill="url(#h226)"/><rect x="492.0" y="365.60" width="88.2" height="3.00" fill="url(#h227)"/>
<rect x="593.8" y="231.60" width="88.2" height="4.35" fill="url(#h228)"/><rect x="593.8" y="235.60" width="88.2" height="4.35" fill="url(#h229)"/><rect x="593.8" y="239.60" width="88.2" height="4.35" fill="url(#h230)"/><rect x="593.8" y="243.60" width="88.2" height="4.35" fill="url(#h231)"/><rect x="593.8" y="247.60" width="88.2" height="4.35" fill="url(#h232)"/><rect x="593.8" y="251.60" width="88.2" height="4.35" fill="url(#h233)"/><rect x="593.8" y="255.60" width="88.2" height="4.35" fill="url(#h234)"/><rect x="593.8" y="259.60" width="88.2" height="4.35" fill="url(#h235)"/><rect x="593.8" y="263.60" width="88.2" height="4.35" fill="url(#h236)"/><rect x="593.8" y="267.60" width="88.2" height="4.35" fill="url(#h237)"/><rect x="593.8" y="271.60" width="88.2" height="4.35" fill="url(#h238)"/><rect x="593.8" y="275.60" width="88.2" height="4.35" fill="url(#h239)"/><rect x="593.8" y="279.60" width="88.2" height="2.35" fill="url(#h240)"/><rect x="593.8" y="281.60" width="88.2" height="2.35" fill="url(#h241)"/><rect x="593.8" y="283.60" width="88.2" height="2.35" fill="url(#h242)"/><rect x="593.8" y="285.60" width="88.2" height="2.35" fill="url(#h243)"/><rect x="593.8" y="287.60" width="88.2" height="2.35" fill="url(#h244)"/><rect x="593.8" y="289.60" width="88.2" height="2.35" fill="url(#h245)"/><rect x="593.8" y="291.60" width="88.2" height="2.35" fill="url(#h246)"/><rect x="593.8" y="293.60" width="88.2" height="2.35" fill="url(#h247)"/><rect x="593.8" y="295.60" width="88.2" height="2.35" fill="url(#h248)"/><rect x="593.8" y="297.60" width="88.2" height="2.35" fill="url(#h249)"/><rect x="593.8" y="299.60" width="88.2" height="2.35" fill="url(#h250)"/><rect x="593.8" y="301.60" width="88.2" height="2.35" fill="url(#h251)"/><rect x="593.8" y="303.60" width="88.2" height="2.35" fill="url(#h252)"/><rect x="593.8" y="305.60" width="88.2" height="2.35" fill="url(#h253)"/><rect x="593.8" y="307.60" width="88.2" height="2.35" fill="url(#h254)"/><rect x="593.8" y="309.60" width="88.2" height="2.35" fill="url(#h255)"/><rect x="593.8" y="311.60" width="88.2" height="2.35" fill="url(#h256)"/><rect x="593.8" y="313.60" width="88.2" height="2.35" fill="url(#h257)"/><rect x="593.8" y="315.60" width="88.2" height="2.35" fill="url(#h258)"/><rect x="593.8" y="317.60" width="88.2" height="2.35" fill="url(#h259)"/><rect x="593.8" y="319.60" width="88.2" height="2.35" fill="url(#h260)"/><rect x="593.8" y="321.60" width="88.2" height="2.35" fill="url(#h261)"/><rect x="593.8" y="323.60" width="88.2" height="2.35" fill="url(#h262)"/><rect x="593.8" y="325.60" width="88.2" height="2.35" fill="url(#h263)"/><rect x="593.8" y="327.60" width="88.2" height="2.35" fill="url(#h264)"/><rect x="593.8" y="329.60" width="88.2" height="2.35" fill="url(#h265)"/><rect x="593.8" y="331.60" width="88.2" height="2.35" fill="url(#h266)"/><rect x="593.8" y="333.60" width="88.2" height="2.35" fill="url(#h267)"/><rect x="593.8" y="335.60" width="88.2" height="2.35" fill="url(#h268)"/><rect x="593.8" y="337.60" width="88.2" height="2.35" fill="url(#h269)"/><rect x="593.8" y="339.60" width="88.2" height="2.35" fill="url(#h270)"/><rect x="593.8" y="341.60" width="88.2" height="2.35" fill="url(#h271)"/><rect x="593.8" y="343.60" width="88.2" height="2.35" fill="url(#h272)"/><rect x="593.8" y="345.60" width="88.2" height="2.35" fill="url(#h273)"/><rect x="593.8" y="347.60" width="88.2" height="2.35" fill="url(#h274)"/><rect x="593.8" y="349.60" width="88.2" height="2.35" fill="url(#h275)"/><rect x="593.8" y="351.60" width="88.2" height="2.35" fill="url(#h276)"/><rect x="593.8" y="353.60" width="88.2" height="2.35" fill="url(#h277)"/><rect x="593.8" y="355.60" width="88.2" height="2.35" fill="url(#h278)"/><rect x="593.8" y="357.60" width="88.2" height="2.35" fill="url(#h279)"/><rect x="593.8" y="359.60" width="88.2" height="2.35" fill="url(#h280)"/><rect x="593.8" y="361.60" width="88.2" height="2.35" fill="url(#h281)"/><rect x="593.8" y="363.60" width="88.2" height="2.35" fill="url(#h282)"/><rect x="593.8" y="365.60" width="88.2" height="2.35" fill="url(#h283)"/><rect x="593.8" y="367.60" width="88.2" height="1.00" fill="url(#h284)"/>
<line x1="423.1" y1="232.5" x2="423.2" y2="346.6" stroke="#d22e5c" stroke-width="1.6" stroke-dasharray="3.6 3.4"/>
<line x1="426.8" y1="232.5" x2="423.6" y2="346.6" stroke="#3a8fc8" stroke-width="1.6" stroke-dasharray="3.6 3.4"/>
<line x1="526.0" y1="232.5" x2="526.2" y2="347.8" stroke="#d22e5c" stroke-width="1.6" stroke-dasharray="3.6 3.4"/>
<line x1="528.6" y1="232.5" x2="526.4" y2="347.8" stroke="#3a8fc8" stroke-width="1.6" stroke-dasharray="3.6 3.4"/>
<line x1="628.3" y1="232.5" x2="628.3" y2="368" stroke="#d22e5c" stroke-width="1.6" stroke-dasharray="3.6 3.4"/>
<rect x="388.4" y="231.6" width="88.20" height="136.70" fill="none" stroke="#161212" stroke-width="1.35"/>
<line x1="399.35999999999996" y1="368.3" x2="399.35999999999996" y2="371.1" stroke="#161212" stroke-width="1.2" />
<text x="399.55999999999995" y="381.3" font-size="10.3" text-anchor="middle" fill="#161212" stroke="#161212" stroke-width="0.28" >700</text>
<line x1="426.76" y1="368.3" x2="426.76" y2="371.1" stroke="#161212" stroke-width="1.2" />
<text x="426.96" y="381.3" font-size="10.3" text-anchor="middle" fill="#161212" stroke="#161212" stroke-width="0.28" >750</text>
<line x1="454.15999999999997" y1="368.3" x2="454.15999999999997" y2="371.1" stroke="#161212" stroke-width="1.2" />
<text x="454.35999999999996" y="381.3" font-size="10.3" text-anchor="middle" fill="#161212" stroke="#161212" stroke-width="0.28" >800</text>
<line x1="413.06" y1="368.3" x2="413.06" y2="370.1" stroke="#161212" stroke-width="1.2" />
<line x1="440.46" y1="368.3" x2="440.46" y2="370.1" stroke="#161212" stroke-width="1.2" />
<line x1="467.85999999999996" y1="368.3" x2="467.85999999999996" y2="370.1" stroke="#161212" stroke-width="1.2" />
<text x="434.4" y="395" font-size="11.6" text-anchor="middle" fill="#231815" stroke="#231815" stroke-width="0.28" >Wavelength (nm)</text>
<rect x="492.0" y="231.6" width="88.20" height="136.70" fill="none" stroke="#161212" stroke-width="1.35"/>
<line x1="502.96" y1="368.3" x2="502.96" y2="371.1" stroke="#161212" stroke-width="1.2" />
<text x="503.15999999999997" y="381.3" font-size="10.3" text-anchor="middle" fill="#161212" stroke="#161212" stroke-width="0.28" >700</text>
<line x1="530.36" y1="368.3" x2="530.36" y2="371.1" stroke="#161212" stroke-width="1.2" />
<text x="530.5600000000001" y="381.3" font-size="10.3" text-anchor="middle" fill="#161212" stroke="#161212" stroke-width="0.28" >750</text>
<line x1="557.76" y1="368.3" x2="557.76" y2="371.1" stroke="#161212" stroke-width="1.2" />
<text x="557.96" y="381.3" font-size="10.3" text-anchor="middle" fill="#161212" stroke="#161212" stroke-width="0.28" >800</text>
<line x1="516.66" y1="368.3" x2="516.66" y2="370.1" stroke="#161212" stroke-width="1.2" />
<line x1="544.06" y1="368.3" x2="544.06" y2="370.1" stroke="#161212" stroke-width="1.2" />
<line x1="571.46" y1="368.3" x2="571.46" y2="370.1" stroke="#161212" stroke-width="1.2" />
<text x="538.0" y="395" font-size="11.6" text-anchor="middle" fill="#231815" stroke="#231815" stroke-width="0.28" >Wavelength (nm)</text>
<rect x="593.8" y="231.6" width="88.20" height="136.70" fill="none" stroke="#161212" stroke-width="1.35"/>
<line x1="604.76" y1="368.3" x2="604.76" y2="371.1" stroke="#161212" stroke-width="1.2" />
<text x="604.96" y="381.3" font-size="10.3" text-anchor="middle" fill="#161212" stroke="#161212" stroke-width="0.28" >700</text>
<line x1="632.16" y1="368.3" x2="632.16" y2="371.1" stroke="#161212" stroke-width="1.2" />
<text x="632.36" y="381.3" font-size="10.3" text-anchor="middle" fill="#161212" stroke="#161212" stroke-width="0.28" >750</text>
<line x1="659.56" y1="368.3" x2="659.56" y2="371.1" stroke="#161212" stroke-width="1.2" />
<text x="659.76" y="381.3" font-size="10.3" text-anchor="middle" fill="#161212" stroke="#161212" stroke-width="0.28" >800</text>
<line x1="618.4599999999999" y1="368.3" x2="618.4599999999999" y2="370.1" stroke="#161212" stroke-width="1.2" />
<line x1="645.8599999999999" y1="368.3" x2="645.8599999999999" y2="370.1" stroke="#161212" stroke-width="1.2" />
<line x1="673.26" y1="368.3" x2="673.26" y2="370.1" stroke="#161212" stroke-width="1.2" />
<text x="639.8" y="395" font-size="11.6" text-anchor="middle" fill="#231815" stroke="#231815" stroke-width="0.28" >Wavelength (nm)</text>
<line x1="384.79999999999995" y1="231.6" x2="388.4" y2="231.6" stroke="#161212" stroke-width="1.2" />
<text x="380.5" y="235.29999999999998" font-size="10.3" text-anchor="middle" fill="#161212" stroke="#161212" stroke-width="0.28" >5</text>
<line x1="384.79999999999995" y1="277.1666666666667" x2="388.4" y2="277.1666666666667" stroke="#161212" stroke-width="1.2" />
<text x="380.5" y="280.8666666666667" font-size="10.3" text-anchor="middle" fill="#161212" stroke="#161212" stroke-width="0.28" >4</text>
<line x1="384.79999999999995" y1="322.73333333333335" x2="388.4" y2="322.73333333333335" stroke="#161212" stroke-width="1.2" />
<text x="380.5" y="326.43333333333334" font-size="10.3" text-anchor="middle" fill="#161212" stroke="#161212" stroke-width="0.28" >3</text>
<line x1="384.79999999999995" y1="368.3" x2="388.4" y2="368.3" stroke="#161212" stroke-width="1.2" />
<text x="380.5" y="372.0" font-size="10.3" text-anchor="middle" fill="#161212" stroke="#161212" stroke-width="0.28" >2</text>
<text x="371.0" y="298.2" font-size="11.6" text-anchor="middle" fill="#231815" stroke="#231815" stroke-width="0.28" transform="rotate(-90 371.0 298.2)" >Voltage (V)</text>
<text x="430.2" y="244.6" font-size="11.6" text-anchor="start" fill="#231815" stroke="#231815" stroke-width="0.28" >Control</text>
<text x="574.3" y="244.6" font-size="11.6" text-anchor="end" fill="#231815" stroke="#231815" stroke-width="0.28" >AD</text>
<text x="678.3" y="244.6" font-size="11.6" text-anchor="end" fill="#231815" stroke="#231815" stroke-width="0.28" >OPD</text>
<text x="4.5" y="415.8" font-size="16" text-anchor="start" fill="#231815" stroke="#231815" stroke-width="0.28" >e</text>
<polygon points="121.8,541.8 121.8,480.8 122.3,481.0 122.8,481.2 123.3,481.5 123.8,481.8 124.3,481.9 124.8,482.0 125.3,482.1 125.8,482.3 126.3,482.4 126.8,482.5 127.3,482.6 127.8,482.8 128.3,482.9 128.8,483.0 129.3,483.1 129.8,483.3 130.3,483.4 130.8,483.5 131.3,483.6 131.8,483.8 132.3,483.9 132.8,484.0 133.3,484.2 133.8,484.3 134.3,484.5 134.8,484.6 135.3,484.8 135.8,484.9 136.3,485.1 136.8,485.2 137.3,485.4 137.8,485.5 138.3,485.7 138.8,485.8 139.3,486.0 139.8,486.1 140.3,486.3 140.8,486.4 141.3,486.6 141.8,486.7 142.3,486.9 142.8,487.2 143.3,487.4 143.8,487.7 144.3,487.9 144.8,488.2 145.3,488.4 145.8,488.7 146.3,488.9 146.8,489.2 147.3,489.4 147.8,489.7 148.3,489.9 148.8,490.2 149.3,490.4 149.8,490.7 150.3,490.9 150.8,491.2 151.3,491.4 151.8,491.7 152.3,491.9 152.8,492.2 153.3,492.4 153.8,492.6 154.3,492.9 154.8,493.1 155.3,493.4 155.8,493.6 156.3,493.9 156.8,494.2 157.3,494.7 157.8,495.2 158.3,495.7 158.8,496.2 159.3,496.7 159.8,497.2 160.3,497.7 160.8,498.2 161.3,498.7 161.8,499.1 162.3,499.1 162.8,499.1 162.7,541.8" fill="#c9d1e3"/>
<polygon points="447.6,541.8 447.6,462.0 448.1,462.2 448.6,462.4 449.1,462.5 449.6,462.7 450.1,462.9 450.6,463.0 451.1,463.2 451.6,463.4 452.1,463.5 452.6,463.5 453.1,463.6 453.6,463.6 454.1,463.6 454.6,463.6 455.1,463.7 455.6,463.7 456.1,463.7 456.6,463.7 457.1,463.8 457.6,463.8 458.1,463.8 458.6,463.8 459.1,463.9 459.6,463.9 460.1,463.9 460.6,463.9 461.1,464.0 461.6,464.0 462.1,464.0 462.6,464.1 463.1,464.1 463.6,464.1 464.1,464.1 464.6,464.2 465.1,464.2 465.6,464.2 466.1,464.2 466.6,464.3 467.1,464.3 467.6,464.3 468.1,464.3 468.6,464.4 469.1,464.4 469.6,464.4 470.1,464.4 470.6,464.5 471.1,464.5 471.6,464.5 472.1,464.5 472.6,464.6 473.1,464.6 473.6,464.6 474.1,464.7 474.6,464.7 475.1,464.7 475.6,464.8 476.1,464.9 476.6,465.1 477.1,465.2 477.6,465.3 478.1,465.4 478.6,465.5 479.1,465.6 479.6,465.7 480.1,465.8 480.6,465.9 481.1,466.0 481.6,466.2 482.1,466.3 482.6,466.4 483.1,466.5 483.6,466.6 484.1,466.7 484.6,466.8 485.1,466.9 485.6,467.0 486.1,467.1 486.6,467.3 487.1,467.4 487.6,467.5 488.1,467.6 488.6,467.7 489.1,467.8 489.6,467.9 490.1,468.0 490.6,468.0 491.1,468.0 491.6,468.0 491.9,541.8" fill="#f6d5b3"/>
<g fill="#7f9bc6"><circle cx="38.5" cy="428.4" r="2.3"/><circle cx="39.6" cy="427.8" r="2.3"/><circle cx="40.8" cy="427.9" r="2.3"/><circle cx="42.1" cy="429.4" r="2.3"/><circle cx="43.2" cy="428.3" r="2.3"/><circle cx="44.6" cy="429.0" r="2.3"/><circle cx="45.7" cy="428.4" r="2.3"/><circle cx="46.9" cy="429.5" r="2.3"/><circle cx="47.7" cy="428.9" r="2.3"/><circle cx="48.7" cy="429.4" r="2.3"/><circle cx="49.9" cy="431.3" r="2.3"/><circle cx="51.3" cy="432.8" r="2.3"/><circle cx="52.9" cy="433.7" r="2.3"/><circle cx="53.3" cy="434.7" r="2.3"/><circle cx="55.3" cy="436.3" r="2.3"/><circle cx="56.0" cy="437.1" r="2.3"/><circle cx="57.4" cy="438.1" r="2.3"/><circle cx="59.2" cy="439.1" r="2.3"/><circle cx="60.1" cy="440.7" r="2.3"/><circle cx="61.1" cy="440.7" r="2.3"/><circle cx="62.5" cy="441.4" r="2.3"/><circle cx="63.3" cy="442.0" r="2.3"/><circle cx="65.3" cy="441.7" r="2.3"/><circle cx="66.4" cy="443.3" r="2.3"/><circle cx="67.1" cy="445.0" r="2.3"/><circle cx="68.7" cy="443.7" r="2.3"/><circle cx="69.7" cy="445.3" r="2.3"/><circle cx="70.8" cy="446.0" r="2.3"/><circle cx="72.1" cy="446.6" r="2.3"/><circle cx="73.7" cy="446.4" r="2.3"/><circle cx="74.6" cy="447.1" r="2.3"/><circle cx="75.7" cy="447.3" r="2.3"/><circle cx="76.7" cy="448.5" r="2.3"/><circle cx="78.4" cy="450.4" r="2.3"/><circle cx="78.9" cy="450.3" r="2.3"/><circle cx="80.7" cy="450.6" r="2.3"/><circle cx="81.6" cy="452.8" r="2.3"/><circle cx="83.3" cy="454.3" r="2.3"/><circle cx="84.0" cy="454.8" r="2.3"/><circle cx="85.2" cy="456.9" r="2.3"/><circle cx="86.4" cy="456.7" r="2.3"/><circle cx="87.8" cy="457.6" r="2.3"/><circle cx="88.8" cy="457.8" r="2.3"/><circle cx="90.1" cy="459.0" r="2.3"/><circle cx="91.6" cy="460.5" r="2.3"/><circle cx="92.5" cy="461.4" r="2.3"/><circle cx="93.6" cy="462.4" r="2.3"/><circle cx="94.9" cy="463.0" r="2.3"/><circle cx="95.7" cy="463.6" r="2.3"/><circle cx="96.8" cy="462.9" r="2.3"/><circle cx="98.4" cy="464.3" r="2.3"/><circle cx="99.7" cy="466.9" r="2.3"/><circle cx="100.7" cy="465.9" r="2.3"/><circle cx="102.2" cy="467.3" r="2.3"/><circle cx="103.2" cy="467.6" r="2.3"/><circle cx="104.7" cy="468.7" r="2.3"/><circle cx="105.4" cy="469.1" r="2.3"/><circle cx="106.9" cy="469.3" r="2.3"/><circle cx="108.2" cy="470.1" r="2.3"/><circle cx="109.6" cy="471.5" r="2.3"/><circle cx="110.5" cy="471.8" r="2.3"/><circle cx="111.7" cy="471.7" r="2.3"/><circle cx="112.6" cy="473.9" r="2.3"/><circle cx="113.5" cy="474.9" r="2.3"/><circle cx="114.8" cy="475.5" r="2.3"/><circle cx="116.2" cy="476.1" r="2.3"/><circle cx="117.7" cy="475.3" r="2.3"/><circle cx="119.3" cy="477.7" r="2.3"/><circle cx="120.1" cy="477.2" r="2.3"/><circle cx="121.3" cy="477.4" r="2.3"/><circle cx="122.8" cy="478.3" r="2.3"/><circle cx="123.7" cy="478.7" r="2.3"/><circle cx="124.7" cy="478.8" r="2.3"/><circle cx="126.5" cy="479.8" r="2.3"/><circle cx="127.6" cy="480.1" r="2.3"/><circle cx="128.3" cy="480.2" r="2.3"/><circle cx="129.5" cy="480.7" r="2.3"/><circle cx="130.8" cy="480.8" r="2.3"/><circle cx="131.7" cy="480.8" r="2.3"/><circle cx="133.8" cy="481.3" r="2.3"/><circle cx="134.2" cy="482.3" r="2.3"/><circle cx="136.1" cy="481.5" r="2.3"/><circle cx="136.8" cy="482.4" r="2.3"/><circle cx="137.6" cy="483.6" r="2.3"/><circle cx="139.3" cy="483.5" r="2.3"/><circle cx="140.3" cy="484.1" r="2.3"/><circle cx="141.5" cy="484.1" r="2.3"/><circle cx="142.6" cy="484.0" r="2.3"/><circle cx="144.5" cy="485.0" r="2.3"/><circle cx="145.4" cy="485.9" r="2.3"/><circle cx="146.4" cy="486.2" r="2.3"/><circle cx="147.9" cy="487.0" r="2.3"/><circle cx="148.9" cy="487.8" r="2.3"/><circle cx="150.5" cy="488.8" r="2.3"/><circle cx="151.4" cy="488.6" r="2.3"/><circle cx="152.1" cy="490.1" r="2.3"/><circle cx="154.0" cy="490.0" r="2.3"/><circle cx="155.1" cy="491.1" r="2.3"/><circle cx="156.3" cy="491.8" r="2.3"/><circle cx="157.2" cy="493.1" r="2.3"/><circle cx="158.1" cy="493.9" r="2.3"/><circle cx="159.8" cy="495.1" r="2.3"/><circle cx="161.5" cy="496.7" r="2.3"/></g>
<g fill="#e8964f"><circle cx="38.2" cy="428.6" r="2.4"/><circle cx="39.9" cy="429.4" r="2.4"/><circle cx="40.9" cy="431.3" r="2.4"/><circle cx="41.6" cy="428.8" r="2.4"/><circle cx="43.4" cy="431.0" r="2.4"/><circle cx="44.4" cy="431.2" r="2.4"/><circle cx="45.4" cy="430.0" r="2.4"/><circle cx="46.9" cy="430.7" r="2.4"/><circle cx="47.6" cy="432.3" r="2.4"/><circle cx="49.3" cy="432.4" r="2.4"/><circle cx="50.2" cy="431.7" r="2.4"/><circle cx="51.4" cy="431.7" r="2.4"/><circle cx="53.0" cy="432.0" r="2.4"/><circle cx="54.2" cy="433.2" r="2.4"/><circle cx="55.9" cy="431.9" r="2.4"/><circle cx="56.8" cy="433.3" r="2.4"/><circle cx="57.7" cy="432.3" r="2.4"/><circle cx="58.8" cy="434.5" r="2.4"/><circle cx="60.1" cy="434.1" r="2.4"/><circle cx="61.2" cy="435.1" r="2.4"/><circle cx="62.5" cy="432.2" r="2.4"/><circle cx="63.5" cy="432.5" r="2.4"/><circle cx="63.9" cy="433.8" r="2.4"/><circle cx="66.5" cy="434.4" r="2.4"/><circle cx="66.9" cy="433.6" r="2.4"/><circle cx="68.8" cy="434.7" r="2.4"/><circle cx="69.7" cy="434.6" r="2.4"/><circle cx="70.9" cy="435.5" r="2.4"/><circle cx="72.3" cy="435.0" r="2.4"/><circle cx="73.0" cy="435.3" r="2.4"/><circle cx="74.3" cy="436.0" r="2.4"/><circle cx="75.3" cy="434.9" r="2.4"/><circle cx="76.9" cy="433.9" r="2.4"/><circle cx="78.6" cy="436.5" r="2.4"/><circle cx="79.2" cy="436.0" r="2.4"/><circle cx="80.6" cy="433.0" r="2.4"/><circle cx="81.8" cy="435.4" r="2.4"/><circle cx="82.9" cy="434.6" r="2.4"/><circle cx="84.0" cy="435.4" r="2.4"/><circle cx="85.7" cy="436.0" r="2.4"/><circle cx="86.5" cy="437.1" r="2.4"/><circle cx="87.5" cy="435.5" r="2.4"/><circle cx="88.4" cy="437.3" r="2.4"/><circle cx="90.4" cy="436.8" r="2.4"/><circle cx="91.5" cy="436.1" r="2.4"/><circle cx="92.6" cy="435.8" r="2.4"/><circle cx="93.6" cy="436.1" r="2.4"/><circle cx="95.4" cy="436.6" r="2.4"/><circle cx="96.1" cy="435.6" r="2.4"/><circle cx="97.1" cy="437.6" r="2.4"/><circle cx="98.7" cy="436.2" r="2.4"/><circle cx="99.6" cy="435.2" r="2.4"/><circle cx="100.9" cy="437.0" r="2.4"/><circle cx="102.0" cy="436.0" r="2.4"/><circle cx="103.2" cy="436.3" r="2.4"/><circle cx="104.0" cy="436.0" r="2.4"/><circle cx="105.4" cy="437.1" r="2.4"/><circle cx="106.7" cy="436.8" r="2.4"/><circle cx="108.6" cy="436.0" r="2.4"/><circle cx="109.1" cy="436.5" r="2.4"/><circle cx="110.5" cy="435.4" r="2.4"/><circle cx="111.8" cy="438.2" r="2.4"/><circle cx="112.8" cy="436.2" r="2.4"/><circle cx="113.8" cy="436.7" r="2.4"/><circle cx="114.9" cy="435.4" r="2.4"/><circle cx="116.9" cy="435.6" r="2.4"/><circle cx="118.0" cy="437.8" r="2.4"/><circle cx="119.0" cy="437.0" r="2.4"/><circle cx="120.7" cy="436.3" r="2.4"/><circle cx="121.1" cy="435.3" r="2.4"/><circle cx="122.5" cy="437.9" r="2.4"/><circle cx="124.0" cy="435.7" r="2.4"/><circle cx="124.6" cy="436.1" r="2.4"/><circle cx="126.2" cy="436.4" r="2.4"/><circle cx="127.4" cy="436.9" r="2.4"/><circle cx="128.4" cy="436.6" r="2.4"/><circle cx="129.8" cy="436.6" r="2.4"/><circle cx="131.1" cy="438.4" r="2.4"/><circle cx="132.3" cy="436.8" r="2.4"/><circle cx="132.8" cy="437.1" r="2.4"/><circle cx="133.9" cy="435.5" r="2.4"/><circle cx="136.0" cy="437.4" r="2.4"/><circle cx="136.9" cy="435.2" r="2.4"/><circle cx="138.0" cy="436.2" r="2.4"/><circle cx="139.5" cy="438.9" r="2.4"/><circle cx="140.6" cy="436.1" r="2.4"/><circle cx="141.3" cy="436.8" r="2.4"/><circle cx="142.8" cy="435.8" r="2.4"/><circle cx="144.1" cy="435.9" r="2.4"/><circle cx="145.6" cy="437.9" r="2.4"/><circle cx="146.8" cy="436.5" r="2.4"/><circle cx="147.9" cy="436.8" r="2.4"/><circle cx="148.8" cy="436.7" r="2.4"/><circle cx="149.7" cy="435.7" r="2.4"/><circle cx="151.5" cy="436.8" r="2.4"/><circle cx="152.6" cy="437.9" r="2.4"/><circle cx="153.2" cy="436.3" r="2.4"/><circle cx="155.0" cy="437.4" r="2.4"/><circle cx="156.0" cy="438.0" r="2.4"/><circle cx="157.4" cy="436.0" r="2.4"/><circle cx="158.2" cy="437.8" r="2.4"/><circle cx="159.8" cy="435.4" r="2.4"/><circle cx="161.3" cy="437.6" r="2.4"/><circle cx="162.5" cy="436.8" r="2.4"/><circle cx="163.2" cy="436.1" r="2.4"/><circle cx="165.3" cy="437.0" r="2.4"/><circle cx="166.2" cy="436.6" r="2.4"/><circle cx="166.9" cy="435.7" r="2.4"/><circle cx="168.0" cy="438.1" r="2.4"/><circle cx="168.9" cy="438.2" r="2.4"/><circle cx="170.6" cy="436.3" r="2.4"/><circle cx="171.5" cy="436.8" r="2.4"/><circle cx="172.9" cy="436.7" r="2.4"/><circle cx="173.9" cy="437.0" r="2.4"/><circle cx="175.0" cy="436.1" r="2.4"/><circle cx="176.5" cy="438.1" r="2.4"/><circle cx="177.2" cy="437.3" r="2.4"/><circle cx="178.7" cy="436.4" r="2.4"/><circle cx="180.4" cy="436.8" r="2.4"/><circle cx="181.7" cy="436.6" r="2.4"/><circle cx="182.6" cy="437.1" r="2.4"/><circle cx="183.5" cy="437.9" r="2.4"/><circle cx="184.9" cy="437.9" r="2.4"/><circle cx="186.1" cy="436.4" r="2.4"/><circle cx="187.3" cy="437.4" r="2.4"/><circle cx="188.8" cy="436.6" r="2.4"/><circle cx="189.7" cy="435.8" r="2.4"/><circle cx="191.1" cy="436.4" r="2.4"/><circle cx="191.6" cy="437.4" r="2.4"/><circle cx="193.6" cy="436.1" r="2.4"/><circle cx="194.2" cy="436.8" r="2.4"/><circle cx="195.4" cy="437.8" r="2.4"/><circle cx="196.7" cy="436.8" r="2.4"/><circle cx="198.3" cy="436.8" r="2.4"/><circle cx="199.4" cy="436.6" r="2.4"/><circle cx="200.1" cy="435.9" r="2.4"/><circle cx="202.3" cy="437.3" r="2.4"/><circle cx="203.0" cy="437.6" r="2.4"/><circle cx="204.1" cy="437.7" r="2.4"/><circle cx="205.9" cy="436.8" r="2.4"/><circle cx="206.0" cy="436.8" r="2.4"/><circle cx="207.3" cy="438.5" r="2.4"/><circle cx="209.1" cy="437.0" r="2.4"/><circle cx="209.7" cy="437.6" r="2.4"/><circle cx="211.7" cy="435.4" r="2.4"/><circle cx="212.7" cy="437.0" r="2.4"/><circle cx="214.0" cy="437.1" r="2.4"/><circle cx="214.8" cy="436.7" r="2.4"/><circle cx="215.8" cy="439.4" r="2.4"/><circle cx="217.5" cy="437.8" r="2.4"/><circle cx="218.2" cy="436.5" r="2.4"/><circle cx="219.6" cy="438.3" r="2.4"/><circle cx="220.9" cy="438.3" r="2.4"/><circle cx="221.8" cy="438.3" r="2.4"/><circle cx="223.3" cy="439.6" r="2.4"/><circle cx="225.1" cy="438.4" r="2.4"/><circle cx="225.5" cy="438.5" r="2.4"/><circle cx="226.7" cy="437.9" r="2.4"/><circle cx="228.1" cy="437.7" r="2.4"/><circle cx="229.5" cy="438.6" r="2.4"/><circle cx="230.6" cy="438.6" r="2.4"/><circle cx="231.5" cy="437.9" r="2.4"/><circle cx="232.8" cy="438.3" r="2.4"/><circle cx="234.2" cy="438.9" r="2.4"/><circle cx="234.9" cy="439.0" r="2.4"/><circle cx="236.1" cy="438.4" r="2.4"/><circle cx="237.6" cy="437.1" r="2.4"/><circle cx="238.9" cy="439.2" r="2.4"/><circle cx="240.1" cy="438.7" r="2.4"/><circle cx="241.2" cy="438.3" r="2.4"/><circle cx="242.4" cy="438.7" r="2.4"/><circle cx="243.7" cy="438.2" r="2.4"/><circle cx="245.0" cy="439.4" r="2.4"/><circle cx="246.1" cy="438.9" r="2.4"/><circle cx="247.5" cy="437.9" r="2.4"/><circle cx="248.6" cy="439.7" r="2.4"/><circle cx="249.8" cy="439.8" r="2.4"/><circle cx="250.7" cy="439.5" r="2.4"/><circle cx="252.3" cy="440.4" r="2.4"/><circle cx="253.4" cy="438.9" r="2.4"/><circle cx="254.7" cy="441.6" r="2.4"/><circle cx="256.0" cy="441.0" r="2.4"/><circle cx="256.4" cy="441.9" r="2.4"/><circle cx="258.1" cy="439.0" r="2.4"/><circle cx="259.4" cy="440.2" r="2.4"/><circle cx="260.1" cy="441.3" r="2.4"/><circle cx="262.1" cy="441.8" r="2.4"/><circle cx="263.0" cy="444.0" r="2.4"/><circle cx="264.6" cy="442.6" r="2.4"/><circle cx="265.2" cy="441.8" r="2.4"/><circle cx="266.3" cy="443.6" r="2.4"/><circle cx="267.8" cy="443.6" r="2.4"/><circle cx="269.2" cy="443.1" r="2.4"/><circle cx="270.1" cy="444.7" r="2.4"/><circle cx="271.5" cy="445.1" r="2.4"/><circle cx="272.6" cy="444.0" r="2.4"/><circle cx="273.8" cy="443.5" r="2.4"/><circle cx="274.4" cy="445.0" r="2.4"/><circle cx="276.1" cy="444.9" r="2.4"/><circle cx="276.8" cy="444.4" r="2.4"/><circle cx="278.3" cy="444.1" r="2.4"/><circle cx="279.0" cy="444.6" r="2.4"/><circle cx="281.2" cy="445.4" r="2.4"/><circle cx="281.9" cy="445.2" r="2.4"/><circle cx="283.5" cy="442.8" r="2.4"/><circle cx="284.5" cy="445.9" r="2.4"/><circle cx="285.9" cy="447.1" r="2.4"/><circle cx="287.2" cy="445.9" r="2.4"/><circle cx="288.2" cy="446.5" r="2.4"/><circle cx="289.1" cy="445.9" r="2.4"/><circle cx="290.8" cy="447.8" r="2.4"/><circle cx="291.7" cy="446.1" r="2.4"/><circle cx="293.0" cy="447.4" r="2.4"/><circle cx="294.1" cy="447.7" r="2.4"/><circle cx="295.0" cy="446.3" r="2.4"/><circle cx="296.4" cy="447.3" r="2.4"/><circle cx="298.0" cy="445.4" r="2.4"/><circle cx="298.6" cy="447.1" r="2.4"/><circle cx="299.9" cy="445.6" r="2.4"/><circle cx="301.6" cy="447.5" r="2.4"/><circle cx="302.6" cy="446.8" r="2.4"/><circle cx="304.0" cy="447.1" r="2.4"/><circle cx="305.2" cy="446.6" r="2.4"/><circle cx="305.8" cy="447.7" r="2.4"/><circle cx="307.1" cy="448.3" r="2.4"/><circle cx="308.6" cy="446.9" r="2.4"/><circle cx="309.7" cy="447.6" r="2.4"/><circle cx="311.2" cy="447.4" r="2.4"/><circle cx="312.0" cy="449.2" r="2.4"/><circle cx="314.0" cy="450.0" r="2.4"/><circle cx="314.5" cy="448.6" r="2.4"/><circle cx="316.2" cy="448.4" r="2.4"/><circle cx="316.6" cy="448.7" r="2.4"/><circle cx="318.2" cy="448.0" r="2.4"/><circle cx="318.8" cy="447.5" r="2.4"/><circle cx="320.7" cy="448.3" r="2.4"/><circle cx="321.7" cy="449.3" r="2.4"/><circle cx="323.1" cy="448.9" r="2.4"/><circle cx="324.2" cy="448.5" r="2.4"/><circle cx="325.2" cy="448.5" r="2.4"/><circle cx="326.8" cy="449.5" r="2.4"/><circle cx="327.5" cy="449.4" r="2.4"/><circle cx="328.8" cy="450.4" r="2.4"/><circle cx="329.6" cy="449.0" r="2.4"/><circle cx="331.2" cy="452.3" r="2.4"/><circle cx="332.8" cy="450.0" r="2.4"/><circle cx="333.9" cy="452.1" r="2.4"/><circle cx="334.8" cy="450.1" r="2.4"/><circle cx="336.5" cy="451.0" r="2.4"/><circle cx="337.5" cy="450.2" r="2.4"/><circle cx="339.1" cy="452.3" r="2.4"/><circle cx="339.9" cy="451.5" r="2.4"/><circle cx="340.3" cy="451.6" r="2.4"/><circle cx="342.0" cy="451.5" r="2.4"/><circle cx="343.5" cy="450.9" r="2.4"/><circle cx="344.0" cy="451.7" r="2.4"/><circle cx="345.5" cy="451.2" r="2.4"/><circle cx="346.7" cy="451.3" r="2.4"/><circle cx="347.4" cy="452.8" r="2.4"/><circle cx="349.4" cy="452.8" r="2.4"/><circle cx="351.1" cy="452.0" r="2.4"/><circle cx="351.2" cy="451.3" r="2.4"/><circle cx="352.5" cy="451.7" r="2.4"/><circle cx="354.1" cy="450.5" r="2.4"/><circle cx="355.4" cy="451.1" r="2.4"/><circle cx="356.6" cy="452.5" r="2.4"/><circle cx="357.6" cy="452.7" r="2.4"/><circle cx="358.7" cy="452.4" r="2.4"/><circle cx="359.6" cy="453.1" r="2.4"/><circle cx="361.9" cy="455.0" r="2.4"/><circle cx="362.9" cy="454.1" r="2.4"/><circle cx="363.5" cy="454.9" r="2.4"/><circle cx="364.9" cy="453.7" r="2.4"/><circle cx="366.0" cy="454.0" r="2.4"/><circle cx="367.2" cy="454.0" r="2.4"/><circle cx="368.2" cy="453.9" r="2.4"/><circle cx="370.4" cy="454.3" r="2.4"/><circle cx="370.8" cy="455.0" r="2.4"/><circle cx="372.3" cy="453.7" r="2.4"/><circle cx="373.2" cy="455.7" r="2.4"/><circle cx="374.6" cy="455.1" r="2.4"/><circle cx="376.2" cy="454.5" r="2.4"/><circle cx="376.9" cy="454.8" r="2.4"/><circle cx="378.5" cy="453.7" r="2.4"/><circle cx="379.1" cy="455.2" r="2.4"/><circle cx="380.7" cy="456.3" r="2.4"/><circle cx="382.1" cy="454.5" r="2.4"/><circle cx="383.1" cy="455.8" r="2.4"/><circle cx="383.9" cy="456.7" r="2.4"/><circle cx="385.0" cy="454.5" r="2.4"/><circle cx="386.4" cy="455.2" r="2.4"/><circle cx="387.5" cy="457.1" r="2.4"/><circle cx="389.0" cy="458.3" r="2.4"/><circle cx="390.0" cy="455.7" r="2.4"/><circle cx="391.1" cy="456.4" r="2.4"/><circle cx="392.1" cy="457.7" r="2.4"/><circle cx="393.5" cy="455.6" r="2.4"/><circle cx="395.1" cy="457.3" r="2.4"/><circle cx="396.2" cy="457.5" r="2.4"/><circle cx="397.5" cy="457.5" r="2.4"/><circle cx="398.9" cy="457.9" r="2.4"/><circle cx="399.8" cy="458.0" r="2.4"/><circle cx="400.5" cy="457.5" r="2.4"/><circle cx="402.0" cy="457.9" r="2.4"/><circle cx="402.9" cy="459.2" r="2.4"/><circle cx="404.5" cy="456.7" r="2.4"/><circle cx="405.2" cy="457.5" r="2.4"/><circle cx="406.9" cy="457.2" r="2.4"/><circle cx="408.1" cy="457.3" r="2.4"/><circle cx="409.5" cy="457.3" r="2.4"/><circle cx="410.5" cy="458.9" r="2.4"/><circle cx="412.5" cy="457.1" r="2.4"/><circle cx="412.8" cy="457.3" r="2.4"/><circle cx="414.3" cy="457.1" r="2.4"/><circle cx="415.2" cy="458.1" r="2.4"/><circle cx="416.2" cy="457.3" r="2.4"/><circle cx="417.6" cy="456.4" r="2.4"/><circle cx="418.5" cy="457.9" r="2.4"/><circle cx="420.1" cy="458.2" r="2.4"/><circle cx="420.8" cy="458.0" r="2.4"/><circle cx="422.7" cy="458.9" r="2.4"/><circle cx="423.7" cy="457.5" r="2.4"/><circle cx="425.1" cy="457.7" r="2.4"/><circle cx="425.7" cy="457.4" r="2.4"/><circle cx="427.7" cy="458.3" r="2.4"/><circle cx="428.8" cy="457.6" r="2.4"/><circle cx="430.0" cy="457.4" r="2.4"/><circle cx="430.9" cy="460.1" r="2.4"/><circle cx="432.3" cy="457.4" r="2.4"/><circle cx="433.3" cy="458.0" r="2.4"/><circle cx="434.9" cy="457.2" r="2.4"/><circle cx="435.2" cy="457.4" r="2.4"/><circle cx="436.9" cy="457.6" r="2.4"/><circle cx="438.5" cy="457.8" r="2.4"/><circle cx="439.5" cy="456.4" r="2.4"/><circle cx="440.8" cy="459.2" r="2.4"/><circle cx="441.9" cy="457.8" r="2.4"/><circle cx="442.9" cy="459.5" r="2.4"/><circle cx="443.8" cy="458.2" r="2.4"/><circle cx="445.4" cy="459.4" r="2.4"/><circle cx="446.4" cy="459.4" r="2.4"/><circle cx="447.6" cy="459.7" r="2.4"/><circle cx="448.9" cy="458.9" r="2.4"/><circle cx="450.1" cy="461.2" r="2.4"/><circle cx="451.0" cy="460.5" r="2.4"/><circle cx="452.7" cy="460.1" r="2.4"/><circle cx="453.8" cy="460.1" r="2.4"/><circle cx="455.2" cy="463.2" r="2.4"/><circle cx="456.7" cy="461.0" r="2.4"/><circle cx="457.5" cy="461.4" r="2.4"/><circle cx="458.5" cy="462.7" r="2.4"/><circle cx="459.3" cy="462.4" r="2.4"/><circle cx="460.9" cy="462.7" r="2.4"/><circle cx="462.2" cy="460.9" r="2.4"/><circle cx="463.4" cy="462.3" r="2.4"/><circle cx="464.5" cy="462.1" r="2.4"/><circle cx="465.5" cy="459.8" r="2.4"/><circle cx="467.2" cy="462.4" r="2.4"/><circle cx="468.1" cy="461.9" r="2.4"/><circle cx="469.6" cy="461.5" r="2.4"/><circle cx="470.3" cy="461.8" r="2.4"/><circle cx="472.1" cy="460.8" r="2.4"/><circle cx="473.3" cy="461.5" r="2.4"/><circle cx="473.8" cy="463.3" r="2.4"/><circle cx="475.3" cy="461.1" r="2.4"/><circle cx="476.4" cy="463.4" r="2.4"/><circle cx="478.1" cy="462.4" r="2.4"/><circle cx="479.0" cy="463.7" r="2.4"/><circle cx="479.9" cy="463.6" r="2.4"/><circle cx="481.3" cy="463.1" r="2.4"/><circle cx="482.4" cy="463.9" r="2.4"/><circle cx="483.7" cy="463.6" r="2.4"/><circle cx="484.8" cy="465.4" r="2.4"/><circle cx="486.2" cy="465.4" r="2.4"/><circle cx="487.7" cy="465.4" r="2.4"/><circle cx="489.2" cy="464.4" r="2.4"/><circle cx="489.9" cy="465.1" r="2.4"/></g>
<g fill="#db4a6f"><circle cx="39.1" cy="430.9" r="2.5"/><circle cx="39.0" cy="428.1" r="2.5"/><circle cx="40.9" cy="430.2" r="2.5"/><circle cx="42.0" cy="429.4" r="2.5"/><circle cx="43.0" cy="430.3" r="2.5"/><circle cx="44.0" cy="430.9" r="2.5"/><circle cx="44.4" cy="430.6" r="2.5"/><circle cx="45.9" cy="431.1" r="2.5"/><circle cx="47.2" cy="429.2" r="2.5"/><circle cx="48.5" cy="429.3" r="2.5"/><circle cx="49.2" cy="428.7" r="2.5"/><circle cx="50.6" cy="431.1" r="2.5"/><circle cx="52.0" cy="430.4" r="2.5"/><circle cx="53.1" cy="430.6" r="2.5"/><circle cx="53.9" cy="431.3" r="2.5"/><circle cx="55.3" cy="430.3" r="2.5"/><circle cx="56.0" cy="430.6" r="2.5"/><circle cx="57.2" cy="429.8" r="2.5"/><circle cx="58.6" cy="430.4" r="2.5"/><circle cx="59.5" cy="430.0" r="2.5"/><circle cx="60.6" cy="431.4" r="2.5"/><circle cx="61.5" cy="433.2" r="2.5"/><circle cx="62.8" cy="433.0" r="2.5"/><circle cx="64.1" cy="430.4" r="2.5"/><circle cx="64.8" cy="431.7" r="2.5"/><circle cx="66.0" cy="431.3" r="2.5"/><circle cx="67.0" cy="429.3" r="2.5"/><circle cx="68.1" cy="428.9" r="2.5"/><circle cx="69.4" cy="430.6" r="2.5"/><circle cx="70.2" cy="431.2" r="2.5"/><circle cx="71.6" cy="429.9" r="2.5"/><circle cx="72.1" cy="430.3" r="2.5"/><circle cx="73.1" cy="430.5" r="2.5"/><circle cx="75.3" cy="430.5" r="2.5"/><circle cx="76.1" cy="430.2" r="2.5"/><circle cx="77.1" cy="431.4" r="2.5"/><circle cx="78.1" cy="432.4" r="2.5"/><circle cx="79.7" cy="432.0" r="2.5"/><circle cx="80.3" cy="430.8" r="2.5"/><circle cx="81.6" cy="431.6" r="2.5"/><circle cx="82.7" cy="431.9" r="2.5"/><circle cx="84.1" cy="429.8" r="2.5"/><circle cx="84.6" cy="433.0" r="2.5"/><circle cx="85.7" cy="431.2" r="2.5"/><circle cx="86.8" cy="430.6" r="2.5"/><circle cx="88.0" cy="434.9" r="2.5"/><circle cx="89.4" cy="431.0" r="2.5"/><circle cx="89.9" cy="431.9" r="2.5"/><circle cx="91.6" cy="431.4" r="2.5"/><circle cx="92.2" cy="433.3" r="2.5"/><circle cx="93.8" cy="432.0" r="2.5"/><circle cx="94.3" cy="430.7" r="2.5"/><circle cx="95.5" cy="429.9" r="2.5"/><circle cx="97.0" cy="431.7" r="2.5"/><circle cx="98.0" cy="434.5" r="2.5"/><circle cx="99.4" cy="431.2" r="2.5"/><circle cx="100.4" cy="433.8" r="2.5"/><circle cx="101.0" cy="431.5" r="2.5"/><circle cx="102.3" cy="430.8" r="2.5"/><circle cx="103.8" cy="429.9" r="2.5"/><circle cx="104.2" cy="432.3" r="2.5"/><circle cx="105.5" cy="432.8" r="2.5"/><circle cx="106.8" cy="432.4" r="2.5"/><circle cx="108.1" cy="430.3" r="2.5"/><circle cx="108.9" cy="431.9" r="2.5"/><circle cx="110.0" cy="432.9" r="2.5"/><circle cx="110.8" cy="432.0" r="2.5"/><circle cx="112.4" cy="433.1" r="2.5"/><circle cx="113.1" cy="435.0" r="2.5"/><circle cx="115.1" cy="431.1" r="2.5"/><circle cx="115.6" cy="435.5" r="2.5"/><circle cx="116.8" cy="433.0" r="2.5"/><circle cx="117.6" cy="432.2" r="2.5"/><circle cx="118.7" cy="432.2" r="2.5"/><circle cx="120.1" cy="432.4" r="2.5"/><circle cx="120.9" cy="431.5" r="2.5"/><circle cx="122.1" cy="431.9" r="2.5"/><circle cx="123.1" cy="434.0" r="2.5"/><circle cx="124.4" cy="433.5" r="2.5"/><circle cx="125.5" cy="433.0" r="2.5"/><circle cx="126.5" cy="432.6" r="2.5"/><circle cx="127.8" cy="431.8" r="2.5"/><circle cx="129.1" cy="433.0" r="2.5"/><circle cx="129.6" cy="432.5" r="2.5"/><circle cx="130.7" cy="433.2" r="2.5"/><circle cx="131.8" cy="434.3" r="2.5"/><circle cx="132.9" cy="430.6" r="2.5"/><circle cx="134.0" cy="430.9" r="2.5"/><circle cx="135.3" cy="434.3" r="2.5"/><circle cx="136.6" cy="431.7" r="2.5"/><circle cx="137.3" cy="435.1" r="2.5"/><circle cx="138.7" cy="433.2" r="2.5"/><circle cx="140.0" cy="435.9" r="2.5"/><circle cx="141.2" cy="433.4" r="2.5"/><circle cx="142.0" cy="433.9" r="2.5"/><circle cx="142.8" cy="432.1" r="2.5"/><circle cx="144.1" cy="432.2" r="2.5"/><circle cx="145.2" cy="433.4" r="2.5"/><circle cx="147.0" cy="432.4" r="2.5"/><circle cx="147.4" cy="433.2" r="2.5"/><circle cx="148.6" cy="434.5" r="2.5"/><circle cx="149.5" cy="432.5" r="2.5"/><circle cx="150.2" cy="432.4" r="2.5"/><circle cx="152.0" cy="433.5" r="2.5"/><circle cx="152.6" cy="433.0" r="2.5"/><circle cx="154.0" cy="434.0" r="2.5"/><circle cx="154.9" cy="433.2" r="2.5"/><circle cx="155.7" cy="432.2" r="2.5"/><circle cx="157.8" cy="431.1" r="2.5"/><circle cx="158.3" cy="433.8" r="2.5"/><circle cx="159.4" cy="432.7" r="2.5"/><circle cx="160.6" cy="433.6" r="2.5"/><circle cx="161.7" cy="431.5" r="2.5"/><circle cx="162.8" cy="432.7" r="2.5"/><circle cx="163.7" cy="433.9" r="2.5"/><circle cx="165.2" cy="434.6" r="2.5"/><circle cx="166.0" cy="434.7" r="2.5"/><circle cx="167.6" cy="434.9" r="2.5"/><circle cx="168.7" cy="433.5" r="2.5"/><circle cx="169.3" cy="434.6" r="2.5"/><circle cx="170.1" cy="434.0" r="2.5"/><circle cx="171.4" cy="433.4" r="2.5"/><circle cx="172.2" cy="432.8" r="2.5"/><circle cx="173.8" cy="434.8" r="2.5"/><circle cx="175.2" cy="433.7" r="2.5"/><circle cx="175.9" cy="432.9" r="2.5"/><circle cx="177.2" cy="433.6" r="2.5"/><circle cx="178.4" cy="435.8" r="2.5"/><circle cx="179.3" cy="432.3" r="2.5"/><circle cx="180.1" cy="432.3" r="2.5"/><circle cx="181.1" cy="435.4" r="2.5"/><circle cx="182.7" cy="432.3" r="2.5"/><circle cx="183.9" cy="435.4" r="2.5"/><circle cx="184.7" cy="433.3" r="2.5"/><circle cx="185.8" cy="434.3" r="2.5"/><circle cx="187.2" cy="435.3" r="2.5"/><circle cx="188.5" cy="435.4" r="2.5"/><circle cx="189.6" cy="434.8" r="2.5"/><circle cx="189.8" cy="434.0" r="2.5"/><circle cx="191.5" cy="433.7" r="2.5"/><circle cx="192.8" cy="433.7" r="2.5"/><circle cx="193.3" cy="435.8" r="2.5"/><circle cx="194.9" cy="434.4" r="2.5"/><circle cx="196.1" cy="435.4" r="2.5"/><circle cx="197.0" cy="431.5" r="2.5"/><circle cx="197.8" cy="433.7" r="2.5"/><circle cx="198.8" cy="434.5" r="2.5"/><circle cx="200.6" cy="433.8" r="2.5"/><circle cx="201.0" cy="436.5" r="2.5"/><circle cx="202.3" cy="433.0" r="2.5"/><circle cx="203.6" cy="434.8" r="2.5"/><circle cx="204.4" cy="435.2" r="2.5"/><circle cx="205.6" cy="433.4" r="2.5"/><circle cx="206.9" cy="435.3" r="2.5"/><circle cx="207.7" cy="434.8" r="2.5"/><circle cx="209.0" cy="437.5" r="2.5"/><circle cx="209.9" cy="436.0" r="2.5"/><circle cx="211.2" cy="434.3" r="2.5"/><circle cx="212.5" cy="435.5" r="2.5"/><circle cx="213.8" cy="434.9" r="2.5"/><circle cx="214.3" cy="433.9" r="2.5"/><circle cx="215.8" cy="435.2" r="2.5"/><circle cx="217.1" cy="435.0" r="2.5"/><circle cx="218.1" cy="436.3" r="2.5"/><circle cx="218.9" cy="433.0" r="2.5"/><circle cx="219.6" cy="433.1" r="2.5"/><circle cx="221.6" cy="433.7" r="2.5"/><circle cx="222.6" cy="435.3" r="2.5"/><circle cx="223.8" cy="435.8" r="2.5"/><circle cx="224.4" cy="434.5" r="2.5"/><circle cx="225.5" cy="434.9" r="2.5"/><circle cx="226.4" cy="434.7" r="2.5"/><circle cx="228.2" cy="432.9" r="2.5"/><circle cx="228.9" cy="433.8" r="2.5"/><circle cx="230.0" cy="435.7" r="2.5"/><circle cx="231.0" cy="435.7" r="2.5"/><circle cx="231.6" cy="436.1" r="2.5"/><circle cx="233.0" cy="435.6" r="2.5"/><circle cx="234.4" cy="432.1" r="2.5"/><circle cx="235.2" cy="435.2" r="2.5"/><circle cx="237.0" cy="435.3" r="2.5"/><circle cx="237.7" cy="433.4" r="2.5"/><circle cx="239.1" cy="437.0" r="2.5"/><circle cx="239.8" cy="434.8" r="2.5"/><circle cx="240.4" cy="436.0" r="2.5"/><circle cx="242.8" cy="435.8" r="2.5"/><circle cx="243.5" cy="435.6" r="2.5"/><circle cx="243.9" cy="436.5" r="2.5"/><circle cx="244.9" cy="434.8" r="2.5"/><circle cx="246.5" cy="436.0" r="2.5"/><circle cx="247.6" cy="435.4" r="2.5"/><circle cx="248.4" cy="433.6" r="2.5"/><circle cx="249.7" cy="434.2" r="2.5"/><circle cx="250.4" cy="433.6" r="2.5"/><circle cx="251.8" cy="433.0" r="2.5"/><circle cx="252.6" cy="433.2" r="2.5"/><circle cx="254.2" cy="435.5" r="2.5"/><circle cx="255.8" cy="433.4" r="2.5"/><circle cx="256.1" cy="436.0" r="2.5"/><circle cx="257.3" cy="434.7" r="2.5"/><circle cx="259.0" cy="434.7" r="2.5"/><circle cx="259.3" cy="433.6" r="2.5"/><circle cx="260.8" cy="435.4" r="2.5"/><circle cx="261.4" cy="433.9" r="2.5"/><circle cx="263.1" cy="435.7" r="2.5"/><circle cx="263.8" cy="435.7" r="2.5"/><circle cx="265.3" cy="433.1" r="2.5"/><circle cx="266.1" cy="435.5" r="2.5"/><circle cx="267.1" cy="432.7" r="2.5"/><circle cx="268.3" cy="435.9" r="2.5"/><circle cx="270.0" cy="432.6" r="2.5"/><circle cx="271.4" cy="433.8" r="2.5"/><circle cx="272.0" cy="436.4" r="2.5"/><circle cx="273.1" cy="435.2" r="2.5"/><circle cx="273.6" cy="435.7" r="2.5"/><circle cx="274.8" cy="432.3" r="2.5"/><circle cx="276.9" cy="435.8" r="2.5"/><circle cx="277.7" cy="434.1" r="2.5"/><circle cx="278.7" cy="436.8" r="2.5"/><circle cx="279.9" cy="435.0" r="2.5"/><circle cx="280.1" cy="434.9" r="2.5"/><circle cx="280.9" cy="433.2" r="2.5"/><circle cx="282.7" cy="434.0" r="2.5"/><circle cx="283.8" cy="434.9" r="2.5"/><circle cx="285.5" cy="436.5" r="2.5"/><circle cx="286.0" cy="436.4" r="2.5"/><circle cx="286.9" cy="434.7" r="2.5"/><circle cx="288.5" cy="433.7" r="2.5"/><circle cx="289.2" cy="433.6" r="2.5"/><circle cx="290.4" cy="436.9" r="2.5"/><circle cx="291.3" cy="435.3" r="2.5"/><circle cx="292.3" cy="433.8" r="2.5"/><circle cx="293.3" cy="436.7" r="2.5"/><circle cx="295.5" cy="435.6" r="2.5"/><circle cx="295.7" cy="435.9" r="2.5"/><circle cx="296.9" cy="436.0" r="2.5"/><circle cx="298.2" cy="435.4" r="2.5"/><circle cx="299.4" cy="434.5" r="2.5"/><circle cx="300.2" cy="433.2" r="2.5"/><circle cx="301.3" cy="433.5" r="2.5"/><circle cx="302.5" cy="434.0" r="2.5"/><circle cx="303.6" cy="435.6" r="2.5"/><circle cx="304.3" cy="434.2" r="2.5"/><circle cx="305.5" cy="435.9" r="2.5"/><circle cx="307.4" cy="436.0" r="2.5"/><circle cx="307.9" cy="436.7" r="2.5"/><circle cx="308.6" cy="436.8" r="2.5"/><circle cx="310.0" cy="432.0" r="2.5"/><circle cx="312.1" cy="436.8" r="2.5"/><circle cx="312.1" cy="435.3" r="2.5"/><circle cx="313.4" cy="435.2" r="2.5"/><circle cx="314.2" cy="434.4" r="2.5"/><circle cx="315.8" cy="435.4" r="2.5"/><circle cx="317.2" cy="435.2" r="2.5"/><circle cx="318.6" cy="434.3" r="2.5"/><circle cx="319.1" cy="433.0" r="2.5"/><circle cx="319.7" cy="436.6" r="2.5"/><circle cx="320.9" cy="435.7" r="2.5"/><circle cx="322.3" cy="434.0" r="2.5"/><circle cx="323.3" cy="434.6" r="2.5"/><circle cx="324.4" cy="436.0" r="2.5"/><circle cx="325.8" cy="434.5" r="2.5"/><circle cx="326.4" cy="435.4" r="2.5"/><circle cx="327.8" cy="436.3" r="2.5"/><circle cx="329.7" cy="436.1" r="2.5"/><circle cx="330.0" cy="434.9" r="2.5"/><circle cx="330.8" cy="434.1" r="2.5"/><circle cx="331.9" cy="434.7" r="2.5"/><circle cx="333.2" cy="436.0" r="2.5"/><circle cx="334.3" cy="434.9" r="2.5"/><circle cx="335.1" cy="437.0" r="2.5"/><circle cx="336.8" cy="437.1" r="2.5"/><circle cx="337.9" cy="436.8" r="2.5"/><circle cx="338.7" cy="435.9" r="2.5"/><circle cx="340.7" cy="433.8" r="2.5"/><circle cx="341.4" cy="437.0" r="2.5"/><circle cx="342.2" cy="436.0" r="2.5"/><circle cx="343.6" cy="434.4" r="2.5"/><circle cx="344.4" cy="434.2" r="2.5"/><circle cx="345.2" cy="434.5" r="2.5"/><circle cx="346.5" cy="435.3" r="2.5"/><circle cx="347.7" cy="433.6" r="2.5"/><circle cx="349.3" cy="436.5" r="2.5"/><circle cx="350.0" cy="434.8" r="2.5"/><circle cx="350.9" cy="435.8" r="2.5"/><circle cx="352.1" cy="433.3" r="2.5"/><circle cx="353.3" cy="438.5" r="2.5"/><circle cx="353.6" cy="436.3" r="2.5"/><circle cx="355.4" cy="435.1" r="2.5"/><circle cx="356.8" cy="433.8" r="2.5"/><circle cx="357.6" cy="436.8" r="2.5"/><circle cx="358.5" cy="434.7" r="2.5"/><circle cx="359.7" cy="434.7" r="2.5"/><circle cx="361.3" cy="434.2" r="2.5"/><circle cx="362.2" cy="433.8" r="2.5"/><circle cx="363.2" cy="435.1" r="2.5"/><circle cx="363.3" cy="435.2" r="2.5"/><circle cx="364.9" cy="434.7" r="2.5"/><circle cx="366.8" cy="433.9" r="2.5"/><circle cx="367.1" cy="436.8" r="2.5"/><circle cx="368.5" cy="436.9" r="2.5"/><circle cx="369.7" cy="434.2" r="2.5"/><circle cx="370.7" cy="436.6" r="2.5"/><circle cx="372.1" cy="435.2" r="2.5"/><circle cx="372.9" cy="435.1" r="2.5"/><circle cx="373.8" cy="437.4" r="2.5"/><circle cx="375.1" cy="433.9" r="2.5"/><circle cx="376.1" cy="436.0" r="2.5"/><circle cx="377.5" cy="435.1" r="2.5"/><circle cx="378.2" cy="435.2" r="2.5"/><circle cx="379.0" cy="433.7" r="2.5"/><circle cx="380.8" cy="434.7" r="2.5"/><circle cx="381.8" cy="436.6" r="2.5"/><circle cx="383.0" cy="435.2" r="2.5"/><circle cx="384.6" cy="436.0" r="2.5"/><circle cx="384.9" cy="436.1" r="2.5"/><circle cx="386.2" cy="434.3" r="2.5"/><circle cx="387.2" cy="435.0" r="2.5"/><circle cx="387.7" cy="435.0" r="2.5"/><circle cx="389.3" cy="434.7" r="2.5"/><circle cx="390.0" cy="434.8" r="2.5"/><circle cx="391.6" cy="435.3" r="2.5"/><circle cx="392.3" cy="436.0" r="2.5"/><circle cx="393.4" cy="435.0" r="2.5"/><circle cx="395.3" cy="434.5" r="2.5"/><circle cx="395.8" cy="436.5" r="2.5"/><circle cx="397.0" cy="434.9" r="2.5"/><circle cx="398.3" cy="436.4" r="2.5"/><circle cx="398.6" cy="434.3" r="2.5"/><circle cx="400.1" cy="434.0" r="2.5"/><circle cx="401.2" cy="434.3" r="2.5"/><circle cx="402.7" cy="434.2" r="2.5"/><circle cx="403.7" cy="435.7" r="2.5"/><circle cx="404.6" cy="435.4" r="2.5"/><circle cx="406.4" cy="435.6" r="2.5"/><circle cx="406.8" cy="435.2" r="2.5"/><circle cx="407.8" cy="435.6" r="2.5"/><circle cx="409.5" cy="434.3" r="2.5"/><circle cx="410.2" cy="436.5" r="2.5"/><circle cx="411.2" cy="435.5" r="2.5"/><circle cx="412.2" cy="434.3" r="2.5"/><circle cx="413.4" cy="437.7" r="2.5"/><circle cx="414.6" cy="434.7" r="2.5"/><circle cx="415.6" cy="435.1" r="2.5"/><circle cx="417.1" cy="435.5" r="2.5"/><circle cx="418.6" cy="435.5" r="2.5"/><circle cx="419.5" cy="435.6" r="2.5"/><circle cx="420.4" cy="433.7" r="2.5"/><circle cx="421.3" cy="435.2" r="2.5"/><circle cx="422.3" cy="432.9" r="2.5"/><circle cx="423.8" cy="434.9" r="2.5"/><circle cx="424.5" cy="435.0" r="2.5"/><circle cx="425.6" cy="435.7" r="2.5"/><circle cx="426.4" cy="434.3" r="2.5"/><circle cx="428.0" cy="435.4" r="2.5"/><circle cx="428.9" cy="434.7" r="2.5"/><circle cx="429.8" cy="435.2" r="2.5"/><circle cx="431.6" cy="434.1" r="2.5"/><circle cx="432.8" cy="436.2" r="2.5"/><circle cx="433.3" cy="436.2" r="2.5"/><circle cx="434.1" cy="433.4" r="2.5"/><circle cx="435.2" cy="434.9" r="2.5"/><circle cx="436.6" cy="434.7" r="2.5"/><circle cx="437.8" cy="433.0" r="2.5"/><circle cx="439.0" cy="433.7" r="2.5"/><circle cx="439.8" cy="434.9" r="2.5"/><circle cx="440.8" cy="433.8" r="2.5"/><circle cx="441.9" cy="435.3" r="2.5"/><circle cx="443.5" cy="435.9" r="2.5"/><circle cx="444.1" cy="434.4" r="2.5"/><circle cx="445.2" cy="435.8" r="2.5"/><circle cx="446.0" cy="436.7" r="2.5"/><circle cx="447.6" cy="434.5" r="2.5"/><circle cx="448.9" cy="436.5" r="2.5"/><circle cx="450.0" cy="436.5" r="2.5"/><circle cx="451.0" cy="436.7" r="2.5"/><circle cx="452.5" cy="435.2" r="2.5"/><circle cx="453.6" cy="435.5" r="2.5"/><circle cx="454.3" cy="434.3" r="2.5"/><circle cx="455.3" cy="436.2" r="2.5"/><circle cx="456.1" cy="436.0" r="2.5"/><circle cx="457.7" cy="435.6" r="2.5"/><circle cx="458.0" cy="435.2" r="2.5"/><circle cx="460.0" cy="434.5" r="2.5"/><circle cx="460.9" cy="432.7" r="2.5"/><circle cx="462.2" cy="434.6" r="2.5"/><circle cx="463.4" cy="433.3" r="2.5"/><circle cx="464.4" cy="435.1" r="2.5"/><circle cx="465.5" cy="434.3" r="2.5"/><circle cx="466.2" cy="437.8" r="2.5"/><circle cx="467.3" cy="434.6" r="2.5"/><circle cx="468.5" cy="434.2" r="2.5"/><circle cx="470.1" cy="437.3" r="2.5"/><circle cx="470.6" cy="433.5" r="2.5"/><circle cx="472.3" cy="436.6" r="2.5"/><circle cx="473.2" cy="436.6" r="2.5"/><circle cx="473.8" cy="435.2" r="2.5"/><circle cx="474.8" cy="433.8" r="2.5"/><circle cx="476.6" cy="434.6" r="2.5"/><circle cx="478.1" cy="435.4" r="2.5"/><circle cx="478.3" cy="436.2" r="2.5"/><circle cx="480.1" cy="435.9" r="2.5"/><circle cx="480.3" cy="435.8" r="2.5"/><circle cx="482.2" cy="434.8" r="2.5"/><circle cx="482.7" cy="436.5" r="2.5"/><circle cx="484.0" cy="434.2" r="2.5"/><circle cx="485.0" cy="434.5" r="2.5"/><circle cx="486.3" cy="435.5" r="2.5"/><circle cx="487.6" cy="436.2" r="2.5"/><circle cx="487.9" cy="435.8" r="2.5"/><circle cx="489.8" cy="435.9" r="2.5"/><circle cx="490.9" cy="434.8" r="2.5"/><circle cx="491.4" cy="436.4" r="2.5"/><circle cx="492.5" cy="433.0" r="2.5"/><circle cx="494.2" cy="434.6" r="2.5"/><circle cx="494.9" cy="433.9" r="2.5"/><circle cx="495.7" cy="434.1" r="2.5"/><circle cx="497.1" cy="435.8" r="2.5"/><circle cx="497.6" cy="436.2" r="2.5"/><circle cx="499.0" cy="434.2" r="2.5"/><circle cx="500.7" cy="435.3" r="2.5"/><circle cx="501.1" cy="437.4" r="2.5"/><circle cx="502.4" cy="435.7" r="2.5"/><circle cx="503.9" cy="437.0" r="2.5"/><circle cx="504.8" cy="436.6" r="2.5"/><circle cx="505.8" cy="436.7" r="2.5"/><circle cx="506.9" cy="435.1" r="2.5"/><circle cx="508.8" cy="435.8" r="2.5"/><circle cx="509.3" cy="437.9" r="2.5"/><circle cx="510.5" cy="434.6" r="2.5"/><circle cx="511.7" cy="434.2" r="2.5"/><circle cx="512.9" cy="436.8" r="2.5"/><circle cx="513.5" cy="434.8" r="2.5"/><circle cx="514.9" cy="435.5" r="2.5"/><circle cx="515.6" cy="436.2" r="2.5"/><circle cx="516.4" cy="435.1" r="2.5"/><circle cx="518.0" cy="435.3" r="2.5"/><circle cx="519.3" cy="434.2" r="2.5"/><circle cx="520.5" cy="435.4" r="2.5"/><circle cx="521.2" cy="434.1" r="2.5"/><circle cx="522.1" cy="436.0" r="2.5"/><circle cx="523.3" cy="435.7" r="2.5"/><circle cx="525.0" cy="436.8" r="2.5"/><circle cx="526.3" cy="435.3" r="2.5"/><circle cx="526.6" cy="436.8" r="2.5"/><circle cx="528.1" cy="436.9" r="2.5"/><circle cx="529.1" cy="437.0" r="2.5"/><circle cx="530.5" cy="436.5" r="2.5"/><circle cx="531.5" cy="436.1" r="2.5"/><circle cx="532.5" cy="435.9" r="2.5"/><circle cx="533.8" cy="435.1" r="2.5"/><circle cx="535.1" cy="435.6" r="2.5"/><circle cx="536.0" cy="435.6" r="2.5"/><circle cx="536.7" cy="438.0" r="2.5"/><circle cx="537.8" cy="434.3" r="2.5"/><circle cx="538.8" cy="435.4" r="2.5"/><circle cx="540.7" cy="436.0" r="2.5"/><circle cx="541.5" cy="434.7" r="2.5"/><circle cx="542.4" cy="436.5" r="2.5"/><circle cx="543.9" cy="435.0" r="2.5"/><circle cx="544.7" cy="436.1" r="2.5"/><circle cx="545.3" cy="435.8" r="2.5"/><circle cx="546.6" cy="433.3" r="2.5"/><circle cx="548.0" cy="436.4" r="2.5"/><circle cx="548.8" cy="434.4" r="2.5"/><circle cx="550.4" cy="436.1" r="2.5"/><circle cx="551.4" cy="437.4" r="2.5"/><circle cx="552.0" cy="436.8" r="2.5"/><circle cx="553.2" cy="435.8" r="2.5"/><circle cx="554.4" cy="435.9" r="2.5"/><circle cx="555.8" cy="436.0" r="2.5"/><circle cx="556.6" cy="435.6" r="2.5"/><circle cx="557.8" cy="434.9" r="2.5"/><circle cx="558.6" cy="435.9" r="2.5"/><circle cx="559.7" cy="435.8" r="2.5"/><circle cx="560.8" cy="438.2" r="2.5"/><circle cx="562.5" cy="436.5" r="2.5"/><circle cx="563.2" cy="438.4" r="2.5"/><circle cx="564.4" cy="435.9" r="2.5"/><circle cx="565.5" cy="436.3" r="2.5"/><circle cx="566.9" cy="436.0" r="2.5"/><circle cx="568.2" cy="435.0" r="2.5"/><circle cx="568.9" cy="434.9" r="2.5"/><circle cx="570.3" cy="435.7" r="2.5"/><circle cx="570.9" cy="437.1" r="2.5"/><circle cx="572.4" cy="434.8" r="2.5"/><circle cx="573.0" cy="434.5" r="2.5"/><circle cx="574.2" cy="436.0" r="2.5"/><circle cx="575.2" cy="435.3" r="2.5"/><circle cx="576.3" cy="435.3" r="2.5"/><circle cx="577.7" cy="437.8" r="2.5"/><circle cx="578.0" cy="436.0" r="2.5"/><circle cx="579.6" cy="436.7" r="2.5"/><circle cx="580.5" cy="436.0" r="2.5"/><circle cx="581.6" cy="436.9" r="2.5"/><circle cx="583.0" cy="436.0" r="2.5"/><circle cx="584.2" cy="435.9" r="2.5"/><circle cx="584.7" cy="436.8" r="2.5"/><circle cx="586.4" cy="436.0" r="2.5"/><circle cx="587.7" cy="437.5" r="2.5"/><circle cx="588.2" cy="435.3" r="2.5"/><circle cx="590.1" cy="437.8" r="2.5"/><circle cx="590.5" cy="434.9" r="2.5"/><circle cx="591.6" cy="435.7" r="2.5"/><circle cx="592.4" cy="436.3" r="2.5"/><circle cx="593.6" cy="434.9" r="2.5"/><circle cx="595.4" cy="435.5" r="2.5"/><circle cx="596.2" cy="437.0" r="2.5"/><circle cx="597.5" cy="435.9" r="2.5"/><circle cx="598.4" cy="435.4" r="2.5"/><circle cx="600.0" cy="437.0" r="2.5"/><circle cx="600.3" cy="436.3" r="2.5"/><circle cx="601.9" cy="436.9" r="2.5"/><circle cx="603.3" cy="437.9" r="2.5"/><circle cx="603.7" cy="436.3" r="2.5"/><circle cx="604.6" cy="436.7" r="2.5"/><circle cx="606.1" cy="439.5" r="2.5"/><circle cx="607.2" cy="434.2" r="2.5"/><circle cx="608.1" cy="436.7" r="2.5"/><circle cx="609.0" cy="435.7" r="2.5"/><circle cx="610.4" cy="437.0" r="2.5"/><circle cx="611.6" cy="435.7" r="2.5"/><circle cx="612.9" cy="436.1" r="2.5"/><circle cx="613.7" cy="435.2" r="2.5"/><circle cx="614.7" cy="437.5" r="2.5"/><circle cx="615.5" cy="436.7" r="2.5"/><circle cx="617.3" cy="436.4" r="2.5"/><circle cx="618.3" cy="435.7" r="2.5"/><circle cx="619.7" cy="438.1" r="2.5"/><circle cx="620.5" cy="435.0" r="2.5"/><circle cx="621.2" cy="438.1" r="2.5"/><circle cx="623.1" cy="437.4" r="2.5"/><circle cx="624.1" cy="436.4" r="2.5"/><circle cx="624.7" cy="437.1" r="2.5"/><circle cx="626.0" cy="435.5" r="2.5"/><circle cx="627.3" cy="438.6" r="2.5"/><circle cx="627.8" cy="435.7" r="2.5"/><circle cx="629.3" cy="436.5" r="2.5"/><circle cx="629.6" cy="438.2" r="2.5"/><circle cx="631.4" cy="436.8" r="2.5"/><circle cx="633.1" cy="437.5" r="2.5"/><circle cx="633.4" cy="437.5" r="2.5"/><circle cx="634.4" cy="436.6" r="2.5"/><circle cx="635.9" cy="436.9" r="2.5"/><circle cx="636.8" cy="439.3" r="2.5"/><circle cx="638.3" cy="438.4" r="2.5"/><circle cx="639.3" cy="438.1" r="2.5"/><circle cx="640.6" cy="437.6" r="2.5"/><circle cx="641.9" cy="436.7" r="2.5"/><circle cx="642.3" cy="436.3" r="2.5"/><circle cx="643.4" cy="438.5" r="2.5"/><circle cx="645.0" cy="437.4" r="2.5"/><circle cx="645.7" cy="437.8" r="2.5"/><circle cx="646.6" cy="437.0" r="2.5"/><circle cx="647.9" cy="436.5" r="2.5"/><circle cx="649.0" cy="438.6" r="2.5"/><circle cx="649.9" cy="437.6" r="2.5"/><circle cx="650.8" cy="440.9" r="2.5"/><circle cx="651.9" cy="440.6" r="2.5"/></g>
<line x1="37.3" y1="439.5" x2="677" y2="439.5" stroke="#3a3a3a" stroke-width="1.2" stroke-dasharray="3 2"/>
<path d="M37.3,417.0 H682.4 V541.8 H37.3 Z" fill="none" stroke="#161212" stroke-width="1.3"/>
<line x1="33.699999999999996" y1="541.7" x2="37.3" y2="541.7" stroke="#161212" stroke-width="1.2" />
<text x="22.6" y="545.6" font-size="10.8" text-anchor="middle" fill="#161212" stroke="#161212" stroke-width="0.28" >0.0</text>
<line x1="35.099999999999994" y1="530.34" x2="37.3" y2="530.34" stroke="#161212" stroke-width="1.2" />
<line x1="33.699999999999996" y1="518.98" x2="37.3" y2="518.98" stroke="#161212" stroke-width="1.2" />
<text x="22.6" y="522.88" font-size="10.8" text-anchor="middle" fill="#161212" stroke="#161212" stroke-width="0.28" >0.2</text>
<line x1="35.099999999999994" y1="507.62000000000006" x2="37.3" y2="507.62000000000006" stroke="#161212" stroke-width="1.2" />
<line x1="33.699999999999996" y1="496.26000000000005" x2="37.3" y2="496.26000000000005" stroke="#161212" stroke-width="1.2" />
<text x="22.6" y="500.16" font-size="10.8" text-anchor="middle" fill="#161212" stroke="#161212" stroke-width="0.28" >0.4</text>
<line x1="35.099999999999994" y1="484.90000000000003" x2="37.3" y2="484.90000000000003" stroke="#161212" stroke-width="1.2" />
<line x1="33.699999999999996" y1="473.5400000000001" x2="37.3" y2="473.5400000000001" stroke="#161212" stroke-width="1.2" />
<text x="22.6" y="477.44000000000005" font-size="10.8" text-anchor="middle" fill="#161212" stroke="#161212" stroke-width="0.28" >0.6</text>
<line x1="35.099999999999994" y1="462.18000000000006" x2="37.3" y2="462.18000000000006" stroke="#161212" stroke-width="1.2" />
<line x1="33.699999999999996" y1="450.82000000000005" x2="37.3" y2="450.82000000000005" stroke="#161212" stroke-width="1.2" />
<text x="22.6" y="454.72" font-size="10.8" text-anchor="middle" fill="#161212" stroke="#161212" stroke-width="0.28" >0.8</text>
<line x1="35.099999999999994" y1="439.46000000000004" x2="37.3" y2="439.46000000000004" stroke="#161212" stroke-width="1.2" />
<line x1="33.699999999999996" y1="428.1" x2="37.3" y2="428.1" stroke="#161212" stroke-width="1.2" />
<text x="22.6" y="432.0" font-size="10.8" text-anchor="middle" fill="#161212" stroke="#161212" stroke-width="0.28" >1.0</text>
<line x1="106.75" y1="541.8" x2="106.75" y2="544.3" stroke="#161212" stroke-width="1.2" />
<line x1="178.7" y1="541.8" x2="178.7" y2="545.8" stroke="#161212" stroke-width="1.2" />
<text x="178.6" y="560.0" font-size="11.3" text-anchor="middle" fill="#161212" stroke="#161212" stroke-width="0.28" >200</text>
<line x1="250.65000000000003" y1="541.8" x2="250.65000000000003" y2="544.3" stroke="#161212" stroke-width="1.2" />
<line x1="322.6" y1="541.8" x2="322.6" y2="545.8" stroke="#161212" stroke-width="1.2" />
<text x="320.1" y="560.0" font-size="11.3" text-anchor="middle" fill="#161212" stroke="#161212" stroke-width="0.28" >400</text>
<line x1="394.55" y1="541.8" x2="394.55" y2="544.3" stroke="#161212" stroke-width="1.2" />
<line x1="466.50000000000006" y1="541.8" x2="466.50000000000006" y2="545.8" stroke="#161212" stroke-width="1.2" />
<text x="464.5" y="560.0" font-size="11.3" text-anchor="middle" fill="#161212" stroke="#161212" stroke-width="0.28" >600</text>
<line x1="538.45" y1="541.8" x2="538.45" y2="544.3" stroke="#161212" stroke-width="1.2" />
<line x1="610.4" y1="541.8" x2="610.4" y2="545.8" stroke="#161212" stroke-width="1.2" />
<text x="606.5" y="560.0" font-size="11.3" text-anchor="middle" fill="#161212" stroke="#161212" stroke-width="0.28" >800</text>
<line x1="682.35" y1="541.8" x2="682.35" y2="544.3" stroke="#161212" stroke-width="1.2" />
<text x="391.5" y="568" font-size="11.6" text-anchor="middle" fill="#231815" stroke="#231815" stroke-width="0.28" >Time (h)</text>
<text x="11.2" y="477.8" font-size="12.4" text-anchor="middle" fill="#231815" stroke="#231815" stroke-width="0.28" transform="rotate(-90 11.2 477.8)" >Normalized PCE</text>
<text x="224.6" y="497.8" font-size="11.95" text-anchor="start" fill="#231815" stroke="#231815" stroke-width="0.28" >ISOS-L-1 MPPT</text>
<text x="224.6" y="512.9" font-size="11.95" text-anchor="start" fill="#231815" stroke="#231815" stroke-width="0.28" >Encapsulated Devices</text>
<text x="224.6" y="528" font-size="11.95" text-anchor="start" fill="#231815" stroke="#231815" stroke-width="0.28" >Under 1-sun illumination in ambient air</text>
<text x="166" y="508.8" font-size="11.6" text-anchor="start" fill="#7f9bc6" stroke="#7f9bc6" stroke-width="0.28" >40%</text>
<text x="497" y="473.8" font-size="11.6" text-anchor="start" fill="#e8964f" stroke="#e8964f" stroke-width="0.28" >66%</text>
<text x="613" y="457.8" font-size="11.3" text-anchor="start" fill="#b41f4b" stroke="#b41f4b" stroke-width="0.28" >T<tspan font-size="6.3" dy="3.4">90</tspan><tspan dy="-3.4" dx="-0.8"> &gt; 800 h</tspan></text>
<circle cx="517.8" cy="486" r="4" fill="#db4a6f"/>
<text x="529.8" y="489.8" font-size="11.6" text-anchor="start" fill="#231815" stroke="#231815" stroke-width="0.28" >Control</text>
<circle cx="517.8" cy="501.6" r="4" fill="#e8964f"/>
<text x="529.8" y="505.40000000000003" font-size="11.6" text-anchor="start" fill="#231815" stroke="#231815" stroke-width="0.28" >AD</text>
<circle cx="517.8" cy="516.9" r="4" fill="#7f9bc6"/>
<text x="529.8" y="520.6999999999999" font-size="11.6" text-anchor="start" fill="#231815" stroke="#231815" stroke-width="0.28" >OPD</text>
</svg></body></html>
